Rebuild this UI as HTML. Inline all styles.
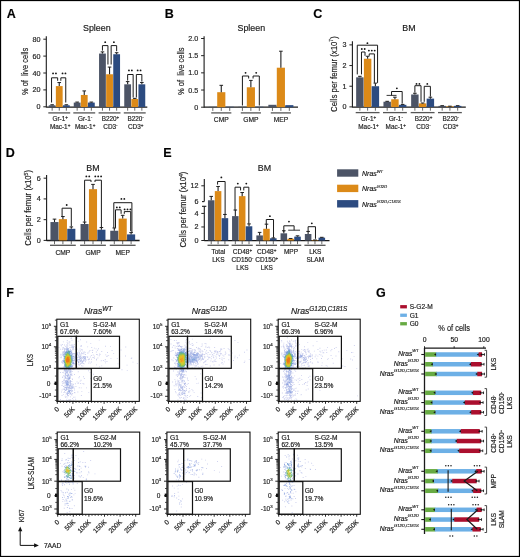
<!DOCTYPE html>
<html><head><meta charset="utf-8"><style>
html,body{margin:0;padding:0;background:#fff;}
body{width:520px;height:557px;overflow:hidden;}
svg{display:block;will-change:transform;}
text{stroke:#222;stroke-width:0.18px;}
</style></head><body>
<svg width="520" height="557" viewBox="0 0 520 557" font-family="Liberation Sans, sans-serif">
<rect x="0" y="0" width="520" height="557" fill="#fff"/>
<text x="6.7" y="17.5" font-family="Liberation Sans" font-size="12.5" fill="#000" text-anchor="start" font-weight="bold" >A</text>
<text x="96.8" y="30.8" font-family="Liberation Sans" font-size="8.9" fill="#1a1a1a" text-anchor="middle" >Spleen</text>
<line x1="46.3" y1="36.2" x2="46.3" y2="107.5" stroke="#1a1a1a" stroke-width="1.1" />
<line x1="43.3" y1="106.8" x2="46.3" y2="106.8" stroke="#222" stroke-width="1.0" />
<text x="40.4" y="109.3" font-family="Liberation Sans" font-size="7.2" fill="#262626" text-anchor="end" >0</text>
<line x1="43.3" y1="89.9" x2="46.3" y2="89.9" stroke="#222" stroke-width="1.0" />
<text x="40.4" y="92.4" font-family="Liberation Sans" font-size="7.2" fill="#262626" text-anchor="end" >20</text>
<line x1="43.3" y1="73" x2="46.3" y2="73" stroke="#222" stroke-width="1.0" />
<text x="40.4" y="75.5" font-family="Liberation Sans" font-size="7.2" fill="#262626" text-anchor="end" >40</text>
<line x1="43.3" y1="56.1" x2="46.3" y2="56.1" stroke="#222" stroke-width="1.0" />
<text x="40.4" y="58.6" font-family="Liberation Sans" font-size="7.2" fill="#262626" text-anchor="end" >60</text>
<line x1="43.3" y1="39.2" x2="46.3" y2="39.2" stroke="#222" stroke-width="1.0" />
<text x="40.4" y="41.7" font-family="Liberation Sans" font-size="7.2" fill="#262626" text-anchor="end" >80</text>
<text transform="translate(27.6,95) rotate(-90)" font-family="Liberation Sans" font-size="9" fill="#262626" text-anchor="start" textLength="47.2" lengthAdjust="spacingAndGlyphs" >% of&#160; live cells</text>
<line x1="46.3" y1="107.2" x2="147.3" y2="107.2" stroke="#1a1a1a" stroke-width="1.3" />
<rect x="48.75" y="105.28" width="6.8" height="1.72" fill="#4c5466" stroke="none" stroke-width="0"/>
<line x1="52.15" y1="105.28" x2="52.15" y2="104.77" stroke="#1f1f1f" stroke-width="1.1" />
<line x1="50.35" y1="104.77" x2="53.95" y2="104.77" stroke="#1f1f1f" stroke-width="1.0" />
<rect x="55.85" y="86.1" width="6.8" height="20.9" fill="#dc8a18" stroke="none" stroke-width="0"/>
<line x1="59.25" y1="86.1" x2="59.25" y2="82.55" stroke="#1f1f1f" stroke-width="1.1" />
<line x1="57.45" y1="82.55" x2="61.05" y2="82.55" stroke="#1f1f1f" stroke-width="1.0" />
<rect x="62.95" y="105.28" width="6.8" height="1.72" fill="#2c4b80" stroke="none" stroke-width="0"/>
<line x1="66.35" y1="105.28" x2="66.35" y2="104.77" stroke="#1f1f1f" stroke-width="1.1" />
<line x1="64.55" y1="104.77" x2="68.15" y2="104.77" stroke="#1f1f1f" stroke-width="1.0" />
<line x1="52.15" y1="107.5" x2="52.15" y2="110.7" stroke="#444" stroke-width="0.8" />
<line x1="59.25" y1="107.5" x2="59.25" y2="110.7" stroke="#444" stroke-width="0.8" />
<line x1="66.35" y1="107.5" x2="66.35" y2="110.7" stroke="#444" stroke-width="0.8" />
<line x1="48.3" y1="112.9" x2="70.2" y2="112.9" stroke="#555" stroke-width="1.3" />
<rect x="73.75" y="102.58" width="6.8" height="4.42" fill="#4c5466" stroke="none" stroke-width="0"/>
<line x1="77.15" y1="102.58" x2="77.15" y2="102.07" stroke="#1f1f1f" stroke-width="1.1" />
<line x1="75.35" y1="102.07" x2="78.95" y2="102.07" stroke="#1f1f1f" stroke-width="1.0" />
<rect x="80.85" y="94.97" width="6.8" height="12.03" fill="#dc8a18" stroke="none" stroke-width="0"/>
<line x1="84.25" y1="94.97" x2="84.25" y2="90.91" stroke="#1f1f1f" stroke-width="1.1" />
<line x1="82.45" y1="90.91" x2="86.05" y2="90.91" stroke="#1f1f1f" stroke-width="1.0" />
<rect x="87.95" y="102.58" width="6.8" height="4.42" fill="#2c4b80" stroke="none" stroke-width="0"/>
<line x1="91.35" y1="102.58" x2="91.35" y2="102.07" stroke="#1f1f1f" stroke-width="1.1" />
<line x1="89.55" y1="102.07" x2="93.15" y2="102.07" stroke="#1f1f1f" stroke-width="1.0" />
<line x1="77.15" y1="107.5" x2="77.15" y2="110.7" stroke="#444" stroke-width="0.8" />
<line x1="84.25" y1="107.5" x2="84.25" y2="110.7" stroke="#444" stroke-width="0.8" />
<line x1="91.35" y1="107.5" x2="91.35" y2="110.7" stroke="#444" stroke-width="0.8" />
<line x1="73.3" y1="112.9" x2="95.2" y2="112.9" stroke="#555" stroke-width="1.3" />
<rect x="99.05" y="53.56" width="6.8" height="53.44" fill="#4c5466" stroke="none" stroke-width="0"/>
<line x1="102.45" y1="53.56" x2="102.45" y2="51.88" stroke="#1f1f1f" stroke-width="1.1" />
<line x1="100.65" y1="51.88" x2="104.25" y2="51.88" stroke="#1f1f1f" stroke-width="1.0" />
<rect x="106.15" y="74.27" width="6.8" height="32.73" fill="#dc8a18" stroke="none" stroke-width="0"/>
<line x1="109.55" y1="74.27" x2="109.55" y2="67.09" stroke="#1f1f1f" stroke-width="1.1" />
<line x1="107.75" y1="67.09" x2="111.35" y2="67.09" stroke="#1f1f1f" stroke-width="1.0" />
<rect x="113.25" y="54.24" width="6.8" height="52.76" fill="#2c4b80" stroke="none" stroke-width="0"/>
<line x1="116.65" y1="54.24" x2="116.65" y2="52.72" stroke="#1f1f1f" stroke-width="1.1" />
<line x1="114.85" y1="52.72" x2="118.45" y2="52.72" stroke="#1f1f1f" stroke-width="1.0" />
<line x1="102.45" y1="107.5" x2="102.45" y2="110.7" stroke="#444" stroke-width="0.8" />
<line x1="109.55" y1="107.5" x2="109.55" y2="110.7" stroke="#444" stroke-width="0.8" />
<line x1="116.65" y1="107.5" x2="116.65" y2="110.7" stroke="#444" stroke-width="0.8" />
<line x1="98.6" y1="112.9" x2="120.5" y2="112.9" stroke="#555" stroke-width="1.3" />
<rect x="124.25" y="84.32" width="6.8" height="22.68" fill="#4c5466" stroke="none" stroke-width="0"/>
<line x1="127.65" y1="84.32" x2="127.65" y2="81.62" stroke="#1f1f1f" stroke-width="1.1" />
<line x1="125.85" y1="81.62" x2="129.45" y2="81.62" stroke="#1f1f1f" stroke-width="1.0" />
<rect x="131.35" y="99.03" width="6.8" height="7.97" fill="#dc8a18" stroke="none" stroke-width="0"/>
<line x1="134.75" y1="99.03" x2="134.75" y2="98.35" stroke="#1f1f1f" stroke-width="1.1" />
<line x1="132.95" y1="98.35" x2="136.55" y2="98.35" stroke="#1f1f1f" stroke-width="1.0" />
<rect x="138.45" y="84.32" width="6.8" height="22.68" fill="#2c4b80" stroke="none" stroke-width="0"/>
<line x1="141.85" y1="84.32" x2="141.85" y2="82.46" stroke="#1f1f1f" stroke-width="1.1" />
<line x1="140.05" y1="82.46" x2="143.65" y2="82.46" stroke="#1f1f1f" stroke-width="1.0" />
<line x1="127.65" y1="107.5" x2="127.65" y2="110.7" stroke="#444" stroke-width="0.8" />
<line x1="134.75" y1="107.5" x2="134.75" y2="110.7" stroke="#444" stroke-width="0.8" />
<line x1="141.85" y1="107.5" x2="141.85" y2="110.7" stroke="#444" stroke-width="0.8" />
<line x1="123.8" y1="112.9" x2="145.7" y2="112.9" stroke="#555" stroke-width="1.3" />
<polyline points="51.55,102.5 51.55,77.8 57.65,77.8 57.65,80.8" fill="none" stroke="#1a1a1a" stroke-width="1.0"/>
<circle cx="53.05" cy="73.4" r="0.92" fill="#161616"/>
<circle cx="55.95" cy="73.4" r="0.92" fill="#161616"/>
<polyline points="60.85,80.8 60.85,77.8 65.75,77.8 65.75,102.5" fill="none" stroke="#1a1a1a" stroke-width="1.0"/>
<circle cx="62.55" cy="73.4" r="0.92" fill="#161616"/>
<circle cx="65.45" cy="73.4" r="0.92" fill="#161616"/>
<polyline points="102.45,50.6 102.45,45.6 107.95,45.6 107.95,64.5" fill="none" stroke="#1a1a1a" stroke-width="1.0"/>
<circle cx="105.2" cy="42.2" r="0.92" fill="#161616"/>
<polyline points="111.15,64.5 111.15,45.6 116.65,45.6 116.65,51.2" fill="none" stroke="#1a1a1a" stroke-width="1.0"/>
<circle cx="113.9" cy="42.2" r="0.92" fill="#161616"/>
<polyline points="127.65,80.6 127.65,74.5 133.15,74.5 133.15,97.5" fill="none" stroke="#1a1a1a" stroke-width="1.0"/>
<circle cx="128.95" cy="70.4" r="0.92" fill="#161616"/>
<circle cx="131.85" cy="70.4" r="0.92" fill="#161616"/>
<polyline points="136.35,97.5 136.35,74.5 141.85,74.5 141.85,81.5" fill="none" stroke="#1a1a1a" stroke-width="1.0"/>
<circle cx="137.65" cy="70.4" r="0.92" fill="#161616"/>
<circle cx="140.55" cy="70.4" r="0.92" fill="#161616"/>
<text x="60.15" y="121.4" font-family="Liberation Sans" font-size="6.4" fill="#262626" text-anchor="middle" >Gr-1<tspan font-size="4.6" dy="-2.3">+</tspan></text>
<text x="60.15" y="128.9" font-family="Liberation Sans" font-size="6.4" fill="#262626" text-anchor="middle" >Mac-1<tspan font-size="4.6" dy="-2.3">+</tspan></text>
<text x="85.15" y="121.4" font-family="Liberation Sans" font-size="6.4" fill="#262626" text-anchor="middle" >Gr-1<tspan font-size="4.6" dy="-2.3">-</tspan></text>
<text x="85.15" y="128.9" font-family="Liberation Sans" font-size="6.4" fill="#262626" text-anchor="middle" >Mac-1<tspan font-size="4.6" dy="-2.3">+</tspan></text>
<text x="110.45" y="121.4" font-family="Liberation Sans" font-size="6.4" fill="#262626" text-anchor="middle" >B220<tspan font-size="4.6" dy="-2.3">+</tspan></text>
<text x="110.45" y="128.9" font-family="Liberation Sans" font-size="6.4" fill="#262626" text-anchor="middle" >CD3<tspan font-size="4.6" dy="-2.3">-</tspan></text>
<text x="135.65" y="121.4" font-family="Liberation Sans" font-size="6.4" fill="#262626" text-anchor="middle" >B220<tspan font-size="4.6" dy="-2.3">-</tspan></text>
<text x="135.65" y="128.9" font-family="Liberation Sans" font-size="6.4" fill="#262626" text-anchor="middle" >CD3<tspan font-size="4.6" dy="-2.3">+</tspan></text>
<text x="164.8" y="17.5" font-family="Liberation Sans" font-size="12.5" fill="#000" text-anchor="start" font-weight="bold" >B</text>
<text x="251.3" y="30.8" font-family="Liberation Sans" font-size="8.9" fill="#1a1a1a" text-anchor="middle" >Spleen</text>
<line x1="204.1" y1="36.2" x2="204.1" y2="107.7" stroke="#1a1a1a" stroke-width="1.1" />
<line x1="201.1" y1="107.2" x2="204.1" y2="107.2" stroke="#222" stroke-width="1.0" />
<text x="198.2" y="109.7" font-family="Liberation Sans" font-size="7.2" fill="#262626" text-anchor="end" >0</text>
<line x1="201.1" y1="90.03" x2="204.1" y2="90.03" stroke="#222" stroke-width="1.0" />
<text x="198.2" y="92.53" font-family="Liberation Sans" font-size="7.2" fill="#262626" text-anchor="end" >0.5</text>
<line x1="201.1" y1="72.85" x2="204.1" y2="72.85" stroke="#222" stroke-width="1.0" />
<text x="198.2" y="75.35" font-family="Liberation Sans" font-size="7.2" fill="#262626" text-anchor="end" >1.0</text>
<line x1="201.1" y1="55.67" x2="204.1" y2="55.67" stroke="#222" stroke-width="1.0" />
<text x="198.2" y="58.17" font-family="Liberation Sans" font-size="7.2" fill="#262626" text-anchor="end" >1.5</text>
<line x1="201.1" y1="38.5" x2="204.1" y2="38.5" stroke="#222" stroke-width="1.0" />
<text x="198.2" y="41" font-family="Liberation Sans" font-size="7.2" fill="#262626" text-anchor="end" >2.0</text>
<text transform="translate(183.6,94.9) rotate(-90)" font-family="Liberation Sans" font-size="9" fill="#262626" text-anchor="start" textLength="47.4" lengthAdjust="spacingAndGlyphs" >% of&#160; live cells</text>
<line x1="204.1" y1="107.2" x2="298" y2="107.2" stroke="#1a1a1a" stroke-width="1.3" />
<rect x="208.75" y="106.79" width="8.15" height="0.41" fill="#4c5466" stroke="none" stroke-width="0"/>
<rect x="217.2" y="92.19" width="8.15" height="15.01" fill="#dc8a18" stroke="none" stroke-width="0"/>
<line x1="221.27" y1="92.19" x2="221.27" y2="85.32" stroke="#1f1f1f" stroke-width="1.1" />
<line x1="219.47" y1="85.32" x2="223.07" y2="85.32" stroke="#1f1f1f" stroke-width="1.0" />
<rect x="225.65" y="106.79" width="8.15" height="0.41" fill="#2c4b80" stroke="none" stroke-width="0"/>
<line x1="212.82" y1="107.7" x2="212.82" y2="110.9" stroke="#444" stroke-width="0.8" />
<line x1="221.27" y1="107.7" x2="221.27" y2="110.9" stroke="#444" stroke-width="0.8" />
<line x1="229.72" y1="107.7" x2="229.72" y2="110.9" stroke="#444" stroke-width="0.8" />
<line x1="211.2" y1="112.9" x2="231.35" y2="112.9" stroke="#555" stroke-width="1.3" />
<rect x="238.35" y="106.79" width="8.15" height="0.41" fill="#4c5466" stroke="none" stroke-width="0"/>
<rect x="246.8" y="87.28" width="8.15" height="19.92" fill="#dc8a18" stroke="none" stroke-width="0"/>
<line x1="250.87" y1="87.28" x2="250.87" y2="80.41" stroke="#1f1f1f" stroke-width="1.1" />
<line x1="249.07" y1="80.41" x2="252.67" y2="80.41" stroke="#1f1f1f" stroke-width="1.0" />
<rect x="255.25" y="106.79" width="8.15" height="0.41" fill="#2c4b80" stroke="none" stroke-width="0"/>
<line x1="242.42" y1="107.7" x2="242.42" y2="110.9" stroke="#444" stroke-width="0.8" />
<line x1="250.87" y1="107.7" x2="250.87" y2="110.9" stroke="#444" stroke-width="0.8" />
<line x1="259.32" y1="107.7" x2="259.32" y2="110.9" stroke="#444" stroke-width="0.8" />
<line x1="240.8" y1="112.9" x2="260.95" y2="112.9" stroke="#555" stroke-width="1.3" />
<rect x="268.35" y="104.8" width="8.15" height="2.4" fill="#4c5466" stroke="none" stroke-width="0"/>
<rect x="276.8" y="67.7" width="8.15" height="39.5" fill="#dc8a18" stroke="none" stroke-width="0"/>
<line x1="280.88" y1="67.7" x2="280.88" y2="51.21" stroke="#1f1f1f" stroke-width="1.1" />
<line x1="279.07" y1="51.21" x2="282.68" y2="51.21" stroke="#1f1f1f" stroke-width="1.0" />
<rect x="285.25" y="105.14" width="8.15" height="2.06" fill="#2c4b80" stroke="none" stroke-width="0"/>
<line x1="272.43" y1="107.7" x2="272.43" y2="110.9" stroke="#444" stroke-width="0.8" />
<line x1="280.88" y1="107.7" x2="280.88" y2="110.9" stroke="#444" stroke-width="0.8" />
<line x1="289.32" y1="107.7" x2="289.32" y2="110.9" stroke="#444" stroke-width="0.8" />
<line x1="270.8" y1="112.9" x2="290.95" y2="112.9" stroke="#555" stroke-width="1.3" />
<polyline points="242.42,105.5 242.42,76 248.67,76 248.67,78.5" fill="none" stroke="#1a1a1a" stroke-width="1.0"/>
<circle cx="245.55" cy="72.8" r="0.92" fill="#161616"/>
<polyline points="253.07,78.5 253.07,76 259.32,76 259.32,105.5" fill="none" stroke="#1a1a1a" stroke-width="1.0"/>
<circle cx="256.2" cy="72.8" r="0.92" fill="#161616"/>
<text x="221.27" y="121.6" font-family="Liberation Sans" font-size="6.7" fill="#262626" text-anchor="middle" >CMP</text>
<text x="250.87" y="121.6" font-family="Liberation Sans" font-size="6.7" fill="#262626" text-anchor="middle" >GMP</text>
<text x="280.88" y="121.6" font-family="Liberation Sans" font-size="6.7" fill="#262626" text-anchor="middle" >MEP</text>
<text x="313.3" y="17.5" font-family="Liberation Sans" font-size="12.5" fill="#000" text-anchor="start" font-weight="bold" >C</text>
<text x="409" y="30.8" font-family="Liberation Sans" font-size="8.9" fill="#1a1a1a" text-anchor="middle" >BM</text>
<line x1="352.4" y1="41.3" x2="352.4" y2="107.5" stroke="#1a1a1a" stroke-width="1.1" />
<line x1="349.4" y1="106.9" x2="352.4" y2="106.9" stroke="#222" stroke-width="1.0" />
<text x="346.5" y="109.4" font-family="Liberation Sans" font-size="7.2" fill="#262626" text-anchor="end" >0</text>
<line x1="349.4" y1="86.23" x2="352.4" y2="86.23" stroke="#222" stroke-width="1.0" />
<text x="346.5" y="88.73" font-family="Liberation Sans" font-size="7.2" fill="#262626" text-anchor="end" >1</text>
<line x1="349.4" y1="65.56" x2="352.4" y2="65.56" stroke="#222" stroke-width="1.0" />
<text x="346.5" y="68.06" font-family="Liberation Sans" font-size="7.2" fill="#262626" text-anchor="end" >2</text>
<line x1="349.4" y1="44.89" x2="352.4" y2="44.89" stroke="#222" stroke-width="1.0" />
<text x="346.5" y="47.39" font-family="Liberation Sans" font-size="7.2" fill="#262626" text-anchor="end" >3</text>
<text transform="translate(336.6,112) rotate(-90)" font-family="Liberation Sans" font-size="9.3" fill="#222" text-anchor="start" textLength="75.8" lengthAdjust="spacingAndGlyphs" >Cells per femur (x10<tspan font-size="6.0" dy="-3.8">7</tspan><tspan dy="3.8">)</tspan></text>
<line x1="352.4" y1="107.1" x2="465.8" y2="107.1" stroke="#1a1a1a" stroke-width="1.3" />
<rect x="356.15" y="77.34" width="7.45" height="29.66" fill="#4c5466" stroke="none" stroke-width="0"/>
<line x1="359.88" y1="77.34" x2="359.88" y2="76.31" stroke="#1f1f1f" stroke-width="1.1" />
<line x1="358.07" y1="76.31" x2="361.68" y2="76.31" stroke="#1f1f1f" stroke-width="1.0" />
<rect x="363.9" y="58.74" width="7.45" height="48.26" fill="#dc8a18" stroke="none" stroke-width="0"/>
<line x1="367.62" y1="58.74" x2="367.62" y2="56.26" stroke="#1f1f1f" stroke-width="1.1" />
<line x1="365.82" y1="56.26" x2="369.43" y2="56.26" stroke="#1f1f1f" stroke-width="1.0" />
<rect x="371.65" y="86.23" width="7.45" height="20.77" fill="#2c4b80" stroke="none" stroke-width="0"/>
<line x1="375.38" y1="86.23" x2="375.38" y2="83.13" stroke="#1f1f1f" stroke-width="1.1" />
<line x1="373.57" y1="83.13" x2="377.18" y2="83.13" stroke="#1f1f1f" stroke-width="1.0" />
<line x1="359.88" y1="107.5" x2="359.88" y2="110.7" stroke="#444" stroke-width="0.8" />
<line x1="367.62" y1="107.5" x2="367.62" y2="110.7" stroke="#444" stroke-width="0.8" />
<line x1="375.38" y1="107.5" x2="375.38" y2="110.7" stroke="#444" stroke-width="0.8" />
<line x1="355.7" y1="112.6" x2="379.55" y2="112.6" stroke="#555" stroke-width="1.3" />
<rect x="383.45" y="101.73" width="7.45" height="5.27" fill="#4c5466" stroke="none" stroke-width="0"/>
<line x1="387.18" y1="101.73" x2="387.18" y2="101.32" stroke="#1f1f1f" stroke-width="1.1" />
<line x1="385.38" y1="101.32" x2="388.98" y2="101.32" stroke="#1f1f1f" stroke-width="1.0" />
<rect x="391.2" y="99.25" width="7.45" height="7.75" fill="#dc8a18" stroke="none" stroke-width="0"/>
<line x1="394.93" y1="99.25" x2="394.93" y2="97.19" stroke="#1f1f1f" stroke-width="1.1" />
<line x1="393.12" y1="97.19" x2="396.73" y2="97.19" stroke="#1f1f1f" stroke-width="1.0" />
<rect x="398.95" y="104.83" width="7.45" height="2.17" fill="#2c4b80" stroke="none" stroke-width="0"/>
<line x1="402.68" y1="104.83" x2="402.68" y2="104.42" stroke="#1f1f1f" stroke-width="1.1" />
<line x1="400.88" y1="104.42" x2="404.48" y2="104.42" stroke="#1f1f1f" stroke-width="1.0" />
<line x1="387.18" y1="107.5" x2="387.18" y2="110.7" stroke="#444" stroke-width="0.8" />
<line x1="394.93" y1="107.5" x2="394.93" y2="110.7" stroke="#444" stroke-width="0.8" />
<line x1="402.68" y1="107.5" x2="402.68" y2="110.7" stroke="#444" stroke-width="0.8" />
<line x1="383" y1="112.6" x2="406.85" y2="112.6" stroke="#555" stroke-width="1.3" />
<rect x="411.15" y="94.5" width="7.45" height="12.5" fill="#4c5466" stroke="none" stroke-width="0"/>
<line x1="414.88" y1="94.5" x2="414.88" y2="93.26" stroke="#1f1f1f" stroke-width="1.1" />
<line x1="413.07" y1="93.26" x2="416.68" y2="93.26" stroke="#1f1f1f" stroke-width="1.0" />
<rect x="418.9" y="103.39" width="7.45" height="3.61" fill="#dc8a18" stroke="none" stroke-width="0"/>
<line x1="422.62" y1="103.39" x2="422.62" y2="102.97" stroke="#1f1f1f" stroke-width="1.1" />
<line x1="420.82" y1="102.97" x2="424.43" y2="102.97" stroke="#1f1f1f" stroke-width="1.0" />
<rect x="426.65" y="98.63" width="7.45" height="8.37" fill="#2c4b80" stroke="none" stroke-width="0"/>
<line x1="430.38" y1="98.63" x2="430.38" y2="97.19" stroke="#1f1f1f" stroke-width="1.1" />
<line x1="428.57" y1="97.19" x2="432.18" y2="97.19" stroke="#1f1f1f" stroke-width="1.0" />
<line x1="414.88" y1="107.5" x2="414.88" y2="110.7" stroke="#444" stroke-width="0.8" />
<line x1="422.62" y1="107.5" x2="422.62" y2="110.7" stroke="#444" stroke-width="0.8" />
<line x1="430.38" y1="107.5" x2="430.38" y2="110.7" stroke="#444" stroke-width="0.8" />
<line x1="410.7" y1="112.6" x2="434.55" y2="112.6" stroke="#555" stroke-width="1.3" />
<rect x="438.45" y="105.87" width="7.45" height="1.13" fill="#4c5466" stroke="none" stroke-width="0"/>
<line x1="442.18" y1="105.87" x2="442.18" y2="105.66" stroke="#1f1f1f" stroke-width="1.1" />
<line x1="440.38" y1="105.66" x2="443.98" y2="105.66" stroke="#1f1f1f" stroke-width="1.0" />
<rect x="446.2" y="106.38" width="7.45" height="0.62" fill="#dc8a18" stroke="none" stroke-width="0"/>
<line x1="449.93" y1="106.38" x2="449.93" y2="106.18" stroke="#1f1f1f" stroke-width="1.1" />
<line x1="448.12" y1="106.18" x2="451.73" y2="106.18" stroke="#1f1f1f" stroke-width="1.0" />
<rect x="453.95" y="105.87" width="7.45" height="1.13" fill="#2c4b80" stroke="none" stroke-width="0"/>
<line x1="457.68" y1="105.87" x2="457.68" y2="105.66" stroke="#1f1f1f" stroke-width="1.1" />
<line x1="455.88" y1="105.66" x2="459.48" y2="105.66" stroke="#1f1f1f" stroke-width="1.0" />
<line x1="442.18" y1="107.5" x2="442.18" y2="110.7" stroke="#444" stroke-width="0.8" />
<line x1="449.93" y1="107.5" x2="449.93" y2="110.7" stroke="#444" stroke-width="0.8" />
<line x1="457.68" y1="107.5" x2="457.68" y2="110.7" stroke="#444" stroke-width="0.8" />
<line x1="438" y1="112.6" x2="461.85" y2="112.6" stroke="#555" stroke-width="1.3" />
<polyline points="357.27,74.4 357.27,45.2 377.57,45.2 377.57,82.9" fill="none" stroke="#1a1a1a" stroke-width="1.0"/>
<circle cx="367.42" cy="43.2" r="0.92" fill="#161616"/>
<polyline points="361.48,74.4 361.48,52 365.02,52 365.02,55.8" fill="none" stroke="#1a1a1a" stroke-width="1.0"/>
<circle cx="361.8" cy="49" r="0.92" fill="#161616"/>
<circle cx="364.7" cy="49" r="0.92" fill="#161616"/>
<polyline points="369.23,55.8 369.23,53.9 374.38,53.9 374.38,82.9" fill="none" stroke="#1a1a1a" stroke-width="1.0"/>
<circle cx="368.9" cy="50.6" r="0.92" fill="#161616"/>
<circle cx="371.8" cy="50.6" r="0.92" fill="#161616"/>
<circle cx="374.7" cy="50.6" r="0.92" fill="#161616"/>
<line x1="386.57" y1="95.4" x2="396.53" y2="95.4" stroke="#222" stroke-width="0.9" />
<polyline points="391.55,95.4 391.55,91.5 402.18,91.5 402.18,103.6" fill="none" stroke="#1a1a1a" stroke-width="1.0"/>
<circle cx="396.86" cy="88.3" r="0.92" fill="#161616"/>
<polyline points="414.88,92.6 414.88,85.7 421.02,85.7 421.02,101.8" fill="none" stroke="#1a1a1a" stroke-width="1.0"/>
<circle cx="416.5" cy="83.9" r="0.92" fill="#161616"/>
<circle cx="419.4" cy="83.9" r="0.92" fill="#161616"/>
<polyline points="424.23,101.8 424.23,86.3 430.38,86.3 430.38,96.6" fill="none" stroke="#1a1a1a" stroke-width="1.0"/>
<circle cx="427.3" cy="83.9" r="0.92" fill="#161616"/>
<text x="368.52" y="121.4" font-family="Liberation Sans" font-size="6.4" fill="#262626" text-anchor="middle" >Gr-1<tspan font-size="4.6" dy="-2.3">+</tspan></text>
<text x="368.52" y="128.9" font-family="Liberation Sans" font-size="6.4" fill="#262626" text-anchor="middle" >Mac-1<tspan font-size="4.6" dy="-2.3">+</tspan></text>
<text x="395.82" y="121.4" font-family="Liberation Sans" font-size="6.4" fill="#262626" text-anchor="middle" >Gr-1<tspan font-size="4.6" dy="-2.3">-</tspan></text>
<text x="395.82" y="128.9" font-family="Liberation Sans" font-size="6.4" fill="#262626" text-anchor="middle" >Mac-1<tspan font-size="4.6" dy="-2.3">+</tspan></text>
<text x="423.52" y="121.4" font-family="Liberation Sans" font-size="6.4" fill="#262626" text-anchor="middle" >B220<tspan font-size="4.6" dy="-2.3">+</tspan></text>
<text x="423.52" y="128.9" font-family="Liberation Sans" font-size="6.4" fill="#262626" text-anchor="middle" >CD3<tspan font-size="4.6" dy="-2.3">-</tspan></text>
<text x="450.82" y="121.4" font-family="Liberation Sans" font-size="6.4" fill="#262626" text-anchor="middle" >B220<tspan font-size="4.6" dy="-2.3">-</tspan></text>
<text x="450.82" y="128.9" font-family="Liberation Sans" font-size="6.4" fill="#262626" text-anchor="middle" >CD3<tspan font-size="4.6" dy="-2.3">+</tspan></text>
<text x="5.8" y="157" font-family="Liberation Sans" font-size="12.5" fill="#000" text-anchor="start" font-weight="bold" >D</text>
<text x="93" y="170.5" font-family="Liberation Sans" font-size="8.9" fill="#1a1a1a" text-anchor="middle" >BM</text>
<line x1="46.6" y1="174.9" x2="46.6" y2="240.9" stroke="#1a1a1a" stroke-width="1.1" />
<line x1="43.6" y1="240.4" x2="46.6" y2="240.4" stroke="#222" stroke-width="1.0" />
<text x="40.7" y="242.9" font-family="Liberation Sans" font-size="7.2" fill="#262626" text-anchor="end" >0</text>
<line x1="43.6" y1="219.66" x2="46.6" y2="219.66" stroke="#222" stroke-width="1.0" />
<text x="40.7" y="222.16" font-family="Liberation Sans" font-size="7.2" fill="#262626" text-anchor="end" >2</text>
<line x1="43.6" y1="198.92" x2="46.6" y2="198.92" stroke="#222" stroke-width="1.0" />
<text x="40.7" y="201.42" font-family="Liberation Sans" font-size="7.2" fill="#262626" text-anchor="end" >4</text>
<line x1="43.6" y1="178.18" x2="46.6" y2="178.18" stroke="#222" stroke-width="1.0" />
<text x="40.7" y="180.68" font-family="Liberation Sans" font-size="7.2" fill="#262626" text-anchor="end" >6</text>
<text transform="translate(31.3,245.7) rotate(-90)" font-family="Liberation Sans" font-size="9.3" fill="#222" text-anchor="start" textLength="75.7" lengthAdjust="spacingAndGlyphs" >Cells per femur (x10<tspan font-size="6.0" dy="-3.8">5</tspan><tspan dy="3.8">)</tspan></text>
<line x1="46.6" y1="240.5" x2="139.6" y2="240.5" stroke="#1a1a1a" stroke-width="1.3" />
<rect x="50.45" y="222.05" width="8.1" height="18.35" fill="#4c5466" stroke="none" stroke-width="0"/>
<line x1="54.5" y1="222.05" x2="54.5" y2="219.14" stroke="#1f1f1f" stroke-width="1.1" />
<line x1="52.7" y1="219.14" x2="56.3" y2="219.14" stroke="#1f1f1f" stroke-width="1.0" />
<rect x="58.85" y="219.14" width="8.1" height="21.26" fill="#dc8a18" stroke="none" stroke-width="0"/>
<line x1="62.9" y1="219.14" x2="62.9" y2="216.55" stroke="#1f1f1f" stroke-width="1.1" />
<line x1="61.1" y1="216.55" x2="64.7" y2="216.55" stroke="#1f1f1f" stroke-width="1.0" />
<rect x="67.25" y="228.79" width="8.1" height="11.61" fill="#2c4b80" stroke="none" stroke-width="0"/>
<line x1="71.3" y1="228.79" x2="71.3" y2="226.92" stroke="#1f1f1f" stroke-width="1.1" />
<line x1="69.5" y1="226.92" x2="73.1" y2="226.92" stroke="#1f1f1f" stroke-width="1.0" />
<line x1="54.5" y1="241" x2="54.5" y2="244.2" stroke="#444" stroke-width="0.8" />
<line x1="62.9" y1="241" x2="62.9" y2="244.2" stroke="#444" stroke-width="0.8" />
<line x1="71.3" y1="241" x2="71.3" y2="244.2" stroke="#444" stroke-width="0.8" />
<line x1="50" y1="245.3" x2="75.8" y2="245.3" stroke="#555" stroke-width="1.3" />
<rect x="80.55" y="224.02" width="8.1" height="16.38" fill="#4c5466" stroke="none" stroke-width="0"/>
<line x1="84.6" y1="224.02" x2="84.6" y2="222.05" stroke="#1f1f1f" stroke-width="1.1" />
<line x1="82.8" y1="222.05" x2="86.4" y2="222.05" stroke="#1f1f1f" stroke-width="1.0" />
<rect x="88.95" y="189.17" width="8.1" height="51.23" fill="#dc8a18" stroke="none" stroke-width="0"/>
<line x1="93" y1="189.17" x2="93" y2="184.4" stroke="#1f1f1f" stroke-width="1.1" />
<line x1="91.2" y1="184.4" x2="94.8" y2="184.4" stroke="#1f1f1f" stroke-width="1.0" />
<rect x="97.35" y="229.72" width="8.1" height="10.68" fill="#2c4b80" stroke="none" stroke-width="0"/>
<line x1="101.4" y1="229.72" x2="101.4" y2="227.54" stroke="#1f1f1f" stroke-width="1.1" />
<line x1="99.6" y1="227.54" x2="103.2" y2="227.54" stroke="#1f1f1f" stroke-width="1.0" />
<line x1="84.6" y1="241" x2="84.6" y2="244.2" stroke="#444" stroke-width="0.8" />
<line x1="93" y1="241" x2="93" y2="244.2" stroke="#444" stroke-width="0.8" />
<line x1="101.4" y1="241" x2="101.4" y2="244.2" stroke="#444" stroke-width="0.8" />
<line x1="80.1" y1="245.3" x2="105.9" y2="245.3" stroke="#555" stroke-width="1.3" />
<rect x="110.25" y="230.76" width="8.1" height="9.64" fill="#4c5466" stroke="none" stroke-width="0"/>
<line x1="114.3" y1="230.76" x2="114.3" y2="227.96" stroke="#1f1f1f" stroke-width="1.1" />
<line x1="112.5" y1="227.96" x2="116.1" y2="227.96" stroke="#1f1f1f" stroke-width="1.0" />
<rect x="118.65" y="218.62" width="8.1" height="21.78" fill="#dc8a18" stroke="none" stroke-width="0"/>
<line x1="122.7" y1="218.62" x2="122.7" y2="215.3" stroke="#1f1f1f" stroke-width="1.1" />
<line x1="120.9" y1="215.3" x2="124.5" y2="215.3" stroke="#1f1f1f" stroke-width="1.0" />
<rect x="127.05" y="234.39" width="8.1" height="6.01" fill="#2c4b80" stroke="none" stroke-width="0"/>
<line x1="131.1" y1="234.39" x2="131.1" y2="232.62" stroke="#1f1f1f" stroke-width="1.1" />
<line x1="129.3" y1="232.62" x2="132.9" y2="232.62" stroke="#1f1f1f" stroke-width="1.0" />
<line x1="114.3" y1="241" x2="114.3" y2="244.2" stroke="#444" stroke-width="0.8" />
<line x1="122.7" y1="241" x2="122.7" y2="244.2" stroke="#444" stroke-width="0.8" />
<line x1="131.1" y1="241" x2="131.1" y2="244.2" stroke="#444" stroke-width="0.8" />
<line x1="109.8" y1="245.3" x2="135.6" y2="245.3" stroke="#555" stroke-width="1.3" />
<polyline points="62.1,216.5 62.1,208.2 71.3,208.2 71.3,226.4" fill="none" stroke="#1a1a1a" stroke-width="1.0"/>
<circle cx="66.7" cy="205" r="0.92" fill="#161616"/>
<polyline points="84.6,221.7 84.6,180.2 91,180.2 91,182" fill="none" stroke="#1a1a1a" stroke-width="1.0"/>
<circle cx="86.35" cy="176.4" r="0.92" fill="#161616"/>
<circle cx="89.25" cy="176.4" r="0.92" fill="#161616"/>
<polyline points="95,182 95,180.2 101.4,180.2 101.4,227" fill="none" stroke="#1a1a1a" stroke-width="1.0"/>
<circle cx="95.3" cy="176.4" r="0.92" fill="#161616"/>
<circle cx="98.2" cy="176.4" r="0.92" fill="#161616"/>
<circle cx="101.1" cy="176.4" r="0.92" fill="#161616"/>
<polyline points="113.8,227.8 113.8,202.7 131.9,202.7 131.9,232.4" fill="none" stroke="#1a1a1a" stroke-width="1.0"/>
<circle cx="121.4" cy="198.9" r="0.92" fill="#161616"/>
<circle cx="124.3" cy="198.9" r="0.92" fill="#161616"/>
<polyline points="115.5,227.8 115.5,209.8 121.1,209.8 121.1,213.8" fill="none" stroke="#1a1a1a" stroke-width="1.0"/>
<circle cx="116.85" cy="207.4" r="0.92" fill="#161616"/>
<circle cx="119.75" cy="207.4" r="0.92" fill="#161616"/>
<polyline points="124.3,213.8 124.3,211.6 130.7,211.6 130.7,231.2" fill="none" stroke="#1a1a1a" stroke-width="1.0"/>
<circle cx="124.6" cy="209.4" r="0.92" fill="#161616"/>
<circle cx="127.5" cy="209.4" r="0.92" fill="#161616"/>
<circle cx="130.4" cy="209.4" r="0.92" fill="#161616"/>
<text x="62.9" y="254.6" font-family="Liberation Sans" font-size="6.7" fill="#262626" text-anchor="middle" >CMP</text>
<text x="93" y="254.6" font-family="Liberation Sans" font-size="6.7" fill="#262626" text-anchor="middle" >GMP</text>
<text x="122.7" y="254.6" font-family="Liberation Sans" font-size="6.7" fill="#262626" text-anchor="middle" >MEP</text>
<text x="163.2" y="157" font-family="Liberation Sans" font-size="12.5" fill="#000" text-anchor="start" font-weight="bold" >E</text>
<text x="264.5" y="170.5" font-family="Liberation Sans" font-size="8.9" fill="#1a1a1a" text-anchor="middle" >BM</text>
<line x1="204.3" y1="178.9" x2="204.3" y2="201.6" stroke="#1a1a1a" stroke-width="1.1" />
<line x1="204.3" y1="206.3" x2="204.3" y2="241" stroke="#1a1a1a" stroke-width="1.1" />
<line x1="202" y1="201.6" x2="204.3" y2="201.6" stroke="#1a1a1a" stroke-width="1.1" />
<line x1="202" y1="206.3" x2="206.3" y2="206.3" stroke="#1a1a1a" stroke-width="1.1" />
<line x1="201.3" y1="240.5" x2="204.3" y2="240.5" stroke="#222" stroke-width="1.0" />
<text x="198.4" y="243" font-family="Liberation Sans" font-size="7.2" fill="#262626" text-anchor="end" >0</text>
<line x1="201.3" y1="226.96" x2="204.3" y2="226.96" stroke="#222" stroke-width="1.0" />
<text x="198.4" y="229.46" font-family="Liberation Sans" font-size="7.2" fill="#262626" text-anchor="end" >2</text>
<line x1="201.3" y1="213.42" x2="204.3" y2="213.42" stroke="#222" stroke-width="1.0" />
<text x="198.4" y="215.92" font-family="Liberation Sans" font-size="7.2" fill="#262626" text-anchor="end" >4</text>
<line x1="201.3" y1="185.8" x2="204.3" y2="185.8" stroke="#222" stroke-width="1.0" />
<text x="198.4" y="188.3" font-family="Liberation Sans" font-size="7.2" fill="#262626" text-anchor="end" >12</text>
<text x="198.4" y="203.8" font-family="Liberation Sans" font-size="7.2" fill="#262626" text-anchor="end" >6</text>
<text transform="translate(186.3,247.6) rotate(-90)" font-family="Liberation Sans" font-size="9.3" fill="#222" text-anchor="start" textLength="76.1" lengthAdjust="spacingAndGlyphs" >Cells per femur (x10<tspan font-size="6.0" dy="-3.8">4</tspan><tspan dy="3.8">)</tspan></text>
<line x1="204.3" y1="240.6" x2="329.5" y2="240.6" stroke="#1a1a1a" stroke-width="1.3" />
<rect x="207.95" y="200.27" width="6.55" height="40.23" fill="#4c5466" stroke="none" stroke-width="0"/>
<line x1="211.23" y1="200.27" x2="211.23" y2="196.4" stroke="#1f1f1f" stroke-width="1.1" />
<line x1="209.43" y1="196.4" x2="213.03" y2="196.4" stroke="#1f1f1f" stroke-width="1.0" />
<rect x="214.8" y="191.11" width="6.55" height="49.39" fill="#dc8a18" stroke="none" stroke-width="0"/>
<line x1="218.08" y1="191.11" x2="218.08" y2="186.47" stroke="#1f1f1f" stroke-width="1.1" />
<line x1="216.28" y1="186.47" x2="219.88" y2="186.47" stroke="#1f1f1f" stroke-width="1.0" />
<rect x="221.65" y="218.16" width="6.55" height="22.34" fill="#2c4b80" stroke="none" stroke-width="0"/>
<line x1="224.93" y1="218.16" x2="224.93" y2="214.44" stroke="#1f1f1f" stroke-width="1.1" />
<line x1="223.12" y1="214.44" x2="226.73" y2="214.44" stroke="#1f1f1f" stroke-width="1.0" />
<line x1="211.23" y1="241" x2="211.23" y2="244.2" stroke="#444" stroke-width="0.8" />
<line x1="218.08" y1="241" x2="218.08" y2="244.2" stroke="#444" stroke-width="0.8" />
<line x1="224.93" y1="241" x2="224.93" y2="244.2" stroke="#444" stroke-width="0.8" />
<line x1="207.5" y1="245.3" x2="228.65" y2="245.3" stroke="#555" stroke-width="1.3" />
<rect x="232.05" y="216.13" width="6.55" height="24.37" fill="#4c5466" stroke="none" stroke-width="0"/>
<line x1="235.33" y1="216.13" x2="235.33" y2="210.03" stroke="#1f1f1f" stroke-width="1.1" />
<line x1="233.53" y1="210.03" x2="237.13" y2="210.03" stroke="#1f1f1f" stroke-width="1.0" />
<rect x="238.9" y="196.14" width="6.55" height="44.36" fill="#dc8a18" stroke="none" stroke-width="0"/>
<line x1="242.18" y1="196.14" x2="242.18" y2="192.53" stroke="#1f1f1f" stroke-width="1.1" />
<line x1="240.38" y1="192.53" x2="243.98" y2="192.53" stroke="#1f1f1f" stroke-width="1.0" />
<rect x="245.75" y="226.28" width="6.55" height="14.22" fill="#2c4b80" stroke="none" stroke-width="0"/>
<line x1="249.03" y1="226.28" x2="249.03" y2="223.91" stroke="#1f1f1f" stroke-width="1.1" />
<line x1="247.22" y1="223.91" x2="250.83" y2="223.91" stroke="#1f1f1f" stroke-width="1.0" />
<line x1="235.33" y1="241" x2="235.33" y2="244.2" stroke="#444" stroke-width="0.8" />
<line x1="242.18" y1="241" x2="242.18" y2="244.2" stroke="#444" stroke-width="0.8" />
<line x1="249.03" y1="241" x2="249.03" y2="244.2" stroke="#444" stroke-width="0.8" />
<line x1="231.6" y1="245.3" x2="252.75" y2="245.3" stroke="#555" stroke-width="1.3" />
<rect x="256.35" y="235.42" width="6.55" height="5.08" fill="#4c5466" stroke="none" stroke-width="0"/>
<line x1="259.62" y1="235.42" x2="259.62" y2="232.38" stroke="#1f1f1f" stroke-width="1.1" />
<line x1="257.82" y1="232.38" x2="261.43" y2="232.38" stroke="#1f1f1f" stroke-width="1.0" />
<rect x="263.2" y="228.79" width="6.55" height="11.71" fill="#dc8a18" stroke="none" stroke-width="0"/>
<line x1="266.48" y1="228.79" x2="266.48" y2="224.18" stroke="#1f1f1f" stroke-width="1.1" />
<line x1="264.68" y1="224.18" x2="268.28" y2="224.18" stroke="#1f1f1f" stroke-width="1.0" />
<rect x="270.05" y="238.27" width="6.55" height="2.23" fill="#2c4b80" stroke="none" stroke-width="0"/>
<line x1="273.32" y1="238.27" x2="273.32" y2="237.93" stroke="#1f1f1f" stroke-width="1.1" />
<line x1="271.52" y1="237.93" x2="275.12" y2="237.93" stroke="#1f1f1f" stroke-width="1.0" />
<line x1="259.62" y1="241" x2="259.62" y2="244.2" stroke="#444" stroke-width="0.8" />
<line x1="266.48" y1="241" x2="266.48" y2="244.2" stroke="#444" stroke-width="0.8" />
<line x1="273.32" y1="241" x2="273.32" y2="244.2" stroke="#444" stroke-width="0.8" />
<line x1="255.9" y1="245.3" x2="277.05" y2="245.3" stroke="#555" stroke-width="1.3" />
<rect x="280.55" y="233.32" width="6.55" height="7.18" fill="#4c5466" stroke="none" stroke-width="0"/>
<line x1="283.82" y1="233.32" x2="283.82" y2="230.75" stroke="#1f1f1f" stroke-width="1.1" />
<line x1="282.02" y1="230.75" x2="285.62" y2="230.75" stroke="#1f1f1f" stroke-width="1.0" />
<rect x="287.4" y="238.81" width="6.55" height="1.69" fill="#dc8a18" stroke="none" stroke-width="0"/>
<line x1="290.68" y1="238.81" x2="290.68" y2="238.47" stroke="#1f1f1f" stroke-width="1.1" />
<line x1="288.88" y1="238.47" x2="292.48" y2="238.47" stroke="#1f1f1f" stroke-width="1.0" />
<rect x="294.25" y="236.64" width="6.55" height="3.86" fill="#2c4b80" stroke="none" stroke-width="0"/>
<line x1="297.52" y1="236.64" x2="297.52" y2="235.83" stroke="#1f1f1f" stroke-width="1.1" />
<line x1="295.72" y1="235.83" x2="299.32" y2="235.83" stroke="#1f1f1f" stroke-width="1.0" />
<line x1="283.82" y1="241" x2="283.82" y2="244.2" stroke="#444" stroke-width="0.8" />
<line x1="290.68" y1="241" x2="290.68" y2="244.2" stroke="#444" stroke-width="0.8" />
<line x1="297.52" y1="241" x2="297.52" y2="244.2" stroke="#444" stroke-width="0.8" />
<line x1="280.1" y1="245.3" x2="301.25" y2="245.3" stroke="#555" stroke-width="1.3" />
<rect x="304.85" y="234" width="6.55" height="6.5" fill="#4c5466" stroke="none" stroke-width="0"/>
<line x1="308.12" y1="234" x2="308.12" y2="231.43" stroke="#1f1f1f" stroke-width="1.1" />
<line x1="306.32" y1="231.43" x2="309.93" y2="231.43" stroke="#1f1f1f" stroke-width="1.0" />
<rect x="311.7" y="240.09" width="6.55" height="0.41" fill="#dc8a18" stroke="none" stroke-width="0"/>
<line x1="314.98" y1="240.09" x2="314.98" y2="239.96" stroke="#1f1f1f" stroke-width="1.1" />
<line x1="313.18" y1="239.96" x2="316.78" y2="239.96" stroke="#1f1f1f" stroke-width="1.0" />
<rect x="318.55" y="237.66" width="6.55" height="2.84" fill="#2c4b80" stroke="none" stroke-width="0"/>
<line x1="321.82" y1="237.66" x2="321.82" y2="237.32" stroke="#1f1f1f" stroke-width="1.1" />
<line x1="320.02" y1="237.32" x2="323.62" y2="237.32" stroke="#1f1f1f" stroke-width="1.0" />
<line x1="308.12" y1="241" x2="308.12" y2="244.2" stroke="#444" stroke-width="0.8" />
<line x1="314.98" y1="241" x2="314.98" y2="244.2" stroke="#444" stroke-width="0.8" />
<line x1="321.82" y1="241" x2="321.82" y2="244.2" stroke="#444" stroke-width="0.8" />
<line x1="304.4" y1="245.3" x2="325.55" y2="245.3" stroke="#555" stroke-width="1.3" />
<polyline points="217.58,184.6 217.58,181.5 225.12,181.5 225.12,214.6" fill="none" stroke="#1a1a1a" stroke-width="1.0"/>
<circle cx="221.35" cy="177.4" r="0.92" fill="#161616"/>
<polyline points="235.03,210.3 235.03,187.2 240.58,187.2 240.58,190.4" fill="none" stroke="#1a1a1a" stroke-width="1.0"/>
<circle cx="237.8" cy="183.6" r="0.92" fill="#161616"/>
<polyline points="243.78,190.4 243.78,187.2 248.83,187.2 248.83,223.8" fill="none" stroke="#1a1a1a" stroke-width="1.0"/>
<circle cx="246.3" cy="183.6" r="0.92" fill="#161616"/>
<polyline points="266.28,224.2 266.28,219.5 273.52,219.5 273.52,237.7" fill="none" stroke="#1a1a1a" stroke-width="1.0"/>
<circle cx="269.9" cy="216.2" r="0.92" fill="#161616"/>
<line x1="288.18" y1="230.2" x2="300.02" y2="230.2" stroke="#222" stroke-width="0.9" />
<polyline points="283.82,231.9 283.82,225.8 294.1,225.8 294.1,230.2" fill="none" stroke="#1a1a1a" stroke-width="1.0"/>
<circle cx="288.96" cy="221.6" r="0.92" fill="#161616"/>
<polyline points="308.12,231.4 308.12,226.7 315.48,226.7 315.48,238.8" fill="none" stroke="#1a1a1a" stroke-width="1.0"/>
<circle cx="311.8" cy="223.3" r="0.92" fill="#161616"/>
<text x="218.38" y="254.1" font-family="Liberation Sans" font-size="6.5" fill="#262626" text-anchor="middle" >Total</text>
<text x="218.38" y="261.8" font-family="Liberation Sans" font-size="6.5" fill="#262626" text-anchor="middle" >LKS</text>
<text x="242.48" y="254.1" font-family="Liberation Sans" font-size="6.5" fill="#262626" text-anchor="middle" >CD48<tspan font-size="4.6" dy="-2.3">+</tspan></text>
<text x="242.48" y="261.8" font-family="Liberation Sans" font-size="6.5" fill="#262626" text-anchor="middle" >CD150<tspan font-size="4.6" dy="-2.3">-</tspan></text>
<text x="242.48" y="269.5" font-family="Liberation Sans" font-size="6.5" fill="#262626" text-anchor="middle" >LKS</text>
<text x="266.78" y="254.1" font-family="Liberation Sans" font-size="6.5" fill="#262626" text-anchor="middle" >CD48<tspan font-size="4.6" dy="-2.3">+</tspan></text>
<text x="266.78" y="261.8" font-family="Liberation Sans" font-size="6.5" fill="#262626" text-anchor="middle" >CD150<tspan font-size="4.6" dy="-2.3">+</tspan></text>
<text x="266.78" y="269.5" font-family="Liberation Sans" font-size="6.5" fill="#262626" text-anchor="middle" >LKS</text>
<text x="290.98" y="254.1" font-family="Liberation Sans" font-size="6.5" fill="#262626" text-anchor="middle" >MPP</text>
<text x="315.28" y="254.1" font-family="Liberation Sans" font-size="6.5" fill="#262626" text-anchor="middle" >LKS</text>
<text x="315.28" y="261.8" font-family="Liberation Sans" font-size="6.5" fill="#262626" text-anchor="middle" >SLAM</text>
<rect x="337.1" y="169.3" width="21.2" height="7.4" fill="#4c5466" stroke="none" stroke-width="0"/>
<text x="362" y="175.7" font-family="Liberation Sans" font-size="7.0" fill="#222" text-anchor="start" font-style="italic" >Nras<tspan font-size="4.0" dy="-3.1" fill="#444">WT</tspan></text>
<rect x="337.1" y="184.7" width="21.2" height="7.4" fill="#dc8a18" stroke="none" stroke-width="0"/>
<text x="362" y="191.1" font-family="Liberation Sans" font-size="7.0" fill="#222" text-anchor="start" font-style="italic" >Nras<tspan font-size="4.0" dy="-3.1" fill="#444">G12D</tspan></text>
<rect x="337.1" y="200.1" width="21.2" height="7.4" fill="#2c4b80" stroke="none" stroke-width="0"/>
<text x="362" y="206.5" font-family="Liberation Sans" font-size="7.0" fill="#222" text-anchor="start" font-style="italic" >Nras<tspan font-size="4.0" dy="-3.1" fill="#444">G12D,C181S</tspan></text>
<text x="6.3" y="297.2" font-family="Liberation Sans" font-size="12.5" fill="#000" text-anchor="start" font-weight="bold" >F</text>
<text x="98.05" y="314.2" font-family="Liberation Sans" font-size="8.7" fill="#1a1a1a" text-anchor="middle" font-style="italic" >Nras<tspan font-size="6.4" dy="-3.0">WT</tspan></text>
<text x="209.35" y="314.2" font-family="Liberation Sans" font-size="8.7" fill="#1a1a1a" text-anchor="middle" font-style="italic" >Nras<tspan font-size="6.4" dy="-3.0">G12D</tspan></text>
<text x="319.2" y="314.2" font-family="Liberation Sans" font-size="8.7" fill="#1a1a1a" text-anchor="middle" font-style="italic" >Nras<tspan font-size="6.4" dy="-3.0">G12D,C181S</tspan></text>
<path d="M63.8 377.5h.9v.9h-.9zM62.2 372.2h.9v.9h-.9zM61.5 362.2h.9v.9h-.9zM62.6 351.0h.9v.9h-.9zM73.1 369.1h.9v.9h-.9zM76.4 366.1h.9v.9h-.9zM61.4 361.3h.9v.9h-.9zM60.3 354.6h.9v.9h-.9zM67.2 343.2h.9v.9h-.9zM74.1 353.0h.9v.9h-.9zM72.7 349.3h.9v.9h-.9zM75.9 366.7h.9v.9h-.9zM67.3 346.2h.9v.9h-.9zM70.6 345.1h.9v.9h-.9zM60.6 357.3h.9v.9h-.9zM62.7 351.3h.9v.9h-.9zM69.2 346.9h.9v.9h-.9zM73.5 368.9h.9v.9h-.9zM66.9 344.8h.9v.9h-.9zM64.6 377.7h.9v.9h-.9zM60.5 353.8h.9v.9h-.9zM59.8 356.7h.9v.9h-.9zM70.2 347.4h.9v.9h-.9zM61.0 356.5h.9v.9h-.9zM72.4 369.2h.9v.9h-.9zM61.7 360.8h.9v.9h-.9zM65.3 346.2h.9v.9h-.9zM60.2 348.8h.9v.9h-.9zM72.7 348.5h.9v.9h-.9zM74.8 364.9h.9v.9h-.9zM88.8 358.2h.9v.9h-.9zM79.2 352.8h.9v.9h-.9zM83.0 362.9h.9v.9h-.9zM79.9 363.9h.9v.9h-.9zM83.6 353.5h.9v.9h-.9zM88.1 359.3h.9v.9h-.9zM84.9 361.3h.9v.9h-.9zM88.7 361.4h.9v.9h-.9zM79.6 348.6h.9v.9h-.9zM81.5 353.3h.9v.9h-.9zM81.0 353.3h.9v.9h-.9zM80.4 362.7h.9v.9h-.9zM78.5 364.3h.9v.9h-.9zM84.2 351.4h.9v.9h-.9zM74.8 360.5h.9v.9h-.9zM81.0 365.3h.9v.9h-.9zM85.4 359.3h.9v.9h-.9zM78.9 354.2h.9v.9h-.9zM84.6 360.3h.9v.9h-.9zM84.6 352.0h.9v.9h-.9zM83.0 360.6h.9v.9h-.9zM78.5 362.3h.9v.9h-.9zM83.0 352.4h.9v.9h-.9zM78.8 364.8h.9v.9h-.9zM81.6 349.7h.9v.9h-.9zM87.8 359.0h.9v.9h-.9zM81.9 349.6h.9v.9h-.9zM88.2 370.3h.9v.9h-.9zM89.9 356.5h.9v.9h-.9zM78.2 363.7h.9v.9h-.9zM80.3 353.8h.9v.9h-.9zM80.3 363.1h.9v.9h-.9zM89.0 359.2h.9v.9h-.9zM78.1 362.3h.9v.9h-.9zM82.4 365.6h.9v.9h-.9zM76.3 363.5h.9v.9h-.9zM87.9 358.9h.9v.9h-.9zM83.7 363.4h.9v.9h-.9zM88.7 351.3h.9v.9h-.9zM87.2 355.9h.9v.9h-.9zM82.4 353.2h.9v.9h-.9zM88.2 362.7h.9v.9h-.9zM98.0 348.3h.9v.9h-.9zM82.5 351.4h.9v.9h-.9zM105.3 354.4h.9v.9h-.9zM92.3 357.2h.9v.9h-.9zM91.1 361.5h.9v.9h-.9zM97.4 357.5h.9v.9h-.9zM120.6 349.6h.9v.9h-.9zM85.8 359.7h.9v.9h-.9zM71.9 348.7h.9v.9h-.9zM105.1 359.2h.9v.9h-.9zM110.5 357.9h.9v.9h-.9zM104.7 359.4h.9v.9h-.9zM96.0 359.6h.9v.9h-.9zM91.0 358.8h.9v.9h-.9zM113.2 352.9h.9v.9h-.9zM101.3 365.4h.9v.9h-.9zM73.4 345.8h.9v.9h-.9zM105.1 362.4h.9v.9h-.9zM106.4 356.0h.9v.9h-.9zM73.2 353.2h.9v.9h-.9zM74.8 348.9h.9v.9h-.9zM107.1 352.1h.9v.9h-.9zM92.1 352.0h.9v.9h-.9zM86.2 341.6h.9v.9h-.9zM87.2 357.0h.9v.9h-.9zM105.0 345.8h.9v.9h-.9zM89.5 350.1h.9v.9h-.9zM80.3 345.9h.9v.9h-.9zM99.2 366.4h.9v.9h-.9zM90.9 355.0h.9v.9h-.9zM93.9 357.8h.9v.9h-.9zM94.1 355.7h.9v.9h-.9zM92.8 354.5h.9v.9h-.9zM91.8 350.0h.9v.9h-.9zM96.0 364.4h.9v.9h-.9zM96.0 358.7h.9v.9h-.9zM95.6 348.4h.9v.9h-.9zM93.4 357.1h.9v.9h-.9zM101.3 351.1h.9v.9h-.9zM93.9 347.7h.9v.9h-.9zM110.1 346.2h.9v.9h-.9zM87.6 352.5h.9v.9h-.9zM87.2 346.4h.9v.9h-.9zM111.6 350.0h.9v.9h-.9zM96.2 354.0h.9v.9h-.9zM91.3 347.1h.9v.9h-.9zM97.1 349.8h.9v.9h-.9zM76.3 363.9h.9v.9h-.9zM85.0 354.1h.9v.9h-.9zM89.8 362.7h.9v.9h-.9zM106.5 361.0h.9v.9h-.9zM102.9 360.0h.9v.9h-.9zM95.9 351.5h.9v.9h-.9zM99.2 353.5h.9v.9h-.9zM90.9 361.6h.9v.9h-.9zM100.8 360.3h.9v.9h-.9zM92.3 349.7h.9v.9h-.9zM98.8 339.7h.9v.9h-.9zM98.8 355.3h.9v.9h-.9zM87.2 352.7h.9v.9h-.9zM90.3 343.2h.9v.9h-.9zM104.6 361.2h.9v.9h-.9zM116.8 358.2h.9v.9h-.9zM87.4 352.4h.9v.9h-.9zM106.8 355.6h.9v.9h-.9zM108.2 355.2h.9v.9h-.9zM99.7 354.2h.9v.9h-.9zM81.1 352.2h.9v.9h-.9zM96.9 354.3h.9v.9h-.9zM70.8 344.6h.9v.9h-.9zM65.8 345.6h.9v.9h-.9zM61.1 345.4h.9v.9h-.9zM78.5 350.5h.9v.9h-.9zM80.1 339.3h.9v.9h-.9zM60.5 344.5h.9v.9h-.9zM75.5 348.5h.9v.9h-.9zM77.0 337.6h.9v.9h-.9zM73.8 344.0h.9v.9h-.9zM74.2 334.6h.9v.9h-.9zM80.1 350.6h.9v.9h-.9zM81.1 345.5h.9v.9h-.9zM63.2 347.0h.9v.9h-.9zM58.5 347.2h.9v.9h-.9zM66.8 340.0h.9v.9h-.9zM66.7 341.8h.9v.9h-.9zM66.5 343.9h.9v.9h-.9zM69.4 341.5h.9v.9h-.9zM62.1 349.2h.9v.9h-.9zM68.7 341.4h.9v.9h-.9zM80.6 344.9h.9v.9h-.9zM73.1 346.6h.9v.9h-.9zM75.1 347.3h.9v.9h-.9zM70.9 337.5h.9v.9h-.9zM68.8 344.6h.9v.9h-.9zM61.9 344.1h.9v.9h-.9zM72.2 344.4h.9v.9h-.9zM62.1 347.6h.9v.9h-.9zM70.9 344.4h.9v.9h-.9zM64.1 344.5h.9v.9h-.9zM65.5 345.9h.9v.9h-.9zM71.5 339.8h.9v.9h-.9zM73.8 345.9h.9v.9h-.9zM70.7 338.2h.9v.9h-.9zM68.6 342.7h.9v.9h-.9zM70.6 338.0h.9v.9h-.9zM77.8 340.8h.9v.9h-.9zM62.9 341.4h.9v.9h-.9zM81.3 349.1h.9v.9h-.9zM76.8 348.7h.9v.9h-.9zM63.3 385.9h.9v.9h-.9zM62.5 375.9h.9v.9h-.9zM72.4 383.5h.9v.9h-.9zM62.5 380.9h.9v.9h-.9zM63.8 382.2h.9v.9h-.9zM71.7 375.2h.9v.9h-.9zM63.7 388.9h.9v.9h-.9zM63.6 370.7h.9v.9h-.9zM66.6 397.4h.9v.9h-.9zM63.4 375.1h.9v.9h-.9zM63.1 386.0h.9v.9h-.9zM61.5 385.0h.9v.9h-.9zM63.3 372.3h.9v.9h-.9zM62.9 393.9h.9v.9h-.9zM71.4 373.6h.9v.9h-.9zM63.7 369.7h.9v.9h-.9zM71.9 371.2h.9v.9h-.9zM63.3 380.0h.9v.9h-.9zM71.3 381.0h.9v.9h-.9zM62.2 381.0h.9v.9h-.9zM76.6 381.4h.9v.9h-.9zM63.5 383.1h.9v.9h-.9zM71.4 394.6h.9v.9h-.9zM72.1 379.2h.9v.9h-.9zM63.0 386.0h.9v.9h-.9zM64.1 390.9h.9v.9h-.9zM66.4 396.2h.9v.9h-.9zM63.5 392.0h.9v.9h-.9zM60.0 372.0h.9v.9h-.9zM66.1 399.5h.9v.9h-.9zM62.2 383.3h.9v.9h-.9zM61.7 381.5h.9v.9h-.9zM61.6 389.6h.9v.9h-.9zM62.0 377.1h.9v.9h-.9zM71.9 378.6h.9v.9h-.9zM63.4 375.1h.9v.9h-.9zM63.7 379.0h.9v.9h-.9zM73.0 384.3h.9v.9h-.9zM61.7 385.1h.9v.9h-.9zM71.9 392.9h.9v.9h-.9zM67.1 395.1h.9v.9h-.9zM68.1 395.3h.9v.9h-.9zM73.6 386.6h.9v.9h-.9zM70.3 399.7h.9v.9h-.9zM61.0 391.6h.9v.9h-.9zM72.6 384.1h.9v.9h-.9zM75.2 398.8h.9v.9h-.9zM81.4 391.2h.9v.9h-.9zM65.7 393.8h.9v.9h-.9zM74.4 391.9h.9v.9h-.9zM64.7 392.2h.9v.9h-.9zM72.1 397.9h.9v.9h-.9zM64.8 395.8h.9v.9h-.9zM61.6 395.0h.9v.9h-.9zM74.6 396.7h.9v.9h-.9zM62.8 388.5h.9v.9h-.9zM67.8 394.9h.9v.9h-.9zM79.0 375.9h.9v.9h-.9zM74.0 392.2h.9v.9h-.9zM73.8 387.9h.9v.9h-.9zM74.1 389.6h.9v.9h-.9zM71.4 381.2h.9v.9h-.9zM67.2 399.9h.9v.9h-.9zM70.0 396.4h.9v.9h-.9zM72.1 390.2h.9v.9h-.9zM69.1 399.8h.9v.9h-.9zM80.6 379.8h.9v.9h-.9zM62.6 399.9h.9v.9h-.9zM71.3 394.0h.9v.9h-.9zM69.6 399.0h.9v.9h-.9zM67.9 399.6h.9v.9h-.9zM63.3 382.2h.9v.9h-.9zM72.2 393.2h.9v.9h-.9zM63.4 380.2h.9v.9h-.9zM73.3 396.8h.9v.9h-.9zM60.1 399.1h.9v.9h-.9zM90.4 378.0h.9v.9h-.9zM83.0 376.3h.9v.9h-.9zM90.9 384.3h.9v.9h-.9zM88.3 392.2h.9v.9h-.9zM82.5 382.9h.9v.9h-.9zM77.5 382.8h.9v.9h-.9zM77.8 371.3h.9v.9h-.9zM74.4 392.3h.9v.9h-.9zM80.8 387.4h.9v.9h-.9zM80.9 395.0h.9v.9h-.9zM74.1 374.0h.9v.9h-.9zM83.4 383.5h.9v.9h-.9zM74.9 383.3h.9v.9h-.9zM75.5 386.1h.9v.9h-.9zM78.2 382.6h.9v.9h-.9zM77.4 391.6h.9v.9h-.9zM83.9 378.0h.9v.9h-.9zM78.5 377.3h.9v.9h-.9zM76.3 367.9h.9v.9h-.9zM79.7 380.7h.9v.9h-.9zM72.8 399.6h.9v.9h-.9zM80.2 383.1h.9v.9h-.9zM65.1 397.2h.9v.9h-.9zM78.8 387.3h.9v.9h-.9zM93.1 373.8h.9v.9h-.9zM89.7 371.9h.9v.9h-.9zM86.0 387.4h.9v.9h-.9zM117.5 363.4h.9v.9h-.9zM132.5 361.7h.9v.9h-.9zM126.8 369.9h.9v.9h-.9zM121.5 369.3h.9v.9h-.9zM119.2 356.4h.9v.9h-.9zM131.3 357.5h.9v.9h-.9zM126.6 364.7h.9v.9h-.9zM136.9 363.2h.9v.9h-.9zM125.3 346.6h.9v.9h-.9zM130.8 358.0h.9v.9h-.9zM125.0 355.6h.9v.9h-.9z" fill="rgb(90, 100, 200)" fill-opacity="0.32"/><path d="M68.3 348.5h.9v.9h-.9zM66.1 372.3h.9v.9h-.9zM62.7 360.3h.9v.9h-.9zM66.5 351.5h.9v.9h-.9zM66.4 370.4h.9v.9h-.9zM65.3 373.5h.9v.9h-.9zM68.1 369.4h.9v.9h-.9zM68.2 348.1h.9v.9h-.9zM64.7 367.5h.9v.9h-.9zM73.4 363.0h.9v.9h-.9zM71.7 358.8h.9v.9h-.9zM63.8 348.3h.9v.9h-.9zM70.3 368.8h.9v.9h-.9zM63.9 351.6h.9v.9h-.9zM65.4 369.6h.9v.9h-.9zM73.5 360.0h.9v.9h-.9zM69.1 369.5h.9v.9h-.9zM75.1 355.7h.9v.9h-.9zM71.6 368.6h.9v.9h-.9zM65.9 370.6h.9v.9h-.9zM71.4 357.4h.9v.9h-.9zM75.0 355.8h.9v.9h-.9zM72.6 353.3h.9v.9h-.9zM66.1 348.5h.9v.9h-.9zM64.3 349.6h.9v.9h-.9zM73.0 360.2h.9v.9h-.9zM65.6 348.4h.9v.9h-.9zM63.7 350.9h.9v.9h-.9zM75.9 359.8h.9v.9h-.9zM65.8 348.4h.9v.9h-.9zM61.8 354.6h.9v.9h-.9zM66.4 347.1h.9v.9h-.9zM64.7 348.6h.9v.9h-.9zM70.0 349.3h.9v.9h-.9zM74.8 358.6h.9v.9h-.9zM64.0 368.7h.9v.9h-.9zM74.8 361.3h.9v.9h-.9zM62.5 354.7h.9v.9h-.9zM67.0 348.4h.9v.9h-.9zM73.4 356.0h.9v.9h-.9zM64.5 351.5h.9v.9h-.9zM72.9 363.0h.9v.9h-.9zM69.7 377.2h.9v.9h-.9zM62.3 354.4h.9v.9h-.9zM66.4 347.7h.9v.9h-.9zM69.6 372.1h.9v.9h-.9zM62.4 361.7h.9v.9h-.9zM67.6 370.4h.9v.9h-.9zM70.1 374.6h.9v.9h-.9zM71.2 352.1h.9v.9h-.9zM65.3 348.4h.9v.9h-.9zM65.2 370.8h.9v.9h-.9zM71.9 346.7h.9v.9h-.9zM72.1 366.4h.9v.9h-.9zM64.7 369.0h.9v.9h-.9zM63.0 351.9h.9v.9h-.9zM62.1 352.6h.9v.9h-.9zM71.0 346.7h.9v.9h-.9zM73.0 356.7h.9v.9h-.9zM73.1 361.8h.9v.9h-.9zM62.9 366.6h.9v.9h-.9zM71.4 352.6h.9v.9h-.9zM70.9 352.9h.9v.9h-.9zM72.2 367.9h.9v.9h-.9zM65.7 350.7h.9v.9h-.9zM64.5 348.6h.9v.9h-.9zM62.4 362.8h.9v.9h-.9zM67.1 347.7h.9v.9h-.9zM64.0 369.7h.9v.9h-.9zM62.3 359.9h.9v.9h-.9zM71.8 346.3h.9v.9h-.9zM72.7 353.7h.9v.9h-.9zM66.0 375.2h.9v.9h-.9zM73.8 363.5h.9v.9h-.9zM63.3 348.4h.9v.9h-.9zM64.7 370.5h.9v.9h-.9zM82.3 356.4h.9v.9h-.9zM80.1 361.1h.9v.9h-.9zM75.5 355.1h.9v.9h-.9zM75.2 353.2h.9v.9h-.9zM84.4 358.3h.9v.9h-.9zM85.4 356.3h.9v.9h-.9zM81.7 358.2h.9v.9h-.9zM79.2 358.5h.9v.9h-.9zM74.6 353.9h.9v.9h-.9zM84.1 356.4h.9v.9h-.9zM74.8 363.0h.9v.9h-.9zM81.7 360.6h.9v.9h-.9zM79.6 358.7h.9v.9h-.9zM80.0 358.2h.9v.9h-.9zM74.4 356.9h.9v.9h-.9zM77.7 360.7h.9v.9h-.9zM80.4 357.9h.9v.9h-.9zM80.2 357.6h.9v.9h-.9zM82.3 362.4h.9v.9h-.9zM83.4 356.1h.9v.9h-.9zM79.7 355.6h.9v.9h-.9zM80.5 360.0h.9v.9h-.9zM84.8 357.7h.9v.9h-.9zM77.9 356.5h.9v.9h-.9zM77.2 357.4h.9v.9h-.9zM80.1 360.5h.9v.9h-.9zM75.0 357.4h.9v.9h-.9zM75.9 361.8h.9v.9h-.9zM78.3 354.9h.9v.9h-.9zM79.5 359.6h.9v.9h-.9zM72.1 353.2h.9v.9h-.9zM85.0 357.3h.9v.9h-.9zM77.8 360.7h.9v.9h-.9zM83.0 356.6h.9v.9h-.9zM83.5 358.8h.9v.9h-.9zM76.8 359.6h.9v.9h-.9zM72.1 366.4h.9v.9h-.9zM76.2 354.0h.9v.9h-.9zM77.5 354.4h.9v.9h-.9zM78.8 359.2h.9v.9h-.9zM76.3 352.9h.9v.9h-.9zM74.0 360.2h.9v.9h-.9zM83.4 360.1h.9v.9h-.9zM83.1 357.1h.9v.9h-.9zM82.2 362.6h.9v.9h-.9zM79.7 355.6h.9v.9h-.9zM74.7 357.8h.9v.9h-.9zM80.9 360.4h.9v.9h-.9zM83.9 357.7h.9v.9h-.9zM73.9 356.4h.9v.9h-.9zM78.7 352.3h.9v.9h-.9zM81.6 357.6h.9v.9h-.9zM75.4 364.0h.9v.9h-.9zM82.3 361.0h.9v.9h-.9zM75.0 356.8h.9v.9h-.9zM77.1 352.8h.9v.9h-.9zM80.9 357.2h.9v.9h-.9zM76.9 360.7h.9v.9h-.9zM73.0 356.2h.9v.9h-.9zM76.1 356.5h.9v.9h-.9zM85.1 358.6h.9v.9h-.9zM81.1 359.3h.9v.9h-.9zM83.4 359.0h.9v.9h-.9zM74.7 362.7h.9v.9h-.9zM85.0 356.6h.9v.9h-.9zM77.0 354.0h.9v.9h-.9zM80.9 362.6h.9v.9h-.9zM75.7 362.4h.9v.9h-.9zM80.6 355.5h.9v.9h-.9zM76.4 353.4h.9v.9h-.9zM72.7 364.6h.9v.9h-.9zM76.8 357.2h.9v.9h-.9zM83.5 357.5h.9v.9h-.9zM74.8 355.3h.9v.9h-.9zM78.5 361.0h.9v.9h-.9zM80.5 360.6h.9v.9h-.9zM76.5 358.5h.9v.9h-.9zM78.2 360.9h.9v.9h-.9zM72.0 353.4h.9v.9h-.9zM81.7 361.2h.9v.9h-.9zM76.3 358.4h.9v.9h-.9zM77.2 360.1h.9v.9h-.9zM76.4 355.0h.9v.9h-.9zM84.1 357.5h.9v.9h-.9zM77.7 359.1h.9v.9h-.9zM78.9 356.4h.9v.9h-.9zM76.4 356.3h.9v.9h-.9zM83.8 355.9h.9v.9h-.9zM74.7 354.7h.9v.9h-.9zM75.9 362.2h.9v.9h-.9zM79.0 356.8h.9v.9h-.9zM79.8 357.5h.9v.9h-.9zM73.5 358.5h.9v.9h-.9zM76.9 354.0h.9v.9h-.9zM78.2 362.0h.9v.9h-.9zM81.9 361.5h.9v.9h-.9zM76.5 352.3h.9v.9h-.9zM83.8 358.3h.9v.9h-.9zM73.9 358.8h.9v.9h-.9zM71.4 350.5h.9v.9h-.9zM77.2 352.6h.9v.9h-.9zM73.9 356.6h.9v.9h-.9zM72.1 354.1h.9v.9h-.9zM79.7 356.4h.9v.9h-.9zM64.1 349.9h.9v.9h-.9zM67.2 348.6h.9v.9h-.9zM65.9 349.0h.9v.9h-.9zM72.6 347.1h.9v.9h-.9zM72.4 345.4h.9v.9h-.9zM72.7 347.6h.9v.9h-.9zM66.6 371.7h.9v.9h-.9zM66.3 377.8h.9v.9h-.9zM69.1 391.0h.9v.9h-.9zM68.5 390.1h.9v.9h-.9zM65.7 370.7h.9v.9h-.9zM69.9 380.0h.9v.9h-.9zM69.2 377.0h.9v.9h-.9zM67.8 393.1h.9v.9h-.9zM65.8 387.1h.9v.9h-.9zM69.4 391.2h.9v.9h-.9zM68.9 386.8h.9v.9h-.9zM66.0 379.7h.9v.9h-.9zM66.2 389.1h.9v.9h-.9zM64.8 373.2h.9v.9h-.9zM70.6 374.8h.9v.9h-.9zM64.5 386.4h.9v.9h-.9zM65.6 372.2h.9v.9h-.9zM69.1 385.8h.9v.9h-.9zM64.8 374.6h.9v.9h-.9zM67.4 379.2h.9v.9h-.9zM70.6 370.2h.9v.9h-.9zM66.2 384.8h.9v.9h-.9zM69.1 378.4h.9v.9h-.9zM70.4 385.9h.9v.9h-.9zM70.2 377.7h.9v.9h-.9zM69.7 376.1h.9v.9h-.9zM64.5 376.1h.9v.9h-.9zM69.9 392.7h.9v.9h-.9zM66.6 377.7h.9v.9h-.9zM66.7 380.3h.9v.9h-.9zM70.9 388.4h.9v.9h-.9zM71.2 388.6h.9v.9h-.9zM67.6 375.3h.9v.9h-.9zM70.1 369.7h.9v.9h-.9zM67.1 385.3h.9v.9h-.9zM70.1 373.5h.9v.9h-.9zM70.1 380.7h.9v.9h-.9zM69.6 382.4h.9v.9h-.9zM69.8 381.2h.9v.9h-.9zM66.1 389.5h.9v.9h-.9zM71.4 388.0h.9v.9h-.9zM69.9 380.7h.9v.9h-.9zM69.9 368.4h.9v.9h-.9zM67.0 376.3h.9v.9h-.9zM66.3 370.6h.9v.9h-.9zM68.2 387.0h.9v.9h-.9zM69.7 371.9h.9v.9h-.9zM65.2 372.6h.9v.9h-.9zM71.5 390.4h.9v.9h-.9zM66.7 375.2h.9v.9h-.9zM65.7 387.7h.9v.9h-.9zM68.8 372.4h.9v.9h-.9zM69.8 388.0h.9v.9h-.9zM66.4 388.4h.9v.9h-.9zM66.4 392.9h.9v.9h-.9zM68.6 379.3h.9v.9h-.9zM69.8 383.7h.9v.9h-.9zM66.9 392.0h.9v.9h-.9zM69.6 392.4h.9v.9h-.9zM65.3 374.9h.9v.9h-.9zM67.7 387.1h.9v.9h-.9zM66.9 374.9h.9v.9h-.9zM68.0 374.7h.9v.9h-.9zM67.7 378.4h.9v.9h-.9zM67.7 379.1h.9v.9h-.9zM65.7 385.2h.9v.9h-.9zM66.7 375.7h.9v.9h-.9zM68.3 376.7h.9v.9h-.9zM66.4 386.2h.9v.9h-.9zM68.5 370.5h.9v.9h-.9zM64.6 389.6h.9v.9h-.9zM67.0 371.0h.9v.9h-.9zM66.4 384.6h.9v.9h-.9zM65.2 370.3h.9v.9h-.9zM66.6 387.8h.9v.9h-.9zM69.0 378.1h.9v.9h-.9zM70.2 382.8h.9v.9h-.9zM68.8 375.4h.9v.9h-.9zM68.3 376.9h.9v.9h-.9zM68.7 381.7h.9v.9h-.9zM68.6 375.3h.9v.9h-.9zM66.7 392.3h.9v.9h-.9zM65.3 382.9h.9v.9h-.9zM67.4 384.6h.9v.9h-.9zM70.7 371.7h.9v.9h-.9zM69.5 377.5h.9v.9h-.9zM69.8 389.7h.9v.9h-.9zM64.9 381.5h.9v.9h-.9zM67.9 373.7h.9v.9h-.9zM65.3 380.4h.9v.9h-.9zM70.1 381.5h.9v.9h-.9zM68.8 376.8h.9v.9h-.9zM68.4 387.5h.9v.9h-.9zM65.9 389.5h.9v.9h-.9zM70.4 370.5h.9v.9h-.9zM66.8 380.1h.9v.9h-.9zM66.6 369.9h.9v.9h-.9zM67.8 379.7h.9v.9h-.9zM67.0 380.9h.9v.9h-.9zM64.2 389.2h.9v.9h-.9zM70.7 373.8h.9v.9h-.9zM70.6 371.3h.9v.9h-.9zM67.2 393.1h.9v.9h-.9zM70.9 383.6h.9v.9h-.9zM68.5 373.7h.9v.9h-.9zM64.9 380.8h.9v.9h-.9zM65.0 376.6h.9v.9h-.9zM64.4 380.3h.9v.9h-.9zM65.6 380.2h.9v.9h-.9zM71.2 391.4h.9v.9h-.9zM64.4 384.7h.9v.9h-.9zM67.5 377.7h.9v.9h-.9zM70.1 385.1h.9v.9h-.9zM68.6 379.7h.9v.9h-.9zM69.8 387.7h.9v.9h-.9zM65.3 381.6h.9v.9h-.9zM67.0 372.1h.9v.9h-.9zM68.4 378.9h.9v.9h-.9zM69.7 392.5h.9v.9h-.9zM65.3 374.8h.9v.9h-.9zM67.3 370.6h.9v.9h-.9zM69.1 385.0h.9v.9h-.9zM69.9 381.2h.9v.9h-.9zM67.8 385.0h.9v.9h-.9zM68.2 389.8h.9v.9h-.9zM68.2 383.7h.9v.9h-.9zM65.2 373.3h.9v.9h-.9zM68.3 381.0h.9v.9h-.9zM67.4 375.7h.9v.9h-.9zM64.9 381.8h.9v.9h-.9zM65.8 389.6h.9v.9h-.9zM65.9 380.8h.9v.9h-.9zM68.3 381.5h.9v.9h-.9zM68.0 378.7h.9v.9h-.9zM65.2 377.0h.9v.9h-.9zM65.3 377.9h.9v.9h-.9zM70.1 393.0h.9v.9h-.9zM66.6 377.8h.9v.9h-.9zM68.6 380.7h.9v.9h-.9zM67.4 374.3h.9v.9h-.9zM69.6 371.1h.9v.9h-.9zM68.5 388.9h.9v.9h-.9zM66.7 389.2h.9v.9h-.9zM70.3 392.9h.9v.9h-.9zM66.8 384.5h.9v.9h-.9zM64.1 387.6h.9v.9h-.9zM68.7 388.0h.9v.9h-.9zM68.0 373.8h.9v.9h-.9zM65.3 374.5h.9v.9h-.9zM71.6 385.1h.9v.9h-.9zM65.7 371.8h.9v.9h-.9zM71.2 387.0h.9v.9h-.9zM65.4 382.7h.9v.9h-.9zM66.5 386.8h.9v.9h-.9zM68.3 388.2h.9v.9h-.9zM71.5 391.1h.9v.9h-.9zM68.7 378.3h.9v.9h-.9zM69.6 392.1h.9v.9h-.9zM67.1 393.5h.9v.9h-.9zM67.7 386.6h.9v.9h-.9zM71.4 387.2h.9v.9h-.9zM69.5 386.9h.9v.9h-.9zM72.4 386.0h.9v.9h-.9zM69.0 390.1h.9v.9h-.9zM69.9 384.7h.9v.9h-.9zM67.0 394.1h.9v.9h-.9zM68.3 392.9h.9v.9h-.9zM65.9 388.5h.9v.9h-.9zM70.2 387.8h.9v.9h-.9zM67.0 393.1h.9v.9h-.9zM67.3 391.2h.9v.9h-.9zM67.5 386.8h.9v.9h-.9zM70.4 385.7h.9v.9h-.9zM69.8 384.0h.9v.9h-.9zM69.1 390.5h.9v.9h-.9zM65.8 387.7h.9v.9h-.9zM70.5 386.1h.9v.9h-.9zM72.3 387.5h.9v.9h-.9zM66.8 393.1h.9v.9h-.9zM70.3 393.3h.9v.9h-.9zM66.0 389.2h.9v.9h-.9zM64.9 384.7h.9v.9h-.9zM72.2 386.5h.9v.9h-.9zM70.5 390.1h.9v.9h-.9zM69.6 390.0h.9v.9h-.9zM69.2 387.2h.9v.9h-.9zM70.9 386.1h.9v.9h-.9zM69.4 393.7h.9v.9h-.9zM72.7 387.3h.9v.9h-.9zM65.0 390.1h.9v.9h-.9zM71.8 387.2h.9v.9h-.9zM66.9 372.8h.9v.9h-.9zM69.7 377.3h.9v.9h-.9zM64.9 387.0h.9v.9h-.9zM79.1 359.7h.9v.9h-.9z" fill="rgb(85, 108, 204)" fill-opacity="0.43"/><path d="M70.9 365.2h.9v.9h-.9zM70.0 367.7h.9v.9h-.9zM67.8 368.8h.9v.9h-.9zM64.6 353.7h.9v.9h-.9zM70.2 354.4h.9v.9h-.9zM64.1 353.9h.9v.9h-.9zM69.8 352.5h.9v.9h-.9zM64.3 355.9h.9v.9h-.9zM69.4 368.8h.9v.9h-.9zM64.6 352.7h.9v.9h-.9zM63.6 355.4h.9v.9h-.9zM71.0 366.2h.9v.9h-.9zM64.2 353.3h.9v.9h-.9zM71.4 363.9h.9v.9h-.9zM64.0 366.1h.9v.9h-.9zM67.6 369.0h.9v.9h-.9zM66.5 350.0h.9v.9h-.9zM67.4 351.5h.9v.9h-.9zM70.7 353.3h.9v.9h-.9zM64.4 366.2h.9v.9h-.9zM70.1 350.4h.9v.9h-.9zM63.4 360.0h.9v.9h-.9zM64.2 362.2h.9v.9h-.9zM63.7 361.9h.9v.9h-.9zM71.9 360.2h.9v.9h-.9zM63.3 354.5h.9v.9h-.9zM66.1 350.7h.9v.9h-.9zM71.4 362.2h.9v.9h-.9zM68.4 353.5h.9v.9h-.9zM64.7 366.4h.9v.9h-.9zM72.1 362.6h.9v.9h-.9zM66.9 353.2h.9v.9h-.9zM71.6 357.3h.9v.9h-.9zM63.4 354.4h.9v.9h-.9zM71.0 355.1h.9v.9h-.9zM63.5 361.3h.9v.9h-.9zM67.9 368.3h.9v.9h-.9zM66.0 368.8h.9v.9h-.9zM72.6 355.6h.9v.9h-.9zM72.2 360.9h.9v.9h-.9zM71.8 357.7h.9v.9h-.9zM72.7 363.0h.9v.9h-.9zM71.7 366.1h.9v.9h-.9zM71.8 358.0h.9v.9h-.9zM67.2 349.6h.9v.9h-.9zM70.8 352.0h.9v.9h-.9zM68.5 350.9h.9v.9h-.9zM63.5 360.9h.9v.9h-.9zM70.7 365.8h.9v.9h-.9zM70.7 350.4h.9v.9h-.9zM62.9 353.6h.9v.9h-.9zM67.1 349.3h.9v.9h-.9zM63.8 362.9h.9v.9h-.9zM72.6 362.2h.9v.9h-.9zM69.0 366.3h.9v.9h-.9zM72.0 357.5h.9v.9h-.9zM71.5 360.9h.9v.9h-.9zM71.4 365.7h.9v.9h-.9zM69.8 351.2h.9v.9h-.9zM68.2 349.7h.9v.9h-.9zM71.6 365.7h.9v.9h-.9zM63.4 356.3h.9v.9h-.9zM66.2 350.9h.9v.9h-.9zM65.1 352.0h.9v.9h-.9zM63.1 360.6h.9v.9h-.9zM72.1 359.4h.9v.9h-.9zM64.5 366.3h.9v.9h-.9zM63.5 355.3h.9v.9h-.9zM65.5 366.2h.9v.9h-.9zM72.2 363.2h.9v.9h-.9zM69.9 350.5h.9v.9h-.9zM72.1 358.0h.9v.9h-.9zM72.2 363.1h.9v.9h-.9zM64.1 364.6h.9v.9h-.9zM72.7 355.8h.9v.9h-.9zM64.7 352.8h.9v.9h-.9zM70.6 351.0h.9v.9h-.9zM70.0 365.8h.9v.9h-.9zM67.6 368.5h.9v.9h-.9zM71.2 365.3h.9v.9h-.9zM64.1 366.5h.9v.9h-.9zM72.3 359.5h.9v.9h-.9zM70.2 355.8h.9v.9h-.9zM67.4 353.5h.9v.9h-.9zM69.5 352.4h.9v.9h-.9zM66.5 351.2h.9v.9h-.9zM71.2 354.5h.9v.9h-.9zM71.0 355.2h.9v.9h-.9zM66.9 349.4h.9v.9h-.9zM69.1 351.9h.9v.9h-.9zM63.0 361.2h.9v.9h-.9zM71.7 365.1h.9v.9h-.9zM70.6 350.8h.9v.9h-.9zM69.6 352.8h.9v.9h-.9zM64.7 354.0h.9v.9h-.9zM67.4 367.7h.9v.9h-.9zM72.3 360.2h.9v.9h-.9zM64.2 353.5h.9v.9h-.9zM64.7 359.0h.9v.9h-.9zM70.8 366.8h.9v.9h-.9zM63.6 353.4h.9v.9h-.9zM64.1 364.4h.9v.9h-.9zM72.5 361.3h.9v.9h-.9zM64.5 352.6h.9v.9h-.9zM64.8 351.6h.9v.9h-.9zM63.4 354.0h.9v.9h-.9zM63.7 358.0h.9v.9h-.9zM63.7 358.7h.9v.9h-.9zM72.0 362.2h.9v.9h-.9zM72.8 357.9h.9v.9h-.9zM72.6 356.3h.9v.9h-.9zM72.4 359.4h.9v.9h-.9zM72.2 356.0h.9v.9h-.9zM72.0 355.6h.9v.9h-.9zM71.5 359.5h.9v.9h-.9zM68.7 351.1h.9v.9h-.9zM63.7 360.3h.9v.9h-.9zM70.0 353.1h.9v.9h-.9zM67.9 349.5h.9v.9h-.9zM66.6 349.8h.9v.9h-.9zM66.3 382.6h.9v.9h-.9zM66.1 382.4h.9v.9h-.9zM72.7 362.0h.9v.9h-.9zM68.5 382.7h.9v.9h-.9zM71.1 366.7h.9v.9h-.9zM67.3 384.0h.9v.9h-.9zM68.3 390.7h.9v.9h-.9zM66.3 384.0h.9v.9h-.9zM65.9 383.5h.9v.9h-.9zM67.0 381.5h.9v.9h-.9zM65.7 367.7h.9v.9h-.9zM66.9 367.5h.9v.9h-.9zM66.2 383.6h.9v.9h-.9zM66.8 382.8h.9v.9h-.9zM67.1 381.3h.9v.9h-.9zM68.7 377.4h.9v.9h-.9zM68.1 382.4h.9v.9h-.9zM67.7 384.1h.9v.9h-.9zM63.4 358.8h.9v.9h-.9zM68.8 391.8h.9v.9h-.9zM67.0 383.6h.9v.9h-.9zM66.2 381.9h.9v.9h-.9zM67.5 382.2h.9v.9h-.9zM68.0 382.6h.9v.9h-.9zM69.1 368.7h.9v.9h-.9zM66.6 381.3h.9v.9h-.9zM67.1 382.8h.9v.9h-.9zM68.1 390.8h.9v.9h-.9zM68.3 391.1h.9v.9h-.9zM68.6 378.0h.9v.9h-.9zM67.7 382.4h.9v.9h-.9zM68.5 390.9h.9v.9h-.9zM68.8 390.7h.9v.9h-.9zM66.7 382.7h.9v.9h-.9zM68.2 391.5h.9v.9h-.9z" fill="rgb(81, 116, 208)" fill-opacity="0.54"/><path d="M69.1 367.6h.9v.9h-.9zM64.6 357.7h.9v.9h-.9zM69.2 351.2h.9v.9h-.9zM66.5 367.8h.9v.9h-.9zM70.4 364.9h.9v.9h-.9zM69.7 366.3h.9v.9h-.9zM69.3 351.5h.9v.9h-.9zM64.2 361.0h.9v.9h-.9zM66.2 367.1h.9v.9h-.9zM69.4 366.3h.9v.9h-.9zM68.0 365.5h.9v.9h-.9zM64.5 357.7h.9v.9h-.9zM65.4 362.4h.9v.9h-.9zM63.9 355.5h.9v.9h-.9zM68.9 368.1h.9v.9h-.9zM66.7 352.8h.9v.9h-.9zM65.3 352.4h.9v.9h-.9zM68.5 366.5h.9v.9h-.9zM64.1 364.8h.9v.9h-.9zM69.0 368.0h.9v.9h-.9zM66.5 352.5h.9v.9h-.9zM70.0 363.8h.9v.9h-.9zM70.6 354.7h.9v.9h-.9zM68.8 353.4h.9v.9h-.9zM70.6 355.2h.9v.9h-.9zM67.7 352.7h.9v.9h-.9zM65.3 365.5h.9v.9h-.9zM70.5 366.1h.9v.9h-.9zM69.6 351.2h.9v.9h-.9zM69.0 354.1h.9v.9h-.9zM67.4 368.1h.9v.9h-.9zM65.8 352.4h.9v.9h-.9zM65.1 366.4h.9v.9h-.9zM65.5 366.2h.9v.9h-.9zM66.7 352.5h.9v.9h-.9zM65.0 364.1h.9v.9h-.9zM69.4 368.0h.9v.9h-.9zM70.1 363.4h.9v.9h-.9zM64.7 356.0h.9v.9h-.9zM66.2 352.3h.9v.9h-.9zM67.1 352.0h.9v.9h-.9zM64.1 364.3h.9v.9h-.9zM66.5 351.3h.9v.9h-.9zM71.7 359.4h.9v.9h-.9zM64.8 362.3h.9v.9h-.9zM69.3 351.6h.9v.9h-.9zM64.8 353.4h.9v.9h-.9zM71.1 357.2h.9v.9h-.9zM71.3 355.7h.9v.9h-.9zM69.0 354.1h.9v.9h-.9zM68.9 354.7h.9v.9h-.9zM68.2 351.7h.9v.9h-.9zM71.7 356.7h.9v.9h-.9zM70.0 356.0h.9v.9h-.9zM69.0 367.2h.9v.9h-.9zM68.5 352.4h.9v.9h-.9zM68.3 351.7h.9v.9h-.9zM64.5 357.1h.9v.9h-.9zM69.1 367.4h.9v.9h-.9zM67.6 350.4h.9v.9h-.9zM69.0 367.4h.9v.9h-.9zM67.0 367.8h.9v.9h-.9zM67.8 350.7h.9v.9h-.9zM66.6 368.0h.9v.9h-.9zM68.8 368.1h.9v.9h-.9zM71.1 356.0h.9v.9h-.9zM64.5 356.4h.9v.9h-.9zM68.1 367.5h.9v.9h-.9zM71.4 360.0h.9v.9h-.9zM66.6 367.6h.9v.9h-.9zM69.5 351.0h.9v.9h-.9zM70.1 354.7h.9v.9h-.9zM70.8 358.1h.9v.9h-.9zM70.9 358.6h.9v.9h-.9zM70.2 355.8h.9v.9h-.9z" fill="rgb(83, 135, 203)" fill-opacity="0.65"/><path d="M70.1 356.5h.9v.9h-.9zM64.2 362.7h.9v.9h-.9zM69.0 351.3h.9v.9h-.9zM69.2 364.7h.9v.9h-.9zM68.5 351.5h.9v.9h-.9zM64.8 362.2h.9v.9h-.9zM65.4 355.3h.9v.9h-.9zM69.0 353.2h.9v.9h-.9zM71.5 359.5h.9v.9h-.9zM70.0 361.9h.9v.9h-.9zM68.9 364.7h.9v.9h-.9zM65.0 365.5h.9v.9h-.9zM67.7 367.6h.9v.9h-.9zM67.1 353.4h.9v.9h-.9zM67.9 353.4h.9v.9h-.9zM70.8 360.0h.9v.9h-.9zM67.9 353.7h.9v.9h-.9zM69.3 365.9h.9v.9h-.9zM67.4 352.0h.9v.9h-.9zM64.6 362.3h.9v.9h-.9zM65.8 366.8h.9v.9h-.9zM65.3 363.4h.9v.9h-.9zM64.7 364.7h.9v.9h-.9zM64.2 357.5h.9v.9h-.9zM69.9 365.2h.9v.9h-.9zM70.4 361.7h.9v.9h-.9zM69.6 364.9h.9v.9h-.9zM66.7 354.8h.9v.9h-.9zM70.6 361.6h.9v.9h-.9zM67.5 352.8h.9v.9h-.9zM70.4 363.7h.9v.9h-.9zM64.3 360.3h.9v.9h-.9zM71.3 359.6h.9v.9h-.9zM66.1 354.4h.9v.9h-.9zM65.4 366.4h.9v.9h-.9zM66.2 365.4h.9v.9h-.9zM63.9 357.5h.9v.9h-.9zM68.1 352.4h.9v.9h-.9zM64.1 360.8h.9v.9h-.9zM67.6 366.8h.9v.9h-.9zM70.4 356.3h.9v.9h-.9zM65.5 364.6h.9v.9h-.9zM70.6 354.4h.9v.9h-.9zM66.1 365.5h.9v.9h-.9zM70.2 354.7h.9v.9h-.9zM67.9 365.9h.9v.9h-.9zM66.3 366.3h.9v.9h-.9zM69.0 353.1h.9v.9h-.9zM66.9 352.3h.9v.9h-.9zM68.6 354.1h.9v.9h-.9zM66.2 354.8h.9v.9h-.9zM64.2 362.1h.9v.9h-.9zM65.7 363.6h.9v.9h-.9zM64.4 356.2h.9v.9h-.9zM68.8 352.2h.9v.9h-.9zM70.1 360.1h.9v.9h-.9zM68.6 352.2h.9v.9h-.9zM70.2 360.9h.9v.9h-.9zM70.2 363.0h.9v.9h-.9zM68.3 354.9h.9v.9h-.9zM70.5 357.7h.9v.9h-.9zM70.4 363.3h.9v.9h-.9zM70.3 355.4h.9v.9h-.9zM68.6 367.0h.9v.9h-.9zM70.0 356.5h.9v.9h-.9zM65.5 356.5h.9v.9h-.9zM68.4 353.1h.9v.9h-.9zM68.3 365.7h.9v.9h-.9zM65.0 364.1h.9v.9h-.9zM68.0 350.8h.9v.9h-.9zM68.4 351.6h.9v.9h-.9zM66.0 352.7h.9v.9h-.9zM69.3 365.6h.9v.9h-.9zM64.7 356.7h.9v.9h-.9zM70.7 357.2h.9v.9h-.9zM68.5 351.3h.9v.9h-.9zM69.3 351.6h.9v.9h-.9zM66.8 351.9h.9v.9h-.9zM66.2 366.4h.9v.9h-.9zM67.6 353.6h.9v.9h-.9zM65.8 365.7h.9v.9h-.9zM64.4 362.0h.9v.9h-.9zM66.6 366.2h.9v.9h-.9zM70.1 362.6h.9v.9h-.9zM71.2 358.4h.9v.9h-.9zM67.6 353.2h.9v.9h-.9zM64.8 362.8h.9v.9h-.9zM64.6 358.5h.9v.9h-.9zM70.1 357.3h.9v.9h-.9zM65.9 352.3h.9v.9h-.9zM65.8 366.1h.9v.9h-.9zM68.3 366.7h.9v.9h-.9zM68.6 350.3h.9v.9h-.9zM67.9 366.7h.9v.9h-.9zM65.7 365.4h.9v.9h-.9zM70.9 357.6h.9v.9h-.9zM65.6 366.0h.9v.9h-.9zM65.8 364.4h.9v.9h-.9z" fill="rgb(88, 161, 193)" fill-opacity="0.76"/><path d="M67.4 352.6h.9v.9h-.9zM69.7 356.2h.9v.9h-.9zM67.5 353.3h.9v.9h-.9zM66.8 354.0h.9v.9h-.9zM65.9 366.8h.9v.9h-.9zM67.9 351.1h.9v.9h-.9zM65.6 364.9h.9v.9h-.9zM69.0 355.7h.9v.9h-.9zM68.9 361.5h.9v.9h-.9zM67.2 353.7h.9v.9h-.9zM69.2 355.4h.9v.9h-.9zM67.7 366.2h.9v.9h-.9zM67.4 365.3h.9v.9h-.9zM69.3 364.5h.9v.9h-.9zM69.2 355.6h.9v.9h-.9zM70.6 358.5h.9v.9h-.9zM69.5 364.7h.9v.9h-.9zM65.1 356.1h.9v.9h-.9zM65.5 356.2h.9v.9h-.9zM66.1 366.6h.9v.9h-.9zM66.7 365.8h.9v.9h-.9zM65.5 356.7h.9v.9h-.9zM66.1 353.5h.9v.9h-.9zM66.4 354.8h.9v.9h-.9zM65.5 365.9h.9v.9h-.9zM65.2 365.6h.9v.9h-.9zM70.2 355.7h.9v.9h-.9zM64.8 359.5h.9v.9h-.9zM66.0 363.4h.9v.9h-.9zM67.6 364.3h.9v.9h-.9zM70.2 361.0h.9v.9h-.9zM70.0 357.5h.9v.9h-.9zM68.9 354.6h.9v.9h-.9zM67.7 365.3h.9v.9h-.9zM65.3 354.1h.9v.9h-.9zM66.1 353.8h.9v.9h-.9zM65.6 363.7h.9v.9h-.9zM68.0 354.7h.9v.9h-.9zM67.9 354.4h.9v.9h-.9zM67.6 366.5h.9v.9h-.9zM64.6 361.9h.9v.9h-.9zM64.9 356.0h.9v.9h-.9zM69.4 365.4h.9v.9h-.9zM67.2 366.8h.9v.9h-.9zM65.1 364.6h.9v.9h-.9zM66.7 354.1h.9v.9h-.9zM67.8 354.0h.9v.9h-.9zM68.9 365.0h.9v.9h-.9zM69.5 363.8h.9v.9h-.9zM64.9 353.6h.9v.9h-.9zM69.4 356.7h.9v.9h-.9zM69.4 363.1h.9v.9h-.9zM65.1 364.1h.9v.9h-.9zM70.3 360.7h.9v.9h-.9zM65.4 365.6h.9v.9h-.9zM64.9 363.7h.9v.9h-.9zM68.9 365.1h.9v.9h-.9zM70.3 363.9h.9v.9h-.9zM66.9 352.9h.9v.9h-.9zM66.6 355.0h.9v.9h-.9zM66.9 351.7h.9v.9h-.9zM68.8 351.8h.9v.9h-.9zM70.0 357.9h.9v.9h-.9zM68.0 365.7h.9v.9h-.9zM65.3 355.9h.9v.9h-.9zM66.9 367.7h.9v.9h-.9zM70.7 361.1h.9v.9h-.9zM67.2 365.4h.9v.9h-.9zM68.4 353.7h.9v.9h-.9zM65.4 364.7h.9v.9h-.9zM68.1 364.8h.9v.9h-.9zM70.3 358.9h.9v.9h-.9zM65.1 364.4h.9v.9h-.9zM67.5 366.4h.9v.9h-.9zM68.2 365.9h.9v.9h-.9zM70.4 358.7h.9v.9h-.9zM66.1 355.2h.9v.9h-.9zM70.3 358.0h.9v.9h-.9zM69.1 353.7h.9v.9h-.9zM69.4 363.6h.9v.9h-.9zM70.8 359.1h.9v.9h-.9zM69.7 355.9h.9v.9h-.9zM68.9 365.0h.9v.9h-.9zM68.5 365.1h.9v.9h-.9zM66.0 364.6h.9v.9h-.9zM69.9 361.2h.9v.9h-.9zM69.5 366.7h.9v.9h-.9zM68.7 354.4h.9v.9h-.9zM64.6 361.1h.9v.9h-.9zM69.5 363.2h.9v.9h-.9zM64.1 359.9h.9v.9h-.9zM69.1 363.2h.9v.9h-.9zM71.3 359.6h.9v.9h-.9zM70.6 362.3h.9v.9h-.9zM70.7 355.6h.9v.9h-.9zM65.5 363.9h.9v.9h-.9zM69.6 365.0h.9v.9h-.9zM69.9 360.7h.9v.9h-.9zM70.5 363.7h.9v.9h-.9z" fill="rgb(102, 178, 149)" fill-opacity="0.87"/><path d="M65.4 355.6h.9v.9h-.9zM65.8 355.6h.9v.9h-.9zM65.2 364.8h.9v.9h-.9zM67.8 365.3h.9v.9h-.9zM66.2 365.1h.9v.9h-.9zM67.7 364.8h.9v.9h-.9zM67.2 355.0h.9v.9h-.9zM70.9 360.9h.9v.9h-.9zM66.6 356.0h.9v.9h-.9zM66.4 364.5h.9v.9h-.9zM67.9 366.1h.9v.9h-.9zM65.8 357.0h.9v.9h-.9zM66.7 365.0h.9v.9h-.9zM69.2 364.7h.9v.9h-.9zM67.7 363.6h.9v.9h-.9zM66.4 364.8h.9v.9h-.9zM65.6 362.0h.9v.9h-.9zM68.8 364.0h.9v.9h-.9zM67.8 364.5h.9v.9h-.9zM67.0 355.1h.9v.9h-.9zM66.9 363.6h.9v.9h-.9zM69.7 364.5h.9v.9h-.9zM65.5 362.3h.9v.9h-.9zM65.1 356.6h.9v.9h-.9zM67.0 355.9h.9v.9h-.9zM65.3 364.3h.9v.9h-.9zM70.5 362.0h.9v.9h-.9zM69.1 355.8h.9v.9h-.9zM65.6 363.8h.9v.9h-.9zM67.0 364.6h.9v.9h-.9zM65.6 363.5h.9v.9h-.9zM65.0 357.0h.9v.9h-.9zM65.2 362.6h.9v.9h-.9zM66.3 363.5h.9v.9h-.9zM70.2 361.2h.9v.9h-.9zM66.8 365.3h.9v.9h-.9zM68.4 364.8h.9v.9h-.9zM66.7 364.2h.9v.9h-.9zM66.8 364.2h.9v.9h-.9zM69.1 363.8h.9v.9h-.9zM70.1 359.3h.9v.9h-.9zM67.5 365.4h.9v.9h-.9zM65.9 365.6h.9v.9h-.9zM69.0 358.5h.9v.9h-.9zM70.2 360.7h.9v.9h-.9zM69.4 358.4h.9v.9h-.9zM67.7 365.7h.9v.9h-.9zM66.8 362.3h.9v.9h-.9zM66.4 364.1h.9v.9h-.9zM65.1 360.2h.9v.9h-.9zM69.3 362.3h.9v.9h-.9zM67.1 354.8h.9v.9h-.9zM66.7 364.6h.9v.9h-.9zM65.4 361.7h.9v.9h-.9zM66.7 362.7h.9v.9h-.9zM69.7 356.3h.9v.9h-.9zM65.2 356.9h.9v.9h-.9zM68.3 354.9h.9v.9h-.9zM69.4 363.0h.9v.9h-.9zM69.5 363.6h.9v.9h-.9zM66.4 354.1h.9v.9h-.9zM65.3 364.7h.9v.9h-.9zM69.0 356.5h.9v.9h-.9zM66.8 353.6h.9v.9h-.9zM66.9 354.8h.9v.9h-.9zM65.1 357.8h.9v.9h-.9zM68.5 362.9h.9v.9h-.9zM69.3 356.2h.9v.9h-.9zM68.9 359.0h.9v.9h-.9zM69.1 361.6h.9v.9h-.9zM69.7 358.0h.9v.9h-.9zM67.3 354.3h.9v.9h-.9zM67.5 353.9h.9v.9h-.9zM66.0 365.6h.9v.9h-.9zM69.5 357.1h.9v.9h-.9zM66.5 363.5h.9v.9h-.9zM66.3 354.1h.9v.9h-.9zM65.8 365.8h.9v.9h-.9zM69.1 362.8h.9v.9h-.9zM68.2 354.4h.9v.9h-.9zM69.5 363.6h.9v.9h-.9zM70.4 360.3h.9v.9h-.9zM68.8 355.2h.9v.9h-.9zM70.1 362.6h.9v.9h-.9zM68.2 355.9h.9v.9h-.9zM65.4 358.1h.9v.9h-.9zM65.1 363.1h.9v.9h-.9zM70.8 360.8h.9v.9h-.9zM65.2 355.5h.9v.9h-.9zM69.6 364.5h.9v.9h-.9zM70.5 363.9h.9v.9h-.9zM65.8 356.4h.9v.9h-.9zM67.8 353.4h.9v.9h-.9zM64.6 361.8h.9v.9h-.9zM68.9 362.5h.9v.9h-.9zM66.3 365.5h.9v.9h-.9z" fill="rgb(120, 190, 90)" fill-opacity="0.92"/><path d="M68.5 362.5h.9v.9h-.9zM68.2 355.8h.9v.9h-.9zM69.0 362.2h.9v.9h-.9zM69.1 359.9h.9v.9h-.9zM65.7 359.3h.9v.9h-.9zM65.5 360.5h.9v.9h-.9zM70.2 359.8h.9v.9h-.9zM67.1 364.5h.9v.9h-.9zM69.4 359.1h.9v.9h-.9zM69.1 362.9h.9v.9h-.9zM67.3 364.6h.9v.9h-.9zM67.7 362.8h.9v.9h-.9zM65.1 362.1h.9v.9h-.9zM65.8 362.9h.9v.9h-.9zM66.9 355.3h.9v.9h-.9zM67.0 356.1h.9v.9h-.9zM69.3 355.3h.9v.9h-.9zM69.5 361.7h.9v.9h-.9zM66.4 355.8h.9v.9h-.9zM69.6 359.2h.9v.9h-.9zM68.2 363.3h.9v.9h-.9zM68.1 363.8h.9v.9h-.9zM69.4 360.1h.9v.9h-.9zM65.5 356.3h.9v.9h-.9zM65.5 361.2h.9v.9h-.9zM68.3 356.0h.9v.9h-.9zM67.1 362.7h.9v.9h-.9zM68.6 363.8h.9v.9h-.9zM69.7 356.3h.9v.9h-.9zM66.8 364.2h.9v.9h-.9zM65.7 360.4h.9v.9h-.9zM68.2 355.9h.9v.9h-.9zM65.2 359.4h.9v.9h-.9zM65.6 362.1h.9v.9h-.9zM65.3 357.9h.9v.9h-.9zM67.7 356.0h.9v.9h-.9zM65.9 362.5h.9v.9h-.9zM69.7 363.4h.9v.9h-.9zM66.7 354.4h.9v.9h-.9zM65.2 360.0h.9v.9h-.9zM69.3 358.9h.9v.9h-.9zM65.3 359.2h.9v.9h-.9zM66.2 362.6h.9v.9h-.9zM68.7 362.5h.9v.9h-.9zM68.9 355.3h.9v.9h-.9zM66.4 356.0h.9v.9h-.9zM67.8 364.3h.9v.9h-.9zM69.0 363.6h.9v.9h-.9zM65.1 358.0h.9v.9h-.9zM67.0 363.2h.9v.9h-.9zM66.4 363.9h.9v.9h-.9zM65.4 361.7h.9v.9h-.9zM67.4 357.2h.9v.9h-.9zM68.8 358.4h.9v.9h-.9zM68.4 355.5h.9v.9h-.9zM65.0 357.2h.9v.9h-.9zM68.3 363.8h.9v.9h-.9zM68.8 358.9h.9v.9h-.9zM66.7 355.6h.9v.9h-.9zM66.8 362.7h.9v.9h-.9zM66.3 362.0h.9v.9h-.9zM67.0 365.7h.9v.9h-.9zM69.5 361.4h.9v.9h-.9zM68.0 363.8h.9v.9h-.9zM69.4 363.8h.9v.9h-.9zM69.4 361.8h.9v.9h-.9zM67.5 354.3h.9v.9h-.9zM68.5 362.3h.9v.9h-.9zM68.1 364.0h.9v.9h-.9zM68.9 360.1h.9v.9h-.9zM69.8 360.1h.9v.9h-.9zM65.1 359.2h.9v.9h-.9zM68.3 364.2h.9v.9h-.9zM66.7 365.7h.9v.9h-.9zM69.1 363.2h.9v.9h-.9zM64.9 358.2h.9v.9h-.9zM65.9 356.9h.9v.9h-.9zM65.9 362.7h.9v.9h-.9zM68.8 358.2h.9v.9h-.9zM69.5 357.3h.9v.9h-.9zM67.2 355.2h.9v.9h-.9zM65.4 356.9h.9v.9h-.9zM65.3 357.6h.9v.9h-.9zM66.4 364.5h.9v.9h-.9zM65.4 356.3h.9v.9h-.9zM67.4 363.0h.9v.9h-.9zM67.0 353.5h.9v.9h-.9zM67.8 364.5h.9v.9h-.9zM66.2 356.8h.9v.9h-.9zM67.9 355.3h.9v.9h-.9zM65.2 358.8h.9v.9h-.9zM67.5 355.4h.9v.9h-.9zM68.0 363.2h.9v.9h-.9zM68.3 365.1h.9v.9h-.9zM66.4 356.2h.9v.9h-.9zM70.4 360.3h.9v.9h-.9zM65.5 361.9h.9v.9h-.9zM65.4 359.5h.9v.9h-.9zM66.6 362.5h.9v.9h-.9zM69.5 360.6h.9v.9h-.9zM69.4 356.3h.9v.9h-.9zM66.0 362.5h.9v.9h-.9zM67.5 354.8h.9v.9h-.9zM68.9 358.7h.9v.9h-.9zM67.8 354.2h.9v.9h-.9zM67.3 364.3h.9v.9h-.9zM65.9 363.2h.9v.9h-.9zM66.6 362.4h.9v.9h-.9zM69.3 357.1h.9v.9h-.9zM65.4 360.9h.9v.9h-.9zM65.5 355.6h.9v.9h-.9zM67.5 363.7h.9v.9h-.9zM65.7 362.0h.9v.9h-.9zM66.7 355.8h.9v.9h-.9zM66.3 362.3h.9v.9h-.9zM65.7 358.9h.9v.9h-.9zM66.4 364.6h.9v.9h-.9z" fill="rgb(170, 201, 66)" fill-opacity="0.92"/><path d="M68.4 364.0h.9v.9h-.9zM65.1 358.8h.9v.9h-.9zM66.3 358.2h.9v.9h-.9zM66.2 356.6h.9v.9h-.9zM69.3 361.2h.9v.9h-.9zM66.5 363.2h.9v.9h-.9zM65.4 360.3h.9v.9h-.9zM65.4 359.4h.9v.9h-.9zM67.3 355.5h.9v.9h-.9zM68.6 356.9h.9v.9h-.9zM67.0 364.9h.9v.9h-.9zM68.0 362.8h.9v.9h-.9zM67.5 357.0h.9v.9h-.9zM67.5 361.2h.9v.9h-.9zM66.2 363.3h.9v.9h-.9zM68.7 357.5h.9v.9h-.9zM67.6 362.8h.9v.9h-.9zM64.8 359.9h.9v.9h-.9zM67.7 356.0h.9v.9h-.9zM68.0 363.8h.9v.9h-.9zM68.9 361.1h.9v.9h-.9zM69.7 357.4h.9v.9h-.9zM66.3 362.0h.9v.9h-.9zM65.5 361.1h.9v.9h-.9zM65.0 359.1h.9v.9h-.9zM65.3 360.9h.9v.9h-.9zM67.8 354.6h.9v.9h-.9zM65.5 357.4h.9v.9h-.9zM68.4 362.3h.9v.9h-.9zM65.8 356.4h.9v.9h-.9zM68.3 363.5h.9v.9h-.9zM67.5 355.5h.9v.9h-.9zM66.9 362.8h.9v.9h-.9zM67.2 364.8h.9v.9h-.9zM67.4 355.4h.9v.9h-.9zM69.3 361.6h.9v.9h-.9zM65.1 360.3h.9v.9h-.9zM67.8 356.8h.9v.9h-.9zM67.9 363.3h.9v.9h-.9zM67.5 357.0h.9v.9h-.9zM69.1 361.7h.9v.9h-.9zM68.4 364.1h.9v.9h-.9zM65.5 359.7h.9v.9h-.9zM68.2 356.2h.9v.9h-.9zM65.0 360.5h.9v.9h-.9zM65.9 357.1h.9v.9h-.9zM68.8 356.3h.9v.9h-.9zM69.6 356.4h.9v.9h-.9zM69.1 360.6h.9v.9h-.9zM69.0 359.0h.9v.9h-.9zM65.6 359.0h.9v.9h-.9zM68.7 356.5h.9v.9h-.9zM67.3 363.0h.9v.9h-.9zM67.2 356.1h.9v.9h-.9zM67.5 362.5h.9v.9h-.9zM69.0 357.8h.9v.9h-.9zM66.9 364.7h.9v.9h-.9zM67.0 356.8h.9v.9h-.9zM64.8 360.0h.9v.9h-.9zM67.0 355.7h.9v.9h-.9zM66.5 361.4h.9v.9h-.9zM67.2 364.0h.9v.9h-.9zM69.4 362.0h.9v.9h-.9zM68.9 361.1h.9v.9h-.9zM66.0 356.3h.9v.9h-.9zM69.1 361.1h.9v.9h-.9zM68.6 356.3h.9v.9h-.9zM69.3 358.5h.9v.9h-.9zM69.2 356.9h.9v.9h-.9zM66.9 363.3h.9v.9h-.9zM64.9 359.3h.9v.9h-.9zM66.5 357.0h.9v.9h-.9zM67.9 356.2h.9v.9h-.9zM69.7 359.2h.9v.9h-.9zM65.5 358.4h.9v.9h-.9zM65.6 361.1h.9v.9h-.9zM65.9 355.7h.9v.9h-.9zM65.5 359.7h.9v.9h-.9zM68.0 361.4h.9v.9h-.9zM66.5 358.2h.9v.9h-.9zM69.1 360.1h.9v.9h-.9zM67.0 365.1h.9v.9h-.9zM69.7 358.7h.9v.9h-.9zM68.4 355.9h.9v.9h-.9zM66.7 356.7h.9v.9h-.9zM67.0 365.0h.9v.9h-.9z" fill="rgb(210, 205, 47)" fill-opacity="0.92"/><path d="M68.5 360.7h.9v.9h-.9zM68.1 356.3h.9v.9h-.9zM67.3 361.5h.9v.9h-.9zM67.9 361.3h.9v.9h-.9zM66.0 357.8h.9v.9h-.9zM66.8 364.6h.9v.9h-.9zM65.8 359.8h.9v.9h-.9zM69.4 361.0h.9v.9h-.9zM67.6 361.7h.9v.9h-.9zM68.5 360.9h.9v.9h-.9zM68.4 357.1h.9v.9h-.9zM67.5 363.6h.9v.9h-.9zM66.2 361.5h.9v.9h-.9zM66.1 356.5h.9v.9h-.9zM68.0 363.2h.9v.9h-.9zM65.5 358.3h.9v.9h-.9zM67.1 356.8h.9v.9h-.9zM68.0 362.4h.9v.9h-.9zM65.9 357.9h.9v.9h-.9zM66.6 362.2h.9v.9h-.9zM68.5 364.2h.9v.9h-.9zM68.1 358.0h.9v.9h-.9zM67.6 356.8h.9v.9h-.9zM67.1 361.7h.9v.9h-.9zM67.9 362.0h.9v.9h-.9zM69.3 358.4h.9v.9h-.9zM67.0 362.8h.9v.9h-.9zM68.3 361.5h.9v.9h-.9zM66.4 363.1h.9v.9h-.9zM69.5 360.9h.9v.9h-.9zM66.4 357.0h.9v.9h-.9zM66.2 356.9h.9v.9h-.9zM69.0 359.2h.9v.9h-.9zM68.1 360.9h.9v.9h-.9zM67.7 362.9h.9v.9h-.9zM67.9 357.1h.9v.9h-.9zM65.9 361.7h.9v.9h-.9zM66.2 357.8h.9v.9h-.9zM66.7 358.1h.9v.9h-.9zM66.5 357.3h.9v.9h-.9zM69.7 360.4h.9v.9h-.9zM69.1 358.9h.9v.9h-.9zM68.3 362.8h.9v.9h-.9zM65.6 358.5h.9v.9h-.9zM69.0 360.3h.9v.9h-.9zM68.7 357.1h.9v.9h-.9zM66.5 357.5h.9v.9h-.9zM67.7 356.1h.9v.9h-.9zM67.6 361.2h.9v.9h-.9zM69.5 360.8h.9v.9h-.9zM65.6 360.1h.9v.9h-.9zM67.3 355.7h.9v.9h-.9zM68.5 357.8h.9v.9h-.9zM69.7 359.6h.9v.9h-.9zM68.8 360.5h.9v.9h-.9zM66.5 357.1h.9v.9h-.9zM67.2 362.8h.9v.9h-.9zM68.7 360.5h.9v.9h-.9zM68.0 357.2h.9v.9h-.9zM69.2 360.4h.9v.9h-.9zM67.9 361.7h.9v.9h-.9zM67.7 357.5h.9v.9h-.9zM67.7 355.8h.9v.9h-.9zM66.8 362.0h.9v.9h-.9zM68.1 360.3h.9v.9h-.9zM66.8 362.0h.9v.9h-.9zM68.6 361.2h.9v.9h-.9zM65.4 359.9h.9v.9h-.9zM67.9 361.9h.9v.9h-.9zM67.0 356.7h.9v.9h-.9zM66.7 357.8h.9v.9h-.9zM67.1 362.2h.9v.9h-.9zM67.3 356.0h.9v.9h-.9zM68.8 362.8h.9v.9h-.9zM68.7 361.8h.9v.9h-.9zM68.1 357.2h.9v.9h-.9zM68.0 357.3h.9v.9h-.9zM68.2 364.0h.9v.9h-.9zM67.0 356.2h.9v.9h-.9zM68.1 360.4h.9v.9h-.9zM66.9 356.8h.9v.9h-.9zM67.8 357.0h.9v.9h-.9z" fill="rgb(226, 191, 40)" fill-opacity="0.92"/><path d="M68.4 357.6h.9v.9h-.9zM65.8 361.6h.9v.9h-.9zM65.8 358.1h.9v.9h-.9zM66.1 359.4h.9v.9h-.9zM66.4 357.5h.9v.9h-.9zM68.3 358.0h.9v.9h-.9zM69.0 359.5h.9v.9h-.9zM66.3 359.2h.9v.9h-.9zM66.5 361.1h.9v.9h-.9zM68.1 360.1h.9v.9h-.9zM66.7 360.7h.9v.9h-.9zM66.8 357.6h.9v.9h-.9zM66.1 358.7h.9v.9h-.9zM68.1 359.2h.9v.9h-.9zM66.5 356.4h.9v.9h-.9zM67.4 361.6h.9v.9h-.9zM67.8 356.7h.9v.9h-.9zM68.2 356.7h.9v.9h-.9zM68.5 356.4h.9v.9h-.9zM68.2 361.1h.9v.9h-.9zM65.9 359.7h.9v.9h-.9zM66.8 357.7h.9v.9h-.9zM66.1 359.8h.9v.9h-.9zM65.7 359.4h.9v.9h-.9zM68.6 357.0h.9v.9h-.9zM66.9 356.5h.9v.9h-.9zM66.6 358.5h.9v.9h-.9zM67.7 357.8h.9v.9h-.9zM67.7 360.8h.9v.9h-.9zM68.1 361.1h.9v.9h-.9zM67.9 361.1h.9v.9h-.9zM67.9 358.9h.9v.9h-.9zM66.2 358.8h.9v.9h-.9zM66.3 357.5h.9v.9h-.9zM66.4 358.2h.9v.9h-.9zM67.2 356.3h.9v.9h-.9zM65.6 359.2h.9v.9h-.9zM65.9 358.9h.9v.9h-.9zM68.5 361.2h.9v.9h-.9zM67.9 357.3h.9v.9h-.9zM65.9 359.4h.9v.9h-.9zM66.0 358.2h.9v.9h-.9zM68.2 359.1h.9v.9h-.9zM67.1 357.3h.9v.9h-.9zM66.2 358.4h.9v.9h-.9zM67.5 362.3h.9v.9h-.9zM68.2 358.2h.9v.9h-.9zM68.4 356.6h.9v.9h-.9zM66.2 358.3h.9v.9h-.9zM66.3 357.6h.9v.9h-.9zM68.6 359.2h.9v.9h-.9zM68.3 361.9h.9v.9h-.9zM66.3 360.8h.9v.9h-.9zM68.7 360.8h.9v.9h-.9zM66.3 361.9h.9v.9h-.9zM68.1 359.3h.9v.9h-.9zM68.3 357.5h.9v.9h-.9zM67.9 358.2h.9v.9h-.9zM67.6 358.0h.9v.9h-.9zM66.1 361.1h.9v.9h-.9zM68.0 357.6h.9v.9h-.9zM68.4 359.2h.9v.9h-.9zM66.3 359.0h.9v.9h-.9zM68.2 361.0h.9v.9h-.9zM68.1 357.6h.9v.9h-.9zM66.6 361.4h.9v.9h-.9zM68.7 358.4h.9v.9h-.9zM68.3 357.4h.9v.9h-.9zM68.7 359.4h.9v.9h-.9zM66.3 361.8h.9v.9h-.9zM66.6 359.5h.9v.9h-.9zM68.2 358.4h.9v.9h-.9zM68.7 361.6h.9v.9h-.9zM66.4 360.6h.9v.9h-.9zM68.6 356.8h.9v.9h-.9zM67.1 358.1h.9v.9h-.9zM66.7 358.3h.9v.9h-.9zM66.6 358.6h.9v.9h-.9zM67.4 361.3h.9v.9h-.9zM68.5 359.2h.9v.9h-.9zM68.5 362.3h.9v.9h-.9zM67.2 355.9h.9v.9h-.9z" fill="rgb(239, 175, 34)" fill-opacity="0.92"/><path d="M66.3 361.0h.9v.9h-.9zM67.4 360.7h.9v.9h-.9zM68.3 360.5h.9v.9h-.9zM67.9 360.9h.9v.9h-.9zM66.3 361.6h.9v.9h-.9zM67.0 360.4h.9v.9h-.9zM66.7 358.5h.9v.9h-.9zM67.8 358.6h.9v.9h-.9zM68.2 357.9h.9v.9h-.9zM67.6 359.0h.9v.9h-.9zM66.4 360.1h.9v.9h-.9zM67.5 361.2h.9v.9h-.9zM68.6 361.1h.9v.9h-.9zM67.4 358.7h.9v.9h-.9zM68.3 357.8h.9v.9h-.9zM67.6 360.8h.9v.9h-.9zM66.4 359.6h.9v.9h-.9zM68.6 359.0h.9v.9h-.9zM67.0 361.9h.9v.9h-.9zM67.9 360.7h.9v.9h-.9zM66.6 360.5h.9v.9h-.9zM66.5 360.8h.9v.9h-.9zM67.5 361.4h.9v.9h-.9zM68.3 357.5h.9v.9h-.9zM67.9 358.9h.9v.9h-.9zM66.0 361.1h.9v.9h-.9zM67.2 357.7h.9v.9h-.9zM68.6 362.0h.9v.9h-.9zM66.9 360.8h.9v.9h-.9zM68.6 361.1h.9v.9h-.9zM66.1 358.8h.9v.9h-.9zM68.1 360.8h.9v.9h-.9zM68.5 359.2h.9v.9h-.9zM68.1 359.2h.9v.9h-.9zM67.1 361.1h.9v.9h-.9zM68.6 356.8h.9v.9h-.9zM67.8 357.4h.9v.9h-.9zM67.4 356.8h.9v.9h-.9zM66.4 360.9h.9v.9h-.9zM67.0 357.9h.9v.9h-.9zM68.6 357.7h.9v.9h-.9zM68.7 358.4h.9v.9h-.9zM65.9 358.6h.9v.9h-.9zM67.5 358.5h.9v.9h-.9zM66.6 359.1h.9v.9h-.9zM66.5 360.3h.9v.9h-.9zM68.7 356.7h.9v.9h-.9zM68.2 359.9h.9v.9h-.9zM65.9 359.8h.9v.9h-.9zM68.3 360.9h.9v.9h-.9zM67.3 360.7h.9v.9h-.9zM67.6 360.3h.9v.9h-.9zM67.5 360.2h.9v.9h-.9zM67.8 357.3h.9v.9h-.9zM68.7 360.3h.9v.9h-.9zM68.7 358.8h.9v.9h-.9zM66.1 358.6h.9v.9h-.9zM67.6 357.3h.9v.9h-.9zM68.2 360.2h.9v.9h-.9zM66.4 357.9h.9v.9h-.9zM67.3 359.1h.9v.9h-.9zM67.2 362.7h.9v.9h-.9zM66.3 360.8h.9v.9h-.9zM66.8 360.7h.9v.9h-.9zM66.1 360.9h.9v.9h-.9zM66.2 360.0h.9v.9h-.9zM68.2 361.1h.9v.9h-.9zM66.3 362.0h.9v.9h-.9zM67.7 356.4h.9v.9h-.9zM66.9 360.6h.9v.9h-.9zM68.1 359.7h.9v.9h-.9zM67.6 358.6h.9v.9h-.9zM67.6 358.9h.9v.9h-.9zM66.6 359.7h.9v.9h-.9zM67.6 358.7h.9v.9h-.9zM66.1 359.0h.9v.9h-.9z" fill="rgb(237, 145, 29)" fill-opacity="0.92"/><path d="M67.8 360.0h.9v.9h-.9zM67.3 359.0h.9v.9h-.9zM66.9 357.1h.9v.9h-.9zM66.2 361.2h.9v.9h-.9zM66.7 359.5h.9v.9h-.9zM67.7 360.9h.9v.9h-.9zM67.7 359.8h.9v.9h-.9zM68.5 359.7h.9v.9h-.9zM67.8 358.2h.9v.9h-.9zM67.4 358.1h.9v.9h-.9zM67.4 359.9h.9v.9h-.9zM67.6 360.7h.9v.9h-.9zM67.4 359.0h.9v.9h-.9zM67.0 358.5h.9v.9h-.9zM67.2 359.2h.9v.9h-.9zM67.1 359.8h.9v.9h-.9zM68.3 359.3h.9v.9h-.9zM67.7 360.4h.9v.9h-.9zM67.5 360.2h.9v.9h-.9zM67.6 360.1h.9v.9h-.9zM66.7 360.2h.9v.9h-.9zM67.5 361.2h.9v.9h-.9zM67.7 361.2h.9v.9h-.9zM67.0 358.8h.9v.9h-.9zM67.1 359.4h.9v.9h-.9zM66.3 359.8h.9v.9h-.9zM67.0 358.9h.9v.9h-.9zM66.4 359.3h.9v.9h-.9zM67.6 360.6h.9v.9h-.9zM67.4 358.6h.9v.9h-.9zM66.3 359.2h.9v.9h-.9zM67.0 360.2h.9v.9h-.9zM67.2 358.2h.9v.9h-.9zM67.2 359.0h.9v.9h-.9zM67.6 359.4h.9v.9h-.9zM67.4 359.4h.9v.9h-.9zM66.8 359.5h.9v.9h-.9zM68.0 359.6h.9v.9h-.9zM66.9 357.4h.9v.9h-.9zM66.9 359.9h.9v.9h-.9zM66.8 359.7h.9v.9h-.9zM67.4 360.7h.9v.9h-.9zM66.8 360.4h.9v.9h-.9zM67.2 361.0h.9v.9h-.9zM67.0 358.2h.9v.9h-.9zM66.5 360.4h.9v.9h-.9zM67.3 358.6h.9v.9h-.9zM66.5 361.0h.9v.9h-.9zM66.8 360.6h.9v.9h-.9zM66.8 358.7h.9v.9h-.9zM66.7 360.6h.9v.9h-.9zM66.9 359.8h.9v.9h-.9zM67.6 360.3h.9v.9h-.9zM67.3 359.4h.9v.9h-.9zM67.1 359.4h.9v.9h-.9zM67.6 359.2h.9v.9h-.9zM68.0 358.9h.9v.9h-.9zM66.6 358.7h.9v.9h-.9zM67.0 359.9h.9v.9h-.9zM66.7 360.7h.9v.9h-.9zM65.9 360.0h.9v.9h-.9zM67.4 361.0h.9v.9h-.9zM67.3 359.9h.9v.9h-.9zM66.3 359.4h.9v.9h-.9zM66.9 360.3h.9v.9h-.9zM66.8 361.2h.9v.9h-.9zM67.8 357.6h.9v.9h-.9zM67.1 360.1h.9v.9h-.9zM66.8 358.8h.9v.9h-.9zM68.5 360.7h.9v.9h-.9zM67.7 359.3h.9v.9h-.9zM65.8 359.7h.9v.9h-.9zM66.9 359.6h.9v.9h-.9zM67.7 358.4h.9v.9h-.9zM66.3 360.7h.9v.9h-.9zM66.5 360.4h.9v.9h-.9zM67.1 359.8h.9v.9h-.9zM66.5 358.6h.9v.9h-.9zM67.2 359.7h.9v.9h-.9zM67.2 359.3h.9v.9h-.9zM67.8 360.0h.9v.9h-.9zM67.2 358.9h.9v.9h-.9zM68.5 360.4h.9v.9h-.9zM68.5 358.9h.9v.9h-.9zM67.2 360.6h.9v.9h-.9zM66.6 360.6h.9v.9h-.9zM67.3 359.3h.9v.9h-.9zM67.7 357.5h.9v.9h-.9zM66.8 360.4h.9v.9h-.9zM66.1 361.0h.9v.9h-.9z" fill="rgb(235, 115, 25)" fill-opacity="0.92"/>
<rect x="56.8" y="319.2" width="82.50000000000001" height="82.19999999999999" fill="none" stroke="#111" stroke-width="1.1"/>
<rect x="57.8" y="336.3" width="18.5" height="32.0" fill="none" stroke="#111" stroke-width="1.2"/>
<rect x="76.3" y="336.3" width="43.2" height="32.0" fill="none" stroke="#111" stroke-width="1.2"/>
<rect x="57.8" y="368.7" width="33.5" height="32.69999999999997" fill="none" stroke="#111" stroke-width="1.2"/>
<line x1="54.9" y1="361.83" x2="56.8" y2="361.83" stroke="#222" stroke-width="0.8" />
<line x1="54.9" y1="358.04" x2="56.8" y2="358.04" stroke="#222" stroke-width="0.8" />
<line x1="54.9" y1="355.36" x2="56.8" y2="355.36" stroke="#222" stroke-width="0.8" />
<line x1="54.9" y1="353.27" x2="56.8" y2="353.27" stroke="#222" stroke-width="0.8" />
<line x1="54.9" y1="351.57" x2="56.8" y2="351.57" stroke="#222" stroke-width="0.8" />
<line x1="54.9" y1="350.13" x2="56.8" y2="350.13" stroke="#222" stroke-width="0.8" />
<line x1="54.9" y1="348.88" x2="56.8" y2="348.88" stroke="#222" stroke-width="0.8" />
<line x1="54.9" y1="347.78" x2="56.8" y2="347.78" stroke="#222" stroke-width="0.8" />
<line x1="54.9" y1="340.63" x2="56.8" y2="340.63" stroke="#222" stroke-width="0.8" />
<line x1="54.9" y1="337.02" x2="56.8" y2="337.02" stroke="#222" stroke-width="0.8" />
<line x1="54.9" y1="334.46" x2="56.8" y2="334.46" stroke="#222" stroke-width="0.8" />
<line x1="54.9" y1="332.47" x2="56.8" y2="332.47" stroke="#222" stroke-width="0.8" />
<line x1="54.9" y1="330.85" x2="56.8" y2="330.85" stroke="#222" stroke-width="0.8" />
<line x1="54.9" y1="329.48" x2="56.8" y2="329.48" stroke="#222" stroke-width="0.8" />
<line x1="54.9" y1="328.29" x2="56.8" y2="328.29" stroke="#222" stroke-width="0.8" />
<line x1="54.9" y1="327.24" x2="56.8" y2="327.24" stroke="#222" stroke-width="0.8" />
<line x1="54.9" y1="320.13" x2="56.8" y2="320.13" stroke="#222" stroke-width="0.8" />
<line x1="54.9" y1="376.05" x2="56.8" y2="376.05" stroke="#222" stroke-width="0.8" />
<line x1="54.9" y1="390.05" x2="56.8" y2="390.05" stroke="#222" stroke-width="0.8" />
<line x1="54.9" y1="400.4" x2="56.8" y2="400.4" stroke="#222" stroke-width="0.8" />
<line x1="53.9" y1="326.3" x2="56.8" y2="326.3" stroke="#111" stroke-width="0.9" />
<line x1="53.9" y1="346.8" x2="56.8" y2="346.8" stroke="#111" stroke-width="0.9" />
<line x1="53.9" y1="368.3" x2="56.8" y2="368.3" stroke="#111" stroke-width="0.9" />
<line x1="53.9" y1="383.8" x2="56.8" y2="383.8" stroke="#111" stroke-width="0.9" />
<line x1="53.9" y1="396.3" x2="56.8" y2="396.3" stroke="#111" stroke-width="0.9" />
<rect x="54.6" y="381.6" width="2.2" height="3.4" fill="#111" stroke="none" stroke-width="0"/>
<text x="51.2" y="328.6" font-family="Liberation Sans" font-size="6.5" fill="#2a2a2a" text-anchor="end" >10<tspan font-size="4.4" dy="-2.7">5</tspan></text>
<text x="51.2" y="349.1" font-family="Liberation Sans" font-size="6.5" fill="#2a2a2a" text-anchor="end" >10<tspan font-size="4.4" dy="-2.7">4</tspan></text>
<text x="51.2" y="370.6" font-family="Liberation Sans" font-size="6.5" fill="#2a2a2a" text-anchor="end" >10<tspan font-size="4.4" dy="-2.7">3</tspan></text>
<text x="50.3" y="386" font-family="Liberation Sans" font-size="6.5" fill="#2a2a2a" text-anchor="end" >0</text>
<text x="51.2" y="398.3" font-family="Liberation Sans" font-size="6.5" fill="#2a2a2a" text-anchor="end" >-10<tspan font-size="4.4" dy="-2.7">3</tspan></text>
<line x1="57.3" y1="401.4" x2="57.3" y2="403.8" stroke="#111" stroke-width="0.9" />
<text transform="translate(59.6,409.6) rotate(-45)" font-family="Liberation Sans" font-size="6.7" fill="#222" text-anchor="end" >0</text>
<line x1="72.9" y1="401.4" x2="72.9" y2="403.8" stroke="#111" stroke-width="0.9" />
<text transform="translate(75.2,409.6) rotate(-45)" font-family="Liberation Sans" font-size="6.7" fill="#222" text-anchor="end" >50K</text>
<line x1="88.5" y1="401.4" x2="88.5" y2="403.8" stroke="#111" stroke-width="0.9" />
<text transform="translate(90.8,409.6) rotate(-45)" font-family="Liberation Sans" font-size="6.7" fill="#222" text-anchor="end" >100K</text>
<line x1="104.1" y1="401.4" x2="104.1" y2="403.8" stroke="#111" stroke-width="0.9" />
<text transform="translate(106.4,409.6) rotate(-45)" font-family="Liberation Sans" font-size="6.7" fill="#222" text-anchor="end" >150K</text>
<line x1="119.7" y1="401.4" x2="119.7" y2="403.8" stroke="#111" stroke-width="0.9" />
<text transform="translate(122,409.6) rotate(-45)" font-family="Liberation Sans" font-size="6.7" fill="#222" text-anchor="end" >200K</text>
<line x1="135.3" y1="401.4" x2="135.3" y2="403.8" stroke="#111" stroke-width="0.9" />
<text transform="translate(137.6,409.6) rotate(-45)" font-family="Liberation Sans" font-size="6.7" fill="#222" text-anchor="end" >250K</text>
<line x1="60.42" y1="401.4" x2="60.42" y2="403" stroke="#222" stroke-width="0.8" />
<line x1="63.54" y1="401.4" x2="63.54" y2="403" stroke="#222" stroke-width="0.8" />
<line x1="66.66" y1="401.4" x2="66.66" y2="403" stroke="#222" stroke-width="0.8" />
<line x1="69.78" y1="401.4" x2="69.78" y2="403" stroke="#222" stroke-width="0.8" />
<line x1="76.02" y1="401.4" x2="76.02" y2="403" stroke="#222" stroke-width="0.8" />
<line x1="79.14" y1="401.4" x2="79.14" y2="403" stroke="#222" stroke-width="0.8" />
<line x1="82.26" y1="401.4" x2="82.26" y2="403" stroke="#222" stroke-width="0.8" />
<line x1="85.38" y1="401.4" x2="85.38" y2="403" stroke="#222" stroke-width="0.8" />
<line x1="91.62" y1="401.4" x2="91.62" y2="403" stroke="#222" stroke-width="0.8" />
<line x1="94.74" y1="401.4" x2="94.74" y2="403" stroke="#222" stroke-width="0.8" />
<line x1="97.86" y1="401.4" x2="97.86" y2="403" stroke="#222" stroke-width="0.8" />
<line x1="100.98" y1="401.4" x2="100.98" y2="403" stroke="#222" stroke-width="0.8" />
<line x1="107.22" y1="401.4" x2="107.22" y2="403" stroke="#222" stroke-width="0.8" />
<line x1="110.34" y1="401.4" x2="110.34" y2="403" stroke="#222" stroke-width="0.8" />
<line x1="113.46" y1="401.4" x2="113.46" y2="403" stroke="#222" stroke-width="0.8" />
<line x1="116.58" y1="401.4" x2="116.58" y2="403" stroke="#222" stroke-width="0.8" />
<line x1="122.82" y1="401.4" x2="122.82" y2="403" stroke="#222" stroke-width="0.8" />
<line x1="125.94" y1="401.4" x2="125.94" y2="403" stroke="#222" stroke-width="0.8" />
<line x1="129.06" y1="401.4" x2="129.06" y2="403" stroke="#222" stroke-width="0.8" />
<line x1="132.18" y1="401.4" x2="132.18" y2="403" stroke="#222" stroke-width="0.8" />
<text x="60" y="327" font-family="Liberation Sans" font-size="6.6" fill="#1a1a1a" text-anchor="start" >G1</text>
<text x="60" y="334.2" font-family="Liberation Sans" font-size="6.6" fill="#1a1a1a" text-anchor="start" >67.6%</text>
<text x="93" y="327" font-family="Liberation Sans" font-size="6.6" fill="#1a1a1a" text-anchor="start" >S-G2-M</text>
<text x="93" y="334.2" font-family="Liberation Sans" font-size="6.6" fill="#1a1a1a" text-anchor="start" >7.60%</text>
<text x="93.2" y="380.5" font-family="Liberation Sans" font-size="6.6" fill="#1a1a1a" text-anchor="start" >G0</text>
<text x="93.2" y="388.1" font-family="Liberation Sans" font-size="6.6" fill="#1a1a1a" text-anchor="start" >21.5%</text>
<path d="M175.2 359.0h.9v.9h-.9zM185.2 370.5h.9v.9h-.9zM177.4 345.8h.9v.9h-.9zM185.9 371.0h.9v.9h-.9zM175.0 367.2h.9v.9h-.9zM187.3 369.0h.9v.9h-.9zM174.4 367.1h.9v.9h-.9zM185.7 346.3h.9v.9h-.9zM185.6 368.0h.9v.9h-.9zM175.9 346.2h.9v.9h-.9zM172.7 360.3h.9v.9h-.9zM173.9 366.6h.9v.9h-.9zM187.5 367.0h.9v.9h-.9zM174.8 362.4h.9v.9h-.9zM181.2 347.1h.9v.9h-.9zM175.8 369.2h.9v.9h-.9zM186.4 347.4h.9v.9h-.9zM175.9 361.0h.9v.9h-.9zM172.8 350.0h.9v.9h-.9zM189.9 348.1h.9v.9h-.9zM174.0 362.8h.9v.9h-.9zM188.2 365.4h.9v.9h-.9zM175.1 364.4h.9v.9h-.9zM175.6 367.0h.9v.9h-.9zM181.2 346.5h.9v.9h-.9zM176.8 343.0h.9v.9h-.9zM188.8 365.5h.9v.9h-.9zM173.0 357.4h.9v.9h-.9zM178.8 342.4h.9v.9h-.9zM176.8 367.7h.9v.9h-.9zM178.8 342.3h.9v.9h-.9zM186.5 349.0h.9v.9h-.9zM185.7 367.5h.9v.9h-.9zM174.5 345.4h.9v.9h-.9zM184.7 346.6h.9v.9h-.9zM187.3 368.1h.9v.9h-.9zM175.0 351.8h.9v.9h-.9zM181.6 346.1h.9v.9h-.9zM175.7 361.3h.9v.9h-.9zM173.6 357.7h.9v.9h-.9zM174.5 354.4h.9v.9h-.9zM173.1 370.5h.9v.9h-.9zM175.5 363.1h.9v.9h-.9zM177.8 347.9h.9v.9h-.9zM171.4 359.3h.9v.9h-.9zM192.3 349.2h.9v.9h-.9zM193.9 366.7h.9v.9h-.9zM197.5 363.1h.9v.9h-.9zM190.8 350.0h.9v.9h-.9zM196.3 365.7h.9v.9h-.9zM193.8 349.3h.9v.9h-.9zM190.7 348.3h.9v.9h-.9zM191.6 364.7h.9v.9h-.9zM197.8 363.5h.9v.9h-.9zM195.6 363.3h.9v.9h-.9zM195.1 365.6h.9v.9h-.9zM204.3 361.9h.9v.9h-.9zM206.8 356.2h.9v.9h-.9zM202.0 354.0h.9v.9h-.9zM200.2 349.5h.9v.9h-.9zM193.1 363.7h.9v.9h-.9zM198.7 350.5h.9v.9h-.9zM198.9 348.3h.9v.9h-.9zM195.3 363.3h.9v.9h-.9zM193.7 364.8h.9v.9h-.9zM198.2 359.8h.9v.9h-.9zM197.9 347.6h.9v.9h-.9zM186.5 366.3h.9v.9h-.9zM203.4 354.2h.9v.9h-.9zM193.9 349.6h.9v.9h-.9zM192.2 349.7h.9v.9h-.9zM203.1 358.5h.9v.9h-.9zM204.4 361.1h.9v.9h-.9zM190.3 347.9h.9v.9h-.9zM200.6 360.0h.9v.9h-.9zM202.2 354.1h.9v.9h-.9zM197.0 363.8h.9v.9h-.9zM200.8 365.9h.9v.9h-.9zM195.8 364.9h.9v.9h-.9zM191.6 364.4h.9v.9h-.9zM203.1 359.0h.9v.9h-.9zM190.3 364.7h.9v.9h-.9zM199.5 361.4h.9v.9h-.9zM199.4 350.9h.9v.9h-.9zM228.2 354.5h.9v.9h-.9zM204.2 349.0h.9v.9h-.9zM194.7 349.4h.9v.9h-.9zM212.3 361.0h.9v.9h-.9zM221.3 348.8h.9v.9h-.9zM208.3 357.1h.9v.9h-.9zM234.3 357.4h.9v.9h-.9zM220.1 353.6h.9v.9h-.9zM215.4 350.8h.9v.9h-.9zM205.5 360.0h.9v.9h-.9zM217.6 351.6h.9v.9h-.9zM212.2 354.0h.9v.9h-.9zM211.4 351.9h.9v.9h-.9zM213.4 355.2h.9v.9h-.9zM229.7 350.6h.9v.9h-.9zM223.4 355.5h.9v.9h-.9zM229.4 355.2h.9v.9h-.9zM209.4 357.0h.9v.9h-.9zM223.6 358.0h.9v.9h-.9zM218.7 364.6h.9v.9h-.9zM219.8 352.8h.9v.9h-.9zM210.2 350.8h.9v.9h-.9zM221.7 362.0h.9v.9h-.9zM211.2 352.4h.9v.9h-.9zM209.2 347.4h.9v.9h-.9zM200.3 351.5h.9v.9h-.9zM220.4 349.3h.9v.9h-.9zM203.1 362.3h.9v.9h-.9zM207.4 359.0h.9v.9h-.9zM215.4 351.6h.9v.9h-.9zM205.2 351.7h.9v.9h-.9zM202.2 352.8h.9v.9h-.9zM208.4 346.9h.9v.9h-.9zM213.3 357.3h.9v.9h-.9zM176.9 348.1h.9v.9h-.9zM205.4 353.3h.9v.9h-.9zM221.0 353.3h.9v.9h-.9zM217.6 353.5h.9v.9h-.9zM201.6 350.7h.9v.9h-.9zM208.3 357.7h.9v.9h-.9zM215.9 357.6h.9v.9h-.9zM228.6 354.2h.9v.9h-.9zM222.3 354.7h.9v.9h-.9zM220.1 350.5h.9v.9h-.9zM199.6 348.6h.9v.9h-.9zM214.4 360.8h.9v.9h-.9zM231.6 352.6h.9v.9h-.9zM222.6 363.6h.9v.9h-.9zM213.6 364.6h.9v.9h-.9zM199.7 352.4h.9v.9h-.9zM214.7 359.3h.9v.9h-.9zM200.8 345.9h.9v.9h-.9zM228.3 359.3h.9v.9h-.9zM221.6 357.5h.9v.9h-.9zM211.8 354.7h.9v.9h-.9zM209.8 365.6h.9v.9h-.9zM214.2 347.0h.9v.9h-.9zM213.6 353.0h.9v.9h-.9zM234.6 355.7h.9v.9h-.9zM204.6 343.0h.9v.9h-.9zM214.3 350.5h.9v.9h-.9zM219.3 358.0h.9v.9h-.9zM205.7 343.4h.9v.9h-.9zM225.4 352.8h.9v.9h-.9zM208.4 356.5h.9v.9h-.9zM207.3 354.4h.9v.9h-.9zM206.3 352.9h.9v.9h-.9zM201.7 343.5h.9v.9h-.9zM220.5 348.3h.9v.9h-.9zM215.5 361.1h.9v.9h-.9zM214.0 351.3h.9v.9h-.9zM215.5 350.2h.9v.9h-.9zM219.4 354.9h.9v.9h-.9zM230.9 361.3h.9v.9h-.9zM216.0 353.8h.9v.9h-.9zM209.5 354.0h.9v.9h-.9zM213.6 360.4h.9v.9h-.9zM194.9 350.1h.9v.9h-.9zM218.6 355.0h.9v.9h-.9zM219.0 351.0h.9v.9h-.9zM205.0 363.9h.9v.9h-.9zM202.5 350.9h.9v.9h-.9zM223.9 361.4h.9v.9h-.9zM212.5 361.6h.9v.9h-.9zM204.0 354.0h.9v.9h-.9zM216.9 351.0h.9v.9h-.9zM210.4 360.5h.9v.9h-.9zM204.6 356.5h.9v.9h-.9zM224.7 354.1h.9v.9h-.9zM219.1 356.2h.9v.9h-.9zM233.0 360.0h.9v.9h-.9zM204.1 357.4h.9v.9h-.9zM215.1 351.5h.9v.9h-.9zM201.7 350.3h.9v.9h-.9zM197.7 348.5h.9v.9h-.9zM221.4 359.2h.9v.9h-.9zM205.5 345.7h.9v.9h-.9zM191.7 367.0h.9v.9h-.9zM206.5 364.0h.9v.9h-.9zM209.8 338.8h.9v.9h-.9zM210.8 358.3h.9v.9h-.9zM212.9 356.6h.9v.9h-.9zM206.8 347.0h.9v.9h-.9zM224.9 351.6h.9v.9h-.9zM203.8 355.8h.9v.9h-.9zM211.2 356.2h.9v.9h-.9zM220.9 362.7h.9v.9h-.9zM216.9 352.1h.9v.9h-.9zM222.0 359.7h.9v.9h-.9zM202.4 365.7h.9v.9h-.9zM206.2 350.3h.9v.9h-.9zM201.8 345.4h.9v.9h-.9zM217.3 353.5h.9v.9h-.9zM209.5 350.0h.9v.9h-.9zM215.5 355.8h.9v.9h-.9zM223.6 348.1h.9v.9h-.9zM199.3 367.2h.9v.9h-.9zM195.4 351.6h.9v.9h-.9zM205.3 360.9h.9v.9h-.9zM208.4 346.4h.9v.9h-.9zM207.7 352.0h.9v.9h-.9zM205.2 346.7h.9v.9h-.9zM227.7 347.9h.9v.9h-.9zM196.1 347.1h.9v.9h-.9zM185.4 340.4h.9v.9h-.9zM173.2 345.1h.9v.9h-.9zM171.6 350.3h.9v.9h-.9zM191.9 345.0h.9v.9h-.9zM186.1 343.4h.9v.9h-.9zM180.8 346.0h.9v.9h-.9zM170.6 343.6h.9v.9h-.9zM188.6 348.4h.9v.9h-.9zM177.3 344.4h.9v.9h-.9zM173.9 340.1h.9v.9h-.9zM170.5 339.2h.9v.9h-.9zM191.9 338.7h.9v.9h-.9zM178.7 345.1h.9v.9h-.9zM170.5 351.0h.9v.9h-.9zM190.3 343.9h.9v.9h-.9zM192.8 344.5h.9v.9h-.9zM185.4 346.9h.9v.9h-.9zM177.5 342.0h.9v.9h-.9zM171.9 346.8h.9v.9h-.9zM189.0 343.4h.9v.9h-.9zM174.7 347.5h.9v.9h-.9zM188.7 347.8h.9v.9h-.9zM175.9 339.9h.9v.9h-.9zM186.0 339.1h.9v.9h-.9zM189.0 340.9h.9v.9h-.9zM177.7 343.0h.9v.9h-.9zM170.2 335.8h.9v.9h-.9zM185.4 342.2h.9v.9h-.9zM180.0 346.4h.9v.9h-.9zM176.4 342.3h.9v.9h-.9zM196.3 342.2h.9v.9h-.9zM188.6 341.9h.9v.9h-.9zM191.7 343.0h.9v.9h-.9zM184.5 344.8h.9v.9h-.9zM178.2 341.9h.9v.9h-.9zM178.8 344.8h.9v.9h-.9zM178.2 386.3h.9v.9h-.9zM178.2 386.4h.9v.9h-.9zM179.7 377.1h.9v.9h-.9zM185.1 382.4h.9v.9h-.9zM185.6 398.8h.9v.9h-.9zM180.4 379.4h.9v.9h-.9zM175.1 383.8h.9v.9h-.9zM186.0 371.4h.9v.9h-.9zM179.2 371.9h.9v.9h-.9zM183.4 382.6h.9v.9h-.9zM181.6 392.1h.9v.9h-.9zM183.0 374.5h.9v.9h-.9zM184.4 374.5h.9v.9h-.9zM185.6 374.7h.9v.9h-.9zM183.9 383.3h.9v.9h-.9zM177.3 374.7h.9v.9h-.9zM180.9 392.8h.9v.9h-.9zM181.9 382.4h.9v.9h-.9zM179.4 382.0h.9v.9h-.9zM178.5 380.7h.9v.9h-.9zM175.1 382.4h.9v.9h-.9zM183.3 376.7h.9v.9h-.9zM184.4 386.9h.9v.9h-.9zM177.4 374.3h.9v.9h-.9zM176.5 384.7h.9v.9h-.9zM182.0 378.4h.9v.9h-.9zM176.4 374.4h.9v.9h-.9zM178.3 395.6h.9v.9h-.9zM180.9 397.0h.9v.9h-.9zM184.0 383.6h.9v.9h-.9zM183.6 386.0h.9v.9h-.9zM179.3 392.3h.9v.9h-.9zM186.7 383.9h.9v.9h-.9zM178.4 379.9h.9v.9h-.9zM178.9 392.2h.9v.9h-.9zM187.7 380.1h.9v.9h-.9zM174.4 379.2h.9v.9h-.9zM178.2 382.4h.9v.9h-.9zM177.3 381.6h.9v.9h-.9zM179.1 378.2h.9v.9h-.9zM181.2 382.4h.9v.9h-.9zM177.3 383.3h.9v.9h-.9zM183.1 397.5h.9v.9h-.9zM178.5 380.5h.9v.9h-.9zM183.3 385.4h.9v.9h-.9zM177.9 381.0h.9v.9h-.9zM177.7 371.3h.9v.9h-.9zM179.1 382.4h.9v.9h-.9zM179.6 397.8h.9v.9h-.9zM177.3 371.5h.9v.9h-.9zM184.5 377.1h.9v.9h-.9zM186.9 377.6h.9v.9h-.9zM177.1 376.0h.9v.9h-.9zM175.8 374.6h.9v.9h-.9zM179.9 390.4h.9v.9h-.9zM185.9 389.5h.9v.9h-.9zM189.2 395.9h.9v.9h-.9zM186.1 390.1h.9v.9h-.9zM177.5 399.4h.9v.9h-.9zM178.1 387.4h.9v.9h-.9zM184.1 387.2h.9v.9h-.9zM173.7 385.3h.9v.9h-.9zM185.1 385.0h.9v.9h-.9zM175.7 392.4h.9v.9h-.9zM176.1 383.6h.9v.9h-.9zM179.3 396.9h.9v.9h-.9zM185.1 390.8h.9v.9h-.9zM179.4 394.4h.9v.9h-.9zM186.0 388.2h.9v.9h-.9zM185.3 395.1h.9v.9h-.9zM182.9 398.1h.9v.9h-.9zM188.4 392.0h.9v.9h-.9zM187.0 395.0h.9v.9h-.9zM181.9 391.2h.9v.9h-.9zM175.0 391.3h.9v.9h-.9zM183.9 399.3h.9v.9h-.9zM180.4 399.9h.9v.9h-.9zM182.6 389.3h.9v.9h-.9zM178.0 393.5h.9v.9h-.9zM177.3 394.6h.9v.9h-.9zM185.5 396.2h.9v.9h-.9zM188.9 388.0h.9v.9h-.9zM190.2 395.2h.9v.9h-.9zM176.9 379.7h.9v.9h-.9zM183.9 394.8h.9v.9h-.9zM186.8 397.1h.9v.9h-.9zM183.2 397.3h.9v.9h-.9zM172.2 381.6h.9v.9h-.9zM180.3 394.9h.9v.9h-.9zM175.5 385.4h.9v.9h-.9zM185.9 386.1h.9v.9h-.9zM179.0 393.7h.9v.9h-.9zM184.8 393.3h.9v.9h-.9zM174.4 388.9h.9v.9h-.9zM193.7 391.9h.9v.9h-.9zM192.5 390.3h.9v.9h-.9zM191.5 388.9h.9v.9h-.9zM184.0 374.0h.9v.9h-.9zM200.9 397.3h.9v.9h-.9zM197.9 382.7h.9v.9h-.9zM195.9 378.5h.9v.9h-.9zM189.4 390.4h.9v.9h-.9zM181.8 390.2h.9v.9h-.9zM196.4 382.9h.9v.9h-.9zM200.0 373.4h.9v.9h-.9zM200.6 392.5h.9v.9h-.9zM197.3 396.1h.9v.9h-.9zM194.7 376.2h.9v.9h-.9zM195.2 367.8h.9v.9h-.9zM187.8 383.0h.9v.9h-.9zM188.4 391.0h.9v.9h-.9zM175.2 380.8h.9v.9h-.9zM197.9 366.5h.9v.9h-.9zM187.1 378.7h.9v.9h-.9zM184.5 397.6h.9v.9h-.9zM184.5 400.3h.9v.9h-.9zM228.6 349.0h.9v.9h-.9zM244.4 360.7h.9v.9h-.9zM234.5 340.1h.9v.9h-.9zM237.5 341.9h.9v.9h-.9zM244.0 351.8h.9v.9h-.9zM237.1 357.3h.9v.9h-.9zM238.9 354.7h.9v.9h-.9zM231.0 366.5h.9v.9h-.9zM246.5 349.6h.9v.9h-.9zM248.8 359.2h.9v.9h-.9zM243.8 362.1h.9v.9h-.9z" fill="rgb(90, 100, 200)" fill-opacity="0.32"/><path d="M181.8 368.9h.9v.9h-.9zM178.3 367.9h.9v.9h-.9zM176.8 352.9h.9v.9h-.9zM180.3 348.9h.9v.9h-.9zM176.7 364.7h.9v.9h-.9zM180.3 349.0h.9v.9h-.9zM180.5 371.1h.9v.9h-.9zM183.2 369.7h.9v.9h-.9zM180.1 368.3h.9v.9h-.9zM181.5 369.0h.9v.9h-.9zM176.4 356.6h.9v.9h-.9zM181.4 348.9h.9v.9h-.9zM176.5 356.1h.9v.9h-.9zM184.8 366.9h.9v.9h-.9zM177.7 350.2h.9v.9h-.9zM179.6 350.1h.9v.9h-.9zM178.3 349.3h.9v.9h-.9zM185.2 351.7h.9v.9h-.9zM179.2 345.4h.9v.9h-.9zM176.1 355.3h.9v.9h-.9zM178.8 350.1h.9v.9h-.9zM178.2 368.1h.9v.9h-.9zM187.2 363.3h.9v.9h-.9zM180.7 369.1h.9v.9h-.9zM183.4 371.0h.9v.9h-.9zM175.5 353.1h.9v.9h-.9zM178.8 350.1h.9v.9h-.9zM183.3 369.1h.9v.9h-.9zM188.8 363.8h.9v.9h-.9zM178.9 364.4h.9v.9h-.9zM176.5 354.0h.9v.9h-.9zM178.8 368.4h.9v.9h-.9zM179.7 369.6h.9v.9h-.9zM178.2 368.4h.9v.9h-.9zM189.8 351.9h.9v.9h-.9zM188.1 351.1h.9v.9h-.9zM180.7 348.4h.9v.9h-.9zM188.2 353.5h.9v.9h-.9zM179.7 368.6h.9v.9h-.9zM189.5 351.3h.9v.9h-.9zM176.5 355.7h.9v.9h-.9zM186.1 351.3h.9v.9h-.9zM175.1 355.1h.9v.9h-.9zM179.3 348.7h.9v.9h-.9zM188.8 363.6h.9v.9h-.9zM175.9 360.0h.9v.9h-.9zM183.4 370.5h.9v.9h-.9zM185.6 348.7h.9v.9h-.9zM187.1 363.7h.9v.9h-.9zM177.8 349.1h.9v.9h-.9zM177.0 352.1h.9v.9h-.9zM179.4 371.0h.9v.9h-.9zM189.5 353.3h.9v.9h-.9zM175.5 353.4h.9v.9h-.9zM183.2 370.4h.9v.9h-.9zM183.3 368.4h.9v.9h-.9zM187.1 350.0h.9v.9h-.9zM180.9 349.1h.9v.9h-.9zM186.6 363.9h.9v.9h-.9zM186.4 365.9h.9v.9h-.9zM181.7 348.2h.9v.9h-.9zM178.3 346.1h.9v.9h-.9zM176.9 364.6h.9v.9h-.9zM181.2 370.5h.9v.9h-.9zM180.9 348.6h.9v.9h-.9zM185.7 348.6h.9v.9h-.9zM181.8 371.0h.9v.9h-.9zM177.0 363.0h.9v.9h-.9zM176.5 356.3h.9v.9h-.9zM176.4 360.7h.9v.9h-.9zM178.8 349.2h.9v.9h-.9zM176.5 357.1h.9v.9h-.9zM177.5 367.0h.9v.9h-.9zM177.0 365.9h.9v.9h-.9zM190.0 351.9h.9v.9h-.9zM191.5 361.3h.9v.9h-.9zM195.3 354.0h.9v.9h-.9zM192.6 354.3h.9v.9h-.9zM194.3 353.7h.9v.9h-.9zM194.0 361.9h.9v.9h-.9zM190.3 353.1h.9v.9h-.9zM186.9 365.8h.9v.9h-.9zM200.2 358.3h.9v.9h-.9zM190.5 362.8h.9v.9h-.9zM199.1 356.7h.9v.9h-.9zM190.9 354.9h.9v.9h-.9zM191.2 352.2h.9v.9h-.9zM191.7 355.9h.9v.9h-.9zM198.9 358.2h.9v.9h-.9zM191.1 355.9h.9v.9h-.9zM192.2 362.0h.9v.9h-.9zM196.6 359.8h.9v.9h-.9zM193.7 352.1h.9v.9h-.9zM197.4 352.3h.9v.9h-.9zM196.1 359.9h.9v.9h-.9zM188.5 362.7h.9v.9h-.9zM191.4 353.2h.9v.9h-.9zM191.2 351.8h.9v.9h-.9zM200.2 357.2h.9v.9h-.9zM190.9 355.0h.9v.9h-.9zM200.5 353.9h.9v.9h-.9zM197.0 362.0h.9v.9h-.9zM198.4 359.0h.9v.9h-.9zM190.1 363.0h.9v.9h-.9zM193.1 362.6h.9v.9h-.9zM192.5 355.6h.9v.9h-.9zM190.1 356.9h.9v.9h-.9zM190.4 361.3h.9v.9h-.9zM197.8 353.6h.9v.9h-.9zM198.3 356.6h.9v.9h-.9zM190.7 364.2h.9v.9h-.9zM189.7 350.6h.9v.9h-.9zM188.4 363.8h.9v.9h-.9zM194.2 351.4h.9v.9h-.9zM190.2 363.3h.9v.9h-.9zM201.6 355.0h.9v.9h-.9zM191.2 362.3h.9v.9h-.9zM199.3 358.9h.9v.9h-.9zM197.2 361.7h.9v.9h-.9zM196.4 359.4h.9v.9h-.9zM187.3 350.6h.9v.9h-.9zM191.0 351.5h.9v.9h-.9zM190.5 356.5h.9v.9h-.9zM200.3 355.5h.9v.9h-.9zM194.1 354.1h.9v.9h-.9zM196.0 361.3h.9v.9h-.9zM202.0 357.8h.9v.9h-.9zM201.6 356.0h.9v.9h-.9zM201.1 355.8h.9v.9h-.9zM199.6 356.4h.9v.9h-.9zM198.7 358.0h.9v.9h-.9zM197.8 353.2h.9v.9h-.9zM198.5 354.5h.9v.9h-.9zM186.2 350.6h.9v.9h-.9zM191.1 354.6h.9v.9h-.9zM199.9 355.9h.9v.9h-.9zM194.9 362.4h.9v.9h-.9zM188.5 362.9h.9v.9h-.9zM192.2 352.4h.9v.9h-.9zM193.0 352.7h.9v.9h-.9zM197.9 353.5h.9v.9h-.9zM192.5 352.9h.9v.9h-.9zM189.4 354.2h.9v.9h-.9zM196.5 361.4h.9v.9h-.9zM201.9 358.5h.9v.9h-.9zM200.7 354.9h.9v.9h-.9zM196.4 359.2h.9v.9h-.9zM189.9 352.6h.9v.9h-.9zM194.4 352.1h.9v.9h-.9zM196.7 353.0h.9v.9h-.9zM192.0 350.7h.9v.9h-.9zM190.1 361.5h.9v.9h-.9zM194.1 361.8h.9v.9h-.9zM201.9 357.9h.9v.9h-.9zM192.9 362.0h.9v.9h-.9zM196.9 361.3h.9v.9h-.9zM198.7 355.7h.9v.9h-.9zM193.4 361.9h.9v.9h-.9zM192.9 355.6h.9v.9h-.9zM196.8 352.6h.9v.9h-.9zM190.4 353.9h.9v.9h-.9zM198.6 357.8h.9v.9h-.9zM197.2 360.5h.9v.9h-.9zM191.1 353.1h.9v.9h-.9zM201.8 357.9h.9v.9h-.9zM201.7 359.2h.9v.9h-.9zM186.6 351.8h.9v.9h-.9zM199.6 354.8h.9v.9h-.9zM201.5 355.7h.9v.9h-.9zM201.7 358.7h.9v.9h-.9zM201.9 356.5h.9v.9h-.9zM193.0 352.9h.9v.9h-.9zM199.5 354.8h.9v.9h-.9zM201.3 353.7h.9v.9h-.9zM196.8 352.6h.9v.9h-.9zM200.8 355.2h.9v.9h-.9zM198.1 353.1h.9v.9h-.9zM201.2 356.1h.9v.9h-.9zM191.5 356.0h.9v.9h-.9zM201.4 358.9h.9v.9h-.9zM189.0 350.3h.9v.9h-.9zM191.2 351.2h.9v.9h-.9zM198.7 354.0h.9v.9h-.9zM181.0 348.4h.9v.9h-.9zM184.4 348.2h.9v.9h-.9zM179.9 345.9h.9v.9h-.9zM188.2 351.1h.9v.9h-.9zM187.0 350.4h.9v.9h-.9zM187.4 352.6h.9v.9h-.9zM178.0 349.2h.9v.9h-.9zM176.6 352.4h.9v.9h-.9zM181.4 377.3h.9v.9h-.9zM178.5 388.8h.9v.9h-.9zM182.3 386.6h.9v.9h-.9zM181.1 373.5h.9v.9h-.9zM182.6 379.7h.9v.9h-.9zM178.5 389.8h.9v.9h-.9zM184.3 390.6h.9v.9h-.9zM181.2 390.2h.9v.9h-.9zM183.9 380.5h.9v.9h-.9zM180.5 374.1h.9v.9h-.9zM181.7 371.5h.9v.9h-.9zM180.2 378.0h.9v.9h-.9zM182.4 392.3h.9v.9h-.9zM179.3 384.6h.9v.9h-.9zM181.2 380.6h.9v.9h-.9zM182.3 371.8h.9v.9h-.9zM181.4 373.3h.9v.9h-.9zM182.3 385.9h.9v.9h-.9zM181.3 372.8h.9v.9h-.9zM183.9 380.9h.9v.9h-.9zM180.6 386.4h.9v.9h-.9zM180.4 375.7h.9v.9h-.9zM184.3 384.1h.9v.9h-.9zM181.0 373.8h.9v.9h-.9zM178.2 384.5h.9v.9h-.9zM182.1 389.0h.9v.9h-.9zM180.1 386.8h.9v.9h-.9zM184.9 383.0h.9v.9h-.9zM180.9 375.1h.9v.9h-.9zM181.1 380.7h.9v.9h-.9zM181.1 374.7h.9v.9h-.9zM180.3 374.7h.9v.9h-.9zM180.2 389.5h.9v.9h-.9zM177.6 367.1h.9v.9h-.9zM181.7 388.2h.9v.9h-.9zM180.8 384.4h.9v.9h-.9zM182.7 379.7h.9v.9h-.9zM181.3 377.8h.9v.9h-.9zM182.8 375.4h.9v.9h-.9zM178.4 384.6h.9v.9h-.9zM182.4 380.6h.9v.9h-.9zM178.9 372.9h.9v.9h-.9zM182.0 394.1h.9v.9h-.9zM183.5 371.5h.9v.9h-.9zM178.8 383.4h.9v.9h-.9zM181.5 386.7h.9v.9h-.9zM180.5 387.6h.9v.9h-.9zM180.7 384.5h.9v.9h-.9zM178.9 373.6h.9v.9h-.9zM180.7 373.9h.9v.9h-.9zM178.4 372.8h.9v.9h-.9zM181.9 376.8h.9v.9h-.9zM182.6 376.9h.9v.9h-.9zM179.7 383.9h.9v.9h-.9zM182.0 376.0h.9v.9h-.9zM178.3 374.5h.9v.9h-.9zM181.6 375.9h.9v.9h-.9zM182.8 376.1h.9v.9h-.9zM180.2 376.5h.9v.9h-.9zM179.8 373.5h.9v.9h-.9zM180.1 375.1h.9v.9h-.9zM184.0 380.5h.9v.9h-.9zM179.5 370.0h.9v.9h-.9zM183.1 393.2h.9v.9h-.9zM180.5 378.8h.9v.9h-.9zM182.4 374.0h.9v.9h-.9zM182.3 387.3h.9v.9h-.9zM181.8 377.3h.9v.9h-.9zM181.5 387.0h.9v.9h-.9zM181.5 386.8h.9v.9h-.9zM179.3 393.7h.9v.9h-.9zM181.7 380.8h.9v.9h-.9zM184.3 390.3h.9v.9h-.9zM180.5 386.9h.9v.9h-.9zM182.4 371.3h.9v.9h-.9zM179.6 385.5h.9v.9h-.9zM182.4 388.5h.9v.9h-.9zM181.7 393.2h.9v.9h-.9zM180.8 387.8h.9v.9h-.9zM184.3 392.2h.9v.9h-.9zM180.4 385.5h.9v.9h-.9zM181.5 394.0h.9v.9h-.9zM179.3 388.5h.9v.9h-.9zM183.2 390.2h.9v.9h-.9zM179.0 388.9h.9v.9h-.9zM181.9 380.3h.9v.9h-.9zM178.2 389.9h.9v.9h-.9zM183.2 391.4h.9v.9h-.9zM184.1 393.0h.9v.9h-.9zM179.4 389.6h.9v.9h-.9zM183.8 392.9h.9v.9h-.9zM178.7 389.3h.9v.9h-.9zM184.1 390.1h.9v.9h-.9zM179.8 389.8h.9v.9h-.9zM184.3 383.2h.9v.9h-.9zM178.7 372.6h.9v.9h-.9zM183.4 393.3h.9v.9h-.9zM184.4 390.4h.9v.9h-.9z" fill="rgb(85, 108, 204)" fill-opacity="0.43"/><path d="M182.7 348.4h.9v.9h-.9zM186.1 358.6h.9v.9h-.9zM177.9 354.4h.9v.9h-.9zM182.8 367.9h.9v.9h-.9zM178.0 354.2h.9v.9h-.9zM178.2 353.7h.9v.9h-.9zM183.4 348.5h.9v.9h-.9zM178.6 350.2h.9v.9h-.9zM177.4 353.4h.9v.9h-.9zM182.8 349.6h.9v.9h-.9zM178.2 366.2h.9v.9h-.9zM180.3 350.4h.9v.9h-.9zM177.7 363.0h.9v.9h-.9zM179.9 366.8h.9v.9h-.9zM183.2 351.7h.9v.9h-.9zM177.1 359.9h.9v.9h-.9zM182.5 349.6h.9v.9h-.9zM186.0 365.1h.9v.9h-.9zM177.6 362.4h.9v.9h-.9zM183.4 366.4h.9v.9h-.9zM182.3 370.2h.9v.9h-.9zM181.2 367.8h.9v.9h-.9zM183.4 366.7h.9v.9h-.9zM180.0 353.5h.9v.9h-.9zM182.8 349.9h.9v.9h-.9zM186.0 361.7h.9v.9h-.9zM179.1 367.4h.9v.9h-.9zM185.1 352.9h.9v.9h-.9zM176.7 354.2h.9v.9h-.9zM180.0 365.2h.9v.9h-.9zM177.7 353.9h.9v.9h-.9zM186.4 354.1h.9v.9h-.9zM179.5 352.1h.9v.9h-.9zM183.9 351.0h.9v.9h-.9zM177.6 360.2h.9v.9h-.9zM184.1 363.8h.9v.9h-.9zM183.4 366.4h.9v.9h-.9zM179.6 366.1h.9v.9h-.9zM177.3 353.5h.9v.9h-.9zM183.8 348.5h.9v.9h-.9zM186.1 361.6h.9v.9h-.9zM182.9 348.4h.9v.9h-.9zM187.7 357.5h.9v.9h-.9zM177.3 354.9h.9v.9h-.9zM185.6 352.4h.9v.9h-.9zM183.3 350.2h.9v.9h-.9zM186.2 359.7h.9v.9h-.9zM185.0 353.1h.9v.9h-.9zM183.1 349.8h.9v.9h-.9zM181.2 370.1h.9v.9h-.9zM186.0 352.2h.9v.9h-.9zM185.4 359.6h.9v.9h-.9zM182.4 350.1h.9v.9h-.9zM187.5 354.4h.9v.9h-.9zM177.7 364.4h.9v.9h-.9zM187.9 358.0h.9v.9h-.9zM187.9 357.8h.9v.9h-.9zM185.0 351.9h.9v.9h-.9zM180.9 350.5h.9v.9h-.9zM187.1 355.9h.9v.9h-.9zM183.7 349.0h.9v.9h-.9zM182.6 370.2h.9v.9h-.9zM177.5 363.4h.9v.9h-.9zM186.9 361.7h.9v.9h-.9zM183.8 350.0h.9v.9h-.9zM187.7 361.2h.9v.9h-.9zM187.6 355.7h.9v.9h-.9zM188.4 354.4h.9v.9h-.9zM187.0 361.8h.9v.9h-.9zM185.1 358.7h.9v.9h-.9zM186.9 359.2h.9v.9h-.9zM186.5 357.5h.9v.9h-.9zM178.3 352.0h.9v.9h-.9zM182.3 370.6h.9v.9h-.9zM179.8 351.3h.9v.9h-.9zM189.2 356.2h.9v.9h-.9zM185.2 356.9h.9v.9h-.9zM187.8 360.1h.9v.9h-.9zM188.4 360.9h.9v.9h-.9zM177.9 365.9h.9v.9h-.9zM177.4 365.5h.9v.9h-.9zM188.2 358.1h.9v.9h-.9zM177.5 363.5h.9v.9h-.9zM179.5 367.3h.9v.9h-.9zM185.2 352.5h.9v.9h-.9zM184.2 365.3h.9v.9h-.9zM179.4 367.8h.9v.9h-.9zM177.0 354.4h.9v.9h-.9zM182.4 369.5h.9v.9h-.9zM178.9 352.1h.9v.9h-.9zM181.1 352.6h.9v.9h-.9zM180.8 349.3h.9v.9h-.9zM179.5 351.6h.9v.9h-.9zM179.9 351.6h.9v.9h-.9zM184.8 353.7h.9v.9h-.9zM183.3 350.7h.9v.9h-.9zM183.3 349.8h.9v.9h-.9zM189.3 359.0h.9v.9h-.9zM181.0 351.2h.9v.9h-.9zM179.0 351.2h.9v.9h-.9zM180.6 366.3h.9v.9h-.9zM180.8 366.8h.9v.9h-.9zM179.7 365.7h.9v.9h-.9zM177.4 363.9h.9v.9h-.9zM177.6 355.1h.9v.9h-.9zM180.8 367.8h.9v.9h-.9zM178.6 353.2h.9v.9h-.9zM177.7 365.0h.9v.9h-.9zM186.6 352.9h.9v.9h-.9zM186.6 363.1h.9v.9h-.9zM186.7 354.7h.9v.9h-.9zM184.2 349.3h.9v.9h-.9zM177.9 365.1h.9v.9h-.9zM186.6 353.6h.9v.9h-.9zM183.6 367.0h.9v.9h-.9zM187.1 354.9h.9v.9h-.9zM186.7 356.9h.9v.9h-.9zM183.1 348.5h.9v.9h-.9zM188.3 355.3h.9v.9h-.9zM178.4 352.1h.9v.9h-.9zM182.9 370.4h.9v.9h-.9zM187.2 357.3h.9v.9h-.9zM176.2 355.1h.9v.9h-.9zM185.4 364.0h.9v.9h-.9zM185.6 362.2h.9v.9h-.9zM180.4 350.9h.9v.9h-.9zM178.8 365.8h.9v.9h-.9zM189.0 355.6h.9v.9h-.9zM197.0 357.2h.9v.9h-.9zM190.0 354.8h.9v.9h-.9zM188.2 360.9h.9v.9h-.9zM194.6 357.2h.9v.9h-.9zM190.8 360.7h.9v.9h-.9zM194.8 354.7h.9v.9h-.9zM188.7 360.3h.9v.9h-.9zM194.6 354.3h.9v.9h-.9zM194.1 358.1h.9v.9h-.9zM188.3 357.5h.9v.9h-.9zM191.0 359.4h.9v.9h-.9zM187.6 356.8h.9v.9h-.9zM187.9 356.3h.9v.9h-.9zM190.7 359.6h.9v.9h-.9zM194.4 355.4h.9v.9h-.9zM191.8 356.7h.9v.9h-.9zM197.8 357.4h.9v.9h-.9zM187.4 358.2h.9v.9h-.9zM196.3 357.3h.9v.9h-.9zM189.2 357.3h.9v.9h-.9zM189.6 361.1h.9v.9h-.9zM192.6 360.5h.9v.9h-.9zM189.3 358.5h.9v.9h-.9zM186.6 355.2h.9v.9h-.9zM189.4 358.9h.9v.9h-.9zM184.4 351.5h.9v.9h-.9zM193.4 360.2h.9v.9h-.9zM197.8 356.5h.9v.9h-.9zM189.6 359.4h.9v.9h-.9zM190.0 360.1h.9v.9h-.9zM187.3 358.0h.9v.9h-.9zM192.9 361.1h.9v.9h-.9zM197.6 356.8h.9v.9h-.9zM195.1 360.5h.9v.9h-.9zM196.1 354.0h.9v.9h-.9zM192.7 357.8h.9v.9h-.9zM194.6 355.1h.9v.9h-.9zM186.7 354.7h.9v.9h-.9zM192.2 357.2h.9v.9h-.9zM193.7 359.5h.9v.9h-.9zM187.6 358.4h.9v.9h-.9zM193.9 357.4h.9v.9h-.9zM188.9 357.1h.9v.9h-.9zM184.9 349.7h.9v.9h-.9zM194.6 360.7h.9v.9h-.9zM195.8 360.1h.9v.9h-.9zM196.8 357.3h.9v.9h-.9zM188.7 361.6h.9v.9h-.9zM186.7 354.2h.9v.9h-.9zM189.8 362.0h.9v.9h-.9zM194.9 358.3h.9v.9h-.9zM193.1 356.5h.9v.9h-.9zM196.2 355.0h.9v.9h-.9zM186.9 353.5h.9v.9h-.9zM186.8 358.8h.9v.9h-.9zM188.1 357.2h.9v.9h-.9zM189.3 357.6h.9v.9h-.9zM191.4 360.1h.9v.9h-.9zM189.0 359.3h.9v.9h-.9zM188.3 354.9h.9v.9h-.9zM191.0 357.8h.9v.9h-.9zM190.0 356.0h.9v.9h-.9zM189.6 358.3h.9v.9h-.9zM195.1 357.6h.9v.9h-.9zM187.4 361.0h.9v.9h-.9zM187.4 361.1h.9v.9h-.9zM194.6 359.8h.9v.9h-.9zM195.3 354.9h.9v.9h-.9zM197.7 357.2h.9v.9h-.9zM188.4 361.4h.9v.9h-.9zM195.1 357.8h.9v.9h-.9zM196.9 354.0h.9v.9h-.9zM190.3 360.8h.9v.9h-.9zM187.9 362.0h.9v.9h-.9zM193.8 354.8h.9v.9h-.9zM196.8 353.4h.9v.9h-.9zM195.2 359.0h.9v.9h-.9zM194.0 356.6h.9v.9h-.9zM192.7 358.2h.9v.9h-.9zM197.1 355.1h.9v.9h-.9zM192.2 357.7h.9v.9h-.9zM189.0 357.8h.9v.9h-.9zM193.8 356.6h.9v.9h-.9zM192.8 356.6h.9v.9h-.9zM188.7 359.4h.9v.9h-.9zM191.7 361.0h.9v.9h-.9zM196.0 358.2h.9v.9h-.9zM194.6 358.5h.9v.9h-.9zM193.5 353.8h.9v.9h-.9zM196.1 353.2h.9v.9h-.9zM190.0 358.4h.9v.9h-.9zM193.1 354.0h.9v.9h-.9zM187.8 356.8h.9v.9h-.9zM188.6 361.2h.9v.9h-.9zM184.8 349.3h.9v.9h-.9zM197.3 356.1h.9v.9h-.9zM191.8 359.3h.9v.9h-.9zM193.9 360.0h.9v.9h-.9zM192.7 354.1h.9v.9h-.9zM186.5 357.3h.9v.9h-.9zM189.1 355.5h.9v.9h-.9zM195.4 356.8h.9v.9h-.9zM195.1 356.4h.9v.9h-.9zM192.2 353.8h.9v.9h-.9zM195.2 359.6h.9v.9h-.9zM183.6 350.0h.9v.9h-.9zM196.6 357.4h.9v.9h-.9zM195.7 356.5h.9v.9h-.9zM188.2 361.7h.9v.9h-.9zM195.4 355.3h.9v.9h-.9zM189.1 359.9h.9v.9h-.9zM195.3 359.6h.9v.9h-.9zM195.3 356.4h.9v.9h-.9zM189.9 359.1h.9v.9h-.9zM186.1 355.5h.9v.9h-.9zM189.7 354.9h.9v.9h-.9zM194.1 357.7h.9v.9h-.9zM195.4 359.7h.9v.9h-.9zM187.6 354.1h.9v.9h-.9zM190.3 360.3h.9v.9h-.9zM187.4 354.9h.9v.9h-.9zM191.0 356.9h.9v.9h-.9zM195.8 360.6h.9v.9h-.9zM191.7 359.4h.9v.9h-.9zM187.0 361.6h.9v.9h-.9zM193.8 359.2h.9v.9h-.9zM197.1 354.6h.9v.9h-.9zM189.6 360.0h.9v.9h-.9zM192.7 353.7h.9v.9h-.9zM194.0 360.6h.9v.9h-.9zM191.0 357.5h.9v.9h-.9zM194.7 355.4h.9v.9h-.9zM194.5 357.9h.9v.9h-.9zM193.3 354.0h.9v.9h-.9zM193.7 357.6h.9v.9h-.9zM191.2 358.6h.9v.9h-.9zM194.3 354.7h.9v.9h-.9zM186.2 359.2h.9v.9h-.9zM197.8 357.2h.9v.9h-.9zM197.0 353.9h.9v.9h-.9zM197.4 355.6h.9v.9h-.9zM195.8 356.8h.9v.9h-.9zM197.5 357.4h.9v.9h-.9zM197.4 355.8h.9v.9h-.9zM195.1 356.7h.9v.9h-.9zM193.4 355.0h.9v.9h-.9zM195.7 359.5h.9v.9h-.9zM187.2 353.4h.9v.9h-.9zM192.8 360.4h.9v.9h-.9zM192.6 361.1h.9v.9h-.9zM194.4 356.0h.9v.9h-.9zM186.6 362.1h.9v.9h-.9zM189.2 355.7h.9v.9h-.9zM195.4 357.2h.9v.9h-.9zM188.3 361.1h.9v.9h-.9zM196.5 358.4h.9v.9h-.9zM196.0 356.3h.9v.9h-.9zM184.5 349.6h.9v.9h-.9zM180.4 350.3h.9v.9h-.9zM181.5 350.5h.9v.9h-.9zM182.1 351.2h.9v.9h-.9zM181.4 369.4h.9v.9h-.9zM176.4 359.6h.9v.9h-.9zM183.0 369.3h.9v.9h-.9zM182.2 370.1h.9v.9h-.9zM178.5 366.3h.9v.9h-.9zM182.5 369.3h.9v.9h-.9zM182.4 369.9h.9v.9h-.9zM183.3 366.5h.9v.9h-.9z" fill="rgb(81, 116, 208)" fill-opacity="0.54"/><path d="M177.5 361.4h.9v.9h-.9zM184.6 356.0h.9v.9h-.9zM181.2 367.0h.9v.9h-.9zM184.5 353.7h.9v.9h-.9zM183.9 353.5h.9v.9h-.9zM185.5 355.3h.9v.9h-.9zM183.9 364.4h.9v.9h-.9zM183.3 354.8h.9v.9h-.9zM179.8 353.0h.9v.9h-.9zM185.6 353.9h.9v.9h-.9zM178.5 353.4h.9v.9h-.9zM182.7 351.5h.9v.9h-.9zM180.7 352.3h.9v.9h-.9zM179.6 352.5h.9v.9h-.9zM183.5 365.5h.9v.9h-.9zM180.7 365.7h.9v.9h-.9zM179.4 365.1h.9v.9h-.9zM177.9 358.9h.9v.9h-.9zM180.3 353.0h.9v.9h-.9zM178.8 356.1h.9v.9h-.9zM181.8 351.9h.9v.9h-.9zM182.8 353.1h.9v.9h-.9zM180.5 352.4h.9v.9h-.9zM180.8 351.7h.9v.9h-.9zM177.7 357.7h.9v.9h-.9zM180.8 366.6h.9v.9h-.9zM178.1 364.6h.9v.9h-.9zM182.1 366.9h.9v.9h-.9zM181.5 351.7h.9v.9h-.9zM178.1 363.6h.9v.9h-.9zM184.0 352.8h.9v.9h-.9zM177.5 359.1h.9v.9h-.9zM186.5 360.9h.9v.9h-.9zM185.8 358.3h.9v.9h-.9zM184.9 352.3h.9v.9h-.9zM179.0 365.1h.9v.9h-.9zM186.1 361.1h.9v.9h-.9zM185.9 353.5h.9v.9h-.9zM184.1 352.7h.9v.9h-.9zM180.8 352.5h.9v.9h-.9zM182.8 351.8h.9v.9h-.9zM178.9 352.3h.9v.9h-.9zM182.1 352.1h.9v.9h-.9zM178.4 366.0h.9v.9h-.9zM184.7 356.7h.9v.9h-.9zM188.3 359.1h.9v.9h-.9zM179.7 366.7h.9v.9h-.9zM178.3 366.1h.9v.9h-.9zM179.8 351.9h.9v.9h-.9zM178.8 353.1h.9v.9h-.9zM178.6 353.9h.9v.9h-.9zM185.3 361.4h.9v.9h-.9zM185.1 354.5h.9v.9h-.9zM178.0 363.6h.9v.9h-.9zM184.5 358.5h.9v.9h-.9zM181.3 352.0h.9v.9h-.9zM177.8 356.7h.9v.9h-.9zM178.7 353.1h.9v.9h-.9zM184.2 355.0h.9v.9h-.9zM180.5 366.6h.9v.9h-.9zM181.3 366.5h.9v.9h-.9zM186.1 360.9h.9v.9h-.9zM180.3 366.4h.9v.9h-.9zM177.7 360.9h.9v.9h-.9zM177.8 358.8h.9v.9h-.9zM193.5 359.1h.9v.9h-.9zM193.7 358.9h.9v.9h-.9zM192.6 359.1h.9v.9h-.9zM186.3 361.2h.9v.9h-.9zM192.3 359.7h.9v.9h-.9zM188.3 359.0h.9v.9h-.9zM192.3 358.6h.9v.9h-.9zM188.6 358.4h.9v.9h-.9zM193.3 358.6h.9v.9h-.9zM186.0 360.5h.9v.9h-.9zM193.9 359.0h.9v.9h-.9zM192.3 359.6h.9v.9h-.9zM193.0 358.4h.9v.9h-.9zM186.0 353.3h.9v.9h-.9zM192.8 359.6h.9v.9h-.9zM192.0 358.9h.9v.9h-.9zM185.9 356.9h.9v.9h-.9zM192.6 358.8h.9v.9h-.9zM192.3 360.1h.9v.9h-.9zM185.5 354.9h.9v.9h-.9zM186.8 360.6h.9v.9h-.9zM193.1 358.8h.9v.9h-.9zM188.2 358.9h.9v.9h-.9zM188.8 358.6h.9v.9h-.9zM192.6 359.3h.9v.9h-.9zM183.3 352.8h.9v.9h-.9zM182.4 366.2h.9v.9h-.9z" fill="rgb(83, 135, 203)" fill-opacity="0.65"/><path d="M182.1 367.2h.9v.9h-.9zM178.1 360.8h.9v.9h-.9zM184.2 363.4h.9v.9h-.9zM178.7 361.1h.9v.9h-.9zM182.0 352.6h.9v.9h-.9zM184.3 364.7h.9v.9h-.9zM177.3 359.3h.9v.9h-.9zM179.3 365.3h.9v.9h-.9zM185.2 359.6h.9v.9h-.9zM181.6 353.1h.9v.9h-.9zM184.7 362.9h.9v.9h-.9zM178.7 363.9h.9v.9h-.9zM184.9 357.8h.9v.9h-.9zM180.7 352.9h.9v.9h-.9zM179.6 366.2h.9v.9h-.9zM177.3 359.1h.9v.9h-.9zM184.2 363.2h.9v.9h-.9zM178.0 359.8h.9v.9h-.9zM182.7 351.2h.9v.9h-.9zM184.9 361.9h.9v.9h-.9zM179.8 354.1h.9v.9h-.9zM184.9 364.2h.9v.9h-.9zM181.9 352.1h.9v.9h-.9zM179.0 354.1h.9v.9h-.9zM178.8 362.6h.9v.9h-.9zM183.5 352.7h.9v.9h-.9zM177.1 357.3h.9v.9h-.9zM180.6 365.9h.9v.9h-.9zM177.9 359.8h.9v.9h-.9zM183.5 364.4h.9v.9h-.9zM181.2 353.1h.9v.9h-.9zM185.5 356.7h.9v.9h-.9zM178.3 361.0h.9v.9h-.9zM180.2 353.9h.9v.9h-.9zM185.1 359.7h.9v.9h-.9zM179.6 353.4h.9v.9h-.9zM184.0 363.2h.9v.9h-.9zM183.3 354.1h.9v.9h-.9zM182.8 352.6h.9v.9h-.9zM178.1 355.1h.9v.9h-.9zM178.6 363.7h.9v.9h-.9zM183.7 354.1h.9v.9h-.9zM182.6 352.0h.9v.9h-.9zM185.4 361.1h.9v.9h-.9zM178.1 361.2h.9v.9h-.9zM184.9 357.2h.9v.9h-.9zM184.1 359.6h.9v.9h-.9zM178.7 361.5h.9v.9h-.9zM185.4 356.9h.9v.9h-.9zM179.0 363.5h.9v.9h-.9zM180.0 364.5h.9v.9h-.9zM184.1 360.7h.9v.9h-.9zM178.9 357.0h.9v.9h-.9zM181.0 351.5h.9v.9h-.9zM181.3 366.3h.9v.9h-.9zM182.8 364.6h.9v.9h-.9zM182.1 365.1h.9v.9h-.9zM180.3 365.0h.9v.9h-.9zM179.1 352.6h.9v.9h-.9zM178.0 358.6h.9v.9h-.9zM180.2 353.9h.9v.9h-.9zM178.6 363.9h.9v.9h-.9zM177.6 358.2h.9v.9h-.9zM184.7 363.9h.9v.9h-.9zM181.2 365.5h.9v.9h-.9zM178.7 361.9h.9v.9h-.9zM181.0 365.6h.9v.9h-.9zM179.5 363.4h.9v.9h-.9zM181.5 352.3h.9v.9h-.9zM181.9 353.7h.9v.9h-.9zM182.2 366.3h.9v.9h-.9zM185.9 359.4h.9v.9h-.9zM184.6 363.9h.9v.9h-.9zM180.2 366.4h.9v.9h-.9zM183.5 363.1h.9v.9h-.9zM183.9 352.7h.9v.9h-.9zM181.3 353.0h.9v.9h-.9zM184.8 356.4h.9v.9h-.9zM185.3 361.7h.9v.9h-.9zM184.4 364.7h.9v.9h-.9zM184.5 359.2h.9v.9h-.9zM178.5 355.5h.9v.9h-.9zM184.4 355.1h.9v.9h-.9zM180.7 366.3h.9v.9h-.9zM179.6 353.9h.9v.9h-.9zM184.2 361.0h.9v.9h-.9zM178.8 359.9h.9v.9h-.9zM178.1 361.5h.9v.9h-.9zM184.2 357.5h.9v.9h-.9zM182.2 352.3h.9v.9h-.9zM180.5 354.2h.9v.9h-.9zM178.5 362.4h.9v.9h-.9zM184.8 353.4h.9v.9h-.9zM178.5 363.4h.9v.9h-.9zM179.4 366.1h.9v.9h-.9zM184.1 359.0h.9v.9h-.9zM180.1 354.2h.9v.9h-.9zM183.1 366.0h.9v.9h-.9zM181.1 367.1h.9v.9h-.9zM179.1 352.8h.9v.9h-.9zM178.4 364.7h.9v.9h-.9zM180.0 351.8h.9v.9h-.9zM184.3 359.1h.9v.9h-.9zM184.2 365.0h.9v.9h-.9zM185.6 355.3h.9v.9h-.9zM184.8 355.9h.9v.9h-.9zM184.1 362.3h.9v.9h-.9zM179.8 363.9h.9v.9h-.9zM184.6 354.5h.9v.9h-.9zM184.5 357.5h.9v.9h-.9zM177.9 358.4h.9v.9h-.9zM185.1 358.9h.9v.9h-.9zM182.5 367.1h.9v.9h-.9z" fill="rgb(88, 161, 193)" fill-opacity="0.76"/><path d="M179.9 362.5h.9v.9h-.9zM182.5 365.5h.9v.9h-.9zM180.8 364.1h.9v.9h-.9zM182.7 353.2h.9v.9h-.9zM179.8 354.0h.9v.9h-.9zM182.4 353.6h.9v.9h-.9zM184.2 363.7h.9v.9h-.9zM178.5 361.7h.9v.9h-.9zM183.1 361.1h.9v.9h-.9zM184.2 361.9h.9v.9h-.9zM179.9 355.8h.9v.9h-.9zM183.9 354.3h.9v.9h-.9zM184.1 354.4h.9v.9h-.9zM181.3 353.7h.9v.9h-.9zM178.1 358.2h.9v.9h-.9zM183.2 363.8h.9v.9h-.9zM178.8 358.9h.9v.9h-.9zM180.3 353.7h.9v.9h-.9zM184.5 359.0h.9v.9h-.9zM180.0 353.1h.9v.9h-.9zM181.4 354.1h.9v.9h-.9zM182.1 365.7h.9v.9h-.9zM184.0 355.8h.9v.9h-.9zM184.2 359.5h.9v.9h-.9zM179.4 362.7h.9v.9h-.9zM183.4 357.7h.9v.9h-.9zM178.9 361.0h.9v.9h-.9zM179.6 361.2h.9v.9h-.9zM179.1 361.5h.9v.9h-.9zM180.2 364.0h.9v.9h-.9zM182.3 365.8h.9v.9h-.9zM179.8 364.0h.9v.9h-.9zM179.5 354.6h.9v.9h-.9zM181.0 365.6h.9v.9h-.9zM179.4 355.3h.9v.9h-.9zM184.1 357.3h.9v.9h-.9zM178.0 359.7h.9v.9h-.9zM181.7 365.4h.9v.9h-.9zM180.9 365.2h.9v.9h-.9zM183.5 355.2h.9v.9h-.9zM180.8 354.5h.9v.9h-.9zM183.1 355.8h.9v.9h-.9zM178.2 361.2h.9v.9h-.9zM184.5 357.6h.9v.9h-.9zM182.9 365.5h.9v.9h-.9zM178.6 356.6h.9v.9h-.9zM184.1 360.5h.9v.9h-.9zM179.6 353.3h.9v.9h-.9zM183.6 360.1h.9v.9h-.9zM183.9 365.6h.9v.9h-.9zM182.6 353.5h.9v.9h-.9zM184.3 354.7h.9v.9h-.9zM184.1 356.5h.9v.9h-.9zM181.5 355.0h.9v.9h-.9zM179.8 354.4h.9v.9h-.9zM180.9 364.9h.9v.9h-.9zM183.2 365.3h.9v.9h-.9zM179.7 363.9h.9v.9h-.9zM181.0 352.9h.9v.9h-.9zM183.8 362.9h.9v.9h-.9zM182.0 364.2h.9v.9h-.9zM179.8 362.4h.9v.9h-.9zM183.5 352.9h.9v.9h-.9zM179.7 363.6h.9v.9h-.9zM182.5 366.0h.9v.9h-.9zM182.4 363.5h.9v.9h-.9zM180.9 352.5h.9v.9h-.9zM182.2 353.5h.9v.9h-.9zM178.8 360.2h.9v.9h-.9zM184.2 358.4h.9v.9h-.9zM183.6 363.2h.9v.9h-.9zM179.7 355.3h.9v.9h-.9zM178.8 356.9h.9v.9h-.9zM185.9 362.2h.9v.9h-.9zM184.7 357.6h.9v.9h-.9zM183.9 365.2h.9v.9h-.9zM183.4 354.9h.9v.9h-.9zM178.6 361.3h.9v.9h-.9zM181.6 366.2h.9v.9h-.9zM184.9 355.0h.9v.9h-.9zM184.9 355.8h.9v.9h-.9zM184.0 357.6h.9v.9h-.9zM183.8 362.4h.9v.9h-.9zM185.8 355.1h.9v.9h-.9zM184.5 363.7h.9v.9h-.9zM179.3 361.9h.9v.9h-.9zM182.8 353.8h.9v.9h-.9zM184.4 359.4h.9v.9h-.9zM183.1 354.0h.9v.9h-.9zM178.1 360.2h.9v.9h-.9zM177.3 357.6h.9v.9h-.9zM184.0 358.9h.9v.9h-.9zM181.5 353.9h.9v.9h-.9zM180.8 365.4h.9v.9h-.9zM178.5 357.2h.9v.9h-.9zM184.2 365.0h.9v.9h-.9zM185.2 356.2h.9v.9h-.9zM178.8 356.3h.9v.9h-.9zM183.2 361.9h.9v.9h-.9zM178.1 358.8h.9v.9h-.9zM179.4 364.5h.9v.9h-.9zM181.6 355.0h.9v.9h-.9zM179.1 354.6h.9v.9h-.9zM179.0 362.7h.9v.9h-.9zM181.1 353.0h.9v.9h-.9zM182.4 354.8h.9v.9h-.9zM178.3 356.3h.9v.9h-.9zM183.1 364.9h.9v.9h-.9zM177.5 356.7h.9v.9h-.9zM184.5 354.0h.9v.9h-.9zM185.0 357.6h.9v.9h-.9zM184.1 359.7h.9v.9h-.9zM184.0 363.8h.9v.9h-.9zM184.9 361.0h.9v.9h-.9zM184.8 364.2h.9v.9h-.9zM183.3 355.0h.9v.9h-.9zM183.8 362.9h.9v.9h-.9zM178.8 364.8h.9v.9h-.9zM184.2 364.0h.9v.9h-.9zM181.2 366.2h.9v.9h-.9zM180.9 366.0h.9v.9h-.9z" fill="rgb(102, 178, 149)" fill-opacity="0.87"/><path d="M182.8 354.6h.9v.9h-.9zM183.4 359.9h.9v.9h-.9zM180.8 355.8h.9v.9h-.9zM178.7 362.0h.9v.9h-.9zM183.9 362.8h.9v.9h-.9zM182.7 352.9h.9v.9h-.9zM182.8 363.8h.9v.9h-.9zM178.7 355.5h.9v.9h-.9zM179.4 357.4h.9v.9h-.9zM183.1 363.7h.9v.9h-.9zM182.4 354.4h.9v.9h-.9zM182.1 353.3h.9v.9h-.9zM182.0 355.5h.9v.9h-.9zM180.4 363.9h.9v.9h-.9zM180.6 354.0h.9v.9h-.9zM180.9 364.8h.9v.9h-.9zM183.4 356.8h.9v.9h-.9zM180.8 361.2h.9v.9h-.9zM183.5 359.2h.9v.9h-.9zM180.8 353.4h.9v.9h-.9zM179.1 360.6h.9v.9h-.9zM180.6 354.8h.9v.9h-.9zM181.1 355.1h.9v.9h-.9zM179.7 355.9h.9v.9h-.9zM178.9 358.1h.9v.9h-.9zM183.3 355.3h.9v.9h-.9zM183.2 360.3h.9v.9h-.9zM179.3 354.8h.9v.9h-.9zM178.8 355.8h.9v.9h-.9zM180.6 363.6h.9v.9h-.9zM181.2 362.7h.9v.9h-.9zM180.6 354.8h.9v.9h-.9zM183.8 364.7h.9v.9h-.9zM178.7 358.7h.9v.9h-.9zM178.9 357.5h.9v.9h-.9zM181.0 364.9h.9v.9h-.9zM181.9 364.4h.9v.9h-.9zM180.9 354.6h.9v.9h-.9zM179.1 361.6h.9v.9h-.9zM183.3 359.0h.9v.9h-.9zM181.4 364.6h.9v.9h-.9zM182.1 354.0h.9v.9h-.9zM179.6 361.7h.9v.9h-.9zM183.4 358.0h.9v.9h-.9zM182.1 355.0h.9v.9h-.9zM178.3 358.1h.9v.9h-.9zM181.7 354.7h.9v.9h-.9zM179.3 362.4h.9v.9h-.9zM184.9 359.0h.9v.9h-.9zM179.8 357.0h.9v.9h-.9zM179.4 354.4h.9v.9h-.9zM183.2 362.4h.9v.9h-.9zM183.0 362.8h.9v.9h-.9zM178.3 361.9h.9v.9h-.9zM183.9 363.3h.9v.9h-.9zM183.2 360.7h.9v.9h-.9zM179.4 362.2h.9v.9h-.9zM182.8 364.6h.9v.9h-.9zM179.8 355.8h.9v.9h-.9zM184.0 362.2h.9v.9h-.9zM178.6 356.7h.9v.9h-.9zM179.6 365.7h.9v.9h-.9zM179.3 356.4h.9v.9h-.9zM179.2 362.2h.9v.9h-.9zM183.5 357.6h.9v.9h-.9zM183.3 355.8h.9v.9h-.9zM179.4 357.5h.9v.9h-.9zM178.6 360.2h.9v.9h-.9zM180.6 355.0h.9v.9h-.9zM183.2 356.8h.9v.9h-.9zM178.5 359.4h.9v.9h-.9zM184.0 361.0h.9v.9h-.9zM182.5 354.7h.9v.9h-.9zM178.9 361.2h.9v.9h-.9zM183.5 356.5h.9v.9h-.9zM184.2 354.9h.9v.9h-.9zM181.6 362.0h.9v.9h-.9zM184.3 355.4h.9v.9h-.9zM183.4 361.9h.9v.9h-.9zM180.7 364.4h.9v.9h-.9zM184.7 359.8h.9v.9h-.9zM178.8 357.4h.9v.9h-.9zM180.7 363.9h.9v.9h-.9zM183.3 355.4h.9v.9h-.9zM182.1 365.1h.9v.9h-.9zM179.4 355.7h.9v.9h-.9zM183.6 362.2h.9v.9h-.9zM178.9 359.8h.9v.9h-.9zM180.8 355.9h.9v.9h-.9zM180.1 362.5h.9v.9h-.9zM180.9 362.3h.9v.9h-.9zM180.5 362.1h.9v.9h-.9zM184.1 357.3h.9v.9h-.9zM183.8 364.8h.9v.9h-.9zM179.2 360.6h.9v.9h-.9zM182.2 362.1h.9v.9h-.9zM182.8 361.2h.9v.9h-.9zM181.0 362.1h.9v.9h-.9zM181.3 364.2h.9v.9h-.9zM181.6 363.8h.9v.9h-.9zM180.6 363.6h.9v.9h-.9zM179.4 365.0h.9v.9h-.9zM182.2 363.6h.9v.9h-.9zM180.0 360.0h.9v.9h-.9zM182.2 353.9h.9v.9h-.9zM180.5 364.1h.9v.9h-.9zM180.5 354.1h.9v.9h-.9zM178.7 357.2h.9v.9h-.9zM180.0 364.4h.9v.9h-.9zM180.3 365.1h.9v.9h-.9zM183.9 363.0h.9v.9h-.9zM181.9 355.1h.9v.9h-.9zM184.1 362.3h.9v.9h-.9zM182.4 365.1h.9v.9h-.9zM183.8 361.3h.9v.9h-.9zM182.4 362.6h.9v.9h-.9zM183.5 361.1h.9v.9h-.9zM183.5 357.5h.9v.9h-.9zM178.7 357.2h.9v.9h-.9zM182.1 363.8h.9v.9h-.9zM182.1 357.3h.9v.9h-.9zM178.8 361.2h.9v.9h-.9zM184.5 362.7h.9v.9h-.9zM178.2 355.3h.9v.9h-.9zM183.8 358.6h.9v.9h-.9zM183.2 364.4h.9v.9h-.9zM178.5 357.4h.9v.9h-.9zM183.2 360.8h.9v.9h-.9zM182.7 366.1h.9v.9h-.9zM182.7 364.8h.9v.9h-.9zM180.8 363.7h.9v.9h-.9zM179.8 362.6h.9v.9h-.9zM181.5 364.8h.9v.9h-.9zM179.5 360.5h.9v.9h-.9zM181.5 363.9h.9v.9h-.9zM179.8 355.1h.9v.9h-.9zM183.5 364.5h.9v.9h-.9zM181.4 363.3h.9v.9h-.9zM180.4 352.3h.9v.9h-.9zM184.0 357.9h.9v.9h-.9zM181.8 363.5h.9v.9h-.9zM181.3 365.3h.9v.9h-.9z" fill="rgb(120, 190, 90)" fill-opacity="0.92"/><path d="M183.2 359.6h.9v.9h-.9zM178.3 360.3h.9v.9h-.9zM183.0 357.5h.9v.9h-.9zM182.3 356.5h.9v.9h-.9zM179.3 356.3h.9v.9h-.9zM180.0 357.8h.9v.9h-.9zM180.8 364.0h.9v.9h-.9zM179.2 355.1h.9v.9h-.9zM182.4 357.2h.9v.9h-.9zM182.3 355.8h.9v.9h-.9zM181.6 363.0h.9v.9h-.9zM180.9 356.8h.9v.9h-.9zM180.9 355.4h.9v.9h-.9zM182.9 355.3h.9v.9h-.9zM183.9 356.4h.9v.9h-.9zM181.2 354.8h.9v.9h-.9zM180.1 356.1h.9v.9h-.9zM182.4 362.9h.9v.9h-.9zM181.7 364.3h.9v.9h-.9zM180.7 358.0h.9v.9h-.9zM180.8 356.7h.9v.9h-.9zM183.1 357.1h.9v.9h-.9zM179.6 358.4h.9v.9h-.9zM180.0 359.4h.9v.9h-.9zM178.3 359.7h.9v.9h-.9zM183.7 364.2h.9v.9h-.9zM182.2 355.2h.9v.9h-.9zM183.0 363.7h.9v.9h-.9zM180.0 358.3h.9v.9h-.9zM179.7 360.6h.9v.9h-.9zM179.1 360.5h.9v.9h-.9zM183.7 359.6h.9v.9h-.9zM180.0 361.1h.9v.9h-.9zM183.9 353.4h.9v.9h-.9zM183.0 355.8h.9v.9h-.9zM180.6 362.2h.9v.9h-.9zM178.5 359.4h.9v.9h-.9zM181.6 364.9h.9v.9h-.9zM183.0 355.8h.9v.9h-.9zM181.9 355.5h.9v.9h-.9zM183.8 356.3h.9v.9h-.9zM180.4 363.2h.9v.9h-.9zM180.1 358.8h.9v.9h-.9zM183.9 357.6h.9v.9h-.9zM180.9 357.4h.9v.9h-.9zM180.9 361.7h.9v.9h-.9zM181.2 365.9h.9v.9h-.9zM183.0 364.7h.9v.9h-.9zM180.4 357.8h.9v.9h-.9zM183.9 355.4h.9v.9h-.9zM182.9 354.4h.9v.9h-.9zM179.1 361.2h.9v.9h-.9zM182.9 356.5h.9v.9h-.9zM180.9 363.0h.9v.9h-.9zM180.7 355.5h.9v.9h-.9zM179.2 357.9h.9v.9h-.9zM180.1 355.0h.9v.9h-.9zM180.9 363.1h.9v.9h-.9zM181.8 363.9h.9v.9h-.9zM181.2 361.3h.9v.9h-.9zM181.5 355.9h.9v.9h-.9zM182.0 358.2h.9v.9h-.9zM182.7 355.1h.9v.9h-.9zM179.8 355.5h.9v.9h-.9zM179.8 355.8h.9v.9h-.9zM182.6 364.6h.9v.9h-.9zM182.1 357.8h.9v.9h-.9zM181.1 364.5h.9v.9h-.9zM178.4 357.2h.9v.9h-.9zM180.0 355.9h.9v.9h-.9zM183.2 358.2h.9v.9h-.9zM179.6 354.2h.9v.9h-.9zM179.9 359.7h.9v.9h-.9zM180.8 363.2h.9v.9h-.9zM180.1 356.8h.9v.9h-.9zM181.4 364.2h.9v.9h-.9zM181.9 364.7h.9v.9h-.9zM179.7 359.4h.9v.9h-.9zM183.0 356.0h.9v.9h-.9zM182.6 362.8h.9v.9h-.9zM179.6 357.4h.9v.9h-.9zM182.1 358.8h.9v.9h-.9zM181.1 357.3h.9v.9h-.9zM183.3 355.6h.9v.9h-.9zM184.1 360.9h.9v.9h-.9zM182.0 363.0h.9v.9h-.9zM180.2 362.1h.9v.9h-.9zM180.0 356.2h.9v.9h-.9zM178.2 359.4h.9v.9h-.9zM179.8 359.7h.9v.9h-.9zM183.1 354.7h.9v.9h-.9zM180.5 364.7h.9v.9h-.9zM181.4 363.5h.9v.9h-.9zM183.6 360.6h.9v.9h-.9zM182.1 355.6h.9v.9h-.9zM181.0 361.7h.9v.9h-.9zM183.5 362.5h.9v.9h-.9zM180.2 360.3h.9v.9h-.9zM179.9 355.4h.9v.9h-.9zM181.7 364.8h.9v.9h-.9zM182.3 355.3h.9v.9h-.9zM179.4 360.9h.9v.9h-.9zM182.8 359.0h.9v.9h-.9zM180.9 356.3h.9v.9h-.9zM182.8 355.8h.9v.9h-.9zM181.9 363.4h.9v.9h-.9zM182.5 362.8h.9v.9h-.9zM181.6 361.9h.9v.9h-.9zM182.1 355.0h.9v.9h-.9zM182.1 356.6h.9v.9h-.9zM179.2 358.0h.9v.9h-.9zM183.7 361.7h.9v.9h-.9zM184.0 357.9h.9v.9h-.9zM181.8 356.4h.9v.9h-.9zM180.1 356.3h.9v.9h-.9zM179.8 355.8h.9v.9h-.9zM181.1 363.8h.9v.9h-.9zM180.4 354.4h.9v.9h-.9zM180.2 354.7h.9v.9h-.9zM179.7 354.8h.9v.9h-.9zM180.4 362.4h.9v.9h-.9zM183.6 362.6h.9v.9h-.9zM182.5 357.7h.9v.9h-.9zM178.3 358.7h.9v.9h-.9zM183.9 360.4h.9v.9h-.9zM180.4 355.5h.9v.9h-.9zM183.4 354.4h.9v.9h-.9zM182.5 354.6h.9v.9h-.9zM181.5 363.7h.9v.9h-.9zM183.0 361.1h.9v.9h-.9zM183.3 362.0h.9v.9h-.9zM181.4 355.4h.9v.9h-.9zM183.4 362.6h.9v.9h-.9zM180.0 359.3h.9v.9h-.9zM183.4 356.7h.9v.9h-.9zM182.0 362.7h.9v.9h-.9zM181.3 354.5h.9v.9h-.9zM181.9 364.1h.9v.9h-.9zM179.5 360.7h.9v.9h-.9zM181.1 362.5h.9v.9h-.9zM181.6 364.2h.9v.9h-.9zM181.9 362.7h.9v.9h-.9zM180.5 356.6h.9v.9h-.9zM183.7 358.8h.9v.9h-.9zM181.5 363.9h.9v.9h-.9zM183.1 363.3h.9v.9h-.9zM181.1 356.2h.9v.9h-.9zM182.2 363.6h.9v.9h-.9zM180.3 362.7h.9v.9h-.9zM182.3 356.5h.9v.9h-.9zM183.0 360.0h.9v.9h-.9zM182.7 356.2h.9v.9h-.9zM179.9 357.2h.9v.9h-.9zM182.4 362.1h.9v.9h-.9zM183.8 356.5h.9v.9h-.9zM183.5 362.2h.9v.9h-.9zM183.2 354.2h.9v.9h-.9zM179.6 355.6h.9v.9h-.9z" fill="rgb(170, 201, 66)" fill-opacity="0.92"/><path d="M180.8 357.9h.9v.9h-.9zM180.6 362.0h.9v.9h-.9zM182.0 361.3h.9v.9h-.9zM179.9 356.8h.9v.9h-.9zM182.1 362.8h.9v.9h-.9zM180.7 362.4h.9v.9h-.9zM180.8 361.1h.9v.9h-.9zM182.2 363.2h.9v.9h-.9zM181.5 360.7h.9v.9h-.9zM179.1 356.9h.9v.9h-.9zM180.6 360.5h.9v.9h-.9zM182.0 358.2h.9v.9h-.9zM180.6 356.2h.9v.9h-.9zM180.5 357.0h.9v.9h-.9zM180.1 359.9h.9v.9h-.9zM179.5 359.2h.9v.9h-.9zM182.0 363.8h.9v.9h-.9zM181.3 362.4h.9v.9h-.9zM179.2 359.8h.9v.9h-.9zM182.3 360.6h.9v.9h-.9zM180.8 360.6h.9v.9h-.9zM180.5 358.9h.9v.9h-.9zM183.4 361.8h.9v.9h-.9zM182.4 360.0h.9v.9h-.9zM180.8 357.8h.9v.9h-.9zM183.7 363.1h.9v.9h-.9zM180.1 360.3h.9v.9h-.9zM180.3 358.8h.9v.9h-.9zM179.8 357.5h.9v.9h-.9zM182.7 362.1h.9v.9h-.9zM182.1 356.3h.9v.9h-.9zM182.3 363.4h.9v.9h-.9zM183.3 355.3h.9v.9h-.9zM181.6 364.0h.9v.9h-.9zM181.2 362.1h.9v.9h-.9zM183.0 356.2h.9v.9h-.9zM182.5 355.2h.9v.9h-.9zM181.6 361.7h.9v.9h-.9zM181.1 361.6h.9v.9h-.9zM180.9 357.2h.9v.9h-.9zM179.6 358.1h.9v.9h-.9zM180.4 358.1h.9v.9h-.9zM182.3 356.2h.9v.9h-.9zM183.2 360.4h.9v.9h-.9zM182.3 357.6h.9v.9h-.9zM181.7 356.2h.9v.9h-.9zM181.6 357.2h.9v.9h-.9zM181.4 358.1h.9v.9h-.9zM180.5 356.6h.9v.9h-.9zM180.9 359.7h.9v.9h-.9zM183.7 361.3h.9v.9h-.9zM182.7 358.6h.9v.9h-.9zM180.7 355.5h.9v.9h-.9zM181.7 360.9h.9v.9h-.9zM180.1 360.3h.9v.9h-.9zM183.5 363.9h.9v.9h-.9zM182.8 356.0h.9v.9h-.9zM182.0 356.2h.9v.9h-.9zM181.7 356.3h.9v.9h-.9zM180.7 358.2h.9v.9h-.9zM181.7 361.0h.9v.9h-.9zM182.4 358.7h.9v.9h-.9zM182.7 361.1h.9v.9h-.9zM182.1 358.8h.9v.9h-.9zM181.6 362.2h.9v.9h-.9zM180.9 361.1h.9v.9h-.9zM180.9 360.0h.9v.9h-.9zM179.4 356.9h.9v.9h-.9zM182.8 357.4h.9v.9h-.9zM182.5 362.2h.9v.9h-.9zM182.6 358.1h.9v.9h-.9zM180.9 358.9h.9v.9h-.9zM181.7 357.4h.9v.9h-.9zM181.3 357.7h.9v.9h-.9zM182.8 358.1h.9v.9h-.9zM182.6 359.8h.9v.9h-.9zM180.7 355.5h.9v.9h-.9zM180.7 356.5h.9v.9h-.9zM182.2 360.6h.9v.9h-.9zM181.3 363.5h.9v.9h-.9zM179.4 357.9h.9v.9h-.9zM180.9 358.6h.9v.9h-.9zM179.1 358.5h.9v.9h-.9zM181.9 357.2h.9v.9h-.9zM182.8 362.0h.9v.9h-.9zM182.2 355.9h.9v.9h-.9zM181.5 361.5h.9v.9h-.9zM181.1 358.8h.9v.9h-.9zM179.5 361.0h.9v.9h-.9zM180.5 359.1h.9v.9h-.9zM181.8 354.6h.9v.9h-.9zM182.5 357.6h.9v.9h-.9zM179.5 357.7h.9v.9h-.9zM183.0 360.6h.9v.9h-.9zM183.2 355.3h.9v.9h-.9zM183.6 356.5h.9v.9h-.9zM179.5 362.0h.9v.9h-.9zM183.4 360.9h.9v.9h-.9zM181.3 359.3h.9v.9h-.9zM180.6 355.7h.9v.9h-.9zM183.9 361.5h.9v.9h-.9zM183.0 361.6h.9v.9h-.9zM181.9 356.1h.9v.9h-.9zM182.6 357.2h.9v.9h-.9zM180.0 357.9h.9v.9h-.9zM181.0 363.4h.9v.9h-.9zM180.7 355.9h.9v.9h-.9zM180.2 360.6h.9v.9h-.9zM183.2 362.6h.9v.9h-.9zM181.4 361.8h.9v.9h-.9zM183.6 362.8h.9v.9h-.9zM183.0 360.2h.9v.9h-.9zM182.8 359.2h.9v.9h-.9zM181.7 359.3h.9v.9h-.9zM182.8 359.1h.9v.9h-.9zM179.5 359.9h.9v.9h-.9zM183.3 357.5h.9v.9h-.9zM181.9 357.2h.9v.9h-.9zM179.3 358.1h.9v.9h-.9zM181.4 362.4h.9v.9h-.9zM181.9 362.3h.9v.9h-.9zM182.6 360.5h.9v.9h-.9zM181.0 356.4h.9v.9h-.9zM181.1 356.5h.9v.9h-.9zM182.8 360.5h.9v.9h-.9zM179.6 356.9h.9v.9h-.9z" fill="rgb(210, 205, 47)" fill-opacity="0.92"/><path d="M179.1 357.0h.9v.9h-.9zM181.2 356.8h.9v.9h-.9zM181.4 357.9h.9v.9h-.9zM180.3 356.1h.9v.9h-.9zM179.6 357.5h.9v.9h-.9zM180.7 359.2h.9v.9h-.9zM181.9 359.6h.9v.9h-.9zM179.0 360.0h.9v.9h-.9zM179.0 358.8h.9v.9h-.9zM181.5 361.1h.9v.9h-.9zM182.3 361.3h.9v.9h-.9zM182.5 359.5h.9v.9h-.9zM182.2 357.9h.9v.9h-.9zM179.2 357.9h.9v.9h-.9zM182.8 360.4h.9v.9h-.9zM181.4 359.5h.9v.9h-.9zM179.3 356.6h.9v.9h-.9zM180.2 361.1h.9v.9h-.9zM182.3 356.9h.9v.9h-.9zM181.9 357.4h.9v.9h-.9zM181.5 357.6h.9v.9h-.9zM182.1 359.8h.9v.9h-.9zM179.4 358.2h.9v.9h-.9zM182.9 358.0h.9v.9h-.9zM182.2 360.3h.9v.9h-.9zM181.6 358.8h.9v.9h-.9zM181.6 360.9h.9v.9h-.9zM181.4 359.1h.9v.9h-.9zM182.4 360.2h.9v.9h-.9zM180.8 357.3h.9v.9h-.9zM181.0 357.8h.9v.9h-.9zM180.2 361.5h.9v.9h-.9zM181.7 360.3h.9v.9h-.9zM179.6 359.8h.9v.9h-.9zM180.6 358.2h.9v.9h-.9zM181.7 357.3h.9v.9h-.9zM182.4 356.7h.9v.9h-.9zM181.8 362.2h.9v.9h-.9zM182.7 360.9h.9v.9h-.9zM182.1 358.2h.9v.9h-.9zM182.5 359.6h.9v.9h-.9zM181.8 359.9h.9v.9h-.9zM181.6 359.3h.9v.9h-.9zM181.6 357.7h.9v.9h-.9zM182.9 360.2h.9v.9h-.9zM181.2 357.4h.9v.9h-.9zM180.3 356.7h.9v.9h-.9zM182.0 357.1h.9v.9h-.9zM179.7 359.6h.9v.9h-.9zM182.3 360.3h.9v.9h-.9zM180.9 357.3h.9v.9h-.9zM181.8 355.6h.9v.9h-.9zM181.9 357.0h.9v.9h-.9zM181.1 358.2h.9v.9h-.9zM180.6 361.0h.9v.9h-.9zM180.7 358.3h.9v.9h-.9zM182.0 361.7h.9v.9h-.9zM180.9 360.2h.9v.9h-.9zM182.6 360.8h.9v.9h-.9zM182.1 355.7h.9v.9h-.9zM181.8 360.7h.9v.9h-.9zM179.9 358.1h.9v.9h-.9zM181.8 359.2h.9v.9h-.9zM182.0 361.2h.9v.9h-.9zM179.7 358.4h.9v.9h-.9zM181.9 359.5h.9v.9h-.9zM180.1 355.8h.9v.9h-.9zM182.3 357.7h.9v.9h-.9zM181.0 358.8h.9v.9h-.9zM182.3 355.2h.9v.9h-.9zM181.6 357.5h.9v.9h-.9zM180.7 357.1h.9v.9h-.9zM181.7 360.3h.9v.9h-.9zM182.2 356.1h.9v.9h-.9zM182.9 359.0h.9v.9h-.9zM182.4 359.9h.9v.9h-.9zM182.7 355.8h.9v.9h-.9zM180.7 357.2h.9v.9h-.9zM179.6 361.1h.9v.9h-.9zM180.7 358.3h.9v.9h-.9zM182.0 360.8h.9v.9h-.9zM182.9 360.2h.9v.9h-.9zM180.5 359.1h.9v.9h-.9zM182.3 361.3h.9v.9h-.9zM182.2 358.8h.9v.9h-.9zM182.5 361.4h.9v.9h-.9zM182.9 360.1h.9v.9h-.9zM181.5 359.2h.9v.9h-.9zM180.4 359.2h.9v.9h-.9zM182.8 359.4h.9v.9h-.9zM182.1 360.6h.9v.9h-.9zM182.4 360.6h.9v.9h-.9zM181.1 359.1h.9v.9h-.9zM179.8 358.7h.9v.9h-.9zM180.5 359.0h.9v.9h-.9zM181.0 359.2h.9v.9h-.9zM180.7 358.0h.9v.9h-.9zM179.7 358.9h.9v.9h-.9z" fill="rgb(226, 191, 40)" fill-opacity="0.92"/><path d="M181.9 360.2h.9v.9h-.9zM180.6 358.7h.9v.9h-.9zM181.9 359.4h.9v.9h-.9zM182.6 357.0h.9v.9h-.9zM183.0 360.2h.9v.9h-.9zM181.6 359.6h.9v.9h-.9zM181.6 360.6h.9v.9h-.9zM180.4 356.5h.9v.9h-.9zM181.9 357.3h.9v.9h-.9zM181.4 357.8h.9v.9h-.9zM180.4 360.2h.9v.9h-.9zM182.3 360.0h.9v.9h-.9zM181.4 359.5h.9v.9h-.9zM181.9 359.9h.9v.9h-.9zM181.2 361.1h.9v.9h-.9zM181.2 360.0h.9v.9h-.9zM180.8 359.9h.9v.9h-.9zM182.8 355.6h.9v.9h-.9zM181.5 359.5h.9v.9h-.9zM181.6 360.1h.9v.9h-.9zM180.1 362.0h.9v.9h-.9zM180.7 359.6h.9v.9h-.9zM182.1 359.5h.9v.9h-.9zM181.4 359.1h.9v.9h-.9zM182.5 359.4h.9v.9h-.9zM180.0 360.7h.9v.9h-.9zM181.9 360.3h.9v.9h-.9zM183.2 359.6h.9v.9h-.9zM180.4 359.8h.9v.9h-.9zM182.0 360.0h.9v.9h-.9zM181.4 361.1h.9v.9h-.9zM181.4 360.2h.9v.9h-.9zM183.0 360.7h.9v.9h-.9zM182.5 358.6h.9v.9h-.9zM182.0 356.7h.9v.9h-.9zM182.9 359.6h.9v.9h-.9zM181.3 359.4h.9v.9h-.9zM180.7 359.8h.9v.9h-.9zM182.5 355.4h.9v.9h-.9zM181.1 361.1h.9v.9h-.9zM182.2 360.8h.9v.9h-.9zM180.5 359.3h.9v.9h-.9zM181.1 358.7h.9v.9h-.9zM180.4 358.7h.9v.9h-.9zM181.3 361.2h.9v.9h-.9zM180.7 359.7h.9v.9h-.9zM181.4 358.2h.9v.9h-.9zM181.2 359.9h.9v.9h-.9zM181.8 359.4h.9v.9h-.9z" fill="rgb(239, 175, 34)" fill-opacity="0.92"/><path d="M181.6 359.6h.9v.9h-.9zM181.6 359.6h.9v.9h-.9zM181.1 360.8h.9v.9h-.9zM181.7 358.2h.9v.9h-.9zM180.5 358.6h.9v.9h-.9zM180.1 359.1h.9v.9h-.9zM181.2 359.4h.9v.9h-.9zM181.5 359.8h.9v.9h-.9z" fill="rgb(237, 145, 29)" fill-opacity="0.92"/>
<rect x="168.0" y="319.2" width="82.69999999999999" height="82.19999999999999" fill="none" stroke="#111" stroke-width="1.1"/>
<rect x="169.0" y="336.3" width="18.5" height="32.0" fill="none" stroke="#111" stroke-width="1.2"/>
<rect x="187.5" y="336.3" width="43.80000000000001" height="32.0" fill="none" stroke="#111" stroke-width="1.2"/>
<rect x="169.0" y="368.7" width="33.5" height="32.69999999999997" fill="none" stroke="#111" stroke-width="1.2"/>
<line x1="166.1" y1="361.83" x2="168" y2="361.83" stroke="#222" stroke-width="0.8" />
<line x1="166.1" y1="358.04" x2="168" y2="358.04" stroke="#222" stroke-width="0.8" />
<line x1="166.1" y1="355.36" x2="168" y2="355.36" stroke="#222" stroke-width="0.8" />
<line x1="166.1" y1="353.27" x2="168" y2="353.27" stroke="#222" stroke-width="0.8" />
<line x1="166.1" y1="351.57" x2="168" y2="351.57" stroke="#222" stroke-width="0.8" />
<line x1="166.1" y1="350.13" x2="168" y2="350.13" stroke="#222" stroke-width="0.8" />
<line x1="166.1" y1="348.88" x2="168" y2="348.88" stroke="#222" stroke-width="0.8" />
<line x1="166.1" y1="347.78" x2="168" y2="347.78" stroke="#222" stroke-width="0.8" />
<line x1="166.1" y1="340.63" x2="168" y2="340.63" stroke="#222" stroke-width="0.8" />
<line x1="166.1" y1="337.02" x2="168" y2="337.02" stroke="#222" stroke-width="0.8" />
<line x1="166.1" y1="334.46" x2="168" y2="334.46" stroke="#222" stroke-width="0.8" />
<line x1="166.1" y1="332.47" x2="168" y2="332.47" stroke="#222" stroke-width="0.8" />
<line x1="166.1" y1="330.85" x2="168" y2="330.85" stroke="#222" stroke-width="0.8" />
<line x1="166.1" y1="329.48" x2="168" y2="329.48" stroke="#222" stroke-width="0.8" />
<line x1="166.1" y1="328.29" x2="168" y2="328.29" stroke="#222" stroke-width="0.8" />
<line x1="166.1" y1="327.24" x2="168" y2="327.24" stroke="#222" stroke-width="0.8" />
<line x1="166.1" y1="320.13" x2="168" y2="320.13" stroke="#222" stroke-width="0.8" />
<line x1="166.1" y1="376.05" x2="168" y2="376.05" stroke="#222" stroke-width="0.8" />
<line x1="166.1" y1="390.05" x2="168" y2="390.05" stroke="#222" stroke-width="0.8" />
<line x1="166.1" y1="400.4" x2="168" y2="400.4" stroke="#222" stroke-width="0.8" />
<line x1="165.1" y1="326.3" x2="168" y2="326.3" stroke="#111" stroke-width="0.9" />
<line x1="165.1" y1="346.8" x2="168" y2="346.8" stroke="#111" stroke-width="0.9" />
<line x1="165.1" y1="368.3" x2="168" y2="368.3" stroke="#111" stroke-width="0.9" />
<line x1="165.1" y1="383.8" x2="168" y2="383.8" stroke="#111" stroke-width="0.9" />
<line x1="165.1" y1="396.3" x2="168" y2="396.3" stroke="#111" stroke-width="0.9" />
<rect x="165.8" y="381.6" width="2.2" height="3.4" fill="#111" stroke="none" stroke-width="0"/>
<text x="162.4" y="328.6" font-family="Liberation Sans" font-size="6.5" fill="#2a2a2a" text-anchor="end" >10<tspan font-size="4.4" dy="-2.7">5</tspan></text>
<text x="162.4" y="349.1" font-family="Liberation Sans" font-size="6.5" fill="#2a2a2a" text-anchor="end" >10<tspan font-size="4.4" dy="-2.7">4</tspan></text>
<text x="162.4" y="370.6" font-family="Liberation Sans" font-size="6.5" fill="#2a2a2a" text-anchor="end" >10<tspan font-size="4.4" dy="-2.7">3</tspan></text>
<text x="161.5" y="386" font-family="Liberation Sans" font-size="6.5" fill="#2a2a2a" text-anchor="end" >0</text>
<text x="162.4" y="398.3" font-family="Liberation Sans" font-size="6.5" fill="#2a2a2a" text-anchor="end" >-10<tspan font-size="4.4" dy="-2.7">3</tspan></text>
<line x1="168.5" y1="401.4" x2="168.5" y2="403.8" stroke="#111" stroke-width="0.9" />
<text transform="translate(170.8,409.6) rotate(-45)" font-family="Liberation Sans" font-size="6.7" fill="#222" text-anchor="end" >0</text>
<line x1="184.1" y1="401.4" x2="184.1" y2="403.8" stroke="#111" stroke-width="0.9" />
<text transform="translate(186.4,409.6) rotate(-45)" font-family="Liberation Sans" font-size="6.7" fill="#222" text-anchor="end" >50K</text>
<line x1="199.7" y1="401.4" x2="199.7" y2="403.8" stroke="#111" stroke-width="0.9" />
<text transform="translate(202,409.6) rotate(-45)" font-family="Liberation Sans" font-size="6.7" fill="#222" text-anchor="end" >100K</text>
<line x1="215.3" y1="401.4" x2="215.3" y2="403.8" stroke="#111" stroke-width="0.9" />
<text transform="translate(217.6,409.6) rotate(-45)" font-family="Liberation Sans" font-size="6.7" fill="#222" text-anchor="end" >150K</text>
<line x1="230.9" y1="401.4" x2="230.9" y2="403.8" stroke="#111" stroke-width="0.9" />
<text transform="translate(233.2,409.6) rotate(-45)" font-family="Liberation Sans" font-size="6.7" fill="#222" text-anchor="end" >200K</text>
<line x1="246.5" y1="401.4" x2="246.5" y2="403.8" stroke="#111" stroke-width="0.9" />
<text transform="translate(248.8,409.6) rotate(-45)" font-family="Liberation Sans" font-size="6.7" fill="#222" text-anchor="end" >250K</text>
<line x1="171.62" y1="401.4" x2="171.62" y2="403" stroke="#222" stroke-width="0.8" />
<line x1="174.74" y1="401.4" x2="174.74" y2="403" stroke="#222" stroke-width="0.8" />
<line x1="177.86" y1="401.4" x2="177.86" y2="403" stroke="#222" stroke-width="0.8" />
<line x1="180.98" y1="401.4" x2="180.98" y2="403" stroke="#222" stroke-width="0.8" />
<line x1="187.22" y1="401.4" x2="187.22" y2="403" stroke="#222" stroke-width="0.8" />
<line x1="190.34" y1="401.4" x2="190.34" y2="403" stroke="#222" stroke-width="0.8" />
<line x1="193.46" y1="401.4" x2="193.46" y2="403" stroke="#222" stroke-width="0.8" />
<line x1="196.58" y1="401.4" x2="196.58" y2="403" stroke="#222" stroke-width="0.8" />
<line x1="202.82" y1="401.4" x2="202.82" y2="403" stroke="#222" stroke-width="0.8" />
<line x1="205.94" y1="401.4" x2="205.94" y2="403" stroke="#222" stroke-width="0.8" />
<line x1="209.06" y1="401.4" x2="209.06" y2="403" stroke="#222" stroke-width="0.8" />
<line x1="212.18" y1="401.4" x2="212.18" y2="403" stroke="#222" stroke-width="0.8" />
<line x1="218.42" y1="401.4" x2="218.42" y2="403" stroke="#222" stroke-width="0.8" />
<line x1="221.54" y1="401.4" x2="221.54" y2="403" stroke="#222" stroke-width="0.8" />
<line x1="224.66" y1="401.4" x2="224.66" y2="403" stroke="#222" stroke-width="0.8" />
<line x1="227.78" y1="401.4" x2="227.78" y2="403" stroke="#222" stroke-width="0.8" />
<line x1="234.02" y1="401.4" x2="234.02" y2="403" stroke="#222" stroke-width="0.8" />
<line x1="237.14" y1="401.4" x2="237.14" y2="403" stroke="#222" stroke-width="0.8" />
<line x1="240.26" y1="401.4" x2="240.26" y2="403" stroke="#222" stroke-width="0.8" />
<line x1="243.38" y1="401.4" x2="243.38" y2="403" stroke="#222" stroke-width="0.8" />
<text x="171.2" y="327" font-family="Liberation Sans" font-size="6.6" fill="#1a1a1a" text-anchor="start" >G1</text>
<text x="171.2" y="334.2" font-family="Liberation Sans" font-size="6.6" fill="#1a1a1a" text-anchor="start" >63.2%</text>
<text x="204.2" y="327" font-family="Liberation Sans" font-size="6.6" fill="#1a1a1a" text-anchor="start" >S-G2-M</text>
<text x="204.2" y="334.2" font-family="Liberation Sans" font-size="6.6" fill="#1a1a1a" text-anchor="start" >18.4%</text>
<text x="204.4" y="380.5" font-family="Liberation Sans" font-size="6.6" fill="#1a1a1a" text-anchor="start" >G0</text>
<text x="204.4" y="388.1" font-family="Liberation Sans" font-size="6.6" fill="#1a1a1a" text-anchor="start" >14.2%</text>
<path d="M283.7 347.8h.9v.9h-.9zM286.3 344.0h.9v.9h-.9zM297.6 362.2h.9v.9h-.9zM297.0 362.2h.9v.9h-.9zM296.2 361.2h.9v.9h-.9zM282.7 345.8h.9v.9h-.9zM283.4 346.8h.9v.9h-.9zM293.2 366.3h.9v.9h-.9zM286.1 345.9h.9v.9h-.9zM297.0 351.3h.9v.9h-.9zM283.2 367.9h.9v.9h-.9zM283.2 344.6h.9v.9h-.9zM291.2 347.7h.9v.9h-.9zM283.9 349.6h.9v.9h-.9zM281.5 353.4h.9v.9h-.9zM280.3 362.9h.9v.9h-.9zM284.1 350.0h.9v.9h-.9zM291.4 346.8h.9v.9h-.9zM283.7 352.5h.9v.9h-.9zM283.4 370.4h.9v.9h-.9zM281.3 354.4h.9v.9h-.9zM284.0 352.8h.9v.9h-.9zM287.2 344.9h.9v.9h-.9zM284.9 348.8h.9v.9h-.9zM284.1 351.5h.9v.9h-.9zM280.9 346.4h.9v.9h-.9zM282.6 355.0h.9v.9h-.9zM294.8 366.9h.9v.9h-.9zM281.4 352.6h.9v.9h-.9zM291.9 343.7h.9v.9h-.9zM283.0 371.2h.9v.9h-.9zM283.8 376.2h.9v.9h-.9zM294.3 367.3h.9v.9h-.9zM283.4 346.0h.9v.9h-.9zM299.0 362.4h.9v.9h-.9zM296.4 366.1h.9v.9h-.9zM310.2 360.9h.9v.9h-.9zM300.4 360.9h.9v.9h-.9zM302.5 362.5h.9v.9h-.9zM297.6 361.7h.9v.9h-.9zM298.3 351.0h.9v.9h-.9zM308.1 357.7h.9v.9h-.9zM304.0 350.8h.9v.9h-.9zM307.8 364.5h.9v.9h-.9zM307.8 366.1h.9v.9h-.9zM300.7 358.4h.9v.9h-.9zM312.2 362.7h.9v.9h-.9zM311.7 355.0h.9v.9h-.9zM300.8 365.6h.9v.9h-.9zM301.0 363.6h.9v.9h-.9zM298.9 350.8h.9v.9h-.9zM299.6 361.6h.9v.9h-.9zM302.5 367.4h.9v.9h-.9zM300.0 361.1h.9v.9h-.9zM295.2 351.3h.9v.9h-.9zM305.2 350.5h.9v.9h-.9zM298.8 366.0h.9v.9h-.9zM308.0 351.5h.9v.9h-.9zM310.1 359.0h.9v.9h-.9zM305.5 361.8h.9v.9h-.9zM299.3 351.7h.9v.9h-.9zM303.6 355.2h.9v.9h-.9zM305.6 352.6h.9v.9h-.9zM303.3 362.2h.9v.9h-.9zM294.6 351.3h.9v.9h-.9zM300.2 361.8h.9v.9h-.9zM302.9 349.8h.9v.9h-.9zM307.1 360.0h.9v.9h-.9zM308.0 362.6h.9v.9h-.9zM302.0 353.6h.9v.9h-.9zM297.0 360.4h.9v.9h-.9zM307.4 356.1h.9v.9h-.9zM304.3 355.9h.9v.9h-.9zM302.6 365.2h.9v.9h-.9zM305.2 351.8h.9v.9h-.9zM300.7 360.5h.9v.9h-.9zM297.6 353.2h.9v.9h-.9zM308.4 350.8h.9v.9h-.9zM298.8 353.2h.9v.9h-.9zM296.6 358.3h.9v.9h-.9zM309.8 361.9h.9v.9h-.9zM298.9 362.7h.9v.9h-.9zM299.0 361.2h.9v.9h-.9zM304.8 366.9h.9v.9h-.9zM311.8 362.6h.9v.9h-.9zM306.8 348.9h.9v.9h-.9zM296.8 352.1h.9v.9h-.9zM304.3 355.1h.9v.9h-.9zM295.4 360.1h.9v.9h-.9zM302.4 363.0h.9v.9h-.9zM302.5 353.1h.9v.9h-.9zM307.7 356.2h.9v.9h-.9zM306.8 363.6h.9v.9h-.9zM307.7 348.6h.9v.9h-.9zM305.8 354.0h.9v.9h-.9zM305.3 352.4h.9v.9h-.9zM314.7 356.3h.9v.9h-.9zM311.9 357.8h.9v.9h-.9zM294.5 348.4h.9v.9h-.9zM332.8 362.8h.9v.9h-.9zM330.4 350.3h.9v.9h-.9zM301.2 363.6h.9v.9h-.9zM320.3 351.7h.9v.9h-.9zM312.7 345.3h.9v.9h-.9zM308.0 357.0h.9v.9h-.9zM323.8 349.7h.9v.9h-.9zM304.0 364.8h.9v.9h-.9zM309.8 354.5h.9v.9h-.9zM326.3 352.0h.9v.9h-.9zM321.1 358.1h.9v.9h-.9zM307.6 362.2h.9v.9h-.9zM321.8 350.3h.9v.9h-.9zM341.7 358.4h.9v.9h-.9zM309.1 351.7h.9v.9h-.9zM311.5 356.2h.9v.9h-.9zM322.6 352.3h.9v.9h-.9zM313.9 350.7h.9v.9h-.9zM320.5 354.6h.9v.9h-.9zM319.5 350.8h.9v.9h-.9zM309.9 353.3h.9v.9h-.9zM304.4 350.5h.9v.9h-.9zM325.8 349.5h.9v.9h-.9zM307.3 341.9h.9v.9h-.9zM334.1 348.1h.9v.9h-.9zM317.8 361.8h.9v.9h-.9zM308.9 365.5h.9v.9h-.9zM307.4 350.5h.9v.9h-.9zM312.0 358.1h.9v.9h-.9zM318.9 353.9h.9v.9h-.9zM316.3 358.4h.9v.9h-.9zM323.3 352.3h.9v.9h-.9zM304.7 362.3h.9v.9h-.9zM321.8 362.4h.9v.9h-.9zM316.5 341.2h.9v.9h-.9zM326.8 365.7h.9v.9h-.9zM321.4 365.2h.9v.9h-.9zM335.7 347.1h.9v.9h-.9zM309.8 356.5h.9v.9h-.9zM331.4 349.1h.9v.9h-.9zM311.7 354.3h.9v.9h-.9zM327.2 359.2h.9v.9h-.9zM321.9 355.8h.9v.9h-.9zM298.1 353.0h.9v.9h-.9zM335.5 355.5h.9v.9h-.9zM325.7 365.2h.9v.9h-.9zM304.5 349.1h.9v.9h-.9zM303.9 349.0h.9v.9h-.9zM331.9 357.9h.9v.9h-.9zM317.2 361.5h.9v.9h-.9zM319.5 347.8h.9v.9h-.9zM327.1 346.9h.9v.9h-.9zM327.8 357.9h.9v.9h-.9zM317.4 355.7h.9v.9h-.9zM308.7 350.2h.9v.9h-.9zM315.5 354.5h.9v.9h-.9zM293.0 348.3h.9v.9h-.9zM317.5 349.1h.9v.9h-.9zM330.6 355.0h.9v.9h-.9zM297.7 342.3h.9v.9h-.9zM286.9 337.3h.9v.9h-.9zM296.5 345.5h.9v.9h-.9zM294.8 340.3h.9v.9h-.9zM295.7 343.4h.9v.9h-.9zM283.4 342.7h.9v.9h-.9zM295.3 344.8h.9v.9h-.9zM291.0 339.6h.9v.9h-.9zM301.3 348.9h.9v.9h-.9zM281.2 340.1h.9v.9h-.9zM295.3 342.5h.9v.9h-.9zM289.1 340.5h.9v.9h-.9zM286.9 340.8h.9v.9h-.9zM295.1 345.8h.9v.9h-.9zM300.9 351.7h.9v.9h-.9zM304.0 346.3h.9v.9h-.9zM293.8 347.0h.9v.9h-.9zM297.3 345.0h.9v.9h-.9zM288.2 342.5h.9v.9h-.9zM299.1 344.2h.9v.9h-.9zM292.8 340.8h.9v.9h-.9zM287.3 342.4h.9v.9h-.9zM289.7 341.6h.9v.9h-.9zM295.4 339.8h.9v.9h-.9zM295.0 342.2h.9v.9h-.9zM292.5 345.9h.9v.9h-.9zM297.4 345.2h.9v.9h-.9zM289.4 341.7h.9v.9h-.9zM294.8 341.1h.9v.9h-.9zM283.6 347.1h.9v.9h-.9zM288.2 342.7h.9v.9h-.9zM281.3 341.4h.9v.9h-.9zM285.8 344.8h.9v.9h-.9zM286.1 372.5h.9v.9h-.9zM283.9 383.5h.9v.9h-.9zM284.5 395.0h.9v.9h-.9zM284.7 373.1h.9v.9h-.9zM282.9 379.9h.9v.9h-.9zM291.0 398.5h.9v.9h-.9zM284.5 387.2h.9v.9h-.9zM283.9 398.8h.9v.9h-.9zM285.5 397.0h.9v.9h-.9zM292.2 384.9h.9v.9h-.9zM286.1 372.4h.9v.9h-.9zM291.3 375.4h.9v.9h-.9zM282.1 382.6h.9v.9h-.9zM286.1 390.0h.9v.9h-.9zM282.1 376.5h.9v.9h-.9zM287.2 394.7h.9v.9h-.9zM284.0 383.7h.9v.9h-.9zM283.8 381.9h.9v.9h-.9zM291.9 381.8h.9v.9h-.9zM292.3 380.4h.9v.9h-.9zM283.0 385.8h.9v.9h-.9zM283.7 380.5h.9v.9h-.9zM292.3 377.0h.9v.9h-.9zM284.2 383.8h.9v.9h-.9zM292.9 377.6h.9v.9h-.9zM283.9 372.4h.9v.9h-.9zM290.3 397.0h.9v.9h-.9zM295.8 387.7h.9v.9h-.9zM292.4 372.5h.9v.9h-.9zM287.2 397.8h.9v.9h-.9zM284.5 374.1h.9v.9h-.9zM291.9 385.1h.9v.9h-.9zM283.4 377.3h.9v.9h-.9zM283.2 379.2h.9v.9h-.9zM293.8 389.5h.9v.9h-.9zM294.1 399.7h.9v.9h-.9zM294.5 379.4h.9v.9h-.9zM288.2 399.3h.9v.9h-.9zM282.3 386.5h.9v.9h-.9zM295.0 393.4h.9v.9h-.9zM287.3 400.3h.9v.9h-.9zM294.6 387.9h.9v.9h-.9zM283.0 387.7h.9v.9h-.9zM284.0 380.7h.9v.9h-.9zM293.7 394.5h.9v.9h-.9zM287.3 397.6h.9v.9h-.9zM285.9 395.4h.9v.9h-.9zM300.6 394.4h.9v.9h-.9zM284.3 390.2h.9v.9h-.9zM297.7 378.6h.9v.9h-.9zM283.8 398.0h.9v.9h-.9zM292.4 395.6h.9v.9h-.9zM285.6 398.5h.9v.9h-.9zM293.3 390.1h.9v.9h-.9zM296.3 399.4h.9v.9h-.9zM281.9 392.5h.9v.9h-.9zM296.0 379.8h.9v.9h-.9zM288.8 397.0h.9v.9h-.9zM286.4 394.7h.9v.9h-.9zM292.5 388.4h.9v.9h-.9zM297.1 393.0h.9v.9h-.9zM282.4 397.1h.9v.9h-.9zM293.4 389.2h.9v.9h-.9zM284.1 384.6h.9v.9h-.9zM288.7 397.7h.9v.9h-.9zM295.1 390.8h.9v.9h-.9zM295.5 398.4h.9v.9h-.9zM286.5 398.9h.9v.9h-.9zM291.7 393.8h.9v.9h-.9zM291.3 397.1h.9v.9h-.9zM291.5 393.6h.9v.9h-.9zM289.6 398.0h.9v.9h-.9zM288.5 399.4h.9v.9h-.9zM293.0 395.4h.9v.9h-.9zM284.9 392.8h.9v.9h-.9zM292.4 382.7h.9v.9h-.9zM294.8 394.8h.9v.9h-.9zM283.0 396.6h.9v.9h-.9zM287.1 397.4h.9v.9h-.9zM302.6 368.5h.9v.9h-.9zM298.8 384.1h.9v.9h-.9zM305.1 382.0h.9v.9h-.9zM306.7 385.1h.9v.9h-.9zM309.5 375.8h.9v.9h-.9zM296.7 390.7h.9v.9h-.9zM293.6 384.0h.9v.9h-.9zM283.3 396.0h.9v.9h-.9zM313.6 375.8h.9v.9h-.9zM294.2 369.6h.9v.9h-.9zM303.9 382.9h.9v.9h-.9zM302.3 383.9h.9v.9h-.9zM307.4 381.2h.9v.9h-.9zM299.3 377.8h.9v.9h-.9zM293.2 382.2h.9v.9h-.9zM306.7 382.3h.9v.9h-.9zM297.8 390.7h.9v.9h-.9zM304.0 383.6h.9v.9h-.9zM300.9 394.2h.9v.9h-.9zM297.8 381.7h.9v.9h-.9zM321.4 386.3h.9v.9h-.9zM307.8 388.6h.9v.9h-.9zM301.1 375.2h.9v.9h-.9zM309.6 379.3h.9v.9h-.9zM294.2 375.4h.9v.9h-.9zM301.4 379.0h.9v.9h-.9zM319.5 389.9h.9v.9h-.9zM305.7 389.6h.9v.9h-.9zM299.4 380.1h.9v.9h-.9zM295.2 370.8h.9v.9h-.9zM308.0 376.9h.9v.9h-.9zM353.6 356.2h.9v.9h-.9zM346.4 350.2h.9v.9h-.9zM352.4 351.9h.9v.9h-.9zM357.1 395.4h.9v.9h-.9zM353.9 345.1h.9v.9h-.9zM342.3 365.5h.9v.9h-.9zM351.1 352.1h.9v.9h-.9zM350.2 358.5h.9v.9h-.9zM352.0 359.6h.9v.9h-.9zM344.5 366.1h.9v.9h-.9zM338.3 351.3h.9v.9h-.9zM356.3 367.9h.9v.9h-.9z" fill="rgb(90, 100, 200)" fill-opacity="0.32"/><path d="M288.0 349.0h.9v.9h-.9zM287.8 371.1h.9v.9h-.9zM291.0 369.2h.9v.9h-.9zM284.3 354.0h.9v.9h-.9zM288.8 370.4h.9v.9h-.9zM287.0 348.1h.9v.9h-.9zM290.6 349.6h.9v.9h-.9zM289.8 370.5h.9v.9h-.9zM288.1 346.7h.9v.9h-.9zM289.5 345.7h.9v.9h-.9zM291.5 365.5h.9v.9h-.9zM285.3 368.6h.9v.9h-.9zM288.2 349.1h.9v.9h-.9zM289.1 349.2h.9v.9h-.9zM288.1 371.6h.9v.9h-.9zM285.5 366.8h.9v.9h-.9zM288.0 373.5h.9v.9h-.9zM295.2 362.7h.9v.9h-.9zM292.7 351.2h.9v.9h-.9zM293.3 362.6h.9v.9h-.9zM292.0 351.7h.9v.9h-.9zM294.5 355.7h.9v.9h-.9zM293.0 352.3h.9v.9h-.9zM292.2 365.6h.9v.9h-.9zM287.0 368.1h.9v.9h-.9zM293.5 352.2h.9v.9h-.9zM293.4 364.1h.9v.9h-.9zM286.7 347.8h.9v.9h-.9zM289.7 370.8h.9v.9h-.9zM293.2 350.0h.9v.9h-.9zM283.3 354.2h.9v.9h-.9zM290.8 350.1h.9v.9h-.9zM291.9 354.6h.9v.9h-.9zM284.0 358.4h.9v.9h-.9zM289.5 344.2h.9v.9h-.9zM282.7 363.7h.9v.9h-.9zM296.0 362.7h.9v.9h-.9zM288.3 347.5h.9v.9h-.9zM293.1 349.7h.9v.9h-.9zM289.2 344.3h.9v.9h-.9zM291.1 351.2h.9v.9h-.9zM284.9 368.2h.9v.9h-.9zM288.9 347.6h.9v.9h-.9zM287.4 352.6h.9v.9h-.9zM291.5 367.3h.9v.9h-.9zM289.1 343.0h.9v.9h-.9zM293.2 360.0h.9v.9h-.9zM298.6 354.7h.9v.9h-.9zM284.3 350.7h.9v.9h-.9zM293.6 363.3h.9v.9h-.9zM294.8 354.0h.9v.9h-.9zM283.0 362.8h.9v.9h-.9zM288.2 346.1h.9v.9h-.9zM287.5 369.4h.9v.9h-.9zM294.3 363.8h.9v.9h-.9zM291.0 346.4h.9v.9h-.9zM288.9 372.3h.9v.9h-.9zM292.9 367.2h.9v.9h-.9zM293.4 352.8h.9v.9h-.9zM294.5 354.7h.9v.9h-.9zM291.6 367.2h.9v.9h-.9zM288.4 346.3h.9v.9h-.9zM290.3 345.4h.9v.9h-.9zM282.9 356.3h.9v.9h-.9zM286.7 348.4h.9v.9h-.9zM292.2 363.8h.9v.9h-.9zM295.0 363.8h.9v.9h-.9zM293.5 357.3h.9v.9h-.9zM293.2 359.0h.9v.9h-.9zM293.0 351.0h.9v.9h-.9zM282.4 355.9h.9v.9h-.9zM289.3 346.4h.9v.9h-.9zM286.8 345.8h.9v.9h-.9zM285.1 367.8h.9v.9h-.9zM285.7 369.4h.9v.9h-.9zM293.8 356.0h.9v.9h-.9zM292.8 364.9h.9v.9h-.9zM287.6 346.2h.9v.9h-.9zM291.2 351.4h.9v.9h-.9zM290.1 371.5h.9v.9h-.9zM294.7 353.9h.9v.9h-.9zM285.4 351.0h.9v.9h-.9zM295.2 364.0h.9v.9h-.9zM287.0 367.4h.9v.9h-.9zM294.0 354.3h.9v.9h-.9zM285.2 360.1h.9v.9h-.9zM291.6 351.8h.9v.9h-.9zM287.8 352.8h.9v.9h-.9zM292.2 366.9h.9v.9h-.9zM288.3 372.4h.9v.9h-.9zM300.7 356.5h.9v.9h-.9zM293.7 356.7h.9v.9h-.9zM305.3 356.8h.9v.9h-.9zM298.3 356.8h.9v.9h-.9zM309.8 356.1h.9v.9h-.9zM303.2 359.1h.9v.9h-.9zM305.9 358.9h.9v.9h-.9zM296.3 357.6h.9v.9h-.9zM303.6 361.9h.9v.9h-.9zM304.2 357.6h.9v.9h-.9zM305.3 357.5h.9v.9h-.9zM294.9 362.4h.9v.9h-.9zM303.3 357.1h.9v.9h-.9zM295.2 356.3h.9v.9h-.9zM302.4 357.6h.9v.9h-.9zM301.7 356.1h.9v.9h-.9zM308.6 355.2h.9v.9h-.9zM305.5 356.6h.9v.9h-.9zM303.5 360.3h.9v.9h-.9zM300.5 353.5h.9v.9h-.9zM297.2 356.8h.9v.9h-.9zM305.9 357.9h.9v.9h-.9zM300.9 355.1h.9v.9h-.9zM305.4 359.3h.9v.9h-.9zM300.3 356.5h.9v.9h-.9zM297.9 358.1h.9v.9h-.9zM294.3 354.5h.9v.9h-.9zM303.9 360.4h.9v.9h-.9zM296.6 356.7h.9v.9h-.9zM301.0 355.1h.9v.9h-.9zM303.4 357.0h.9v.9h-.9zM302.8 357.4h.9v.9h-.9zM301.7 356.4h.9v.9h-.9zM305.4 357.5h.9v.9h-.9zM296.4 357.5h.9v.9h-.9zM304.9 359.1h.9v.9h-.9zM304.1 360.3h.9v.9h-.9zM303.8 357.8h.9v.9h-.9zM299.5 357.2h.9v.9h-.9zM305.2 361.5h.9v.9h-.9zM299.3 356.3h.9v.9h-.9zM306.0 360.9h.9v.9h-.9zM299.7 355.7h.9v.9h-.9zM294.9 355.4h.9v.9h-.9zM298.2 356.9h.9v.9h-.9zM299.8 354.4h.9v.9h-.9zM309.8 355.6h.9v.9h-.9zM294.2 362.7h.9v.9h-.9zM298.3 356.2h.9v.9h-.9zM300.0 356.3h.9v.9h-.9zM303.0 357.1h.9v.9h-.9zM304.9 359.7h.9v.9h-.9zM294.8 353.3h.9v.9h-.9zM302.9 359.5h.9v.9h-.9zM296.4 356.8h.9v.9h-.9zM293.7 356.8h.9v.9h-.9zM296.9 356.6h.9v.9h-.9zM301.9 354.7h.9v.9h-.9zM302.4 354.6h.9v.9h-.9zM300.0 354.8h.9v.9h-.9zM294.2 355.2h.9v.9h-.9zM293.6 361.1h.9v.9h-.9zM299.9 357.1h.9v.9h-.9zM301.8 356.3h.9v.9h-.9zM304.9 359.8h.9v.9h-.9zM304.1 358.4h.9v.9h-.9zM302.0 355.3h.9v.9h-.9zM303.2 359.5h.9v.9h-.9zM299.2 357.3h.9v.9h-.9zM293.7 362.6h.9v.9h-.9zM294.3 353.3h.9v.9h-.9zM297.1 356.0h.9v.9h-.9zM309.6 355.9h.9v.9h-.9zM300.5 357.0h.9v.9h-.9zM304.2 358.8h.9v.9h-.9zM308.7 356.1h.9v.9h-.9zM298.3 354.5h.9v.9h-.9zM306.0 357.7h.9v.9h-.9zM295.4 358.1h.9v.9h-.9zM290.9 345.0h.9v.9h-.9zM289.7 346.0h.9v.9h-.9zM290.6 343.7h.9v.9h-.9zM288.0 348.1h.9v.9h-.9zM287.8 348.6h.9v.9h-.9zM289.3 345.1h.9v.9h-.9zM290.6 346.1h.9v.9h-.9zM288.5 346.1h.9v.9h-.9zM288.8 348.4h.9v.9h-.9zM286.7 347.3h.9v.9h-.9zM289.8 343.3h.9v.9h-.9zM288.9 343.4h.9v.9h-.9zM292.6 350.4h.9v.9h-.9zM291.1 345.9h.9v.9h-.9zM289.8 345.3h.9v.9h-.9zM290.1 370.7h.9v.9h-.9zM286.4 384.3h.9v.9h-.9zM286.4 393.0h.9v.9h-.9zM285.0 375.4h.9v.9h-.9zM283.7 367.0h.9v.9h-.9zM285.9 384.8h.9v.9h-.9zM285.9 377.5h.9v.9h-.9zM286.0 385.2h.9v.9h-.9zM285.6 383.0h.9v.9h-.9zM290.6 386.7h.9v.9h-.9zM287.8 392.8h.9v.9h-.9zM287.5 381.1h.9v.9h-.9zM287.7 392.3h.9v.9h-.9zM290.5 392.9h.9v.9h-.9zM285.8 375.9h.9v.9h-.9zM290.4 386.1h.9v.9h-.9zM289.2 376.2h.9v.9h-.9zM285.2 377.3h.9v.9h-.9zM288.8 394.9h.9v.9h-.9zM290.6 389.5h.9v.9h-.9zM291.2 380.1h.9v.9h-.9zM290.8 371.5h.9v.9h-.9zM285.3 384.2h.9v.9h-.9zM286.1 370.6h.9v.9h-.9zM288.3 392.7h.9v.9h-.9zM287.3 386.6h.9v.9h-.9zM289.8 374.6h.9v.9h-.9zM290.7 372.8h.9v.9h-.9zM285.5 382.1h.9v.9h-.9zM287.2 392.8h.9v.9h-.9zM285.1 375.5h.9v.9h-.9zM285.5 387.9h.9v.9h-.9zM289.2 389.2h.9v.9h-.9zM287.3 381.5h.9v.9h-.9zM285.3 384.1h.9v.9h-.9zM289.9 369.9h.9v.9h-.9zM286.0 376.5h.9v.9h-.9zM287.0 381.9h.9v.9h-.9zM284.2 360.7h.9v.9h-.9zM289.8 372.6h.9v.9h-.9zM291.2 382.1h.9v.9h-.9zM285.5 379.4h.9v.9h-.9zM291.0 383.9h.9v.9h-.9zM291.0 376.1h.9v.9h-.9zM285.9 380.6h.9v.9h-.9zM289.0 394.8h.9v.9h-.9zM287.2 378.1h.9v.9h-.9zM286.0 376.0h.9v.9h-.9zM288.1 386.1h.9v.9h-.9zM290.0 384.3h.9v.9h-.9zM290.6 384.5h.9v.9h-.9zM289.8 383.0h.9v.9h-.9zM286.5 374.5h.9v.9h-.9zM290.3 374.2h.9v.9h-.9zM291.0 388.4h.9v.9h-.9zM287.1 376.4h.9v.9h-.9zM285.9 392.4h.9v.9h-.9zM287.5 388.8h.9v.9h-.9zM288.8 388.5h.9v.9h-.9zM291.1 378.8h.9v.9h-.9zM284.2 369.6h.9v.9h-.9zM286.4 379.2h.9v.9h-.9zM289.0 394.6h.9v.9h-.9zM288.2 382.8h.9v.9h-.9zM288.1 380.7h.9v.9h-.9zM285.8 377.5h.9v.9h-.9zM291.2 392.4h.9v.9h-.9zM288.3 387.7h.9v.9h-.9zM290.0 387.5h.9v.9h-.9zM284.4 368.9h.9v.9h-.9zM289.4 374.8h.9v.9h-.9zM289.9 372.6h.9v.9h-.9zM286.1 383.6h.9v.9h-.9zM290.3 392.5h.9v.9h-.9zM288.2 372.0h.9v.9h-.9zM287.0 382.5h.9v.9h-.9zM290.4 377.1h.9v.9h-.9zM290.6 378.9h.9v.9h-.9zM290.5 387.5h.9v.9h-.9zM284.5 380.7h.9v.9h-.9zM287.9 382.5h.9v.9h-.9zM286.8 390.8h.9v.9h-.9zM294.0 360.1h.9v.9h-.9zM286.4 376.1h.9v.9h-.9zM287.4 385.1h.9v.9h-.9zM289.0 382.5h.9v.9h-.9zM288.1 373.4h.9v.9h-.9zM288.5 388.2h.9v.9h-.9zM289.6 373.7h.9v.9h-.9zM290.5 378.2h.9v.9h-.9zM285.8 374.8h.9v.9h-.9zM289.9 383.7h.9v.9h-.9zM287.4 380.4h.9v.9h-.9zM287.6 391.6h.9v.9h-.9zM286.5 371.4h.9v.9h-.9zM286.9 392.0h.9v.9h-.9zM288.9 392.5h.9v.9h-.9zM289.6 377.0h.9v.9h-.9zM286.2 379.2h.9v.9h-.9zM289.3 374.6h.9v.9h-.9zM290.1 395.3h.9v.9h-.9zM287.3 384.6h.9v.9h-.9zM288.9 386.3h.9v.9h-.9zM288.2 381.8h.9v.9h-.9zM285.8 387.4h.9v.9h-.9zM290.5 380.2h.9v.9h-.9zM286.4 391.4h.9v.9h-.9zM291.6 388.2h.9v.9h-.9zM286.1 380.6h.9v.9h-.9zM289.2 386.2h.9v.9h-.9zM285.7 374.3h.9v.9h-.9zM286.5 379.3h.9v.9h-.9zM288.8 387.8h.9v.9h-.9zM286.4 375.3h.9v.9h-.9zM290.6 387.1h.9v.9h-.9zM289.5 372.3h.9v.9h-.9zM288.8 386.0h.9v.9h-.9zM288.2 370.9h.9v.9h-.9zM285.7 384.9h.9v.9h-.9zM290.1 386.0h.9v.9h-.9zM288.3 385.8h.9v.9h-.9zM286.2 389.0h.9v.9h-.9zM287.4 371.3h.9v.9h-.9zM288.0 384.8h.9v.9h-.9zM285.1 375.4h.9v.9h-.9zM288.7 385.4h.9v.9h-.9zM290.9 376.8h.9v.9h-.9zM285.4 379.9h.9v.9h-.9zM289.6 373.1h.9v.9h-.9zM286.0 386.3h.9v.9h-.9zM285.8 371.2h.9v.9h-.9zM289.9 396.0h.9v.9h-.9zM289.6 375.4h.9v.9h-.9zM290.9 370.8h.9v.9h-.9zM287.6 392.6h.9v.9h-.9zM291.9 378.4h.9v.9h-.9zM284.8 367.8h.9v.9h-.9zM290.8 377.5h.9v.9h-.9zM284.1 361.1h.9v.9h-.9zM291.2 386.4h.9v.9h-.9zM291.1 386.0h.9v.9h-.9zM286.5 390.9h.9v.9h-.9zM290.5 388.1h.9v.9h-.9zM288.2 389.6h.9v.9h-.9zM287.9 384.1h.9v.9h-.9zM285.3 384.2h.9v.9h-.9zM290.9 389.2h.9v.9h-.9zM284.8 381.1h.9v.9h-.9zM292.0 391.3h.9v.9h-.9zM289.9 394.8h.9v.9h-.9zM287.6 386.1h.9v.9h-.9zM287.2 391.1h.9v.9h-.9zM289.1 390.6h.9v.9h-.9zM288.0 387.7h.9v.9h-.9zM285.3 387.1h.9v.9h-.9zM290.6 389.4h.9v.9h-.9zM286.7 383.1h.9v.9h-.9zM285.3 387.6h.9v.9h-.9zM290.1 395.3h.9v.9h-.9zM287.5 391.3h.9v.9h-.9zM292.0 391.1h.9v.9h-.9zM290.8 386.5h.9v.9h-.9zM286.7 386.5h.9v.9h-.9zM290.5 385.7h.9v.9h-.9zM290.0 383.5h.9v.9h-.9zM285.8 392.1h.9v.9h-.9zM291.1 395.3h.9v.9h-.9zM289.0 388.9h.9v.9h-.9zM289.5 389.4h.9v.9h-.9zM289.6 393.6h.9v.9h-.9zM289.3 388.7h.9v.9h-.9zM291.2 391.4h.9v.9h-.9zM291.6 392.0h.9v.9h-.9zM287.9 390.9h.9v.9h-.9zM291.3 388.9h.9v.9h-.9zM290.9 381.1h.9v.9h-.9zM288.9 373.7h.9v.9h-.9z" fill="rgb(85, 108, 204)" fill-opacity="0.43"/><path d="M289.4 365.5h.9v.9h-.9zM289.3 351.8h.9v.9h-.9zM285.9 353.3h.9v.9h-.9zM289.6 349.3h.9v.9h-.9zM284.0 365.2h.9v.9h-.9zM286.2 352.8h.9v.9h-.9zM286.4 368.2h.9v.9h-.9zM285.8 353.2h.9v.9h-.9zM285.8 353.6h.9v.9h-.9zM284.0 356.9h.9v.9h-.9zM286.8 351.0h.9v.9h-.9zM286.9 368.2h.9v.9h-.9zM284.0 364.3h.9v.9h-.9zM285.7 368.0h.9v.9h-.9zM285.2 352.1h.9v.9h-.9zM288.6 350.2h.9v.9h-.9zM291.2 365.4h.9v.9h-.9zM285.3 352.9h.9v.9h-.9zM286.9 367.9h.9v.9h-.9zM284.3 356.9h.9v.9h-.9zM292.7 363.0h.9v.9h-.9zM292.5 363.1h.9v.9h-.9zM291.8 354.1h.9v.9h-.9zM284.6 358.0h.9v.9h-.9zM287.0 351.1h.9v.9h-.9zM283.7 356.8h.9v.9h-.9zM288.4 367.3h.9v.9h-.9zM289.2 367.9h.9v.9h-.9zM289.2 351.3h.9v.9h-.9zM287.1 368.2h.9v.9h-.9zM285.0 360.6h.9v.9h-.9zM287.3 351.5h.9v.9h-.9zM289.4 369.0h.9v.9h-.9zM284.1 363.6h.9v.9h-.9zM290.7 367.2h.9v.9h-.9zM284.1 363.1h.9v.9h-.9zM292.6 355.0h.9v.9h-.9zM284.4 356.7h.9v.9h-.9zM290.8 363.9h.9v.9h-.9zM293.1 356.1h.9v.9h-.9zM283.7 362.8h.9v.9h-.9zM292.5 357.8h.9v.9h-.9zM284.8 355.0h.9v.9h-.9zM293.0 359.7h.9v.9h-.9zM288.1 374.6h.9v.9h-.9zM287.6 377.1h.9v.9h-.9zM285.9 352.6h.9v.9h-.9zM289.8 367.5h.9v.9h-.9zM290.5 365.6h.9v.9h-.9zM292.1 360.3h.9v.9h-.9zM285.1 367.1h.9v.9h-.9zM284.5 354.4h.9v.9h-.9zM287.5 375.7h.9v.9h-.9zM288.8 370.2h.9v.9h-.9zM285.2 354.2h.9v.9h-.9zM288.7 368.8h.9v.9h-.9zM286.0 351.8h.9v.9h-.9zM289.3 351.9h.9v.9h-.9zM283.4 364.1h.9v.9h-.9zM290.2 363.0h.9v.9h-.9zM286.7 350.7h.9v.9h-.9zM292.6 358.0h.9v.9h-.9zM284.9 356.9h.9v.9h-.9zM292.8 355.9h.9v.9h-.9zM291.7 354.1h.9v.9h-.9zM291.8 353.8h.9v.9h-.9zM286.7 351.0h.9v.9h-.9zM285.6 354.1h.9v.9h-.9zM288.5 375.4h.9v.9h-.9zM287.9 349.7h.9v.9h-.9zM292.7 360.2h.9v.9h-.9zM289.4 350.2h.9v.9h-.9zM291.9 356.3h.9v.9h-.9zM284.1 357.1h.9v.9h-.9zM284.1 362.9h.9v.9h-.9zM288.9 369.6h.9v.9h-.9zM289.8 350.7h.9v.9h-.9zM289.8 350.9h.9v.9h-.9zM290.3 351.6h.9v.9h-.9zM291.3 353.6h.9v.9h-.9zM290.7 351.8h.9v.9h-.9zM286.6 352.8h.9v.9h-.9zM291.2 363.4h.9v.9h-.9zM283.9 362.4h.9v.9h-.9zM288.6 369.0h.9v.9h-.9zM292.6 361.8h.9v.9h-.9zM292.2 354.9h.9v.9h-.9zM291.1 367.8h.9v.9h-.9zM290.9 367.3h.9v.9h-.9zM288.6 351.2h.9v.9h-.9zM286.4 350.4h.9v.9h-.9zM292.7 363.1h.9v.9h-.9zM288.5 349.8h.9v.9h-.9zM300.3 355.5h.9v.9h-.9zM301.1 355.7h.9v.9h-.9zM300.9 356.1h.9v.9h-.9zM290.9 352.6h.9v.9h-.9zM289.5 377.6h.9v.9h-.9zM289.6 379.8h.9v.9h-.9zM290.6 391.6h.9v.9h-.9zM289.0 378.5h.9v.9h-.9zM290.2 381.2h.9v.9h-.9zM289.8 381.6h.9v.9h-.9zM289.5 378.9h.9v.9h-.9zM286.8 383.5h.9v.9h-.9zM290.0 381.6h.9v.9h-.9zM289.2 390.2h.9v.9h-.9zM289.6 382.0h.9v.9h-.9zM287.9 374.5h.9v.9h-.9zM287.6 377.9h.9v.9h-.9zM289.3 379.7h.9v.9h-.9zM286.4 384.2h.9v.9h-.9zM289.0 378.1h.9v.9h-.9zM288.0 377.5h.9v.9h-.9zM290.2 391.3h.9v.9h-.9zM289.0 381.5h.9v.9h-.9zM288.3 375.1h.9v.9h-.9zM287.1 383.6h.9v.9h-.9zM287.6 378.3h.9v.9h-.9zM289.3 368.8h.9v.9h-.9zM289.5 367.5h.9v.9h-.9zM287.5 376.0h.9v.9h-.9zM290.3 390.6h.9v.9h-.9zM289.9 378.8h.9v.9h-.9zM287.5 375.1h.9v.9h-.9zM289.4 390.6h.9v.9h-.9zM288.5 376.5h.9v.9h-.9zM288.8 379.5h.9v.9h-.9zM288.0 375.2h.9v.9h-.9zM289.2 376.9h.9v.9h-.9zM289.4 386.4h.9v.9h-.9zM289.3 391.5h.9v.9h-.9zM289.0 368.6h.9v.9h-.9zM287.2 384.1h.9v.9h-.9zM289.6 382.1h.9v.9h-.9zM289.2 381.9h.9v.9h-.9zM288.7 375.6h.9v.9h-.9zM287.5 377.3h.9v.9h-.9zM289.3 379.2h.9v.9h-.9zM288.9 369.3h.9v.9h-.9zM288.5 379.4h.9v.9h-.9zM289.0 378.9h.9v.9h-.9zM287.9 378.4h.9v.9h-.9zM289.5 379.4h.9v.9h-.9zM289.1 369.4h.9v.9h-.9zM288.4 375.7h.9v.9h-.9zM287.6 378.7h.9v.9h-.9zM289.9 391.9h.9v.9h-.9zM287.2 379.1h.9v.9h-.9zM289.8 378.9h.9v.9h-.9zM289.8 368.1h.9v.9h-.9zM289.3 377.5h.9v.9h-.9zM287.6 378.2h.9v.9h-.9zM289.4 379.5h.9v.9h-.9zM288.9 382.0h.9v.9h-.9zM289.5 381.3h.9v.9h-.9zM287.7 375.1h.9v.9h-.9zM289.5 380.1h.9v.9h-.9zM289.0 375.1h.9v.9h-.9zM290.3 390.9h.9v.9h-.9zM289.1 391.6h.9v.9h-.9zM290.2 392.2h.9v.9h-.9zM289.7 390.8h.9v.9h-.9zM289.3 386.9h.9v.9h-.9zM289.9 392.0h.9v.9h-.9zM290.5 391.0h.9v.9h-.9zM290.6 391.9h.9v.9h-.9zM290.6 391.8h.9v.9h-.9zM288.4 391.3h.9v.9h-.9z" fill="rgb(81, 116, 208)" fill-opacity="0.54"/><path d="M286.4 353.8h.9v.9h-.9zM290.8 353.8h.9v.9h-.9zM291.6 359.6h.9v.9h-.9zM285.0 366.0h.9v.9h-.9zM285.0 355.9h.9v.9h-.9zM284.7 366.1h.9v.9h-.9zM287.2 366.5h.9v.9h-.9zM288.8 351.0h.9v.9h-.9zM287.8 351.6h.9v.9h-.9zM285.2 360.1h.9v.9h-.9zM288.6 367.6h.9v.9h-.9zM290.8 360.3h.9v.9h-.9zM288.0 353.1h.9v.9h-.9zM285.1 362.6h.9v.9h-.9zM284.7 362.0h.9v.9h-.9zM287.7 351.6h.9v.9h-.9zM287.0 351.9h.9v.9h-.9zM288.7 351.0h.9v.9h-.9zM287.0 353.0h.9v.9h-.9zM288.7 366.6h.9v.9h-.9zM289.5 364.4h.9v.9h-.9zM291.4 357.0h.9v.9h-.9zM285.0 365.6h.9v.9h-.9zM286.5 352.8h.9v.9h-.9zM289.8 366.6h.9v.9h-.9zM289.4 352.2h.9v.9h-.9zM289.7 366.7h.9v.9h-.9zM291.0 364.0h.9v.9h-.9zM285.5 355.1h.9v.9h-.9zM288.8 353.2h.9v.9h-.9zM291.2 356.8h.9v.9h-.9zM286.2 351.9h.9v.9h-.9zM288.2 351.9h.9v.9h-.9zM287.2 351.4h.9v.9h-.9zM290.6 364.4h.9v.9h-.9zM284.6 358.9h.9v.9h-.9zM291.8 356.1h.9v.9h-.9zM289.0 351.6h.9v.9h-.9zM289.0 350.9h.9v.9h-.9zM284.4 357.3h.9v.9h-.9zM292.1 359.8h.9v.9h-.9zM290.2 353.4h.9v.9h-.9zM288.5 351.2h.9v.9h-.9zM286.4 352.2h.9v.9h-.9zM287.7 352.2h.9v.9h-.9zM290.2 355.1h.9v.9h-.9zM289.3 367.1h.9v.9h-.9zM290.6 363.8h.9v.9h-.9zM285.8 365.1h.9v.9h-.9zM291.9 363.1h.9v.9h-.9zM292.1 363.1h.9v.9h-.9zM290.3 353.6h.9v.9h-.9zM291.0 363.1h.9v.9h-.9zM284.8 358.1h.9v.9h-.9zM288.1 350.5h.9v.9h-.9zM289.3 354.2h.9v.9h-.9zM285.4 366.3h.9v.9h-.9zM291.7 355.9h.9v.9h-.9zM292.0 358.2h.9v.9h-.9zM291.1 365.0h.9v.9h-.9zM291.6 357.7h.9v.9h-.9zM285.0 365.8h.9v.9h-.9zM284.9 356.2h.9v.9h-.9zM291.6 362.7h.9v.9h-.9zM292.2 356.2h.9v.9h-.9zM288.4 350.8h.9v.9h-.9zM291.6 359.8h.9v.9h-.9zM290.5 362.9h.9v.9h-.9zM284.3 363.7h.9v.9h-.9zM292.1 355.5h.9v.9h-.9zM291.9 358.9h.9v.9h-.9zM291.3 356.9h.9v.9h-.9zM291.4 354.6h.9v.9h-.9zM291.5 362.0h.9v.9h-.9zM288.4 350.9h.9v.9h-.9zM291.4 361.5h.9v.9h-.9zM286.6 367.3h.9v.9h-.9zM285.1 364.9h.9v.9h-.9z" fill="rgb(83, 135, 203)" fill-opacity="0.65"/><path d="M291.2 358.6h.9v.9h-.9zM288.5 352.5h.9v.9h-.9zM290.9 360.4h.9v.9h-.9zM286.3 355.5h.9v.9h-.9zM284.7 363.3h.9v.9h-.9zM287.9 354.6h.9v.9h-.9zM291.1 357.3h.9v.9h-.9zM285.9 360.7h.9v.9h-.9zM289.2 353.3h.9v.9h-.9zM290.4 362.2h.9v.9h-.9zM284.4 362.8h.9v.9h-.9zM285.1 363.1h.9v.9h-.9zM290.4 355.2h.9v.9h-.9zM289.3 352.3h.9v.9h-.9zM287.1 366.5h.9v.9h-.9zM288.2 354.1h.9v.9h-.9zM290.4 360.6h.9v.9h-.9zM287.1 354.2h.9v.9h-.9zM288.0 367.0h.9v.9h-.9zM286.8 367.8h.9v.9h-.9zM285.7 355.6h.9v.9h-.9zM289.0 354.0h.9v.9h-.9zM289.5 366.0h.9v.9h-.9zM288.4 352.6h.9v.9h-.9zM289.8 353.8h.9v.9h-.9zM286.0 355.8h.9v.9h-.9zM290.3 363.1h.9v.9h-.9zM285.8 355.2h.9v.9h-.9zM289.0 350.7h.9v.9h-.9zM286.3 367.3h.9v.9h-.9zM286.9 366.3h.9v.9h-.9zM289.0 367.5h.9v.9h-.9zM289.3 352.8h.9v.9h-.9zM285.7 361.1h.9v.9h-.9zM289.1 350.3h.9v.9h-.9zM287.6 367.0h.9v.9h-.9zM284.6 360.5h.9v.9h-.9zM290.2 355.5h.9v.9h-.9zM289.1 366.2h.9v.9h-.9zM286.1 356.1h.9v.9h-.9zM287.3 367.0h.9v.9h-.9zM285.1 364.4h.9v.9h-.9zM291.4 354.8h.9v.9h-.9zM289.0 365.3h.9v.9h-.9zM286.0 364.6h.9v.9h-.9zM287.4 353.8h.9v.9h-.9zM286.8 354.1h.9v.9h-.9zM288.5 350.3h.9v.9h-.9zM291.4 355.0h.9v.9h-.9zM291.6 354.6h.9v.9h-.9zM287.5 351.6h.9v.9h-.9zM291.6 359.7h.9v.9h-.9zM289.8 354.1h.9v.9h-.9zM291.0 362.9h.9v.9h-.9zM284.3 356.4h.9v.9h-.9zM284.3 360.2h.9v.9h-.9zM289.3 353.3h.9v.9h-.9zM284.4 360.2h.9v.9h-.9zM291.4 357.7h.9v.9h-.9zM290.7 364.9h.9v.9h-.9zM288.3 352.7h.9v.9h-.9zM290.9 355.5h.9v.9h-.9zM288.8 366.8h.9v.9h-.9zM285.1 362.3h.9v.9h-.9zM284.4 359.2h.9v.9h-.9zM288.1 367.3h.9v.9h-.9zM288.2 366.7h.9v.9h-.9zM287.7 367.7h.9v.9h-.9zM291.4 356.7h.9v.9h-.9zM286.1 363.4h.9v.9h-.9zM291.7 356.2h.9v.9h-.9zM285.1 365.0h.9v.9h-.9zM285.7 366.2h.9v.9h-.9zM286.7 366.6h.9v.9h-.9zM291.9 357.5h.9v.9h-.9zM284.9 360.9h.9v.9h-.9zM286.5 366.4h.9v.9h-.9zM290.9 363.5h.9v.9h-.9zM292.2 361.2h.9v.9h-.9zM288.3 350.3h.9v.9h-.9zM291.5 360.8h.9v.9h-.9zM289.6 353.0h.9v.9h-.9zM292.0 356.3h.9v.9h-.9zM285.0 363.6h.9v.9h-.9zM291.7 358.0h.9v.9h-.9zM290.9 361.5h.9v.9h-.9zM288.1 353.7h.9v.9h-.9zM288.3 367.2h.9v.9h-.9zM290.4 359.4h.9v.9h-.9zM291.1 361.4h.9v.9h-.9zM288.7 366.4h.9v.9h-.9z" fill="rgb(88, 161, 193)" fill-opacity="0.76"/><path d="M285.1 363.8h.9v.9h-.9zM289.5 364.2h.9v.9h-.9zM290.3 360.4h.9v.9h-.9zM289.3 353.5h.9v.9h-.9zM285.8 359.3h.9v.9h-.9zM285.6 363.2h.9v.9h-.9zM289.7 354.5h.9v.9h-.9zM285.6 356.9h.9v.9h-.9zM289.0 352.4h.9v.9h-.9zM290.8 362.3h.9v.9h-.9zM287.5 366.7h.9v.9h-.9zM286.0 356.3h.9v.9h-.9zM288.7 364.5h.9v.9h-.9zM287.2 366.3h.9v.9h-.9zM290.4 360.5h.9v.9h-.9zM290.8 359.6h.9v.9h-.9zM285.7 364.1h.9v.9h-.9zM290.5 359.9h.9v.9h-.9zM285.4 356.5h.9v.9h-.9zM285.7 360.8h.9v.9h-.9zM288.5 353.4h.9v.9h-.9zM290.3 359.3h.9v.9h-.9zM291.1 356.6h.9v.9h-.9zM285.8 359.6h.9v.9h-.9zM286.2 361.0h.9v.9h-.9zM285.8 357.0h.9v.9h-.9zM287.1 365.2h.9v.9h-.9zM286.7 354.9h.9v.9h-.9zM287.2 365.9h.9v.9h-.9zM286.6 364.3h.9v.9h-.9zM289.6 364.9h.9v.9h-.9zM289.9 354.6h.9v.9h-.9zM291.0 358.2h.9v.9h-.9zM286.5 354.7h.9v.9h-.9zM290.1 356.2h.9v.9h-.9zM291.6 357.0h.9v.9h-.9zM286.0 365.5h.9v.9h-.9zM289.4 364.4h.9v.9h-.9zM285.8 364.3h.9v.9h-.9zM284.7 363.6h.9v.9h-.9zM289.4 365.0h.9v.9h-.9zM289.7 365.3h.9v.9h-.9zM289.0 353.4h.9v.9h-.9zM288.7 365.5h.9v.9h-.9zM285.6 365.1h.9v.9h-.9zM290.3 360.1h.9v.9h-.9zM290.7 362.3h.9v.9h-.9zM286.0 364.7h.9v.9h-.9zM286.5 366.4h.9v.9h-.9zM285.9 357.0h.9v.9h-.9zM286.0 365.9h.9v.9h-.9zM285.2 361.7h.9v.9h-.9zM286.4 365.9h.9v.9h-.9zM286.2 356.1h.9v.9h-.9zM289.3 353.8h.9v.9h-.9zM290.9 355.2h.9v.9h-.9zM290.4 354.3h.9v.9h-.9zM289.9 354.0h.9v.9h-.9zM288.1 355.1h.9v.9h-.9zM284.9 356.3h.9v.9h-.9zM291.0 358.4h.9v.9h-.9zM291.1 358.2h.9v.9h-.9zM288.7 365.6h.9v.9h-.9zM290.2 354.8h.9v.9h-.9zM288.2 366.7h.9v.9h-.9zM288.0 354.4h.9v.9h-.9zM291.5 357.7h.9v.9h-.9zM290.2 359.2h.9v.9h-.9zM287.3 367.1h.9v.9h-.9zM290.6 357.8h.9v.9h-.9zM285.5 363.1h.9v.9h-.9zM285.7 366.0h.9v.9h-.9zM285.5 355.6h.9v.9h-.9zM290.1 355.0h.9v.9h-.9zM286.9 366.0h.9v.9h-.9zM288.6 353.0h.9v.9h-.9zM289.4 366.9h.9v.9h-.9zM288.7 352.2h.9v.9h-.9zM285.5 365.8h.9v.9h-.9zM290.7 361.3h.9v.9h-.9zM289.8 365.1h.9v.9h-.9zM290.5 362.8h.9v.9h-.9zM287.5 366.0h.9v.9h-.9zM286.2 364.9h.9v.9h-.9zM285.7 363.0h.9v.9h-.9zM291.2 358.7h.9v.9h-.9zM288.4 351.7h.9v.9h-.9zM288.6 366.0h.9v.9h-.9zM287.8 354.6h.9v.9h-.9zM286.1 355.4h.9v.9h-.9zM290.1 364.4h.9v.9h-.9zM286.3 364.8h.9v.9h-.9zM289.3 364.0h.9v.9h-.9z" fill="rgb(102, 178, 149)" fill-opacity="0.87"/><path d="M289.8 363.1h.9v.9h-.9zM291.2 358.5h.9v.9h-.9zM288.5 364.6h.9v.9h-.9zM288.5 365.3h.9v.9h-.9zM286.0 360.1h.9v.9h-.9zM284.7 359.6h.9v.9h-.9zM287.2 365.2h.9v.9h-.9zM285.8 363.8h.9v.9h-.9zM290.3 357.0h.9v.9h-.9zM288.3 364.3h.9v.9h-.9zM285.9 365.0h.9v.9h-.9zM286.6 365.3h.9v.9h-.9zM287.8 365.9h.9v.9h-.9zM286.8 355.1h.9v.9h-.9zM289.0 355.4h.9v.9h-.9zM289.2 361.0h.9v.9h-.9zM285.4 359.0h.9v.9h-.9zM285.5 358.8h.9v.9h-.9zM288.1 365.7h.9v.9h-.9zM289.2 353.3h.9v.9h-.9zM289.5 361.3h.9v.9h-.9zM285.6 356.4h.9v.9h-.9zM290.0 364.9h.9v.9h-.9zM285.7 358.1h.9v.9h-.9zM289.3 364.4h.9v.9h-.9zM285.4 362.3h.9v.9h-.9zM285.8 361.8h.9v.9h-.9zM288.9 365.8h.9v.9h-.9zM289.4 364.5h.9v.9h-.9zM286.2 364.2h.9v.9h-.9zM290.5 357.1h.9v.9h-.9zM290.5 361.1h.9v.9h-.9zM290.2 362.6h.9v.9h-.9zM288.5 363.8h.9v.9h-.9zM287.3 354.7h.9v.9h-.9zM288.8 364.3h.9v.9h-.9zM290.5 356.5h.9v.9h-.9zM286.6 365.2h.9v.9h-.9zM288.1 365.7h.9v.9h-.9zM288.8 354.3h.9v.9h-.9zM288.7 365.5h.9v.9h-.9zM290.2 364.7h.9v.9h-.9zM286.6 363.7h.9v.9h-.9zM288.5 353.3h.9v.9h-.9zM291.0 362.3h.9v.9h-.9zM290.8 357.0h.9v.9h-.9zM285.5 360.0h.9v.9h-.9zM289.5 356.0h.9v.9h-.9zM285.2 356.6h.9v.9h-.9zM285.7 363.4h.9v.9h-.9zM290.6 358.3h.9v.9h-.9zM289.4 356.6h.9v.9h-.9zM288.3 354.8h.9v.9h-.9zM285.3 362.1h.9v.9h-.9zM290.7 361.5h.9v.9h-.9zM286.3 364.1h.9v.9h-.9zM289.7 353.5h.9v.9h-.9zM291.1 355.9h.9v.9h-.9zM286.0 357.7h.9v.9h-.9zM286.1 362.4h.9v.9h-.9zM286.2 357.3h.9v.9h-.9zM287.8 365.5h.9v.9h-.9zM288.1 354.3h.9v.9h-.9zM288.4 353.8h.9v.9h-.9zM289.1 366.2h.9v.9h-.9zM289.6 354.2h.9v.9h-.9zM286.1 357.5h.9v.9h-.9zM288.3 354.3h.9v.9h-.9zM289.3 363.7h.9v.9h-.9zM286.4 355.7h.9v.9h-.9zM287.8 355.0h.9v.9h-.9zM285.5 362.7h.9v.9h-.9zM285.8 365.4h.9v.9h-.9zM290.3 355.8h.9v.9h-.9zM285.7 358.0h.9v.9h-.9zM289.3 355.2h.9v.9h-.9zM285.9 358.4h.9v.9h-.9zM285.9 361.2h.9v.9h-.9zM286.1 359.2h.9v.9h-.9zM290.8 359.6h.9v.9h-.9zM290.9 359.5h.9v.9h-.9zM290.9 359.6h.9v.9h-.9zM290.4 359.5h.9v.9h-.9zM289.3 355.7h.9v.9h-.9zM289.5 355.7h.9v.9h-.9zM289.9 354.1h.9v.9h-.9zM288.0 365.9h.9v.9h-.9zM286.9 364.9h.9v.9h-.9zM290.0 362.9h.9v.9h-.9z" fill="rgb(120, 190, 90)" fill-opacity="0.92"/><path d="M288.9 354.9h.9v.9h-.9zM287.1 355.3h.9v.9h-.9zM285.8 360.2h.9v.9h-.9zM289.3 361.0h.9v.9h-.9zM288.4 364.1h.9v.9h-.9zM286.2 357.3h.9v.9h-.9zM286.9 364.8h.9v.9h-.9zM290.6 357.3h.9v.9h-.9zM286.3 358.0h.9v.9h-.9zM288.6 356.1h.9v.9h-.9zM288.6 363.4h.9v.9h-.9zM290.1 355.8h.9v.9h-.9zM288.5 366.0h.9v.9h-.9zM286.5 356.7h.9v.9h-.9zM287.3 364.8h.9v.9h-.9zM290.0 355.4h.9v.9h-.9zM287.2 355.5h.9v.9h-.9zM289.4 357.4h.9v.9h-.9zM291.0 359.5h.9v.9h-.9zM289.4 363.4h.9v.9h-.9zM287.9 364.7h.9v.9h-.9zM286.3 363.1h.9v.9h-.9zM289.2 361.5h.9v.9h-.9zM289.9 357.4h.9v.9h-.9zM286.1 359.3h.9v.9h-.9zM287.9 365.2h.9v.9h-.9zM288.0 354.9h.9v.9h-.9zM286.0 363.3h.9v.9h-.9zM290.2 359.1h.9v.9h-.9zM285.8 358.6h.9v.9h-.9zM286.0 358.4h.9v.9h-.9zM286.8 364.1h.9v.9h-.9zM289.0 362.6h.9v.9h-.9zM287.0 356.7h.9v.9h-.9zM288.9 363.8h.9v.9h-.9zM288.3 365.8h.9v.9h-.9zM290.1 356.8h.9v.9h-.9zM285.8 363.8h.9v.9h-.9zM286.9 355.5h.9v.9h-.9zM289.1 365.4h.9v.9h-.9zM288.3 364.4h.9v.9h-.9zM288.4 364.5h.9v.9h-.9zM288.2 355.5h.9v.9h-.9zM287.7 364.7h.9v.9h-.9zM287.2 354.8h.9v.9h-.9zM289.3 360.9h.9v.9h-.9zM286.8 364.8h.9v.9h-.9zM289.6 361.8h.9v.9h-.9zM289.3 358.6h.9v.9h-.9zM288.1 355.2h.9v.9h-.9zM289.1 365.0h.9v.9h-.9zM286.4 356.3h.9v.9h-.9zM287.1 363.6h.9v.9h-.9zM287.7 365.2h.9v.9h-.9zM286.1 362.6h.9v.9h-.9zM287.3 365.3h.9v.9h-.9zM286.3 355.8h.9v.9h-.9zM285.6 363.9h.9v.9h-.9zM285.3 359.7h.9v.9h-.9zM286.1 360.0h.9v.9h-.9zM285.7 364.4h.9v.9h-.9zM289.1 363.3h.9v.9h-.9zM289.7 360.9h.9v.9h-.9zM287.3 355.6h.9v.9h-.9zM288.8 364.7h.9v.9h-.9zM287.7 365.4h.9v.9h-.9zM286.2 364.5h.9v.9h-.9zM286.7 356.1h.9v.9h-.9zM288.3 363.3h.9v.9h-.9zM286.7 363.9h.9v.9h-.9zM288.0 363.5h.9v.9h-.9zM286.0 360.2h.9v.9h-.9zM287.8 364.6h.9v.9h-.9zM290.8 358.9h.9v.9h-.9zM289.5 354.7h.9v.9h-.9zM287.0 355.3h.9v.9h-.9zM290.0 360.4h.9v.9h-.9zM287.7 365.6h.9v.9h-.9zM289.8 356.9h.9v.9h-.9zM291.0 357.0h.9v.9h-.9zM289.0 362.3h.9v.9h-.9zM289.4 354.7h.9v.9h-.9zM289.1 354.4h.9v.9h-.9zM291.1 357.4h.9v.9h-.9zM286.6 357.9h.9v.9h-.9zM290.9 357.8h.9v.9h-.9zM285.6 363.3h.9v.9h-.9zM290.0 360.4h.9v.9h-.9zM286.9 364.5h.9v.9h-.9zM285.6 360.2h.9v.9h-.9zM290.0 364.3h.9v.9h-.9zM287.3 355.6h.9v.9h-.9zM288.8 355.1h.9v.9h-.9zM286.2 364.8h.9v.9h-.9zM289.7 357.5h.9v.9h-.9zM285.9 358.8h.9v.9h-.9zM285.4 359.6h.9v.9h-.9zM290.8 359.0h.9v.9h-.9zM287.0 362.8h.9v.9h-.9zM290.9 358.5h.9v.9h-.9zM287.1 365.5h.9v.9h-.9zM288.7 353.7h.9v.9h-.9z" fill="rgb(170, 201, 66)" fill-opacity="0.92"/><path d="M287.1 362.5h.9v.9h-.9zM290.1 357.6h.9v.9h-.9zM287.1 356.4h.9v.9h-.9zM289.4 360.6h.9v.9h-.9zM287.2 364.3h.9v.9h-.9zM289.6 358.2h.9v.9h-.9zM289.6 359.1h.9v.9h-.9zM287.4 366.0h.9v.9h-.9zM288.7 364.0h.9v.9h-.9zM289.9 359.6h.9v.9h-.9zM289.4 358.1h.9v.9h-.9zM288.7 363.4h.9v.9h-.9zM287.2 356.7h.9v.9h-.9zM289.2 355.8h.9v.9h-.9zM287.1 361.5h.9v.9h-.9zM286.3 362.9h.9v.9h-.9zM286.1 359.1h.9v.9h-.9zM288.6 355.7h.9v.9h-.9zM288.4 363.9h.9v.9h-.9zM286.7 357.5h.9v.9h-.9zM289.9 356.2h.9v.9h-.9zM287.8 355.9h.9v.9h-.9zM289.3 357.5h.9v.9h-.9zM287.0 357.8h.9v.9h-.9zM289.0 365.5h.9v.9h-.9zM286.2 362.2h.9v.9h-.9zM288.5 362.8h.9v.9h-.9zM288.0 365.1h.9v.9h-.9zM287.0 358.6h.9v.9h-.9zM290.0 356.9h.9v.9h-.9zM286.4 363.7h.9v.9h-.9zM289.5 358.5h.9v.9h-.9zM288.8 361.3h.9v.9h-.9zM289.3 360.7h.9v.9h-.9zM287.0 361.2h.9v.9h-.9zM286.6 357.0h.9v.9h-.9zM287.1 357.8h.9v.9h-.9zM286.9 362.3h.9v.9h-.9zM288.2 362.2h.9v.9h-.9zM287.3 356.2h.9v.9h-.9zM286.9 360.9h.9v.9h-.9zM289.6 359.0h.9v.9h-.9zM289.2 354.8h.9v.9h-.9zM288.3 355.5h.9v.9h-.9zM288.4 356.0h.9v.9h-.9zM289.9 357.7h.9v.9h-.9zM288.9 354.4h.9v.9h-.9zM286.5 357.4h.9v.9h-.9zM286.8 357.9h.9v.9h-.9zM286.7 363.7h.9v.9h-.9zM289.7 356.7h.9v.9h-.9zM288.3 363.3h.9v.9h-.9zM286.7 361.4h.9v.9h-.9zM287.5 356.0h.9v.9h-.9zM287.7 355.3h.9v.9h-.9zM288.3 364.6h.9v.9h-.9zM286.9 364.1h.9v.9h-.9zM289.2 357.5h.9v.9h-.9zM286.3 362.4h.9v.9h-.9zM286.7 357.8h.9v.9h-.9zM287.0 357.2h.9v.9h-.9zM286.4 357.1h.9v.9h-.9zM287.1 363.8h.9v.9h-.9zM286.3 356.9h.9v.9h-.9zM289.8 359.3h.9v.9h-.9zM286.5 356.1h.9v.9h-.9zM289.1 355.8h.9v.9h-.9zM286.0 362.1h.9v.9h-.9zM287.0 362.4h.9v.9h-.9zM287.3 363.4h.9v.9h-.9zM286.4 362.3h.9v.9h-.9zM288.1 354.4h.9v.9h-.9zM285.9 361.8h.9v.9h-.9zM286.3 364.1h.9v.9h-.9zM288.2 355.6h.9v.9h-.9zM290.1 357.8h.9v.9h-.9zM288.5 355.4h.9v.9h-.9zM288.3 355.7h.9v.9h-.9zM290.0 358.2h.9v.9h-.9zM289.7 358.8h.9v.9h-.9zM287.7 356.9h.9v.9h-.9zM289.1 363.5h.9v.9h-.9zM288.3 362.6h.9v.9h-.9zM286.8 356.6h.9v.9h-.9zM287.4 364.9h.9v.9h-.9zM289.7 358.5h.9v.9h-.9zM286.8 357.5h.9v.9h-.9zM288.4 363.0h.9v.9h-.9zM288.3 363.4h.9v.9h-.9zM288.5 363.3h.9v.9h-.9zM287.5 356.6h.9v.9h-.9zM289.1 363.2h.9v.9h-.9zM289.5 359.3h.9v.9h-.9zM288.8 364.0h.9v.9h-.9zM288.5 362.5h.9v.9h-.9zM286.5 356.5h.9v.9h-.9zM286.6 355.8h.9v.9h-.9zM289.9 356.4h.9v.9h-.9zM289.1 357.1h.9v.9h-.9zM286.7 358.7h.9v.9h-.9zM288.2 355.4h.9v.9h-.9zM287.3 362.2h.9v.9h-.9zM287.7 356.4h.9v.9h-.9zM289.5 356.8h.9v.9h-.9zM289.7 358.1h.9v.9h-.9zM288.6 364.0h.9v.9h-.9z" fill="rgb(210, 205, 47)" fill-opacity="0.92"/><path d="M287.3 357.0h.9v.9h-.9zM288.9 356.2h.9v.9h-.9zM288.1 356.6h.9v.9h-.9zM286.9 357.3h.9v.9h-.9zM288.6 357.8h.9v.9h-.9zM289.0 363.5h.9v.9h-.9zM286.4 360.5h.9v.9h-.9zM288.1 361.4h.9v.9h-.9zM289.5 359.9h.9v.9h-.9zM288.6 358.4h.9v.9h-.9zM287.1 358.8h.9v.9h-.9zM287.5 362.9h.9v.9h-.9zM288.0 360.8h.9v.9h-.9zM286.9 363.5h.9v.9h-.9zM287.0 362.4h.9v.9h-.9zM286.8 358.2h.9v.9h-.9zM288.7 361.4h.9v.9h-.9zM288.3 356.1h.9v.9h-.9zM287.8 355.4h.9v.9h-.9zM288.7 356.9h.9v.9h-.9zM288.5 362.9h.9v.9h-.9zM286.8 361.8h.9v.9h-.9zM288.0 362.4h.9v.9h-.9zM286.9 359.0h.9v.9h-.9zM286.5 358.4h.9v.9h-.9zM287.9 356.4h.9v.9h-.9zM286.3 358.8h.9v.9h-.9zM289.6 357.9h.9v.9h-.9zM288.3 360.6h.9v.9h-.9zM287.4 361.5h.9v.9h-.9zM287.3 363.7h.9v.9h-.9zM286.3 363.7h.9v.9h-.9zM287.0 361.4h.9v.9h-.9zM287.9 357.8h.9v.9h-.9zM287.1 361.2h.9v.9h-.9zM289.8 358.0h.9v.9h-.9zM287.0 359.0h.9v.9h-.9zM288.0 363.2h.9v.9h-.9zM287.0 361.4h.9v.9h-.9zM287.4 358.0h.9v.9h-.9zM288.0 355.4h.9v.9h-.9zM286.9 358.1h.9v.9h-.9zM286.4 357.9h.9v.9h-.9zM286.8 362.3h.9v.9h-.9zM286.4 356.7h.9v.9h-.9zM288.4 357.5h.9v.9h-.9zM289.3 358.9h.9v.9h-.9zM286.7 363.0h.9v.9h-.9zM288.0 362.6h.9v.9h-.9zM288.1 357.7h.9v.9h-.9zM289.0 363.1h.9v.9h-.9zM288.3 361.5h.9v.9h-.9zM288.8 362.1h.9v.9h-.9zM288.6 357.0h.9v.9h-.9zM288.3 357.7h.9v.9h-.9zM286.7 360.4h.9v.9h-.9zM288.9 361.7h.9v.9h-.9zM289.6 358.8h.9v.9h-.9zM289.1 357.5h.9v.9h-.9zM286.5 360.2h.9v.9h-.9zM286.1 362.9h.9v.9h-.9zM286.7 357.5h.9v.9h-.9zM287.0 357.7h.9v.9h-.9zM287.7 357.3h.9v.9h-.9zM286.3 360.2h.9v.9h-.9zM288.8 362.8h.9v.9h-.9zM289.2 356.5h.9v.9h-.9zM287.1 362.0h.9v.9h-.9zM288.4 363.3h.9v.9h-.9zM286.7 361.6h.9v.9h-.9zM290.1 361.0h.9v.9h-.9zM286.9 363.1h.9v.9h-.9zM288.9 356.6h.9v.9h-.9zM289.0 355.5h.9v.9h-.9zM289.0 356.1h.9v.9h-.9zM286.6 355.8h.9v.9h-.9zM288.4 363.2h.9v.9h-.9zM289.4 361.1h.9v.9h-.9zM287.7 355.3h.9v.9h-.9zM288.6 363.1h.9v.9h-.9zM289.1 356.2h.9v.9h-.9zM288.4 362.7h.9v.9h-.9zM289.0 362.4h.9v.9h-.9zM286.3 362.2h.9v.9h-.9zM286.2 361.4h.9v.9h-.9zM288.4 355.6h.9v.9h-.9zM287.3 363.7h.9v.9h-.9zM289.2 362.7h.9v.9h-.9zM287.0 360.9h.9v.9h-.9zM287.7 356.9h.9v.9h-.9zM287.8 363.8h.9v.9h-.9zM289.6 359.7h.9v.9h-.9zM288.2 361.4h.9v.9h-.9zM288.4 362.0h.9v.9h-.9zM288.5 363.2h.9v.9h-.9zM286.7 363.0h.9v.9h-.9zM287.6 356.1h.9v.9h-.9zM286.5 360.3h.9v.9h-.9zM287.0 364.2h.9v.9h-.9z" fill="rgb(226, 191, 40)" fill-opacity="0.92"/><path d="M286.7 359.6h.9v.9h-.9zM288.0 361.2h.9v.9h-.9zM288.8 358.3h.9v.9h-.9zM286.7 359.2h.9v.9h-.9zM288.0 362.2h.9v.9h-.9zM288.0 360.7h.9v.9h-.9zM289.2 360.6h.9v.9h-.9zM288.7 362.0h.9v.9h-.9zM288.0 363.7h.9v.9h-.9zM287.8 356.8h.9v.9h-.9zM287.8 358.7h.9v.9h-.9zM286.7 359.8h.9v.9h-.9zM288.4 358.7h.9v.9h-.9zM286.4 359.8h.9v.9h-.9zM288.4 356.9h.9v.9h-.9zM288.0 358.0h.9v.9h-.9zM287.8 359.8h.9v.9h-.9zM288.9 361.2h.9v.9h-.9zM288.4 361.9h.9v.9h-.9zM288.1 356.7h.9v.9h-.9zM287.1 357.3h.9v.9h-.9zM289.1 360.9h.9v.9h-.9zM287.6 356.4h.9v.9h-.9zM289.1 360.2h.9v.9h-.9zM287.7 358.4h.9v.9h-.9zM288.5 358.0h.9v.9h-.9zM286.3 359.7h.9v.9h-.9zM289.2 359.3h.9v.9h-.9zM288.2 357.3h.9v.9h-.9zM288.4 362.5h.9v.9h-.9zM288.3 360.3h.9v.9h-.9zM287.1 358.6h.9v.9h-.9zM287.4 359.3h.9v.9h-.9zM287.0 359.4h.9v.9h-.9zM288.6 357.8h.9v.9h-.9zM289.1 359.5h.9v.9h-.9zM286.3 359.1h.9v.9h-.9zM286.9 358.0h.9v.9h-.9zM288.1 359.1h.9v.9h-.9zM287.0 360.5h.9v.9h-.9zM286.5 360.3h.9v.9h-.9zM289.5 358.4h.9v.9h-.9zM288.4 357.0h.9v.9h-.9zM288.7 361.9h.9v.9h-.9zM288.6 357.6h.9v.9h-.9zM287.4 355.9h.9v.9h-.9zM289.0 361.7h.9v.9h-.9zM287.5 360.9h.9v.9h-.9zM287.8 361.7h.9v.9h-.9zM286.6 358.9h.9v.9h-.9zM287.0 362.0h.9v.9h-.9zM287.8 355.4h.9v.9h-.9zM289.1 358.1h.9v.9h-.9zM286.7 360.1h.9v.9h-.9zM288.4 359.5h.9v.9h-.9zM288.4 360.9h.9v.9h-.9zM288.7 356.7h.9v.9h-.9zM288.2 361.5h.9v.9h-.9zM287.6 361.8h.9v.9h-.9zM288.7 361.6h.9v.9h-.9zM287.7 363.2h.9v.9h-.9zM287.9 357.6h.9v.9h-.9zM287.7 361.7h.9v.9h-.9zM288.6 360.7h.9v.9h-.9zM288.0 362.3h.9v.9h-.9zM288.3 361.1h.9v.9h-.9zM287.8 360.7h.9v.9h-.9zM288.9 358.4h.9v.9h-.9zM288.6 360.5h.9v.9h-.9zM288.5 356.2h.9v.9h-.9zM286.4 364.1h.9v.9h-.9zM288.2 357.9h.9v.9h-.9zM287.7 362.2h.9v.9h-.9zM287.6 362.4h.9v.9h-.9zM287.6 358.4h.9v.9h-.9zM288.6 357.7h.9v.9h-.9zM287.9 358.5h.9v.9h-.9zM289.4 357.5h.9v.9h-.9zM287.6 356.6h.9v.9h-.9zM287.2 357.1h.9v.9h-.9zM287.5 355.8h.9v.9h-.9zM286.9 360.6h.9v.9h-.9zM288.9 361.0h.9v.9h-.9zM288.8 358.8h.9v.9h-.9zM287.7 363.3h.9v.9h-.9zM288.6 358.7h.9v.9h-.9zM289.8 359.1h.9v.9h-.9zM289.3 358.5h.9v.9h-.9zM288.6 357.2h.9v.9h-.9zM287.9 362.0h.9v.9h-.9zM286.8 360.3h.9v.9h-.9zM288.1 356.9h.9v.9h-.9zM288.8 358.1h.9v.9h-.9zM287.0 357.6h.9v.9h-.9zM288.5 362.5h.9v.9h-.9zM288.6 360.8h.9v.9h-.9zM289.0 360.7h.9v.9h-.9zM289.6 358.5h.9v.9h-.9zM287.6 362.6h.9v.9h-.9zM286.9 361.3h.9v.9h-.9zM288.2 362.7h.9v.9h-.9zM290.0 358.2h.9v.9h-.9zM287.1 359.3h.9v.9h-.9zM288.6 361.7h.9v.9h-.9zM286.3 362.6h.9v.9h-.9zM288.6 359.7h.9v.9h-.9zM288.9 358.5h.9v.9h-.9z" fill="rgb(239, 175, 34)" fill-opacity="0.92"/><path d="M287.4 360.3h.9v.9h-.9zM287.4 361.3h.9v.9h-.9zM289.0 362.7h.9v.9h-.9zM288.2 360.7h.9v.9h-.9zM287.0 359.7h.9v.9h-.9zM289.1 360.3h.9v.9h-.9zM287.4 361.3h.9v.9h-.9zM287.6 357.0h.9v.9h-.9zM287.2 359.3h.9v.9h-.9zM288.3 360.7h.9v.9h-.9zM287.9 362.1h.9v.9h-.9zM288.0 358.0h.9v.9h-.9zM287.9 359.8h.9v.9h-.9zM287.6 361.8h.9v.9h-.9zM289.0 358.8h.9v.9h-.9zM288.2 358.7h.9v.9h-.9zM288.1 358.8h.9v.9h-.9zM288.2 360.8h.9v.9h-.9zM288.8 360.1h.9v.9h-.9zM288.1 357.9h.9v.9h-.9zM288.3 358.2h.9v.9h-.9zM289.0 359.3h.9v.9h-.9zM288.9 359.5h.9v.9h-.9zM288.6 357.4h.9v.9h-.9zM287.6 358.6h.9v.9h-.9zM287.5 357.5h.9v.9h-.9zM288.3 361.8h.9v.9h-.9zM288.6 361.0h.9v.9h-.9zM287.2 359.5h.9v.9h-.9zM287.3 362.2h.9v.9h-.9zM288.8 361.2h.9v.9h-.9zM287.5 359.7h.9v.9h-.9zM287.8 358.8h.9v.9h-.9zM287.0 361.0h.9v.9h-.9zM287.3 361.2h.9v.9h-.9zM287.8 359.3h.9v.9h-.9zM288.2 357.5h.9v.9h-.9zM287.7 360.8h.9v.9h-.9zM288.3 357.7h.9v.9h-.9zM287.7 361.3h.9v.9h-.9zM287.8 363.1h.9v.9h-.9zM287.3 359.8h.9v.9h-.9zM287.6 359.2h.9v.9h-.9zM289.1 359.2h.9v.9h-.9zM287.7 358.9h.9v.9h-.9zM287.5 359.8h.9v.9h-.9zM288.6 359.3h.9v.9h-.9zM288.7 360.1h.9v.9h-.9zM287.1 359.8h.9v.9h-.9zM288.1 359.9h.9v.9h-.9zM286.6 361.1h.9v.9h-.9zM286.2 359.1h.9v.9h-.9zM287.5 360.4h.9v.9h-.9zM288.1 362.9h.9v.9h-.9zM288.0 358.2h.9v.9h-.9zM287.8 362.0h.9v.9h-.9zM288.3 357.8h.9v.9h-.9zM288.3 359.1h.9v.9h-.9zM287.3 361.8h.9v.9h-.9zM288.7 357.6h.9v.9h-.9zM287.7 357.3h.9v.9h-.9zM286.8 359.8h.9v.9h-.9zM288.5 358.3h.9v.9h-.9zM287.6 358.0h.9v.9h-.9zM286.9 358.6h.9v.9h-.9zM288.4 360.0h.9v.9h-.9zM288.1 361.4h.9v.9h-.9zM288.5 357.5h.9v.9h-.9zM287.4 357.8h.9v.9h-.9zM287.8 363.1h.9v.9h-.9zM287.4 363.0h.9v.9h-.9zM288.0 358.6h.9v.9h-.9zM287.4 358.5h.9v.9h-.9zM288.2 360.2h.9v.9h-.9zM287.8 362.1h.9v.9h-.9zM287.6 361.0h.9v.9h-.9zM287.7 359.0h.9v.9h-.9zM289.0 360.8h.9v.9h-.9zM288.9 357.3h.9v.9h-.9zM289.0 360.9h.9v.9h-.9zM287.3 362.8h.9v.9h-.9zM287.0 360.1h.9v.9h-.9zM287.5 360.1h.9v.9h-.9zM288.6 359.9h.9v.9h-.9zM287.6 359.2h.9v.9h-.9z" fill="rgb(237, 145, 29)" fill-opacity="0.92"/><path d="M287.9 358.8h.9v.9h-.9zM287.6 358.6h.9v.9h-.9zM289.1 358.9h.9v.9h-.9zM287.6 360.0h.9v.9h-.9zM288.5 359.5h.9v.9h-.9zM288.7 359.5h.9v.9h-.9zM287.8 359.5h.9v.9h-.9zM288.0 360.4h.9v.9h-.9zM287.7 359.9h.9v.9h-.9zM287.7 361.0h.9v.9h-.9zM287.3 359.9h.9v.9h-.9zM287.5 359.1h.9v.9h-.9zM287.3 358.6h.9v.9h-.9zM288.3 357.5h.9v.9h-.9zM288.8 360.6h.9v.9h-.9zM288.2 360.4h.9v.9h-.9zM288.4 359.4h.9v.9h-.9zM287.9 361.2h.9v.9h-.9zM288.9 361.7h.9v.9h-.9zM287.4 360.9h.9v.9h-.9zM287.8 360.7h.9v.9h-.9zM287.9 359.1h.9v.9h-.9zM287.7 358.7h.9v.9h-.9zM288.9 357.9h.9v.9h-.9zM288.4 358.5h.9v.9h-.9zM287.4 358.9h.9v.9h-.9zM287.2 360.0h.9v.9h-.9zM287.1 359.0h.9v.9h-.9zM288.9 357.8h.9v.9h-.9zM287.5 359.3h.9v.9h-.9zM287.3 360.0h.9v.9h-.9zM288.2 357.8h.9v.9h-.9zM287.6 360.4h.9v.9h-.9zM288.2 360.1h.9v.9h-.9zM288.2 359.6h.9v.9h-.9zM288.2 358.3h.9v.9h-.9zM287.4 359.9h.9v.9h-.9zM287.6 360.2h.9v.9h-.9zM287.8 359.9h.9v.9h-.9zM287.9 360.0h.9v.9h-.9zM289.2 358.3h.9v.9h-.9zM287.3 362.0h.9v.9h-.9zM287.3 361.4h.9v.9h-.9zM286.9 360.5h.9v.9h-.9zM287.6 359.3h.9v.9h-.9zM288.8 359.0h.9v.9h-.9zM287.8 360.5h.9v.9h-.9zM287.6 361.4h.9v.9h-.9zM288.1 360.9h.9v.9h-.9zM287.9 359.9h.9v.9h-.9zM287.9 361.0h.9v.9h-.9zM288.0 360.7h.9v.9h-.9zM288.0 360.7h.9v.9h-.9zM288.0 360.5h.9v.9h-.9zM288.0 360.6h.9v.9h-.9zM288.1 361.0h.9v.9h-.9zM286.3 359.7h.9v.9h-.9z" fill="rgb(235, 115, 25)" fill-opacity="0.92"/>
<rect x="278.2" y="319.2" width="82.0" height="82.19999999999999" fill="none" stroke="#111" stroke-width="1.1"/>
<rect x="279.2" y="336.3" width="18.5" height="32.0" fill="none" stroke="#111" stroke-width="1.2"/>
<rect x="297.7" y="336.3" width="43.69999999999999" height="32.0" fill="none" stroke="#111" stroke-width="1.2"/>
<rect x="279.2" y="368.7" width="33.5" height="32.69999999999997" fill="none" stroke="#111" stroke-width="1.2"/>
<line x1="276.3" y1="361.83" x2="278.2" y2="361.83" stroke="#222" stroke-width="0.8" />
<line x1="276.3" y1="358.04" x2="278.2" y2="358.04" stroke="#222" stroke-width="0.8" />
<line x1="276.3" y1="355.36" x2="278.2" y2="355.36" stroke="#222" stroke-width="0.8" />
<line x1="276.3" y1="353.27" x2="278.2" y2="353.27" stroke="#222" stroke-width="0.8" />
<line x1="276.3" y1="351.57" x2="278.2" y2="351.57" stroke="#222" stroke-width="0.8" />
<line x1="276.3" y1="350.13" x2="278.2" y2="350.13" stroke="#222" stroke-width="0.8" />
<line x1="276.3" y1="348.88" x2="278.2" y2="348.88" stroke="#222" stroke-width="0.8" />
<line x1="276.3" y1="347.78" x2="278.2" y2="347.78" stroke="#222" stroke-width="0.8" />
<line x1="276.3" y1="340.63" x2="278.2" y2="340.63" stroke="#222" stroke-width="0.8" />
<line x1="276.3" y1="337.02" x2="278.2" y2="337.02" stroke="#222" stroke-width="0.8" />
<line x1="276.3" y1="334.46" x2="278.2" y2="334.46" stroke="#222" stroke-width="0.8" />
<line x1="276.3" y1="332.47" x2="278.2" y2="332.47" stroke="#222" stroke-width="0.8" />
<line x1="276.3" y1="330.85" x2="278.2" y2="330.85" stroke="#222" stroke-width="0.8" />
<line x1="276.3" y1="329.48" x2="278.2" y2="329.48" stroke="#222" stroke-width="0.8" />
<line x1="276.3" y1="328.29" x2="278.2" y2="328.29" stroke="#222" stroke-width="0.8" />
<line x1="276.3" y1="327.24" x2="278.2" y2="327.24" stroke="#222" stroke-width="0.8" />
<line x1="276.3" y1="320.13" x2="278.2" y2="320.13" stroke="#222" stroke-width="0.8" />
<line x1="276.3" y1="376.05" x2="278.2" y2="376.05" stroke="#222" stroke-width="0.8" />
<line x1="276.3" y1="390.05" x2="278.2" y2="390.05" stroke="#222" stroke-width="0.8" />
<line x1="276.3" y1="400.4" x2="278.2" y2="400.4" stroke="#222" stroke-width="0.8" />
<line x1="275.3" y1="326.3" x2="278.2" y2="326.3" stroke="#111" stroke-width="0.9" />
<line x1="275.3" y1="346.8" x2="278.2" y2="346.8" stroke="#111" stroke-width="0.9" />
<line x1="275.3" y1="368.3" x2="278.2" y2="368.3" stroke="#111" stroke-width="0.9" />
<line x1="275.3" y1="383.8" x2="278.2" y2="383.8" stroke="#111" stroke-width="0.9" />
<line x1="275.3" y1="396.3" x2="278.2" y2="396.3" stroke="#111" stroke-width="0.9" />
<rect x="276" y="381.6" width="2.2" height="3.4" fill="#111" stroke="none" stroke-width="0"/>
<text x="272.6" y="328.6" font-family="Liberation Sans" font-size="6.5" fill="#2a2a2a" text-anchor="end" >10<tspan font-size="4.4" dy="-2.7">5</tspan></text>
<text x="272.6" y="349.1" font-family="Liberation Sans" font-size="6.5" fill="#2a2a2a" text-anchor="end" >10<tspan font-size="4.4" dy="-2.7">4</tspan></text>
<text x="272.6" y="370.6" font-family="Liberation Sans" font-size="6.5" fill="#2a2a2a" text-anchor="end" >10<tspan font-size="4.4" dy="-2.7">3</tspan></text>
<text x="271.7" y="386" font-family="Liberation Sans" font-size="6.5" fill="#2a2a2a" text-anchor="end" >0</text>
<text x="272.6" y="398.3" font-family="Liberation Sans" font-size="6.5" fill="#2a2a2a" text-anchor="end" >-10<tspan font-size="4.4" dy="-2.7">3</tspan></text>
<line x1="278.7" y1="401.4" x2="278.7" y2="403.8" stroke="#111" stroke-width="0.9" />
<text transform="translate(281,409.6) rotate(-45)" font-family="Liberation Sans" font-size="6.7" fill="#222" text-anchor="end" >0</text>
<line x1="294.3" y1="401.4" x2="294.3" y2="403.8" stroke="#111" stroke-width="0.9" />
<text transform="translate(296.6,409.6) rotate(-45)" font-family="Liberation Sans" font-size="6.7" fill="#222" text-anchor="end" >50K</text>
<line x1="309.9" y1="401.4" x2="309.9" y2="403.8" stroke="#111" stroke-width="0.9" />
<text transform="translate(312.2,409.6) rotate(-45)" font-family="Liberation Sans" font-size="6.7" fill="#222" text-anchor="end" >100K</text>
<line x1="325.5" y1="401.4" x2="325.5" y2="403.8" stroke="#111" stroke-width="0.9" />
<text transform="translate(327.8,409.6) rotate(-45)" font-family="Liberation Sans" font-size="6.7" fill="#222" text-anchor="end" >150K</text>
<line x1="341.1" y1="401.4" x2="341.1" y2="403.8" stroke="#111" stroke-width="0.9" />
<text transform="translate(343.4,409.6) rotate(-45)" font-family="Liberation Sans" font-size="6.7" fill="#222" text-anchor="end" >200K</text>
<line x1="356.7" y1="401.4" x2="356.7" y2="403.8" stroke="#111" stroke-width="0.9" />
<text transform="translate(359,409.6) rotate(-45)" font-family="Liberation Sans" font-size="6.7" fill="#222" text-anchor="end" >250K</text>
<line x1="281.82" y1="401.4" x2="281.82" y2="403" stroke="#222" stroke-width="0.8" />
<line x1="284.94" y1="401.4" x2="284.94" y2="403" stroke="#222" stroke-width="0.8" />
<line x1="288.06" y1="401.4" x2="288.06" y2="403" stroke="#222" stroke-width="0.8" />
<line x1="291.18" y1="401.4" x2="291.18" y2="403" stroke="#222" stroke-width="0.8" />
<line x1="297.42" y1="401.4" x2="297.42" y2="403" stroke="#222" stroke-width="0.8" />
<line x1="300.54" y1="401.4" x2="300.54" y2="403" stroke="#222" stroke-width="0.8" />
<line x1="303.66" y1="401.4" x2="303.66" y2="403" stroke="#222" stroke-width="0.8" />
<line x1="306.78" y1="401.4" x2="306.78" y2="403" stroke="#222" stroke-width="0.8" />
<line x1="313.02" y1="401.4" x2="313.02" y2="403" stroke="#222" stroke-width="0.8" />
<line x1="316.14" y1="401.4" x2="316.14" y2="403" stroke="#222" stroke-width="0.8" />
<line x1="319.26" y1="401.4" x2="319.26" y2="403" stroke="#222" stroke-width="0.8" />
<line x1="322.38" y1="401.4" x2="322.38" y2="403" stroke="#222" stroke-width="0.8" />
<line x1="328.62" y1="401.4" x2="328.62" y2="403" stroke="#222" stroke-width="0.8" />
<line x1="331.74" y1="401.4" x2="331.74" y2="403" stroke="#222" stroke-width="0.8" />
<line x1="334.86" y1="401.4" x2="334.86" y2="403" stroke="#222" stroke-width="0.8" />
<line x1="337.98" y1="401.4" x2="337.98" y2="403" stroke="#222" stroke-width="0.8" />
<line x1="344.22" y1="401.4" x2="344.22" y2="403" stroke="#222" stroke-width="0.8" />
<line x1="347.34" y1="401.4" x2="347.34" y2="403" stroke="#222" stroke-width="0.8" />
<line x1="350.46" y1="401.4" x2="350.46" y2="403" stroke="#222" stroke-width="0.8" />
<line x1="353.58" y1="401.4" x2="353.58" y2="403" stroke="#222" stroke-width="0.8" />
<text x="281.4" y="327" font-family="Liberation Sans" font-size="6.6" fill="#1a1a1a" text-anchor="start" >G1</text>
<text x="281.4" y="334.2" font-family="Liberation Sans" font-size="6.6" fill="#1a1a1a" text-anchor="start" >66.3%</text>
<text x="314.4" y="327" font-family="Liberation Sans" font-size="6.6" fill="#1a1a1a" text-anchor="start" >S-G2-M</text>
<text x="314.4" y="334.2" font-family="Liberation Sans" font-size="6.6" fill="#1a1a1a" text-anchor="start" >6.96%</text>
<text x="314.6" y="380.5" font-family="Liberation Sans" font-size="6.6" fill="#1a1a1a" text-anchor="start" >G0</text>
<text x="314.6" y="388.1" font-family="Liberation Sans" font-size="6.6" fill="#1a1a1a" text-anchor="start" >23.5%</text>
<path d="M64.3 453.0h.9v.9h-.9zM60.1 463.2h.9v.9h-.9zM77.0 465.6h.9v.9h-.9zM75.5 455.0h.9v.9h-.9zM94.5 473.4h.9v.9h-.9zM90.2 460.0h.9v.9h-.9zM78.1 458.4h.9v.9h-.9zM73.4 457.5h.9v.9h-.9zM83.2 451.0h.9v.9h-.9zM82.4 462.1h.9v.9h-.9zM87.2 474.4h.9v.9h-.9zM84.8 462.0h.9v.9h-.9zM88.1 466.8h.9v.9h-.9zM80.7 467.7h.9v.9h-.9zM73.3 487.7h.9v.9h-.9zM82.8 476.9h.9v.9h-.9zM76.8 483.0h.9v.9h-.9zM74.4 489.8h.9v.9h-.9zM73.4 494.4h.9v.9h-.9zM60.6 490.0h.9v.9h-.9zM62.3 501.2h.9v.9h-.9zM66.7 512.1h.9v.9h-.9zM71.0 488.9h.9v.9h-.9zM63.8 507.8h.9v.9h-.9zM73.9 505.3h.9v.9h-.9zM69.3 511.3h.9v.9h-.9zM71.6 508.0h.9v.9h-.9zM74.7 492.9h.9v.9h-.9z" fill="rgb(90, 100, 200)" fill-opacity="0.32"/><path d="M63.9 463.2h.9v.9h-.9zM65.4 459.7h.9v.9h-.9zM67.4 462.5h.9v.9h-.9zM73.2 463.4h.9v.9h-.9zM64.9 466.9h.9v.9h-.9zM65.4 462.7h.9v.9h-.9zM69.5 482.1h.9v.9h-.9zM68.8 462.2h.9v.9h-.9zM67.8 460.0h.9v.9h-.9zM70.5 480.1h.9v.9h-.9zM66.4 482.7h.9v.9h-.9zM62.5 471.3h.9v.9h-.9zM69.1 483.8h.9v.9h-.9zM76.2 472.3h.9v.9h-.9zM72.5 461.8h.9v.9h-.9zM61.6 465.7h.9v.9h-.9zM72.7 454.2h.9v.9h-.9zM68.2 482.0h.9v.9h-.9zM67.0 462.2h.9v.9h-.9zM73.7 475.0h.9v.9h-.9zM70.9 454.7h.9v.9h-.9zM64.9 482.0h.9v.9h-.9zM63.4 464.2h.9v.9h-.9zM61.7 458.4h.9v.9h-.9zM62.3 481.0h.9v.9h-.9zM67.7 457.8h.9v.9h-.9zM72.3 454.9h.9v.9h-.9zM61.1 479.5h.9v.9h-.9zM74.4 471.0h.9v.9h-.9zM69.5 458.1h.9v.9h-.9zM75.2 468.4h.9v.9h-.9zM65.8 459.0h.9v.9h-.9zM61.5 460.1h.9v.9h-.9zM71.2 461.5h.9v.9h-.9zM73.7 477.5h.9v.9h-.9zM79.4 466.0h.9v.9h-.9zM79.8 461.4h.9v.9h-.9zM78.8 469.3h.9v.9h-.9zM88.5 472.4h.9v.9h-.9zM85.3 465.8h.9v.9h-.9zM85.8 479.5h.9v.9h-.9zM84.6 465.8h.9v.9h-.9zM75.4 468.9h.9v.9h-.9zM74.0 467.9h.9v.9h-.9zM85.9 478.6h.9v.9h-.9zM85.1 466.6h.9v.9h-.9zM70.9 456.7h.9v.9h-.9zM78.9 469.1h.9v.9h-.9zM88.2 471.4h.9v.9h-.9zM77.3 472.4h.9v.9h-.9zM81.1 475.3h.9v.9h-.9zM73.9 460.2h.9v.9h-.9zM78.6 475.5h.9v.9h-.9zM72.0 457.3h.9v.9h-.9zM79.8 476.6h.9v.9h-.9zM73.2 464.2h.9v.9h-.9zM79.4 472.4h.9v.9h-.9zM78.2 462.1h.9v.9h-.9zM78.6 465.6h.9v.9h-.9zM80.9 471.3h.9v.9h-.9zM62.6 499.1h.9v.9h-.9zM64.7 503.2h.9v.9h-.9zM64.6 504.5h.9v.9h-.9zM71.5 496.7h.9v.9h-.9zM71.8 498.9h.9v.9h-.9zM72.6 483.5h.9v.9h-.9zM64.2 477.2h.9v.9h-.9zM63.5 494.9h.9v.9h-.9zM71.5 496.9h.9v.9h-.9zM69.4 508.1h.9v.9h-.9zM62.1 484.9h.9v.9h-.9zM64.0 484.3h.9v.9h-.9zM71.6 492.9h.9v.9h-.9zM66.9 498.2h.9v.9h-.9zM66.4 500.5h.9v.9h-.9zM65.0 492.3h.9v.9h-.9zM62.7 492.1h.9v.9h-.9zM62.6 482.9h.9v.9h-.9zM66.8 491.8h.9v.9h-.9zM67.7 502.9h.9v.9h-.9zM66.9 507.0h.9v.9h-.9zM70.0 497.2h.9v.9h-.9zM68.9 500.9h.9v.9h-.9zM68.0 489.6h.9v.9h-.9zM66.4 503.3h.9v.9h-.9zM62.8 493.7h.9v.9h-.9zM72.9 482.4h.9v.9h-.9zM70.9 496.0h.9v.9h-.9zM71.7 482.1h.9v.9h-.9zM61.0 479.8h.9v.9h-.9zM69.5 500.8h.9v.9h-.9zM68.3 493.7h.9v.9h-.9zM62.4 481.6h.9v.9h-.9zM66.4 488.6h.9v.9h-.9zM61.8 483.5h.9v.9h-.9zM67.1 496.2h.9v.9h-.9zM64.5 500.5h.9v.9h-.9zM71.8 499.7h.9v.9h-.9zM66.2 500.3h.9v.9h-.9zM62.1 497.1h.9v.9h-.9zM69.0 507.7h.9v.9h-.9zM67.6 496.0h.9v.9h-.9zM67.7 505.0h.9v.9h-.9zM61.4 491.4h.9v.9h-.9zM63.9 496.7h.9v.9h-.9zM65.6 498.8h.9v.9h-.9zM73.4 478.2h.9v.9h-.9z" fill="rgb(85, 108, 204)" fill-opacity="0.43"/><path d="M66.5 478.5h.9v.9h-.9zM63.9 476.4h.9v.9h-.9zM64.7 476.2h.9v.9h-.9zM64.2 473.7h.9v.9h-.9zM69.6 477.8h.9v.9h-.9zM70.3 467.1h.9v.9h-.9zM71.3 475.4h.9v.9h-.9zM71.8 472.9h.9v.9h-.9zM64.0 466.2h.9v.9h-.9zM71.6 470.6h.9v.9h-.9zM71.7 473.3h.9v.9h-.9zM63.7 470.1h.9v.9h-.9zM66.3 477.7h.9v.9h-.9zM72.5 473.0h.9v.9h-.9zM67.8 480.6h.9v.9h-.9zM65.4 480.0h.9v.9h-.9zM66.0 466.0h.9v.9h-.9zM65.5 464.9h.9v.9h-.9zM70.4 466.7h.9v.9h-.9zM67.9 465.0h.9v.9h-.9zM74.1 470.7h.9v.9h-.9zM70.0 474.9h.9v.9h-.9zM72.1 474.3h.9v.9h-.9zM72.7 471.1h.9v.9h-.9zM66.7 479.2h.9v.9h-.9zM67.0 481.3h.9v.9h-.9zM68.2 478.9h.9v.9h-.9zM70.7 462.9h.9v.9h-.9zM72.3 475.2h.9v.9h-.9zM71.6 464.1h.9v.9h-.9zM73.2 476.1h.9v.9h-.9zM65.8 466.0h.9v.9h-.9zM64.4 476.9h.9v.9h-.9zM73.1 471.2h.9v.9h-.9zM70.3 468.7h.9v.9h-.9zM71.5 476.3h.9v.9h-.9zM69.3 494.9h.9v.9h-.9zM69.7 492.6h.9v.9h-.9zM66.2 481.3h.9v.9h-.9zM71.0 492.9h.9v.9h-.9zM68.1 497.6h.9v.9h-.9zM66.7 502.8h.9v.9h-.9zM70.4 477.5h.9v.9h-.9zM69.5 493.3h.9v.9h-.9zM67.4 496.3h.9v.9h-.9z" fill="rgb(81, 116, 208)" fill-opacity="0.54"/><path d="M66.9 477.1h.9v.9h-.9zM69.5 473.4h.9v.9h-.9zM69.2 464.3h.9v.9h-.9zM69.7 469.0h.9v.9h-.9zM69.1 466.4h.9v.9h-.9zM69.2 477.2h.9v.9h-.9zM70.1 475.3h.9v.9h-.9zM69.7 465.0h.9v.9h-.9zM64.8 467.1h.9v.9h-.9zM70.9 465.1h.9v.9h-.9zM68.3 476.6h.9v.9h-.9zM69.4 465.3h.9v.9h-.9zM71.2 464.4h.9v.9h-.9zM63.7 471.8h.9v.9h-.9z" fill="rgb(83, 135, 203)" fill-opacity="0.65"/><path d="M66.5 476.0h.9v.9h-.9zM67.3 476.7h.9v.9h-.9zM69.4 475.0h.9v.9h-.9zM68.2 465.5h.9v.9h-.9zM67.8 466.9h.9v.9h-.9zM68.0 476.3h.9v.9h-.9zM70.5 478.1h.9v.9h-.9zM67.2 473.5h.9v.9h-.9zM65.8 472.5h.9v.9h-.9zM69.6 472.1h.9v.9h-.9zM65.9 467.9h.9v.9h-.9zM70.8 470.5h.9v.9h-.9zM66.2 475.8h.9v.9h-.9zM66.6 475.5h.9v.9h-.9zM65.9 475.0h.9v.9h-.9zM67.3 473.0h.9v.9h-.9zM69.5 473.6h.9v.9h-.9zM66.8 476.1h.9v.9h-.9zM65.5 467.3h.9v.9h-.9zM67.6 476.5h.9v.9h-.9zM70.4 470.1h.9v.9h-.9zM64.3 471.9h.9v.9h-.9zM68.8 467.9h.9v.9h-.9zM71.1 477.5h.9v.9h-.9z" fill="rgb(88, 161, 193)" fill-opacity="0.76"/><path d="M68.4 472.6h.9v.9h-.9zM67.2 467.1h.9v.9h-.9zM65.0 468.5h.9v.9h-.9zM64.2 469.4h.9v.9h-.9zM66.9 472.1h.9v.9h-.9zM67.5 474.4h.9v.9h-.9zM67.1 474.6h.9v.9h-.9zM66.7 476.0h.9v.9h-.9zM65.8 470.5h.9v.9h-.9zM65.1 470.4h.9v.9h-.9zM68.2 467.2h.9v.9h-.9zM65.2 472.6h.9v.9h-.9zM64.8 468.7h.9v.9h-.9zM68.1 475.4h.9v.9h-.9zM65.9 468.7h.9v.9h-.9zM67.5 474.9h.9v.9h-.9zM64.5 471.2h.9v.9h-.9zM65.2 471.1h.9v.9h-.9zM67.5 466.5h.9v.9h-.9zM69.2 476.9h.9v.9h-.9z" fill="rgb(102, 178, 149)" fill-opacity="0.87"/><path d="M68.2 473.3h.9v.9h-.9zM69.8 470.2h.9v.9h-.9zM68.7 474.9h.9v.9h-.9zM68.7 470.1h.9v.9h-.9zM69.0 472.8h.9v.9h-.9zM69.0 469.7h.9v.9h-.9zM66.3 467.0h.9v.9h-.9zM68.2 474.1h.9v.9h-.9zM68.2 472.4h.9v.9h-.9zM67.7 467.6h.9v.9h-.9zM66.1 472.0h.9v.9h-.9zM66.6 472.7h.9v.9h-.9zM68.2 468.4h.9v.9h-.9zM69.0 468.1h.9v.9h-.9zM70.1 470.7h.9v.9h-.9zM69.7 470.0h.9v.9h-.9z" fill="rgb(120, 190, 90)" fill-opacity="0.92"/><path d="M68.3 470.4h.9v.9h-.9zM68.5 470.9h.9v.9h-.9zM67.1 466.6h.9v.9h-.9zM68.7 471.8h.9v.9h-.9zM65.5 471.6h.9v.9h-.9zM70.1 472.2h.9v.9h-.9zM67.2 468.5h.9v.9h-.9zM66.2 467.5h.9v.9h-.9zM68.0 471.7h.9v.9h-.9zM68.7 470.1h.9v.9h-.9zM69.0 470.9h.9v.9h-.9zM68.0 468.7h.9v.9h-.9zM66.2 470.8h.9v.9h-.9zM66.1 469.3h.9v.9h-.9zM68.6 473.1h.9v.9h-.9zM68.5 471.6h.9v.9h-.9zM67.2 468.5h.9v.9h-.9z" fill="rgb(170, 201, 66)" fill-opacity="0.92"/><path d="M66.8 470.2h.9v.9h-.9zM66.3 469.5h.9v.9h-.9zM66.8 469.4h.9v.9h-.9zM68.6 469.7h.9v.9h-.9zM66.7 470.0h.9v.9h-.9zM66.4 471.0h.9v.9h-.9zM67.5 471.8h.9v.9h-.9zM68.4 470.3h.9v.9h-.9zM67.8 471.5h.9v.9h-.9zM66.7 468.4h.9v.9h-.9zM65.3 469.5h.9v.9h-.9z" fill="rgb(210, 205, 47)" fill-opacity="0.92"/><path d="M68.2 470.9h.9v.9h-.9zM66.4 469.9h.9v.9h-.9zM66.9 469.4h.9v.9h-.9zM67.7 471.1h.9v.9h-.9zM66.8 471.3h.9v.9h-.9zM66.4 470.7h.9v.9h-.9zM67.2 469.7h.9v.9h-.9zM66.8 467.2h.9v.9h-.9z" fill="rgb(226, 191, 40)" fill-opacity="0.92"/><path d="M67.8 470.1h.9v.9h-.9zM67.4 469.6h.9v.9h-.9zM67.3 469.8h.9v.9h-.9z" fill="rgb(239, 175, 34)" fill-opacity="0.92"/>
<rect x="57.2" y="432.1" width="82.49999999999999" height="82.19999999999993" fill="none" stroke="#111" stroke-width="1.1"/>
<rect x="58.2" y="448.8" width="15.100000000000009" height="32.39999999999998" fill="none" stroke="#111" stroke-width="1.2"/>
<rect x="73.30000000000001" y="448.8" width="47.19999999999999" height="32.39999999999998" fill="none" stroke="#111" stroke-width="1.2"/>
<rect x="58.2" y="481.59999999999997" width="24.0" height="32.69999999999997" fill="none" stroke="#111" stroke-width="1.2"/>
<line x1="55.3" y1="474.64" x2="57.2" y2="474.64" stroke="#222" stroke-width="0.8" />
<line x1="55.3" y1="470.8" x2="57.2" y2="470.8" stroke="#222" stroke-width="0.8" />
<line x1="55.3" y1="468.08" x2="57.2" y2="468.08" stroke="#222" stroke-width="0.8" />
<line x1="55.3" y1="465.96" x2="57.2" y2="465.96" stroke="#222" stroke-width="0.8" />
<line x1="55.3" y1="464.24" x2="57.2" y2="464.24" stroke="#222" stroke-width="0.8" />
<line x1="55.3" y1="462.78" x2="57.2" y2="462.78" stroke="#222" stroke-width="0.8" />
<line x1="55.3" y1="461.51" x2="57.2" y2="461.51" stroke="#222" stroke-width="0.8" />
<line x1="55.3" y1="460.4" x2="57.2" y2="460.4" stroke="#222" stroke-width="0.8" />
<line x1="55.3" y1="453.44" x2="57.2" y2="453.44" stroke="#222" stroke-width="0.8" />
<line x1="55.3" y1="449.95" x2="57.2" y2="449.95" stroke="#222" stroke-width="0.8" />
<line x1="55.3" y1="447.48" x2="57.2" y2="447.48" stroke="#222" stroke-width="0.8" />
<line x1="55.3" y1="445.56" x2="57.2" y2="445.56" stroke="#222" stroke-width="0.8" />
<line x1="55.3" y1="443.99" x2="57.2" y2="443.99" stroke="#222" stroke-width="0.8" />
<line x1="55.3" y1="442.67" x2="57.2" y2="442.67" stroke="#222" stroke-width="0.8" />
<line x1="55.3" y1="441.52" x2="57.2" y2="441.52" stroke="#222" stroke-width="0.8" />
<line x1="55.3" y1="440.51" x2="57.2" y2="440.51" stroke="#222" stroke-width="0.8" />
<line x1="55.3" y1="433.64" x2="57.2" y2="433.64" stroke="#222" stroke-width="0.8" />
<line x1="55.3" y1="488.5" x2="57.2" y2="488.5" stroke="#222" stroke-width="0.8" />
<line x1="55.3" y1="502.4" x2="57.2" y2="502.4" stroke="#222" stroke-width="0.8" />
<line x1="55.3" y1="513.3" x2="57.2" y2="513.3" stroke="#222" stroke-width="0.8" />
<line x1="54.3" y1="439.6" x2="57.2" y2="439.6" stroke="#111" stroke-width="0.9" />
<line x1="54.3" y1="459.4" x2="57.2" y2="459.4" stroke="#111" stroke-width="0.9" />
<line x1="54.3" y1="481.2" x2="57.2" y2="481.2" stroke="#111" stroke-width="0.9" />
<line x1="54.3" y1="495.8" x2="57.2" y2="495.8" stroke="#111" stroke-width="0.9" />
<line x1="54.3" y1="509" x2="57.2" y2="509" stroke="#111" stroke-width="0.9" />
<rect x="55" y="493.6" width="2.2" height="3.4" fill="#111" stroke="none" stroke-width="0"/>
<text x="51.6" y="441.9" font-family="Liberation Sans" font-size="6.5" fill="#2a2a2a" text-anchor="end" >10<tspan font-size="4.4" dy="-2.7">5</tspan></text>
<text x="51.6" y="461.7" font-family="Liberation Sans" font-size="6.5" fill="#2a2a2a" text-anchor="end" >10<tspan font-size="4.4" dy="-2.7">4</tspan></text>
<text x="51.6" y="483.5" font-family="Liberation Sans" font-size="6.5" fill="#2a2a2a" text-anchor="end" >10<tspan font-size="4.4" dy="-2.7">3</tspan></text>
<text x="50.7" y="498" font-family="Liberation Sans" font-size="6.5" fill="#2a2a2a" text-anchor="end" >0</text>
<text x="51.6" y="511" font-family="Liberation Sans" font-size="6.5" fill="#2a2a2a" text-anchor="end" >-10<tspan font-size="4.4" dy="-2.7">3</tspan></text>
<line x1="57.7" y1="514.3" x2="57.7" y2="516.7" stroke="#111" stroke-width="0.9" />
<text transform="translate(60,522.5) rotate(-45)" font-family="Liberation Sans" font-size="6.7" fill="#222" text-anchor="end" >0</text>
<line x1="73.3" y1="514.3" x2="73.3" y2="516.7" stroke="#111" stroke-width="0.9" />
<text transform="translate(75.6,522.5) rotate(-45)" font-family="Liberation Sans" font-size="6.7" fill="#222" text-anchor="end" >50K</text>
<line x1="88.9" y1="514.3" x2="88.9" y2="516.7" stroke="#111" stroke-width="0.9" />
<text transform="translate(91.2,522.5) rotate(-45)" font-family="Liberation Sans" font-size="6.7" fill="#222" text-anchor="end" >100K</text>
<line x1="104.5" y1="514.3" x2="104.5" y2="516.7" stroke="#111" stroke-width="0.9" />
<text transform="translate(106.8,522.5) rotate(-45)" font-family="Liberation Sans" font-size="6.7" fill="#222" text-anchor="end" >150K</text>
<line x1="120.1" y1="514.3" x2="120.1" y2="516.7" stroke="#111" stroke-width="0.9" />
<text transform="translate(122.4,522.5) rotate(-45)" font-family="Liberation Sans" font-size="6.7" fill="#222" text-anchor="end" >200K</text>
<line x1="135.7" y1="514.3" x2="135.7" y2="516.7" stroke="#111" stroke-width="0.9" />
<text transform="translate(138,522.5) rotate(-45)" font-family="Liberation Sans" font-size="6.7" fill="#222" text-anchor="end" >250K</text>
<line x1="60.82" y1="514.3" x2="60.82" y2="515.9" stroke="#222" stroke-width="0.8" />
<line x1="63.94" y1="514.3" x2="63.94" y2="515.9" stroke="#222" stroke-width="0.8" />
<line x1="67.06" y1="514.3" x2="67.06" y2="515.9" stroke="#222" stroke-width="0.8" />
<line x1="70.18" y1="514.3" x2="70.18" y2="515.9" stroke="#222" stroke-width="0.8" />
<line x1="76.42" y1="514.3" x2="76.42" y2="515.9" stroke="#222" stroke-width="0.8" />
<line x1="79.54" y1="514.3" x2="79.54" y2="515.9" stroke="#222" stroke-width="0.8" />
<line x1="82.66" y1="514.3" x2="82.66" y2="515.9" stroke="#222" stroke-width="0.8" />
<line x1="85.78" y1="514.3" x2="85.78" y2="515.9" stroke="#222" stroke-width="0.8" />
<line x1="92.02" y1="514.3" x2="92.02" y2="515.9" stroke="#222" stroke-width="0.8" />
<line x1="95.14" y1="514.3" x2="95.14" y2="515.9" stroke="#222" stroke-width="0.8" />
<line x1="98.26" y1="514.3" x2="98.26" y2="515.9" stroke="#222" stroke-width="0.8" />
<line x1="101.38" y1="514.3" x2="101.38" y2="515.9" stroke="#222" stroke-width="0.8" />
<line x1="107.62" y1="514.3" x2="107.62" y2="515.9" stroke="#222" stroke-width="0.8" />
<line x1="110.74" y1="514.3" x2="110.74" y2="515.9" stroke="#222" stroke-width="0.8" />
<line x1="113.86" y1="514.3" x2="113.86" y2="515.9" stroke="#222" stroke-width="0.8" />
<line x1="116.98" y1="514.3" x2="116.98" y2="515.9" stroke="#222" stroke-width="0.8" />
<line x1="123.22" y1="514.3" x2="123.22" y2="515.9" stroke="#222" stroke-width="0.8" />
<line x1="126.34" y1="514.3" x2="126.34" y2="515.9" stroke="#222" stroke-width="0.8" />
<line x1="129.46" y1="514.3" x2="129.46" y2="515.9" stroke="#222" stroke-width="0.8" />
<line x1="132.58" y1="514.3" x2="132.58" y2="515.9" stroke="#222" stroke-width="0.8" />
<text x="60.4" y="439.9" font-family="Liberation Sans" font-size="6.6" fill="#1a1a1a" text-anchor="start" >G1</text>
<text x="60.4" y="447.1" font-family="Liberation Sans" font-size="6.6" fill="#1a1a1a" text-anchor="start" >66.2%</text>
<text x="93.4" y="439.9" font-family="Liberation Sans" font-size="6.6" fill="#1a1a1a" text-anchor="start" >S-G2-M</text>
<text x="93.4" y="447.1" font-family="Liberation Sans" font-size="6.6" fill="#1a1a1a" text-anchor="start" >10.2%</text>
<text x="84.1" y="493.4" font-family="Liberation Sans" font-size="6.6" fill="#1a1a1a" text-anchor="start" >G0</text>
<text x="84.1" y="501" font-family="Liberation Sans" font-size="6.6" fill="#1a1a1a" text-anchor="start" >19.6%</text>
<path d="M177.4 461.3h.9v.9h-.9zM184.1 480.2h.9v.9h-.9zM175.9 479.4h.9v.9h-.9zM177.9 459.7h.9v.9h-.9zM186.1 481.8h.9v.9h-.9zM184.4 460.1h.9v.9h-.9zM205.1 459.7h.9v.9h-.9zM201.0 469.4h.9v.9h-.9zM196.0 474.3h.9v.9h-.9zM206.0 468.1h.9v.9h-.9zM207.0 463.6h.9v.9h-.9zM213.9 470.2h.9v.9h-.9zM221.2 466.0h.9v.9h-.9zM198.4 476.8h.9v.9h-.9zM217.0 461.1h.9v.9h-.9zM201.3 458.7h.9v.9h-.9zM219.0 471.7h.9v.9h-.9zM174.2 493.0h.9v.9h-.9zM177.6 488.4h.9v.9h-.9zM173.8 487.7h.9v.9h-.9zM180.8 506.5h.9v.9h-.9zM178.4 495.7h.9v.9h-.9zM176.2 497.5h.9v.9h-.9zM182.0 498.4h.9v.9h-.9zM182.1 483.9h.9v.9h-.9zM172.0 485.5h.9v.9h-.9zM177.7 491.8h.9v.9h-.9zM176.7 485.7h.9v.9h-.9zM176.2 510.6h.9v.9h-.9z" fill="rgb(90, 100, 200)" fill-opacity="0.32"/><path d="M183.7 464.7h.9v.9h-.9zM173.7 473.1h.9v.9h-.9zM183.2 475.9h.9v.9h-.9zM178.2 464.4h.9v.9h-.9zM179.4 471.9h.9v.9h-.9zM179.7 484.9h.9v.9h-.9zM181.4 470.2h.9v.9h-.9zM179.2 480.7h.9v.9h-.9zM182.2 472.5h.9v.9h-.9zM178.8 466.5h.9v.9h-.9zM177.5 468.7h.9v.9h-.9zM179.1 463.9h.9v.9h-.9zM174.7 471.6h.9v.9h-.9zM175.0 468.5h.9v.9h-.9zM181.7 467.0h.9v.9h-.9zM176.7 476.2h.9v.9h-.9zM179.0 477.5h.9v.9h-.9zM175.3 474.3h.9v.9h-.9zM177.0 471.6h.9v.9h-.9zM180.2 475.8h.9v.9h-.9zM178.1 479.5h.9v.9h-.9zM182.2 477.7h.9v.9h-.9zM182.4 475.7h.9v.9h-.9zM176.4 475.6h.9v.9h-.9zM184.5 471.6h.9v.9h-.9zM195.8 470.0h.9v.9h-.9zM202.4 472.8h.9v.9h-.9zM187.3 470.8h.9v.9h-.9zM194.5 473.4h.9v.9h-.9zM187.5 458.6h.9v.9h-.9zM196.1 460.6h.9v.9h-.9zM192.1 470.6h.9v.9h-.9zM196.0 461.8h.9v.9h-.9zM183.7 469.6h.9v.9h-.9zM187.0 459.6h.9v.9h-.9zM186.5 467.2h.9v.9h-.9zM192.1 468.9h.9v.9h-.9zM181.6 463.0h.9v.9h-.9zM193.6 474.6h.9v.9h-.9zM198.9 469.3h.9v.9h-.9zM189.2 472.2h.9v.9h-.9zM181.3 469.3h.9v.9h-.9zM182.4 472.9h.9v.9h-.9zM192.1 473.9h.9v.9h-.9zM190.6 473.9h.9v.9h-.9zM179.4 464.0h.9v.9h-.9zM185.9 472.0h.9v.9h-.9zM191.3 460.6h.9v.9h-.9zM188.6 472.3h.9v.9h-.9zM190.7 463.2h.9v.9h-.9zM190.1 469.7h.9v.9h-.9zM195.9 470.3h.9v.9h-.9zM183.9 468.1h.9v.9h-.9zM190.2 459.9h.9v.9h-.9zM195.0 465.3h.9v.9h-.9zM185.3 469.6h.9v.9h-.9zM193.9 465.8h.9v.9h-.9zM184.6 473.6h.9v.9h-.9zM183.6 466.6h.9v.9h-.9zM187.8 466.1h.9v.9h-.9zM194.7 461.1h.9v.9h-.9zM191.7 469.3h.9v.9h-.9zM192.7 466.2h.9v.9h-.9zM202.3 474.1h.9v.9h-.9zM194.3 462.2h.9v.9h-.9zM188.8 460.0h.9v.9h-.9zM193.7 472.4h.9v.9h-.9zM197.0 469.6h.9v.9h-.9zM201.4 467.1h.9v.9h-.9zM202.4 467.3h.9v.9h-.9zM196.7 462.7h.9v.9h-.9zM198.3 461.9h.9v.9h-.9zM197.9 463.8h.9v.9h-.9zM195.7 460.0h.9v.9h-.9zM180.1 468.5h.9v.9h-.9zM174.0 495.0h.9v.9h-.9zM179.1 503.6h.9v.9h-.9zM171.6 495.2h.9v.9h-.9zM178.1 484.7h.9v.9h-.9zM179.4 501.9h.9v.9h-.9zM180.3 500.3h.9v.9h-.9zM180.7 500.8h.9v.9h-.9zM171.5 496.1h.9v.9h-.9zM180.9 503.7h.9v.9h-.9zM173.8 496.4h.9v.9h-.9zM178.3 499.2h.9v.9h-.9z" fill="rgb(85, 108, 204)" fill-opacity="0.43"/><path d="M176.9 470.9h.9v.9h-.9zM179.6 476.3h.9v.9h-.9zM177.6 470.3h.9v.9h-.9zM177.2 476.8h.9v.9h-.9zM179.6 475.0h.9v.9h-.9zM179.1 474.2h.9v.9h-.9zM193.5 464.3h.9v.9h-.9zM194.8 463.8h.9v.9h-.9zM189.6 466.8h.9v.9h-.9zM182.5 465.5h.9v.9h-.9zM188.9 463.2h.9v.9h-.9zM188.3 466.3h.9v.9h-.9zM189.7 464.6h.9v.9h-.9zM190.1 466.7h.9v.9h-.9zM196.5 469.6h.9v.9h-.9zM190.8 466.5h.9v.9h-.9zM187.9 467.6h.9v.9h-.9zM178.8 475.4h.9v.9h-.9zM182.7 467.0h.9v.9h-.9zM188.7 467.2h.9v.9h-.9zM187.2 466.8h.9v.9h-.9zM194.1 465.0h.9v.9h-.9zM176.9 470.5h.9v.9h-.9zM189.0 464.3h.9v.9h-.9zM175.0 470.5h.9v.9h-.9z" fill="rgb(81, 116, 208)" fill-opacity="0.54"/>
<rect x="166.9" y="432.1" width="83.1" height="82.19999999999993" fill="none" stroke="#111" stroke-width="1.1"/>
<rect x="167.9" y="448.8" width="15.699999999999989" height="32.39999999999998" fill="none" stroke="#111" stroke-width="1.2"/>
<rect x="183.6" y="448.8" width="46.70000000000002" height="32.39999999999998" fill="none" stroke="#111" stroke-width="1.2"/>
<rect x="167.9" y="481.59999999999997" width="24.599999999999994" height="32.69999999999997" fill="none" stroke="#111" stroke-width="1.2"/>
<line x1="165" y1="474.64" x2="166.9" y2="474.64" stroke="#222" stroke-width="0.8" />
<line x1="165" y1="470.8" x2="166.9" y2="470.8" stroke="#222" stroke-width="0.8" />
<line x1="165" y1="468.08" x2="166.9" y2="468.08" stroke="#222" stroke-width="0.8" />
<line x1="165" y1="465.96" x2="166.9" y2="465.96" stroke="#222" stroke-width="0.8" />
<line x1="165" y1="464.24" x2="166.9" y2="464.24" stroke="#222" stroke-width="0.8" />
<line x1="165" y1="462.78" x2="166.9" y2="462.78" stroke="#222" stroke-width="0.8" />
<line x1="165" y1="461.51" x2="166.9" y2="461.51" stroke="#222" stroke-width="0.8" />
<line x1="165" y1="460.4" x2="166.9" y2="460.4" stroke="#222" stroke-width="0.8" />
<line x1="165" y1="453.44" x2="166.9" y2="453.44" stroke="#222" stroke-width="0.8" />
<line x1="165" y1="449.95" x2="166.9" y2="449.95" stroke="#222" stroke-width="0.8" />
<line x1="165" y1="447.48" x2="166.9" y2="447.48" stroke="#222" stroke-width="0.8" />
<line x1="165" y1="445.56" x2="166.9" y2="445.56" stroke="#222" stroke-width="0.8" />
<line x1="165" y1="443.99" x2="166.9" y2="443.99" stroke="#222" stroke-width="0.8" />
<line x1="165" y1="442.67" x2="166.9" y2="442.67" stroke="#222" stroke-width="0.8" />
<line x1="165" y1="441.52" x2="166.9" y2="441.52" stroke="#222" stroke-width="0.8" />
<line x1="165" y1="440.51" x2="166.9" y2="440.51" stroke="#222" stroke-width="0.8" />
<line x1="165" y1="433.64" x2="166.9" y2="433.64" stroke="#222" stroke-width="0.8" />
<line x1="165" y1="488.5" x2="166.9" y2="488.5" stroke="#222" stroke-width="0.8" />
<line x1="165" y1="502.4" x2="166.9" y2="502.4" stroke="#222" stroke-width="0.8" />
<line x1="165" y1="513.3" x2="166.9" y2="513.3" stroke="#222" stroke-width="0.8" />
<line x1="164" y1="439.6" x2="166.9" y2="439.6" stroke="#111" stroke-width="0.9" />
<line x1="164" y1="459.4" x2="166.9" y2="459.4" stroke="#111" stroke-width="0.9" />
<line x1="164" y1="481.2" x2="166.9" y2="481.2" stroke="#111" stroke-width="0.9" />
<line x1="164" y1="495.8" x2="166.9" y2="495.8" stroke="#111" stroke-width="0.9" />
<line x1="164" y1="509" x2="166.9" y2="509" stroke="#111" stroke-width="0.9" />
<rect x="164.7" y="493.6" width="2.2" height="3.4" fill="#111" stroke="none" stroke-width="0"/>
<text x="161.3" y="441.9" font-family="Liberation Sans" font-size="6.5" fill="#2a2a2a" text-anchor="end" >10<tspan font-size="4.4" dy="-2.7">5</tspan></text>
<text x="161.3" y="461.7" font-family="Liberation Sans" font-size="6.5" fill="#2a2a2a" text-anchor="end" >10<tspan font-size="4.4" dy="-2.7">4</tspan></text>
<text x="161.3" y="483.5" font-family="Liberation Sans" font-size="6.5" fill="#2a2a2a" text-anchor="end" >10<tspan font-size="4.4" dy="-2.7">3</tspan></text>
<text x="160.4" y="498" font-family="Liberation Sans" font-size="6.5" fill="#2a2a2a" text-anchor="end" >0</text>
<text x="161.3" y="511" font-family="Liberation Sans" font-size="6.5" fill="#2a2a2a" text-anchor="end" >-10<tspan font-size="4.4" dy="-2.7">3</tspan></text>
<line x1="167.4" y1="514.3" x2="167.4" y2="516.7" stroke="#111" stroke-width="0.9" />
<text transform="translate(169.7,522.5) rotate(-45)" font-family="Liberation Sans" font-size="6.7" fill="#222" text-anchor="end" >0</text>
<line x1="183" y1="514.3" x2="183" y2="516.7" stroke="#111" stroke-width="0.9" />
<text transform="translate(185.3,522.5) rotate(-45)" font-family="Liberation Sans" font-size="6.7" fill="#222" text-anchor="end" >50K</text>
<line x1="198.6" y1="514.3" x2="198.6" y2="516.7" stroke="#111" stroke-width="0.9" />
<text transform="translate(200.9,522.5) rotate(-45)" font-family="Liberation Sans" font-size="6.7" fill="#222" text-anchor="end" >100K</text>
<line x1="214.2" y1="514.3" x2="214.2" y2="516.7" stroke="#111" stroke-width="0.9" />
<text transform="translate(216.5,522.5) rotate(-45)" font-family="Liberation Sans" font-size="6.7" fill="#222" text-anchor="end" >150K</text>
<line x1="229.8" y1="514.3" x2="229.8" y2="516.7" stroke="#111" stroke-width="0.9" />
<text transform="translate(232.1,522.5) rotate(-45)" font-family="Liberation Sans" font-size="6.7" fill="#222" text-anchor="end" >200K</text>
<line x1="245.4" y1="514.3" x2="245.4" y2="516.7" stroke="#111" stroke-width="0.9" />
<text transform="translate(247.7,522.5) rotate(-45)" font-family="Liberation Sans" font-size="6.7" fill="#222" text-anchor="end" >250K</text>
<line x1="170.52" y1="514.3" x2="170.52" y2="515.9" stroke="#222" stroke-width="0.8" />
<line x1="173.64" y1="514.3" x2="173.64" y2="515.9" stroke="#222" stroke-width="0.8" />
<line x1="176.76" y1="514.3" x2="176.76" y2="515.9" stroke="#222" stroke-width="0.8" />
<line x1="179.88" y1="514.3" x2="179.88" y2="515.9" stroke="#222" stroke-width="0.8" />
<line x1="186.12" y1="514.3" x2="186.12" y2="515.9" stroke="#222" stroke-width="0.8" />
<line x1="189.24" y1="514.3" x2="189.24" y2="515.9" stroke="#222" stroke-width="0.8" />
<line x1="192.36" y1="514.3" x2="192.36" y2="515.9" stroke="#222" stroke-width="0.8" />
<line x1="195.48" y1="514.3" x2="195.48" y2="515.9" stroke="#222" stroke-width="0.8" />
<line x1="201.72" y1="514.3" x2="201.72" y2="515.9" stroke="#222" stroke-width="0.8" />
<line x1="204.84" y1="514.3" x2="204.84" y2="515.9" stroke="#222" stroke-width="0.8" />
<line x1="207.96" y1="514.3" x2="207.96" y2="515.9" stroke="#222" stroke-width="0.8" />
<line x1="211.08" y1="514.3" x2="211.08" y2="515.9" stroke="#222" stroke-width="0.8" />
<line x1="217.32" y1="514.3" x2="217.32" y2="515.9" stroke="#222" stroke-width="0.8" />
<line x1="220.44" y1="514.3" x2="220.44" y2="515.9" stroke="#222" stroke-width="0.8" />
<line x1="223.56" y1="514.3" x2="223.56" y2="515.9" stroke="#222" stroke-width="0.8" />
<line x1="226.68" y1="514.3" x2="226.68" y2="515.9" stroke="#222" stroke-width="0.8" />
<line x1="232.92" y1="514.3" x2="232.92" y2="515.9" stroke="#222" stroke-width="0.8" />
<line x1="236.04" y1="514.3" x2="236.04" y2="515.9" stroke="#222" stroke-width="0.8" />
<line x1="239.16" y1="514.3" x2="239.16" y2="515.9" stroke="#222" stroke-width="0.8" />
<line x1="242.28" y1="514.3" x2="242.28" y2="515.9" stroke="#222" stroke-width="0.8" />
<text x="170.1" y="439.9" font-family="Liberation Sans" font-size="6.6" fill="#1a1a1a" text-anchor="start" >G1</text>
<text x="170.1" y="447.1" font-family="Liberation Sans" font-size="6.6" fill="#1a1a1a" text-anchor="start" >45.7%</text>
<text x="203.1" y="439.9" font-family="Liberation Sans" font-size="6.6" fill="#1a1a1a" text-anchor="start" >S-G2-M</text>
<text x="203.1" y="447.1" font-family="Liberation Sans" font-size="6.6" fill="#1a1a1a" text-anchor="start" >37.7%</text>
<text x="194.4" y="493.4" font-family="Liberation Sans" font-size="6.6" fill="#1a1a1a" text-anchor="start" >G0</text>
<text x="194.4" y="501" font-family="Liberation Sans" font-size="6.6" fill="#1a1a1a" text-anchor="start" >10.9%</text>
<path d="M290.7 445.8h.9v.9h-.9zM288.6 458.5h.9v.9h-.9zM293.8 460.1h.9v.9h-.9zM293.6 485.0h.9v.9h-.9zM280.0 467.2h.9v.9h-.9zM284.7 455.0h.9v.9h-.9zM304.8 462.5h.9v.9h-.9zM307.9 461.6h.9v.9h-.9zM291.9 458.6h.9v.9h-.9zM302.7 477.0h.9v.9h-.9zM305.4 476.2h.9v.9h-.9zM312.6 465.2h.9v.9h-.9zM304.7 459.0h.9v.9h-.9zM297.0 454.8h.9v.9h-.9zM304.9 468.1h.9v.9h-.9zM315.1 469.0h.9v.9h-.9zM311.2 462.8h.9v.9h-.9zM291.4 505.6h.9v.9h-.9zM280.9 475.7h.9v.9h-.9zM284.1 501.3h.9v.9h-.9zM282.2 499.8h.9v.9h-.9zM284.9 506.3h.9v.9h-.9zM291.7 512.0h.9v.9h-.9zM284.5 488.2h.9v.9h-.9zM292.7 492.8h.9v.9h-.9zM295.4 491.3h.9v.9h-.9zM293.7 496.1h.9v.9h-.9zM295.0 498.0h.9v.9h-.9zM295.5 502.1h.9v.9h-.9z" fill="rgb(90, 100, 200)" fill-opacity="0.32"/><path d="M289.3 480.3h.9v.9h-.9zM284.1 464.1h.9v.9h-.9zM283.8 474.3h.9v.9h-.9zM286.2 483.0h.9v.9h-.9zM285.7 478.5h.9v.9h-.9zM285.0 469.7h.9v.9h-.9zM283.4 471.6h.9v.9h-.9zM284.1 462.7h.9v.9h-.9zM286.2 456.6h.9v.9h-.9zM293.3 454.6h.9v.9h-.9zM295.4 460.3h.9v.9h-.9zM294.6 471.8h.9v.9h-.9zM288.4 456.4h.9v.9h-.9zM301.5 464.9h.9v.9h-.9zM284.4 469.0h.9v.9h-.9zM293.1 453.8h.9v.9h-.9zM292.2 481.0h.9v.9h-.9zM287.7 454.3h.9v.9h-.9zM292.6 466.9h.9v.9h-.9zM294.8 475.7h.9v.9h-.9zM297.8 459.1h.9v.9h-.9zM289.2 455.4h.9v.9h-.9zM297.4 457.8h.9v.9h-.9zM301.5 472.7h.9v.9h-.9zM297.8 460.7h.9v.9h-.9zM309.8 468.7h.9v.9h-.9zM299.5 470.3h.9v.9h-.9zM290.8 460.6h.9v.9h-.9zM300.2 465.8h.9v.9h-.9zM294.7 475.3h.9v.9h-.9zM302.1 464.9h.9v.9h-.9zM297.5 473.5h.9v.9h-.9zM301.3 466.4h.9v.9h-.9zM298.0 463.4h.9v.9h-.9zM297.3 473.6h.9v.9h-.9zM298.3 457.6h.9v.9h-.9zM294.5 472.6h.9v.9h-.9zM299.7 461.0h.9v.9h-.9zM298.4 467.2h.9v.9h-.9zM300.7 471.9h.9v.9h-.9zM292.6 476.8h.9v.9h-.9zM310.0 469.1h.9v.9h-.9zM288.4 503.1h.9v.9h-.9zM288.0 493.8h.9v.9h-.9zM287.2 492.0h.9v.9h-.9zM288.3 489.2h.9v.9h-.9zM285.6 495.4h.9v.9h-.9zM286.4 482.4h.9v.9h-.9zM290.1 492.1h.9v.9h-.9zM287.4 498.8h.9v.9h-.9zM290.9 485.8h.9v.9h-.9zM283.3 485.2h.9v.9h-.9zM292.4 498.4h.9v.9h-.9zM285.4 498.7h.9v.9h-.9zM290.0 484.5h.9v.9h-.9zM292.3 482.1h.9v.9h-.9zM287.2 488.2h.9v.9h-.9zM290.5 492.7h.9v.9h-.9zM290.6 499.6h.9v.9h-.9zM285.3 496.2h.9v.9h-.9zM288.4 500.3h.9v.9h-.9zM292.0 485.4h.9v.9h-.9zM288.7 493.8h.9v.9h-.9zM286.4 492.7h.9v.9h-.9zM281.4 489.3h.9v.9h-.9zM294.3 489.1h.9v.9h-.9zM293.8 488.8h.9v.9h-.9zM285.7 500.3h.9v.9h-.9zM282.1 490.1h.9v.9h-.9z" fill="rgb(85, 108, 204)" fill-opacity="0.43"/><path d="M290.9 466.3h.9v.9h-.9zM287.4 479.1h.9v.9h-.9zM287.4 480.9h.9v.9h-.9zM287.2 477.7h.9v.9h-.9zM290.7 464.7h.9v.9h-.9zM285.0 472.8h.9v.9h-.9zM293.4 473.3h.9v.9h-.9zM284.6 465.8h.9v.9h-.9zM290.6 468.2h.9v.9h-.9zM288.5 481.8h.9v.9h-.9zM288.4 462.9h.9v.9h-.9zM284.4 465.1h.9v.9h-.9zM285.1 476.6h.9v.9h-.9zM287.1 466.9h.9v.9h-.9zM284.4 476.2h.9v.9h-.9zM289.1 483.3h.9v.9h-.9zM286.2 485.4h.9v.9h-.9zM293.6 470.3h.9v.9h-.9zM285.3 467.6h.9v.9h-.9zM284.7 484.7h.9v.9h-.9zM284.2 466.5h.9v.9h-.9zM290.7 480.5h.9v.9h-.9zM293.3 469.0h.9v.9h-.9zM287.0 463.3h.9v.9h-.9zM283.2 466.6h.9v.9h-.9zM291.5 479.5h.9v.9h-.9zM285.0 472.1h.9v.9h-.9zM285.2 484.5h.9v.9h-.9zM292.5 470.1h.9v.9h-.9zM284.0 464.2h.9v.9h-.9zM285.6 462.2h.9v.9h-.9zM292.1 478.2h.9v.9h-.9zM293.7 468.7h.9v.9h-.9zM284.8 474.4h.9v.9h-.9zM294.0 473.8h.9v.9h-.9zM290.1 461.2h.9v.9h-.9zM288.2 464.1h.9v.9h-.9zM291.1 465.1h.9v.9h-.9zM298.2 464.6h.9v.9h-.9zM293.7 470.8h.9v.9h-.9zM298.5 466.1h.9v.9h-.9zM294.8 468.3h.9v.9h-.9zM297.3 464.8h.9v.9h-.9zM297.3 465.9h.9v.9h-.9zM293.3 468.1h.9v.9h-.9zM291.2 461.8h.9v.9h-.9zM284.9 477.3h.9v.9h-.9zM287.3 501.2h.9v.9h-.9zM290.0 487.8h.9v.9h-.9zM288.6 497.9h.9v.9h-.9zM289.0 496.6h.9v.9h-.9zM290.9 489.5h.9v.9h-.9zM288.8 495.9h.9v.9h-.9zM290.1 496.6h.9v.9h-.9zM290.0 487.3h.9v.9h-.9zM288.0 480.1h.9v.9h-.9zM284.1 493.3h.9v.9h-.9zM287.2 501.5h.9v.9h-.9zM287.5 501.6h.9v.9h-.9zM286.6 486.1h.9v.9h-.9zM289.3 497.3h.9v.9h-.9zM289.7 495.6h.9v.9h-.9zM285.6 485.3h.9v.9h-.9zM289.3 486.1h.9v.9h-.9zM283.9 493.8h.9v.9h-.9zM290.6 489.1h.9v.9h-.9zM291.2 498.2h.9v.9h-.9zM284.2 493.0h.9v.9h-.9zM291.4 489.8h.9v.9h-.9zM290.2 491.0h.9v.9h-.9zM291.1 481.4h.9v.9h-.9zM288.9 487.6h.9v.9h-.9zM288.9 483.9h.9v.9h-.9zM283.9 492.4h.9v.9h-.9zM289.4 482.3h.9v.9h-.9zM290.2 497.4h.9v.9h-.9zM283.9 485.0h.9v.9h-.9zM284.6 483.8h.9v.9h-.9z" fill="rgb(81, 116, 208)" fill-opacity="0.54"/><path d="M291.5 475.5h.9v.9h-.9zM287.1 463.5h.9v.9h-.9zM285.8 475.0h.9v.9h-.9zM290.7 462.9h.9v.9h-.9zM287.9 464.3h.9v.9h-.9zM288.9 466.5h.9v.9h-.9zM289.4 463.5h.9v.9h-.9zM288.2 465.1h.9v.9h-.9zM286.5 466.6h.9v.9h-.9zM289.4 466.9h.9v.9h-.9zM285.5 465.6h.9v.9h-.9zM289.4 465.2h.9v.9h-.9zM291.1 464.0h.9v.9h-.9zM287.1 463.7h.9v.9h-.9zM290.4 462.5h.9v.9h-.9zM290.3 467.2h.9v.9h-.9zM289.1 480.5h.9v.9h-.9z" fill="rgb(83, 135, 203)" fill-opacity="0.65"/><path d="M287.5 467.5h.9v.9h-.9zM286.1 473.6h.9v.9h-.9zM288.8 467.2h.9v.9h-.9zM289.1 467.7h.9v.9h-.9zM290.0 480.1h.9v.9h-.9zM289.7 478.4h.9v.9h-.9zM287.3 478.3h.9v.9h-.9zM290.8 471.5h.9v.9h-.9zM289.6 467.9h.9v.9h-.9zM287.0 474.8h.9v.9h-.9zM287.6 467.7h.9v.9h-.9zM286.7 467.9h.9v.9h-.9zM290.9 470.0h.9v.9h-.9zM287.0 463.5h.9v.9h-.9zM291.8 473.6h.9v.9h-.9zM288.6 478.5h.9v.9h-.9zM290.1 478.6h.9v.9h-.9zM285.3 475.0h.9v.9h-.9zM289.0 468.6h.9v.9h-.9zM290.9 469.6h.9v.9h-.9zM291.8 474.9h.9v.9h-.9z" fill="rgb(88, 161, 193)" fill-opacity="0.76"/><path d="M286.9 473.2h.9v.9h-.9zM290.7 472.2h.9v.9h-.9zM288.6 468.4h.9v.9h-.9zM286.7 470.3h.9v.9h-.9zM288.1 474.2h.9v.9h-.9zM289.3 474.1h.9v.9h-.9zM286.6 472.8h.9v.9h-.9zM286.5 470.5h.9v.9h-.9zM291.1 475.8h.9v.9h-.9zM290.5 470.3h.9v.9h-.9zM290.0 477.4h.9v.9h-.9zM289.4 470.0h.9v.9h-.9zM288.1 476.5h.9v.9h-.9zM286.2 471.6h.9v.9h-.9zM290.8 474.1h.9v.9h-.9zM291.2 471.7h.9v.9h-.9zM288.4 478.0h.9v.9h-.9zM286.7 475.4h.9v.9h-.9zM287.4 474.2h.9v.9h-.9zM291.1 469.2h.9v.9h-.9zM290.7 472.4h.9v.9h-.9zM291.8 474.7h.9v.9h-.9zM290.5 472.8h.9v.9h-.9zM287.6 475.8h.9v.9h-.9zM290.3 472.8h.9v.9h-.9zM290.4 475.5h.9v.9h-.9zM290.1 479.4h.9v.9h-.9z" fill="rgb(102, 178, 149)" fill-opacity="0.87"/><path d="M286.2 471.7h.9v.9h-.9zM289.8 476.9h.9v.9h-.9zM289.3 476.0h.9v.9h-.9zM286.7 470.3h.9v.9h-.9zM290.8 475.3h.9v.9h-.9zM286.8 473.6h.9v.9h-.9zM287.5 469.8h.9v.9h-.9zM288.4 477.1h.9v.9h-.9zM290.0 469.3h.9v.9h-.9zM288.3 474.5h.9v.9h-.9zM288.5 470.2h.9v.9h-.9zM287.7 470.0h.9v.9h-.9zM287.1 469.8h.9v.9h-.9zM288.3 472.9h.9v.9h-.9zM289.3 475.2h.9v.9h-.9zM288.2 468.8h.9v.9h-.9zM288.3 477.1h.9v.9h-.9zM287.9 474.9h.9v.9h-.9zM288.2 470.0h.9v.9h-.9zM290.5 474.7h.9v.9h-.9zM287.1 473.0h.9v.9h-.9zM288.8 472.8h.9v.9h-.9zM288.1 469.5h.9v.9h-.9zM290.0 478.9h.9v.9h-.9zM287.1 472.3h.9v.9h-.9zM288.4 477.0h.9v.9h-.9zM291.0 476.3h.9v.9h-.9z" fill="rgb(120, 190, 90)" fill-opacity="0.92"/><path d="M288.8 475.0h.9v.9h-.9zM289.2 472.8h.9v.9h-.9zM288.8 469.8h.9v.9h-.9zM289.6 475.8h.9v.9h-.9zM288.2 469.4h.9v.9h-.9zM288.1 471.1h.9v.9h-.9zM288.9 473.1h.9v.9h-.9zM289.1 475.6h.9v.9h-.9zM289.2 475.8h.9v.9h-.9zM288.8 476.2h.9v.9h-.9zM290.1 473.0h.9v.9h-.9zM289.5 474.3h.9v.9h-.9zM289.2 475.0h.9v.9h-.9zM287.3 470.7h.9v.9h-.9zM290.0 472.8h.9v.9h-.9zM289.5 476.4h.9v.9h-.9zM290.0 472.6h.9v.9h-.9z" fill="rgb(170, 201, 66)" fill-opacity="0.92"/><path d="M288.8 473.4h.9v.9h-.9zM288.7 472.5h.9v.9h-.9zM288.5 471.3h.9v.9h-.9zM287.4 475.6h.9v.9h-.9zM288.9 472.5h.9v.9h-.9zM288.0 470.6h.9v.9h-.9zM287.5 474.0h.9v.9h-.9zM288.3 471.1h.9v.9h-.9zM288.5 471.2h.9v.9h-.9zM287.8 471.9h.9v.9h-.9z" fill="rgb(210, 205, 47)" fill-opacity="0.92"/><path d="M287.2 470.5h.9v.9h-.9zM288.1 472.7h.9v.9h-.9zM287.3 470.3h.9v.9h-.9zM288.4 473.9h.9v.9h-.9z" fill="rgb(226, 191, 40)" fill-opacity="0.92"/>
<rect x="278.2" y="432.1" width="82.09999999999997" height="82.19999999999993" fill="none" stroke="#111" stroke-width="1.1"/>
<rect x="279.2" y="448.8" width="15.100000000000023" height="32.39999999999998" fill="none" stroke="#111" stroke-width="1.2"/>
<rect x="294.3" y="448.8" width="47.0" height="32.39999999999998" fill="none" stroke="#111" stroke-width="1.2"/>
<rect x="279.2" y="481.59999999999997" width="23.600000000000023" height="32.69999999999997" fill="none" stroke="#111" stroke-width="1.2"/>
<line x1="276.3" y1="474.64" x2="278.2" y2="474.64" stroke="#222" stroke-width="0.8" />
<line x1="276.3" y1="470.8" x2="278.2" y2="470.8" stroke="#222" stroke-width="0.8" />
<line x1="276.3" y1="468.08" x2="278.2" y2="468.08" stroke="#222" stroke-width="0.8" />
<line x1="276.3" y1="465.96" x2="278.2" y2="465.96" stroke="#222" stroke-width="0.8" />
<line x1="276.3" y1="464.24" x2="278.2" y2="464.24" stroke="#222" stroke-width="0.8" />
<line x1="276.3" y1="462.78" x2="278.2" y2="462.78" stroke="#222" stroke-width="0.8" />
<line x1="276.3" y1="461.51" x2="278.2" y2="461.51" stroke="#222" stroke-width="0.8" />
<line x1="276.3" y1="460.4" x2="278.2" y2="460.4" stroke="#222" stroke-width="0.8" />
<line x1="276.3" y1="453.44" x2="278.2" y2="453.44" stroke="#222" stroke-width="0.8" />
<line x1="276.3" y1="449.95" x2="278.2" y2="449.95" stroke="#222" stroke-width="0.8" />
<line x1="276.3" y1="447.48" x2="278.2" y2="447.48" stroke="#222" stroke-width="0.8" />
<line x1="276.3" y1="445.56" x2="278.2" y2="445.56" stroke="#222" stroke-width="0.8" />
<line x1="276.3" y1="443.99" x2="278.2" y2="443.99" stroke="#222" stroke-width="0.8" />
<line x1="276.3" y1="442.67" x2="278.2" y2="442.67" stroke="#222" stroke-width="0.8" />
<line x1="276.3" y1="441.52" x2="278.2" y2="441.52" stroke="#222" stroke-width="0.8" />
<line x1="276.3" y1="440.51" x2="278.2" y2="440.51" stroke="#222" stroke-width="0.8" />
<line x1="276.3" y1="433.64" x2="278.2" y2="433.64" stroke="#222" stroke-width="0.8" />
<line x1="276.3" y1="488.5" x2="278.2" y2="488.5" stroke="#222" stroke-width="0.8" />
<line x1="276.3" y1="502.4" x2="278.2" y2="502.4" stroke="#222" stroke-width="0.8" />
<line x1="276.3" y1="513.3" x2="278.2" y2="513.3" stroke="#222" stroke-width="0.8" />
<line x1="275.3" y1="439.6" x2="278.2" y2="439.6" stroke="#111" stroke-width="0.9" />
<line x1="275.3" y1="459.4" x2="278.2" y2="459.4" stroke="#111" stroke-width="0.9" />
<line x1="275.3" y1="481.2" x2="278.2" y2="481.2" stroke="#111" stroke-width="0.9" />
<line x1="275.3" y1="495.8" x2="278.2" y2="495.8" stroke="#111" stroke-width="0.9" />
<line x1="275.3" y1="509" x2="278.2" y2="509" stroke="#111" stroke-width="0.9" />
<rect x="276" y="493.6" width="2.2" height="3.4" fill="#111" stroke="none" stroke-width="0"/>
<text x="272.6" y="441.9" font-family="Liberation Sans" font-size="6.5" fill="#2a2a2a" text-anchor="end" >10<tspan font-size="4.4" dy="-2.7">5</tspan></text>
<text x="272.6" y="461.7" font-family="Liberation Sans" font-size="6.5" fill="#2a2a2a" text-anchor="end" >10<tspan font-size="4.4" dy="-2.7">4</tspan></text>
<text x="272.6" y="483.5" font-family="Liberation Sans" font-size="6.5" fill="#2a2a2a" text-anchor="end" >10<tspan font-size="4.4" dy="-2.7">3</tspan></text>
<text x="271.7" y="498" font-family="Liberation Sans" font-size="6.5" fill="#2a2a2a" text-anchor="end" >0</text>
<text x="272.6" y="511" font-family="Liberation Sans" font-size="6.5" fill="#2a2a2a" text-anchor="end" >-10<tspan font-size="4.4" dy="-2.7">3</tspan></text>
<line x1="278.7" y1="514.3" x2="278.7" y2="516.7" stroke="#111" stroke-width="0.9" />
<text transform="translate(281,522.5) rotate(-45)" font-family="Liberation Sans" font-size="6.7" fill="#222" text-anchor="end" >0</text>
<line x1="294.3" y1="514.3" x2="294.3" y2="516.7" stroke="#111" stroke-width="0.9" />
<text transform="translate(296.6,522.5) rotate(-45)" font-family="Liberation Sans" font-size="6.7" fill="#222" text-anchor="end" >50K</text>
<line x1="309.9" y1="514.3" x2="309.9" y2="516.7" stroke="#111" stroke-width="0.9" />
<text transform="translate(312.2,522.5) rotate(-45)" font-family="Liberation Sans" font-size="6.7" fill="#222" text-anchor="end" >100K</text>
<line x1="325.5" y1="514.3" x2="325.5" y2="516.7" stroke="#111" stroke-width="0.9" />
<text transform="translate(327.8,522.5) rotate(-45)" font-family="Liberation Sans" font-size="6.7" fill="#222" text-anchor="end" >150K</text>
<line x1="341.1" y1="514.3" x2="341.1" y2="516.7" stroke="#111" stroke-width="0.9" />
<text transform="translate(343.4,522.5) rotate(-45)" font-family="Liberation Sans" font-size="6.7" fill="#222" text-anchor="end" >200K</text>
<line x1="356.7" y1="514.3" x2="356.7" y2="516.7" stroke="#111" stroke-width="0.9" />
<text transform="translate(359,522.5) rotate(-45)" font-family="Liberation Sans" font-size="6.7" fill="#222" text-anchor="end" >250K</text>
<line x1="281.82" y1="514.3" x2="281.82" y2="515.9" stroke="#222" stroke-width="0.8" />
<line x1="284.94" y1="514.3" x2="284.94" y2="515.9" stroke="#222" stroke-width="0.8" />
<line x1="288.06" y1="514.3" x2="288.06" y2="515.9" stroke="#222" stroke-width="0.8" />
<line x1="291.18" y1="514.3" x2="291.18" y2="515.9" stroke="#222" stroke-width="0.8" />
<line x1="297.42" y1="514.3" x2="297.42" y2="515.9" stroke="#222" stroke-width="0.8" />
<line x1="300.54" y1="514.3" x2="300.54" y2="515.9" stroke="#222" stroke-width="0.8" />
<line x1="303.66" y1="514.3" x2="303.66" y2="515.9" stroke="#222" stroke-width="0.8" />
<line x1="306.78" y1="514.3" x2="306.78" y2="515.9" stroke="#222" stroke-width="0.8" />
<line x1="313.02" y1="514.3" x2="313.02" y2="515.9" stroke="#222" stroke-width="0.8" />
<line x1="316.14" y1="514.3" x2="316.14" y2="515.9" stroke="#222" stroke-width="0.8" />
<line x1="319.26" y1="514.3" x2="319.26" y2="515.9" stroke="#222" stroke-width="0.8" />
<line x1="322.38" y1="514.3" x2="322.38" y2="515.9" stroke="#222" stroke-width="0.8" />
<line x1="328.62" y1="514.3" x2="328.62" y2="515.9" stroke="#222" stroke-width="0.8" />
<line x1="331.74" y1="514.3" x2="331.74" y2="515.9" stroke="#222" stroke-width="0.8" />
<line x1="334.86" y1="514.3" x2="334.86" y2="515.9" stroke="#222" stroke-width="0.8" />
<line x1="337.98" y1="514.3" x2="337.98" y2="515.9" stroke="#222" stroke-width="0.8" />
<line x1="344.22" y1="514.3" x2="344.22" y2="515.9" stroke="#222" stroke-width="0.8" />
<line x1="347.34" y1="514.3" x2="347.34" y2="515.9" stroke="#222" stroke-width="0.8" />
<line x1="350.46" y1="514.3" x2="350.46" y2="515.9" stroke="#222" stroke-width="0.8" />
<line x1="353.58" y1="514.3" x2="353.58" y2="515.9" stroke="#222" stroke-width="0.8" />
<text x="281.4" y="439.9" font-family="Liberation Sans" font-size="6.6" fill="#1a1a1a" text-anchor="start" >G1</text>
<text x="281.4" y="447.1" font-family="Liberation Sans" font-size="6.6" fill="#1a1a1a" text-anchor="start" >62.6%</text>
<text x="314.4" y="439.9" font-family="Liberation Sans" font-size="6.6" fill="#1a1a1a" text-anchor="start" >S-G2-M</text>
<text x="314.4" y="447.1" font-family="Liberation Sans" font-size="6.6" fill="#1a1a1a" text-anchor="start" >13.5%</text>
<text x="304.7" y="493.4" font-family="Liberation Sans" font-size="6.6" fill="#1a1a1a" text-anchor="start" >G0</text>
<text x="304.7" y="501" font-family="Liberation Sans" font-size="6.6" fill="#1a1a1a" text-anchor="start" >19.7%</text>
<text transform="translate(33.4,360) rotate(-90)" font-family="Liberation Sans" font-size="9.4" fill="#222" text-anchor="middle" textLength="12.3" lengthAdjust="spacingAndGlyphs" >LKS</text>
<text transform="translate(33.6,473.3) rotate(-90)" font-family="Liberation Sans" font-size="9.4" fill="#222" text-anchor="middle" textLength="32.6" lengthAdjust="spacingAndGlyphs" >LKS-SLAM</text>
<line x1="20.2" y1="545.4" x2="20.2" y2="530" stroke="#111" stroke-width="1.0" />
<polygon points="20.2,526.5 18.1,531.3 22.3,531.3" fill="#111"/>
<line x1="20.2" y1="545.4" x2="35" y2="545.4" stroke="#111" stroke-width="1.0" />
<polygon points="38.9,545.4 34.1,543.3 34.1,547.5" fill="#111"/>
<text transform="translate(23.7,515.8) rotate(-90)" font-family="Liberation Sans" font-size="6.5" fill="#222" text-anchor="middle" >Ki67</text>
<text x="43.9" y="547.7" font-family="Liberation Sans" font-size="6.7" fill="#222" text-anchor="start" >7AAD</text>
<text x="376" y="297.4" font-family="Liberation Sans" font-size="12.5" fill="#000" text-anchor="start" font-weight="bold" >G</text>
<rect x="400.2" y="305.1" width="6.7" height="3.3" fill="#ab0f2e" stroke="none" stroke-width="0"/>
<text x="409.7" y="309" font-family="Liberation Sans" font-size="6.6" fill="#222" text-anchor="start" >S-G2-M</text>
<rect x="400.2" y="313.6" width="6.7" height="3.3" fill="#6db0e6" stroke="none" stroke-width="0"/>
<text x="409.7" y="317.5" font-family="Liberation Sans" font-size="6.6" fill="#222" text-anchor="start" >G1</text>
<rect x="400.2" y="322.1" width="6.7" height="3.3" fill="#67aa43" stroke="none" stroke-width="0"/>
<text x="409.7" y="326" font-family="Liberation Sans" font-size="6.6" fill="#222" text-anchor="start" >G0</text>
<text x="454.2" y="330.5" font-family="Liberation Sans" font-size="9.7" fill="#222" text-anchor="middle" textLength="31.8" lengthAdjust="spacingAndGlyphs" >% of cells</text>
<line x1="424.5" y1="348.2" x2="486" y2="348.2" stroke="#1a1a1a" stroke-width="1.3" />
<line x1="424.5" y1="346.2" x2="424.5" y2="348.2" stroke="#1a1a1a" stroke-width="0.9" />
<text x="424.7" y="341.9" font-family="Liberation Sans" font-size="6.8" fill="#222" text-anchor="middle" >0</text>
<line x1="454.15" y1="346.2" x2="454.15" y2="348.2" stroke="#1a1a1a" stroke-width="0.9" />
<text x="454.35" y="341.9" font-family="Liberation Sans" font-size="6.8" fill="#222" text-anchor="middle" >50</text>
<line x1="483.8" y1="346.2" x2="483.8" y2="348.2" stroke="#1a1a1a" stroke-width="0.9" />
<text x="484" y="341.9" font-family="Liberation Sans" font-size="6.8" fill="#222" text-anchor="middle" >100</text>
<line x1="424.5" y1="347.8" x2="424.5" y2="534" stroke="#1a1a1a" stroke-width="1.3" />
<rect x="425.1" y="352.25" width="11.44" height="4.5" fill="#67aa43" stroke="none" stroke-width="0"/>
<rect x="435.94" y="352.25" width="42.7" height="4.5" fill="#6db0e6" stroke="none" stroke-width="0"/>
<rect x="478.64" y="352.25" width="3.38" height="4.5" fill="#ab0f2e" stroke="none" stroke-width="0"/>
<polygon points="434.04,354.50 436.14,353.20 436.14,355.80" fill="#111"/>
<polygon points="476.74,354.50 478.84,353.20 478.84,355.80" fill="#111"/>
<polygon points="480.32,354.50 482.22,353.30 482.22,355.70" fill="#111"/>
<line x1="482.02" y1="354.5" x2="484.42" y2="354.5" stroke="#1a1a1a" stroke-width="0.9" />
<line x1="484.42" y1="353.2" x2="484.42" y2="355.8" stroke="#1a1a1a" stroke-width="0.9" />
<line x1="421.3" y1="354.5" x2="424.5" y2="354.5" stroke="#1a1a1a" stroke-width="1.1" />
<text x="418.8" y="356" font-family="Liberation Sans" font-size="6.7" fill="#222" text-anchor="end" font-style="italic" >Nras<tspan font-size="4.2" dy="-3.6" fill="#3a3a3a">WT</tspan></text>
<rect x="425.1" y="362" width="8.12" height="4.5" fill="#67aa43" stroke="none" stroke-width="0"/>
<rect x="432.62" y="362" width="38.25" height="4.5" fill="#6db0e6" stroke="none" stroke-width="0"/>
<rect x="470.87" y="362" width="10.73" height="4.5" fill="#ab0f2e" stroke="none" stroke-width="0"/>
<polygon points="430.72,364.25 432.82,362.95 432.82,365.55" fill="#111"/>
<polygon points="468.97,364.25 471.07,362.95 471.07,365.55" fill="#111"/>
<polygon points="479.91,364.25 481.81,363.05 481.81,365.45" fill="#111"/>
<line x1="481.61" y1="364.25" x2="484.01" y2="364.25" stroke="#1a1a1a" stroke-width="0.9" />
<line x1="484.01" y1="362.95" x2="484.01" y2="365.55" stroke="#1a1a1a" stroke-width="0.9" />
<line x1="421.3" y1="364.25" x2="424.5" y2="364.25" stroke="#1a1a1a" stroke-width="1.1" />
<text x="418.8" y="365.75" font-family="Liberation Sans" font-size="6.7" fill="#222" text-anchor="end" font-style="italic" >Nras<tspan font-size="4.2" dy="-3.6" fill="#3a3a3a">G12D</tspan></text>
<rect x="425.1" y="371.75" width="11.86" height="4.5" fill="#67aa43" stroke="none" stroke-width="0"/>
<rect x="436.36" y="371.75" width="40.86" height="4.5" fill="#6db0e6" stroke="none" stroke-width="0"/>
<rect x="477.22" y="371.75" width="4.8" height="4.5" fill="#ab0f2e" stroke="none" stroke-width="0"/>
<polygon points="434.46,374.00 436.56,372.70 436.56,375.30" fill="#111"/>
<polygon points="475.32,374.00 477.42,372.70 477.42,375.30" fill="#111"/>
<polygon points="480.32,374.00 482.22,372.80 482.22,375.20" fill="#111"/>
<line x1="482.02" y1="374" x2="484.42" y2="374" stroke="#1a1a1a" stroke-width="0.9" />
<line x1="484.42" y1="372.7" x2="484.42" y2="375.3" stroke="#1a1a1a" stroke-width="0.9" />
<line x1="421.3" y1="374" x2="424.5" y2="374" stroke="#1a1a1a" stroke-width="1.1" />
<text x="418.8" y="375.5" font-family="Liberation Sans" font-size="6.7" fill="#222" text-anchor="end" font-style="italic" >Nras<tspan font-size="4.2" dy="-3.6" fill="#3a3a3a">G12D,C181S</tspan></text>
<polyline points="484.6,350.3 486.6,350.3 486.6,377.2 484.6,377.2" fill="none" stroke="#333" stroke-width="0.9"/>
<rect x="425.1" y="390.55" width="10.73" height="4.5" fill="#67aa43" stroke="none" stroke-width="0"/>
<rect x="435.23" y="390.55" width="37.77" height="4.5" fill="#6db0e6" stroke="none" stroke-width="0"/>
<rect x="473.01" y="390.55" width="8.12" height="4.5" fill="#ab0f2e" stroke="none" stroke-width="0"/>
<polygon points="433.33,392.80 435.43,391.50 435.43,394.10" fill="#111"/>
<polygon points="471.11,392.80 473.21,391.50 473.21,394.10" fill="#111"/>
<polygon points="479.43,392.80 481.33,391.60 481.33,394.00" fill="#111"/>
<line x1="481.13" y1="392.8" x2="483.53" y2="392.8" stroke="#1a1a1a" stroke-width="0.9" />
<line x1="483.53" y1="391.5" x2="483.53" y2="394.1" stroke="#1a1a1a" stroke-width="0.9" />
<line x1="421.3" y1="392.8" x2="424.5" y2="392.8" stroke="#1a1a1a" stroke-width="1.1" />
<text x="418.8" y="394.3" font-family="Liberation Sans" font-size="6.7" fill="#222" text-anchor="end" font-style="italic" >Nras<tspan font-size="4.2" dy="-3.6" fill="#3a3a3a">WT</tspan></text>
<rect x="425.1" y="400.3" width="7.71" height="4.5" fill="#67aa43" stroke="none" stroke-width="0"/>
<rect x="432.21" y="400.3" width="32.61" height="4.5" fill="#6db0e6" stroke="none" stroke-width="0"/>
<rect x="464.82" y="400.3" width="15.89" height="4.5" fill="#ab0f2e" stroke="none" stroke-width="0"/>
<polygon points="430.31,402.55 432.41,401.25 432.41,403.85" fill="#111"/>
<polygon points="462.92,402.55 465.02,401.25 465.02,403.85" fill="#111"/>
<polygon points="479.02,402.55 480.92,401.35 480.92,403.75" fill="#111"/>
<line x1="480.72" y1="402.55" x2="483.12" y2="402.55" stroke="#1a1a1a" stroke-width="0.9" />
<line x1="483.12" y1="401.25" x2="483.12" y2="403.85" stroke="#1a1a1a" stroke-width="0.9" />
<line x1="421.3" y1="402.55" x2="424.5" y2="402.55" stroke="#1a1a1a" stroke-width="1.1" />
<text x="418.8" y="404.05" font-family="Liberation Sans" font-size="6.7" fill="#222" text-anchor="end" font-style="italic" >Nras<tspan font-size="4.2" dy="-3.6" fill="#3a3a3a">G12D</tspan></text>
<rect x="425.1" y="410.05" width="10.73" height="4.5" fill="#67aa43" stroke="none" stroke-width="0"/>
<rect x="435.23" y="410.05" width="35.88" height="4.5" fill="#6db0e6" stroke="none" stroke-width="0"/>
<rect x="471.11" y="410.05" width="10.02" height="4.5" fill="#ab0f2e" stroke="none" stroke-width="0"/>
<polygon points="433.33,412.30 435.43,411.00 435.43,413.60" fill="#111"/>
<polygon points="469.21,412.30 471.31,411.00 471.31,413.60" fill="#111"/>
<polygon points="479.43,412.30 481.33,411.10 481.33,413.50" fill="#111"/>
<line x1="481.13" y1="412.3" x2="483.53" y2="412.3" stroke="#1a1a1a" stroke-width="0.9" />
<line x1="483.53" y1="411" x2="483.53" y2="413.6" stroke="#1a1a1a" stroke-width="0.9" />
<line x1="421.3" y1="412.3" x2="424.5" y2="412.3" stroke="#1a1a1a" stroke-width="1.1" />
<text x="418.8" y="413.8" font-family="Liberation Sans" font-size="6.7" fill="#222" text-anchor="end" font-style="italic" >Nras<tspan font-size="4.2" dy="-3.6" fill="#3a3a3a">G12D,C181S</tspan></text>
<polyline points="484.6,388.6 486.6,388.6 486.6,415.5 484.6,415.5" fill="none" stroke="#333" stroke-width="0.9"/>
<rect x="425.1" y="429.05" width="6.82" height="4.5" fill="#67aa43" stroke="none" stroke-width="0"/>
<rect x="431.32" y="429.05" width="29.47" height="4.5" fill="#6db0e6" stroke="none" stroke-width="0"/>
<rect x="460.79" y="429.05" width="18.98" height="4.5" fill="#ab0f2e" stroke="none" stroke-width="0"/>
<polygon points="429.42,431.30 431.52,430.00 431.52,432.60" fill="#111"/>
<polygon points="458.89,431.30 460.99,430.00 460.99,432.60" fill="#111"/>
<polygon points="478.07,431.30 479.97,430.10 479.97,432.50" fill="#111"/>
<line x1="479.77" y1="431.3" x2="482.17" y2="431.3" stroke="#1a1a1a" stroke-width="0.9" />
<line x1="482.17" y1="430" x2="482.17" y2="432.6" stroke="#1a1a1a" stroke-width="0.9" />
<line x1="421.3" y1="431.3" x2="424.5" y2="431.3" stroke="#1a1a1a" stroke-width="1.1" />
<text x="418.8" y="432.8" font-family="Liberation Sans" font-size="6.7" fill="#222" text-anchor="end" font-style="italic" >Nras<tspan font-size="4.2" dy="-3.6" fill="#3a3a3a">WT</tspan></text>
<rect x="425.1" y="438.8" width="6.82" height="4.5" fill="#67aa43" stroke="none" stroke-width="0"/>
<rect x="431.32" y="438.8" width="25.38" height="4.5" fill="#6db0e6" stroke="none" stroke-width="0"/>
<rect x="456.7" y="438.8" width="24.43" height="4.5" fill="#ab0f2e" stroke="none" stroke-width="0"/>
<polygon points="429.42,441.05 431.52,439.75 431.52,442.35" fill="#111"/>
<polygon points="454.80,441.05 456.90,439.75 456.90,442.35" fill="#111"/>
<polygon points="479.43,441.05 481.33,439.85 481.33,442.25" fill="#111"/>
<line x1="481.13" y1="441.05" x2="483.53" y2="441.05" stroke="#1a1a1a" stroke-width="0.9" />
<line x1="483.53" y1="439.75" x2="483.53" y2="442.35" stroke="#1a1a1a" stroke-width="0.9" />
<line x1="421.3" y1="441.05" x2="424.5" y2="441.05" stroke="#1a1a1a" stroke-width="1.1" />
<text x="418.8" y="442.55" font-family="Liberation Sans" font-size="6.7" fill="#222" text-anchor="end" font-style="italic" >Nras<tspan font-size="4.2" dy="-3.6" fill="#3a3a3a">G12D</tspan></text>
<rect x="425.1" y="448.55" width="6.82" height="4.5" fill="#67aa43" stroke="none" stroke-width="0"/>
<rect x="431.32" y="448.55" width="27.87" height="4.5" fill="#6db0e6" stroke="none" stroke-width="0"/>
<rect x="459.19" y="448.55" width="21.17" height="4.5" fill="#ab0f2e" stroke="none" stroke-width="0"/>
<polygon points="429.42,450.80 431.52,449.50 431.52,452.10" fill="#111"/>
<polygon points="457.29,450.80 459.39,449.50 459.39,452.10" fill="#111"/>
<polygon points="478.66,450.80 480.56,449.60 480.56,452.00" fill="#111"/>
<line x1="480.36" y1="450.8" x2="482.76" y2="450.8" stroke="#1a1a1a" stroke-width="0.9" />
<line x1="482.76" y1="449.5" x2="482.76" y2="452.1" stroke="#1a1a1a" stroke-width="0.9" />
<line x1="421.3" y1="450.8" x2="424.5" y2="450.8" stroke="#1a1a1a" stroke-width="1.1" />
<text x="418.8" y="452.3" font-family="Liberation Sans" font-size="6.7" fill="#222" text-anchor="end" font-style="italic" >Nras<tspan font-size="4.2" dy="-3.6" fill="#3a3a3a">G12D,C181S</tspan></text>
<polyline points="484.6,427.1 486.6,427.1 486.6,454 484.6,454" fill="none" stroke="#333" stroke-width="0.9"/>
<rect x="425.1" y="469.05" width="12.93" height="4.5" fill="#67aa43" stroke="none" stroke-width="0"/>
<rect x="437.43" y="469.05" width="38.72" height="4.5" fill="#6db0e6" stroke="none" stroke-width="0"/>
<rect x="476.15" y="469.05" width="5.57" height="4.5" fill="#ab0f2e" stroke="none" stroke-width="0"/>
<polygon points="435.53,471.30 437.63,470.00 437.63,472.60" fill="#111"/>
<polygon points="474.25,471.30 476.35,470.00 476.35,472.60" fill="#111"/>
<polygon points="480.02,471.30 481.92,470.10 481.92,472.50" fill="#111"/>
<line x1="481.72" y1="471.3" x2="484.12" y2="471.3" stroke="#1a1a1a" stroke-width="0.9" />
<line x1="484.12" y1="470" x2="484.12" y2="472.6" stroke="#1a1a1a" stroke-width="0.9" />
<line x1="421.3" y1="471.3" x2="424.5" y2="471.3" stroke="#1a1a1a" stroke-width="1.1" />
<text x="418.8" y="472.8" font-family="Liberation Sans" font-size="6.7" fill="#222" text-anchor="end" font-style="italic" >Nras<tspan font-size="4.2" dy="-3.6" fill="#3a3a3a">WT</tspan></text>
<rect x="425.1" y="478.8" width="9.31" height="4.5" fill="#67aa43" stroke="none" stroke-width="0"/>
<rect x="433.81" y="478.8" width="18.38" height="4.5" fill="#6db0e6" stroke="none" stroke-width="0"/>
<rect x="452.19" y="478.8" width="24.49" height="4.5" fill="#ab0f2e" stroke="none" stroke-width="0"/>
<polygon points="431.91,481.05 434.01,479.75 434.01,482.35" fill="#111"/>
<polygon points="450.29,481.05 452.39,479.75 452.39,482.35" fill="#111"/>
<polygon points="474.98,481.05 476.88,479.85 476.88,482.25" fill="#111"/>
<line x1="476.68" y1="481.05" x2="479.08" y2="481.05" stroke="#1a1a1a" stroke-width="0.9" />
<line x1="479.08" y1="479.75" x2="479.08" y2="482.35" stroke="#1a1a1a" stroke-width="0.9" />
<line x1="421.3" y1="481.05" x2="424.5" y2="481.05" stroke="#1a1a1a" stroke-width="1.1" />
<text x="418.8" y="482.55" font-family="Liberation Sans" font-size="6.7" fill="#222" text-anchor="end" font-style="italic" >Nras<tspan font-size="4.2" dy="-3.6" fill="#3a3a3a">G12D</tspan></text>
<rect x="425.1" y="488.55" width="13.4" height="4.5" fill="#67aa43" stroke="none" stroke-width="0"/>
<rect x="437.9" y="488.55" width="35.22" height="4.5" fill="#6db0e6" stroke="none" stroke-width="0"/>
<rect x="473.13" y="488.55" width="8.01" height="4.5" fill="#ab0f2e" stroke="none" stroke-width="0"/>
<polygon points="436.00,490.80 438.10,489.50 438.10,492.10" fill="#111"/>
<polygon points="471.23,490.80 473.33,489.50 473.33,492.10" fill="#111"/>
<polygon points="479.43,490.80 481.33,489.60 481.33,492.00" fill="#111"/>
<line x1="481.13" y1="490.8" x2="483.53" y2="490.8" stroke="#1a1a1a" stroke-width="0.9" />
<line x1="483.53" y1="489.5" x2="483.53" y2="492.1" stroke="#1a1a1a" stroke-width="0.9" />
<line x1="421.3" y1="490.8" x2="424.5" y2="490.8" stroke="#1a1a1a" stroke-width="1.1" />
<text x="418.8" y="492.3" font-family="Liberation Sans" font-size="6.7" fill="#222" text-anchor="end" font-style="italic" >Nras<tspan font-size="4.2" dy="-3.6" fill="#3a3a3a">G12D,C181S</tspan></text>
<polyline points="484.6,467.1 486.6,467.1 486.6,494 484.6,494" fill="none" stroke="#333" stroke-width="0.9"/>
<rect x="425.1" y="507.55" width="10.26" height="4.5" fill="#67aa43" stroke="none" stroke-width="0"/>
<rect x="434.76" y="507.55" width="41.81" height="4.5" fill="#6db0e6" stroke="none" stroke-width="0"/>
<rect x="476.57" y="507.55" width="5.16" height="4.5" fill="#ab0f2e" stroke="none" stroke-width="0"/>
<polygon points="432.86,509.80 434.96,508.50 434.96,511.10" fill="#111"/>
<polygon points="474.67,509.80 476.77,508.50 476.77,511.10" fill="#111"/>
<polygon points="480.02,509.80 481.92,508.60 481.92,511.00" fill="#111"/>
<line x1="481.72" y1="509.8" x2="484.12" y2="509.8" stroke="#1a1a1a" stroke-width="0.9" />
<line x1="484.12" y1="508.5" x2="484.12" y2="511.1" stroke="#1a1a1a" stroke-width="0.9" />
<line x1="421.3" y1="509.8" x2="424.5" y2="509.8" stroke="#1a1a1a" stroke-width="1.1" />
<text x="418.8" y="511.3" font-family="Liberation Sans" font-size="6.7" fill="#222" text-anchor="end" font-style="italic" >Nras<tspan font-size="4.2" dy="-3.6" fill="#3a3a3a">WT</tspan></text>
<rect x="425.1" y="517.3" width="6.17" height="4.5" fill="#67aa43" stroke="none" stroke-width="0"/>
<rect x="430.67" y="517.3" width="23.54" height="4.5" fill="#6db0e6" stroke="none" stroke-width="0"/>
<rect x="454.21" y="517.3" width="24.91" height="4.5" fill="#ab0f2e" stroke="none" stroke-width="0"/>
<polygon points="428.77,519.55 430.87,518.25 430.87,520.85" fill="#111"/>
<polygon points="452.31,519.55 454.41,518.25 454.41,520.85" fill="#111"/>
<polygon points="477.42,519.55 479.32,518.35 479.32,520.75" fill="#111"/>
<line x1="479.12" y1="519.55" x2="481.52" y2="519.55" stroke="#1a1a1a" stroke-width="0.9" />
<line x1="481.52" y1="518.25" x2="481.52" y2="520.85" stroke="#1a1a1a" stroke-width="0.9" />
<line x1="421.3" y1="519.55" x2="424.5" y2="519.55" stroke="#1a1a1a" stroke-width="1.1" />
<text x="418.8" y="521.05" font-family="Liberation Sans" font-size="6.7" fill="#222" text-anchor="end" font-style="italic" >Nras<tspan font-size="4.2" dy="-3.6" fill="#3a3a3a">G12D</tspan></text>
<rect x="425.1" y="527.05" width="10.26" height="4.5" fill="#67aa43" stroke="none" stroke-width="0"/>
<rect x="434.76" y="527.05" width="37.71" height="4.5" fill="#6db0e6" stroke="none" stroke-width="0"/>
<rect x="472.47" y="527.05" width="8.24" height="4.5" fill="#ab0f2e" stroke="none" stroke-width="0"/>
<polygon points="432.86,529.30 434.96,528.00 434.96,530.60" fill="#111"/>
<polygon points="470.57,529.30 472.67,528.00 472.67,530.60" fill="#111"/>
<polygon points="479.02,529.30 480.92,528.10 480.92,530.50" fill="#111"/>
<line x1="480.72" y1="529.3" x2="483.12" y2="529.3" stroke="#1a1a1a" stroke-width="0.9" />
<line x1="483.12" y1="528" x2="483.12" y2="530.6" stroke="#1a1a1a" stroke-width="0.9" />
<line x1="421.3" y1="529.3" x2="424.5" y2="529.3" stroke="#1a1a1a" stroke-width="1.1" />
<text x="418.8" y="530.8" font-family="Liberation Sans" font-size="6.7" fill="#222" text-anchor="end" font-style="italic" >Nras<tspan font-size="4.2" dy="-3.6" fill="#3a3a3a">G12D,C181S</tspan></text>
<polyline points="484.6,505.6 486.6,505.6 486.6,532.5 484.6,532.5" fill="none" stroke="#333" stroke-width="0.9"/>
<text transform="translate(496.4,364.2) rotate(-90)" font-family="Liberation Sans" font-size="6.7" fill="#222" text-anchor="middle" >LKS</text>
<text transform="translate(495.9,404.5) rotate(-90)" font-family="Liberation Sans" font-size="6.7" fill="#222" text-anchor="middle" >CD48<tspan font-size="4" dy="-2.4">-</tspan></text>
<text transform="translate(503.9,403) rotate(-90)" font-family="Liberation Sans" font-size="6.7" fill="#222" text-anchor="middle" >CD150<tspan font-size="4" dy="-2.4">-</tspan></text>
<text transform="translate(511.6,403.2) rotate(-90)" font-family="Liberation Sans" font-size="6.7" fill="#222" text-anchor="middle" >LKS</text>
<text transform="translate(495.9,443) rotate(-90)" font-family="Liberation Sans" font-size="6.7" fill="#222" text-anchor="middle" >CD48<tspan font-size="4" dy="-2.4">+</tspan></text>
<text transform="translate(503.9,441.5) rotate(-90)" font-family="Liberation Sans" font-size="6.7" fill="#222" text-anchor="middle" >CD150<tspan font-size="4" dy="-2.4">+</tspan></text>
<text transform="translate(511.6,441.5) rotate(-90)" font-family="Liberation Sans" font-size="6.7" fill="#222" text-anchor="middle" >LKS</text>
<text transform="translate(495.6,481.2) rotate(-90)" font-family="Liberation Sans" font-size="6.7" fill="#222" text-anchor="middle" >MPP</text>
<text transform="translate(495.8,519.4) rotate(-90)" font-family="Liberation Sans" font-size="6.7" fill="#222" text-anchor="middle" >LKS</text>
<text transform="translate(503.7,519.2) rotate(-90)" font-family="Liberation Sans" font-size="6.7" fill="#222" text-anchor="middle" >SLAM</text>
<line x1="448.1" y1="470.3" x2="448.1" y2="491.8" stroke="#1a1a1a" stroke-width="1.1" />
<polyline points="477.87,471.3 464.23,481.05 477.28,490.8" fill="none" stroke="#1a1a1a" stroke-width="1.2"/>
<circle cx="445.8" cy="465.8" r="0.75" fill="#161616"/>
<circle cx="448.4" cy="465.8" r="0.75" fill="#161616"/>
<circle cx="451" cy="465.8" r="0.75" fill="#161616"/>
<circle cx="474.4" cy="465.8" r="0.75" fill="#161616"/>
<circle cx="477" cy="465.8" r="0.75" fill="#161616"/>
<circle cx="479.6" cy="465.8" r="0.75" fill="#161616"/>
<circle cx="445.8" cy="497.2" r="0.75" fill="#161616"/>
<circle cx="448.4" cy="497.2" r="0.75" fill="#161616"/>
<circle cx="451" cy="497.2" r="0.75" fill="#161616"/>
<circle cx="472.2" cy="497.2" r="0.75" fill="#161616"/>
<circle cx="474.8" cy="497.2" r="0.75" fill="#161616"/>
<circle cx="477.4" cy="497.2" r="0.75" fill="#161616"/>
<line x1="451.3" y1="508.8" x2="451.3" y2="530.3" stroke="#1a1a1a" stroke-width="1.1" />
<polyline points="477.87,509.8 466.9,519.55 477.28,529.3" fill="none" stroke="#1a1a1a" stroke-width="1.2"/>
<circle cx="448.7" cy="504.8" r="0.75" fill="#161616"/>
<circle cx="451.3" cy="504.8" r="0.75" fill="#161616"/>
<circle cx="453.9" cy="504.8" r="0.75" fill="#161616"/>
<circle cx="473" cy="504.8" r="0.75" fill="#161616"/>
<circle cx="475.6" cy="504.8" r="0.75" fill="#161616"/>
<circle cx="478.2" cy="504.8" r="0.75" fill="#161616"/>
<circle cx="450" cy="535.9" r="0.75" fill="#161616"/>
<circle cx="452.6" cy="535.9" r="0.75" fill="#161616"/>
<circle cx="474.3" cy="535.9" r="0.75" fill="#161616"/>
<circle cx="476.9" cy="535.9" r="0.75" fill="#161616"/>
<rect x="0.5" y="0.5" width="519" height="556" fill="none" stroke="#000" stroke-width="1.25"/>
</svg>
</body></html>
